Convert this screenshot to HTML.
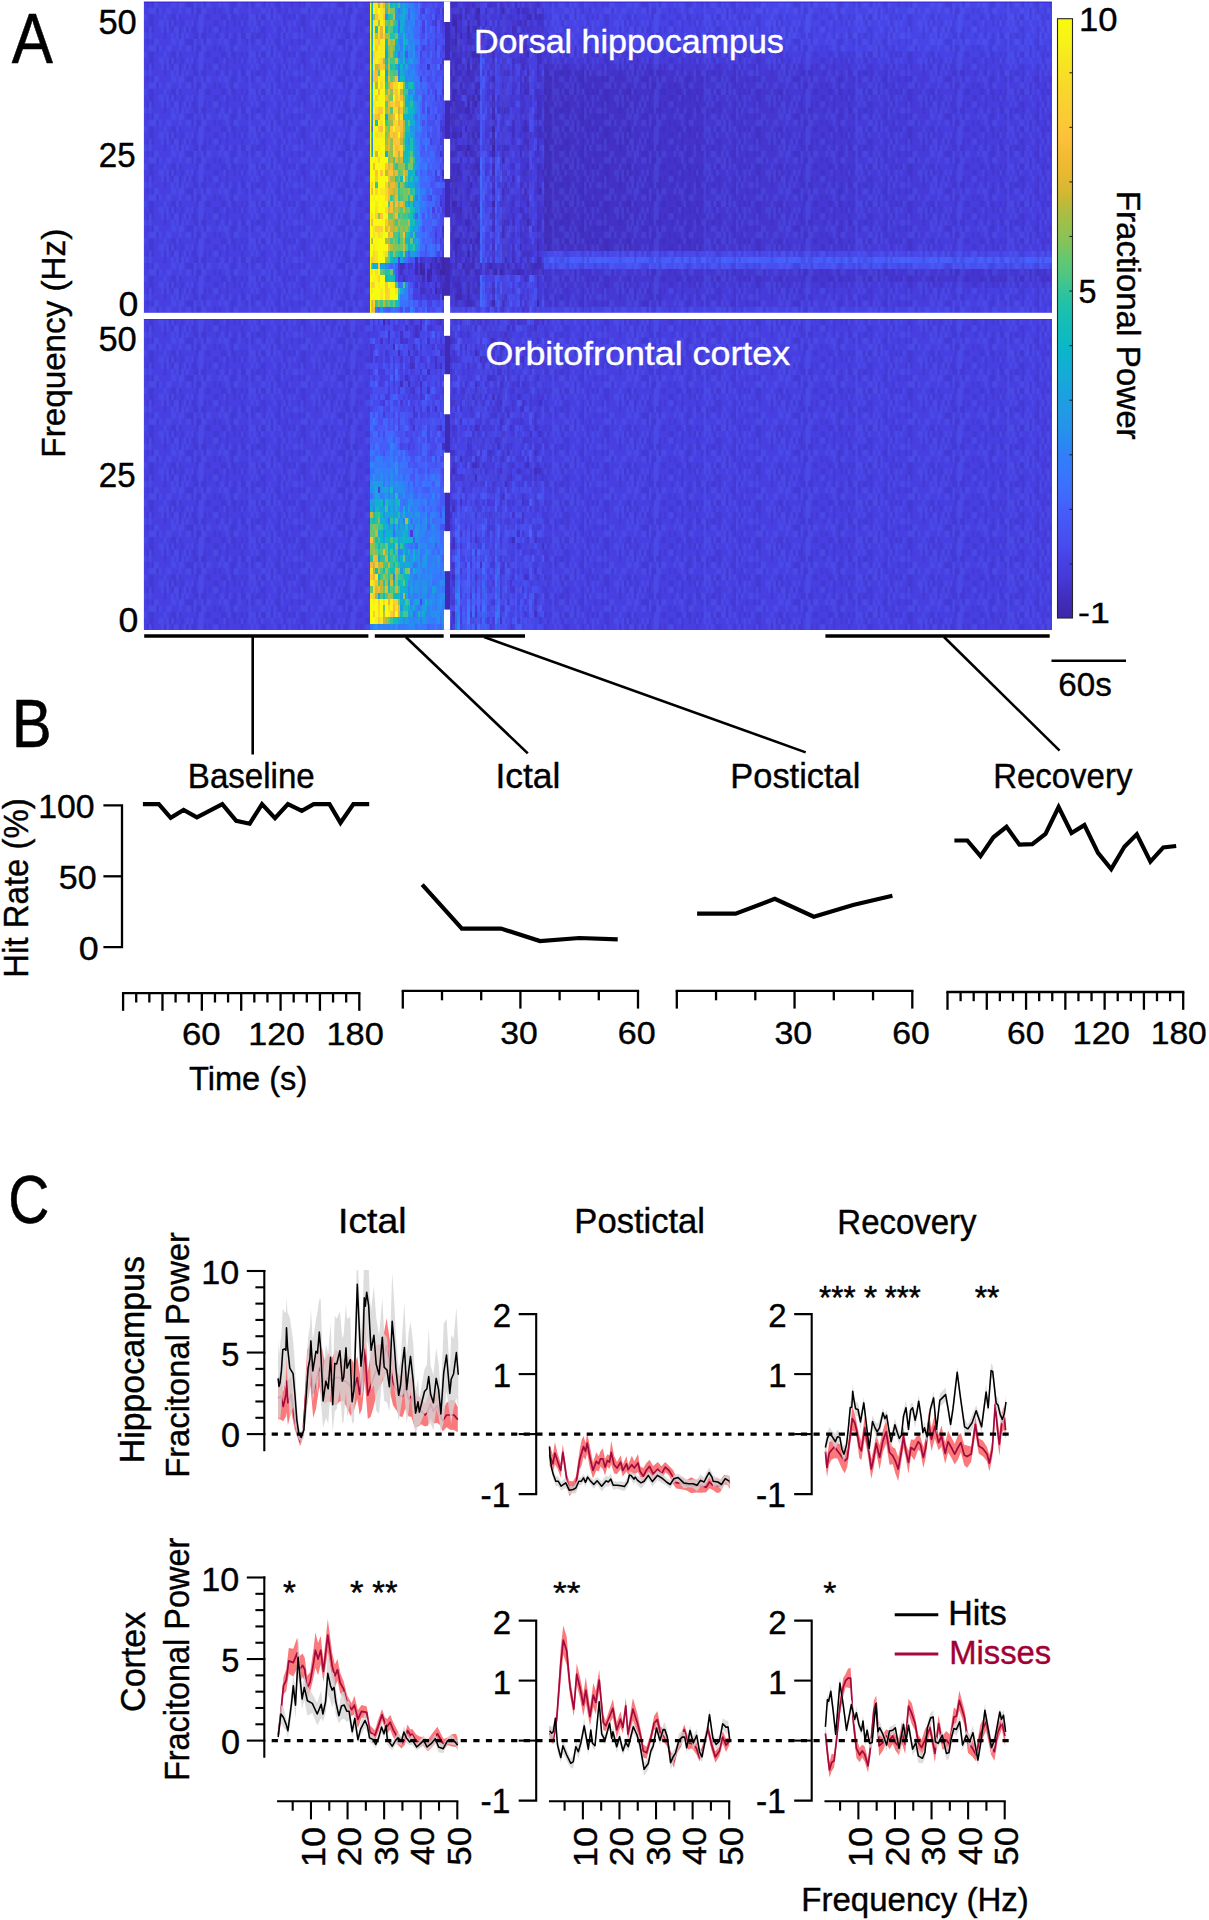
<!DOCTYPE html><html><head><meta charset="utf-8"><title>Figure</title><style>html,body{margin:0;padding:0;background:#fff;width:1209px;height:1920px;overflow:hidden}svg{display:block;font-family:"Liberation Sans",sans-serif}</style></head><body><svg width="1209" height="1920" viewBox="0 0 1209 1920" font-family="Liberation Sans, sans-serif" shape-rendering="auto"><rect x="143.9" y="1.5" width="907.9" height="628.4" fill="#473ee1"/>
<g shape-rendering="crispEdges">
<path fill="#3e26a8" d="M454.82 45.08h2.49v6.23h-2.49zM492.14 138.47h2.49v6.23h-2.49zM492.14 144.7h2.49v6.23h-2.49zM467.26 250.54h2.49v6.23h-2.49zM442.39 256.77h2.49v6.23h-2.49zM420 262.99h2.49v6.23h-2.49zM442.39 262.99h2.49v6.23h-2.49zM420 269.22h4.97v6.23h-4.97zM429.95 269.22h2.49v6.23h-2.49zM439.9 269.22h4.97v6.23h-4.97zM427.46 275.44h2.49v6.23h-2.49zM442.39 294.12h2.49v6.23h-2.49z"/>
<path fill="#3f28ae" d="M477.21 7.73h2.49v6.23h-2.49zM474.72 57.53h2.49v6.23h-2.49zM469.75 94.89h2.49v6.23h-2.49zM452.34 119.79h2.49v6.23h-2.49zM492.14 126.02h2.49v6.23h-2.49zM467.26 144.7h2.49v6.23h-2.49zM492.14 200.73h2.49v6.23h-2.49zM526.96 219.41h2.49v6.23h-2.49zM452.34 231.86h2.49v6.23h-2.49zM529.45 262.99h2.49v6.23h-2.49zM427.46 269.22h2.49v6.23h-2.49zM492.14 269.22h4.97v6.23h-4.97zM499.6 269.22h2.49v6.23h-2.49zM434.93 287.9h2.49v6.23h-2.49z"/>
<path fill="#402ab4" d="M444.88 1.5h4.97v6.23h-4.97zM444.88 7.73h4.97v6.23h-4.97zM444.88 13.95h4.97v6.23h-4.97zM459.8 13.95h2.49v6.23h-2.49zM444.88 20.18h4.97v6.23h-4.97zM452.34 20.18h4.97v6.23h-4.97zM444.88 26.4h4.97v6.23h-4.97zM454.82 26.4h2.49v6.23h-2.49zM467.26 26.4h2.49v6.23h-2.49zM444.88 32.63h4.97v6.23h-4.97zM459.8 32.63h2.49v6.23h-2.49zM474.72 32.63h2.49v6.23h-2.49zM444.88 38.86h4.97v6.23h-4.97zM444.88 45.08h4.97v6.23h-4.97zM452.34 45.08h2.49v6.23h-2.49zM444.88 51.31h4.97v6.23h-4.97zM472.24 51.31h2.49v6.23h-2.49zM444.88 57.53h4.97v6.23h-4.97zM444.88 63.76h4.97v6.23h-4.97zM467.26 63.76h2.49v6.23h-2.49zM444.88 69.99h7.46v6.23h-7.46zM444.88 76.21h4.97v6.23h-4.97zM444.88 82.44h4.97v6.23h-4.97zM444.88 88.66h4.97v6.23h-4.97zM444.88 94.89h4.97v6.23h-4.97zM492.14 94.89h2.49v6.23h-2.49zM444.88 101.12h4.97v6.23h-4.97zM467.26 101.12h2.49v6.23h-2.49zM474.72 101.12h2.49v6.23h-2.49zM444.88 107.34h4.97v6.23h-4.97zM464.77 107.34h2.49v6.23h-2.49zM444.88 113.57h4.97v6.23h-4.97zM457.31 113.57h2.49v6.23h-2.49zM444.88 119.79h4.97v6.23h-4.97zM536.91 119.79h2.49v6.23h-2.49zM444.88 126.02h4.97v6.23h-4.97zM464.77 126.02h2.49v6.23h-2.49zM444.88 132.25h4.97v6.23h-4.97zM459.8 132.25h2.49v6.23h-2.49zM492.14 132.25h2.49v6.23h-2.49zM444.88 138.47h4.97v6.23h-4.97zM444.88 144.7h4.97v6.23h-4.97zM502.09 144.7h2.49v6.23h-2.49zM444.88 150.92h4.97v6.23h-4.97zM464.77 150.92h2.49v6.23h-2.49zM474.72 150.92h2.49v6.23h-2.49zM444.88 157.15h4.97v6.23h-4.97zM444.88 163.38h4.97v6.23h-4.97zM444.88 169.6h4.97v6.23h-4.97zM469.75 169.6h2.49v6.23h-2.49zM444.88 175.83h4.97v6.23h-4.97zM452.34 175.83h2.49v6.23h-2.49zM444.88 182.05h4.97v6.23h-4.97zM469.75 182.05h2.49v6.23h-2.49zM444.88 188.28h4.97v6.23h-4.97zM539.4 188.28h2.49v6.23h-2.49zM444.88 194.51h4.97v6.23h-4.97zM444.88 200.73h4.97v6.23h-4.97zM452.34 200.73h2.49v6.23h-2.49zM444.88 206.96h4.97v6.23h-4.97zM459.8 206.96h2.49v6.23h-2.49zM444.88 213.18h4.97v6.23h-4.97zM492.14 213.18h2.49v6.23h-2.49zM444.88 219.41h4.97v6.23h-4.97zM464.77 219.41h2.49v6.23h-2.49zM444.88 225.64h4.97v6.23h-4.97zM444.88 231.86h4.97v6.23h-4.97zM477.21 231.86h2.49v6.23h-2.49zM444.88 238.09h4.97v6.23h-4.97zM457.31 238.09h2.49v6.23h-2.49zM469.75 238.09h2.49v6.23h-2.49zM444.88 244.31h4.97v6.23h-4.97zM444.88 250.54h4.97v6.23h-4.97zM434.93 256.77h2.49v6.23h-2.49zM444.88 256.77h4.97v6.23h-4.97zM415.03 262.99h2.49v6.23h-2.49zM429.95 262.99h2.49v6.23h-2.49zM437.41 262.99h2.49v6.23h-2.49zM444.88 262.99h4.97v6.23h-4.97zM462.29 262.99h2.49v6.23h-2.49zM489.65 262.99h2.49v6.23h-2.49zM541.88 262.99h2.49v6.23h-2.49zM415.03 269.22h2.49v6.23h-2.49zM444.88 269.22h4.97v6.23h-4.97zM474.72 269.22h2.49v6.23h-2.49zM536.91 269.22h2.49v6.23h-2.49zM444.88 275.44h4.97v6.23h-4.97zM444.88 281.67h4.97v6.23h-4.97zM442.39 287.9h7.46v6.23h-7.46zM477.21 287.9h2.49v6.23h-2.49zM492.14 287.9h2.49v6.23h-2.49zM444.88 294.12h4.97v6.23h-4.97zM454.82 294.12h7.46v6.23h-7.46zM444.88 300.35h4.97v6.23h-4.97zM536.91 300.35h2.49v6.23h-2.49zM444.88 306.57h4.97v6.23h-4.97z"/>
<path fill="#412dba" d="M464.77 7.73h2.49v6.23h-2.49zM529.45 13.95h2.49v6.23h-2.49zM474.72 26.4h4.97v6.23h-4.97zM454.82 32.63h2.49v6.23h-2.49zM467.26 32.63h2.49v6.23h-2.49zM519.5 32.63h2.49v6.23h-2.49zM454.82 38.86h2.49v6.23h-2.49zM469.75 45.08h2.49v6.23h-2.49zM477.21 51.31h2.49v6.23h-2.49zM457.31 57.53h2.49v6.23h-2.49zM467.26 57.53h2.49v6.23h-2.49zM454.82 63.76h2.49v6.23h-2.49zM467.26 69.99h2.49v6.23h-2.49zM526.96 69.99h2.49v6.23h-2.49zM452.34 76.21h2.49v6.23h-2.49zM524.47 76.21h2.49v6.23h-2.49zM459.8 82.44h2.49v6.23h-2.49zM477.21 82.44h2.49v6.23h-2.49zM474.72 88.66h2.49v6.23h-2.49zM452.34 94.89h2.49v6.23h-2.49zM467.26 94.89h2.49v6.23h-2.49zM472.24 94.89h2.49v6.23h-2.49zM477.21 94.89h2.49v6.23h-2.49zM492.14 101.12h2.49v6.23h-2.49zM519.5 101.12h2.49v6.23h-2.49zM536.91 101.12h2.49v6.23h-2.49zM452.34 107.34h2.49v6.23h-2.49zM467.26 107.34h2.49v6.23h-2.49zM492.14 107.34h2.49v6.23h-2.49zM502.09 107.34h2.49v6.23h-2.49zM469.75 113.57h2.49v6.23h-2.49zM536.91 113.57h2.49v6.23h-2.49zM452.34 132.25h2.49v6.23h-2.49zM469.75 132.25h4.97v6.23h-4.97zM457.31 144.7h4.97v6.23h-4.97zM469.75 150.92h2.49v6.23h-2.49zM519.5 150.92h2.49v6.23h-2.49zM457.31 163.38h2.49v6.23h-2.49zM457.31 169.6h2.49v6.23h-2.49zM492.14 169.6h2.49v6.23h-2.49zM504.57 169.6h2.49v6.23h-2.49zM452.34 182.05h2.49v6.23h-2.49zM474.72 182.05h2.49v6.23h-2.49zM524.47 188.28h2.49v6.23h-2.49zM452.34 194.51h2.49v6.23h-2.49zM457.31 206.96h2.49v6.23h-2.49zM474.72 219.41h2.49v6.23h-2.49zM502.09 219.41h2.49v6.23h-2.49zM524.47 219.41h2.49v6.23h-2.49zM474.72 225.64h4.97v6.23h-4.97zM454.82 244.31h2.49v6.23h-2.49zM536.91 244.31h2.49v6.23h-2.49zM439.9 256.77h2.49v6.23h-2.49zM472.24 256.77h2.49v6.23h-2.49zM422.49 262.99h2.49v6.23h-2.49zM472.24 262.99h2.49v6.23h-2.49zM484.67 262.99h2.49v6.23h-2.49zM539.4 262.99h2.49v6.23h-2.49zM454.82 269.22h2.49v6.23h-2.49zM464.77 269.22h4.97v6.23h-4.97zM517.01 269.22h4.97v6.23h-4.97zM529.45 269.22h4.97v6.23h-4.97zM422.49 275.44h2.49v6.23h-2.49zM429.95 275.44h2.49v6.23h-2.49zM434.93 281.67h2.49v6.23h-2.49zM442.39 281.67h2.49v6.23h-2.49zM457.31 281.67h2.49v6.23h-2.49zM467.26 281.67h2.49v6.23h-2.49zM457.31 287.9h4.97v6.23h-4.97zM467.26 300.35h4.97v6.23h-4.97zM492.14 300.35h2.49v6.23h-2.49z"/>
<path fill="#422fc0" d="M452.34 1.5h2.49v6.23h-2.49zM472.24 1.5h4.97v6.23h-4.97zM514.52 1.5h2.49v6.23h-2.49zM469.75 7.73h2.49v6.23h-2.49zM474.72 7.73h2.49v6.23h-2.49zM502.09 7.73h2.49v6.23h-2.49zM452.34 13.95h2.49v6.23h-2.49zM464.77 13.95h2.49v6.23h-2.49zM477.21 13.95h2.49v6.23h-2.49zM504.57 13.95h2.49v6.23h-2.49zM539.4 13.95h2.49v6.23h-2.49zM467.26 20.18h2.49v6.23h-2.49zM477.21 20.18h2.49v6.23h-2.49zM524.47 20.18h2.49v6.23h-2.49zM464.77 26.4h2.49v6.23h-2.49zM452.34 38.86h2.49v6.23h-2.49zM467.26 38.86h4.97v6.23h-4.97zM474.72 38.86h4.97v6.23h-4.97zM504.57 45.08h2.49v6.23h-2.49zM519.5 45.08h4.97v6.23h-4.97zM467.26 51.31h2.49v6.23h-2.49zM474.72 51.31h2.49v6.23h-2.49zM526.96 51.31h2.49v6.23h-2.49zM536.91 51.31h2.49v6.23h-2.49zM459.8 57.53h2.49v6.23h-2.49zM502.09 57.53h2.49v6.23h-2.49zM539.4 57.53h2.49v6.23h-2.49zM452.34 63.76h2.49v6.23h-2.49zM472.24 63.76h2.49v6.23h-2.49zM477.21 63.76h2.49v6.23h-2.49zM521.98 63.76h2.49v6.23h-2.49zM536.91 63.76h2.49v6.23h-2.49zM454.82 69.99h7.46v6.23h-7.46zM474.72 69.99h2.49v6.23h-2.49zM502.09 69.99h2.49v6.23h-2.49zM457.31 76.21h2.49v6.23h-2.49zM462.29 76.21h2.49v6.23h-2.49zM469.75 76.21h2.49v6.23h-2.49zM526.96 76.21h2.49v6.23h-2.49zM544.37 76.21h9.95v6.23h-9.95zM452.34 82.44h4.97v6.23h-4.97zM474.72 82.44h2.49v6.23h-2.49zM544.37 82.44h9.95v6.23h-9.95zM452.34 88.66h2.49v6.23h-2.49zM462.29 88.66h7.46v6.23h-7.46zM544.37 88.66h9.95v6.23h-9.95zM544.37 94.89h9.95v6.23h-9.95zM449.85 101.12h4.97v6.23h-4.97zM462.29 101.12h2.49v6.23h-2.49zM472.24 101.12h2.49v6.23h-2.49zM502.09 101.12h2.49v6.23h-2.49zM544.37 101.12h9.95v6.23h-9.95zM457.31 107.34h4.97v6.23h-4.97zM472.24 107.34h2.49v6.23h-2.49zM539.4 107.34h2.49v6.23h-2.49zM544.37 107.34h9.95v6.23h-9.95zM452.34 113.57h2.49v6.23h-2.49zM492.14 113.57h2.49v6.23h-2.49zM544.37 113.57h9.95v6.23h-9.95zM462.29 119.79h2.49v6.23h-2.49zM472.24 119.79h2.49v6.23h-2.49zM524.47 119.79h2.49v6.23h-2.49zM544.37 119.79h9.95v6.23h-9.95zM521.98 126.02h4.97v6.23h-4.97zM539.4 126.02h2.49v6.23h-2.49zM544.37 126.02h9.95v6.23h-9.95zM454.82 132.25h2.49v6.23h-2.49zM477.21 132.25h2.49v6.23h-2.49zM512.03 132.25h2.49v6.23h-2.49zM526.96 132.25h2.49v6.23h-2.49zM539.4 132.25h2.49v6.23h-2.49zM544.37 132.25h9.95v6.23h-9.95zM526.96 138.47h2.49v6.23h-2.49zM544.37 138.47h9.95v6.23h-9.95zM536.91 144.7h2.49v6.23h-2.49zM544.37 144.7h9.95v6.23h-9.95zM452.34 150.92h2.49v6.23h-2.49zM472.24 150.92h2.49v6.23h-2.49zM492.14 150.92h2.49v6.23h-2.49zM544.37 150.92h9.95v6.23h-9.95zM474.72 157.15h2.49v6.23h-2.49zM502.09 157.15h2.49v6.23h-2.49zM544.37 157.15h9.95v6.23h-9.95zM467.26 163.38h2.49v6.23h-2.49zM474.72 163.38h4.97v6.23h-4.97zM492.14 163.38h2.49v6.23h-2.49zM544.37 163.38h9.95v6.23h-9.95zM442.39 169.6h2.49v6.23h-2.49zM459.8 169.6h2.49v6.23h-2.49zM474.72 169.6h4.97v6.23h-4.97zM526.96 169.6h2.49v6.23h-2.49zM544.37 169.6h9.95v6.23h-9.95zM449.85 175.83h2.49v6.23h-2.49zM544.37 175.83h9.95v6.23h-9.95zM544.37 182.05h9.95v6.23h-9.95zM454.82 188.28h7.46v6.23h-7.46zM467.26 188.28h2.49v6.23h-2.49zM502.09 188.28h2.49v6.23h-2.49zM544.37 188.28h9.95v6.23h-9.95zM454.82 194.51h2.49v6.23h-2.49zM472.24 194.51h4.97v6.23h-4.97zM544.37 194.51h9.95v6.23h-9.95zM454.82 200.73h2.49v6.23h-2.49zM459.8 200.73h2.49v6.23h-2.49zM467.26 200.73h2.49v6.23h-2.49zM502.09 200.73h2.49v6.23h-2.49zM526.96 200.73h2.49v6.23h-2.49zM544.37 200.73h9.95v6.23h-9.95zM477.21 206.96h2.49v6.23h-2.49zM526.96 206.96h2.49v6.23h-2.49zM544.37 206.96h9.95v6.23h-9.95zM457.31 213.18h4.97v6.23h-4.97zM544.37 213.18h9.95v6.23h-9.95zM467.26 219.41h2.49v6.23h-2.49zM544.37 219.41h9.95v6.23h-9.95zM442.39 225.64h2.49v6.23h-2.49zM452.34 225.64h2.49v6.23h-2.49zM467.26 225.64h2.49v6.23h-2.49zM502.09 225.64h2.49v6.23h-2.49zM526.96 225.64h2.49v6.23h-2.49zM544.37 225.64h9.95v6.23h-9.95zM457.31 231.86h2.49v6.23h-2.49zM536.91 231.86h2.49v6.23h-2.49zM544.37 231.86h9.95v6.23h-9.95zM454.82 238.09h2.49v6.23h-2.49zM464.77 238.09h4.97v6.23h-4.97zM474.72 238.09h4.97v6.23h-4.97zM544.37 238.09h9.95v6.23h-9.95zM472.24 244.31h2.49v6.23h-2.49zM492.14 244.31h2.49v6.23h-2.49zM502.09 244.31h2.49v6.23h-2.49zM544.37 244.31h9.95v6.23h-9.95zM454.82 250.54h2.49v6.23h-2.49zM477.21 250.54h2.49v6.23h-2.49zM415.03 256.77h2.49v6.23h-2.49zM454.82 256.77h2.49v6.23h-2.49zM464.77 256.77h2.49v6.23h-2.49zM512.03 256.77h2.49v6.23h-2.49zM526.96 256.77h2.49v6.23h-2.49zM536.91 256.77h4.97v6.23h-4.97zM400.1 262.99h2.49v6.23h-2.49zM469.75 262.99h2.49v6.23h-2.49zM479.7 262.99h2.49v6.23h-2.49zM487.16 262.99h2.49v6.23h-2.49zM497.11 262.99h2.49v6.23h-2.49zM502.09 262.99h2.49v6.23h-2.49zM509.55 262.99h2.49v6.23h-2.49zM514.52 262.99h2.49v6.23h-2.49zM531.93 262.99h4.97v6.23h-4.97zM437.41 269.22h2.49v6.23h-2.49zM457.31 269.22h2.49v6.23h-2.49zM477.21 269.22h2.49v6.23h-2.49zM512.03 269.22h2.49v6.23h-2.49zM541.88 269.22h2.49v6.23h-2.49zM439.9 275.44h2.49v6.23h-2.49zM467.26 275.44h2.49v6.23h-2.49zM464.77 281.67h2.49v6.23h-2.49zM464.77 287.9h4.97v6.23h-4.97zM467.26 294.12h2.49v6.23h-2.49zM474.72 294.12h2.49v6.23h-2.49z"/>
<path fill="#4331c6" d="M457.31 1.5h2.49v6.23h-2.49zM477.21 1.5h2.49v6.23h-2.49zM499.6 1.5h2.49v6.23h-2.49zM526.96 1.5h2.49v6.23h-2.49zM452.34 7.73h2.49v6.23h-2.49zM457.31 7.73h2.49v6.23h-2.49zM467.26 7.73h2.49v6.23h-2.49zM484.67 7.73h2.49v6.23h-2.49zM517.01 7.73h2.49v6.23h-2.49zM524.47 7.73h2.49v6.23h-2.49zM454.82 13.95h4.97v6.23h-4.97zM474.72 13.95h2.49v6.23h-2.49zM526.96 13.95h2.49v6.23h-2.49zM459.8 20.18h2.49v6.23h-2.49zM472.24 26.4h2.49v6.23h-2.49zM512.03 26.4h4.97v6.23h-4.97zM452.34 32.63h2.49v6.23h-2.49zM469.75 32.63h2.49v6.23h-2.49zM459.8 38.86h2.49v6.23h-2.49zM472.24 38.86h2.49v6.23h-2.49zM457.31 45.08h2.49v6.23h-2.49zM477.21 45.08h2.49v6.23h-2.49zM487.16 45.08h2.49v6.23h-2.49zM524.47 45.08h2.49v6.23h-2.49zM452.34 51.31h2.49v6.23h-2.49zM459.8 51.31h2.49v6.23h-2.49zM464.77 51.31h2.49v6.23h-2.49zM492.14 51.31h2.49v6.23h-2.49zM539.4 51.31h2.49v6.23h-2.49zM464.77 57.53h2.49v6.23h-2.49zM492.14 57.53h2.49v6.23h-2.49zM512.03 57.53h2.49v6.23h-2.49zM462.29 63.76h2.49v6.23h-2.49zM474.72 63.76h2.49v6.23h-2.49zM492.14 63.76h2.49v6.23h-2.49zM519.5 63.76h2.49v6.23h-2.49zM452.34 69.99h2.49v6.23h-2.49zM469.75 69.99h4.97v6.23h-4.97zM477.21 69.99h2.49v6.23h-2.49zM544.37 69.99h39.8v6.23h-39.8zM472.24 76.21h2.49v6.23h-2.49zM492.14 76.21h2.49v6.23h-2.49zM541.88 76.21h2.49v6.23h-2.49zM554.32 76.21h77.11v6.23h-77.11zM449.85 82.44h2.49v6.23h-2.49zM469.75 82.44h2.49v6.23h-2.49zM492.14 82.44h2.49v6.23h-2.49zM504.57 82.44h2.49v6.23h-2.49zM519.5 82.44h2.49v6.23h-2.49zM526.96 82.44h2.49v6.23h-2.49zM554.32 82.44h77.11v6.23h-77.11zM454.82 88.66h2.49v6.23h-2.49zM502.09 88.66h2.49v6.23h-2.49zM519.5 88.66h2.49v6.23h-2.49zM524.47 88.66h2.49v6.23h-2.49zM554.32 88.66h77.11v6.23h-77.11zM457.31 94.89h2.49v6.23h-2.49zM474.72 94.89h2.49v6.23h-2.49zM526.96 94.89h2.49v6.23h-2.49zM539.4 94.89h2.49v6.23h-2.49zM554.32 94.89h77.11v6.23h-77.11zM457.31 101.12h4.97v6.23h-4.97zM477.21 101.12h2.49v6.23h-2.49zM539.4 101.12h2.49v6.23h-2.49zM554.32 101.12h77.11v6.23h-77.11zM521.98 107.34h4.97v6.23h-4.97zM554.32 107.34h77.11v6.23h-77.11zM467.26 113.57h2.49v6.23h-2.49zM474.72 113.57h2.49v6.23h-2.49zM539.4 113.57h2.49v6.23h-2.49zM554.32 113.57h77.11v6.23h-77.11zM454.82 119.79h4.97v6.23h-4.97zM469.75 119.79h2.49v6.23h-2.49zM512.03 119.79h2.49v6.23h-2.49zM554.32 119.79h77.11v6.23h-77.11zM554.32 126.02h77.11v6.23h-77.11zM457.31 132.25h2.49v6.23h-2.49zM467.26 132.25h2.49v6.23h-2.49zM474.72 132.25h2.49v6.23h-2.49zM554.32 132.25h77.11v6.23h-77.11zM452.34 138.47h2.49v6.23h-2.49zM464.77 138.47h2.49v6.23h-2.49zM474.72 138.47h2.49v6.23h-2.49zM524.47 138.47h2.49v6.23h-2.49zM554.32 138.47h77.11v6.23h-77.11zM454.82 144.7h2.49v6.23h-2.49zM462.29 144.7h4.97v6.23h-4.97zM469.75 144.7h2.49v6.23h-2.49zM474.72 144.7h4.97v6.23h-4.97zM524.47 144.7h4.97v6.23h-4.97zM554.32 144.7h77.11v6.23h-77.11zM449.85 150.92h2.49v6.23h-2.49zM459.8 150.92h2.49v6.23h-2.49zM526.96 150.92h2.49v6.23h-2.49zM554.32 150.92h77.11v6.23h-77.11zM454.82 157.15h2.49v6.23h-2.49zM459.8 157.15h2.49v6.23h-2.49zM477.21 157.15h2.49v6.23h-2.49zM539.4 157.15h2.49v6.23h-2.49zM554.32 157.15h77.11v6.23h-77.11zM449.85 163.38h4.97v6.23h-4.97zM464.77 163.38h2.49v6.23h-2.49zM472.24 163.38h2.49v6.23h-2.49zM526.96 163.38h2.49v6.23h-2.49zM539.4 163.38h2.49v6.23h-2.49zM554.32 163.38h77.11v6.23h-77.11zM449.85 169.6h2.49v6.23h-2.49zM502.09 169.6h2.49v6.23h-2.49zM524.47 169.6h2.49v6.23h-2.49zM541.88 169.6h2.49v6.23h-2.49zM554.32 169.6h77.11v6.23h-77.11zM454.82 175.83h2.49v6.23h-2.49zM459.8 175.83h2.49v6.23h-2.49zM464.77 175.83h4.97v6.23h-4.97zM474.72 175.83h2.49v6.23h-2.49zM492.14 175.83h2.49v6.23h-2.49zM519.5 175.83h2.49v6.23h-2.49zM536.91 175.83h2.49v6.23h-2.49zM554.32 175.83h77.11v6.23h-77.11zM526.96 182.05h2.49v6.23h-2.49zM554.32 182.05h77.11v6.23h-77.11zM492.14 188.28h2.49v6.23h-2.49zM504.57 188.28h2.49v6.23h-2.49zM554.32 188.28h77.11v6.23h-77.11zM467.26 194.51h2.49v6.23h-2.49zM504.57 194.51h2.49v6.23h-2.49zM554.32 194.51h77.11v6.23h-77.11zM469.75 200.73h7.46v6.23h-7.46zM554.32 200.73h77.11v6.23h-77.11zM452.34 206.96h2.49v6.23h-2.49zM462.29 206.96h2.49v6.23h-2.49zM469.75 206.96h7.46v6.23h-7.46zM492.14 206.96h2.49v6.23h-2.49zM521.98 206.96h2.49v6.23h-2.49zM554.32 206.96h77.11v6.23h-77.11zM504.57 213.18h2.49v6.23h-2.49zM554.32 213.18h77.11v6.23h-77.11zM452.34 219.41h2.49v6.23h-2.49zM457.31 219.41h4.97v6.23h-4.97zM512.03 219.41h2.49v6.23h-2.49zM539.4 219.41h2.49v6.23h-2.49zM554.32 219.41h77.11v6.23h-77.11zM472.24 225.64h2.49v6.23h-2.49zM504.57 225.64h2.49v6.23h-2.49zM536.91 225.64h2.49v6.23h-2.49zM554.32 225.64h77.11v6.23h-77.11zM449.85 231.86h2.49v6.23h-2.49zM454.82 231.86h2.49v6.23h-2.49zM472.24 231.86h2.49v6.23h-2.49zM502.09 231.86h2.49v6.23h-2.49zM519.5 231.86h2.49v6.23h-2.49zM539.4 231.86h2.49v6.23h-2.49zM554.32 231.86h77.11v6.23h-77.11zM449.85 238.09h2.49v6.23h-2.49zM554.32 238.09h77.11v6.23h-77.11zM464.77 244.31h4.97v6.23h-4.97zM474.72 244.31h2.49v6.23h-2.49zM504.57 244.31h2.49v6.23h-2.49zM519.5 244.31h2.49v6.23h-2.49zM526.96 244.31h2.49v6.23h-2.49zM554.32 244.31h77.11v6.23h-77.11zM459.8 250.54h2.49v6.23h-2.49zM469.75 250.54h4.97v6.23h-4.97zM502.09 250.54h2.49v6.23h-2.49zM526.96 250.54h2.49v6.23h-2.49zM536.91 250.54h2.49v6.23h-2.49zM420 256.77h2.49v6.23h-2.49zM402.59 262.99h2.49v6.23h-2.49zM434.93 262.99h2.49v6.23h-2.49zM439.9 262.99h2.49v6.23h-2.49zM449.85 262.99h2.49v6.23h-2.49zM467.26 262.99h2.49v6.23h-2.49zM507.06 262.99h2.49v6.23h-2.49zM526.96 262.99h2.49v6.23h-2.49zM536.91 262.99h2.49v6.23h-2.49zM400.1 269.22h2.49v6.23h-2.49zM434.93 269.22h2.49v6.23h-2.49zM449.85 269.22h2.49v6.23h-2.49zM472.24 269.22h2.49v6.23h-2.49zM502.09 269.22h2.49v6.23h-2.49zM507.06 269.22h2.49v6.23h-2.49zM521.98 269.22h2.49v6.23h-2.49zM539.4 269.22h2.49v6.23h-2.49zM402.59 275.44h2.49v6.23h-2.49zM457.31 275.44h2.49v6.23h-2.49zM454.82 281.67h2.49v6.23h-2.49zM459.8 281.67h2.49v6.23h-2.49zM469.75 281.67h2.49v6.23h-2.49zM474.72 281.67h4.97v6.23h-4.97zM420 287.9h4.97v6.23h-4.97zM452.34 287.9h2.49v6.23h-2.49zM469.75 287.9h2.49v6.23h-2.49zM452.34 294.12h2.49v6.23h-2.49zM457.31 300.35h2.49v6.23h-2.49zM464.77 300.35h2.49v6.23h-2.49zM472.24 300.35h2.49v6.23h-2.49zM502.09 300.35h2.49v6.23h-2.49z"/>
<path fill="#4433cb" d="M454.82 1.5h2.49v6.23h-2.49zM464.77 1.5h4.97v6.23h-4.97zM487.16 1.5h2.49v6.23h-2.49zM509.55 1.5h2.49v6.23h-2.49zM536.91 1.5h2.49v6.23h-2.49zM454.82 7.73h2.49v6.23h-2.49zM504.57 7.73h2.49v6.23h-2.49zM521.98 7.73h2.49v6.23h-2.49zM526.96 7.73h4.97v6.23h-4.97zM479.7 13.95h2.49v6.23h-2.49zM534.42 13.95h2.49v6.23h-2.49zM541.88 13.95h2.49v6.23h-2.49zM469.75 20.18h2.49v6.23h-2.49zM474.72 20.18h2.49v6.23h-2.49zM484.67 20.18h2.49v6.23h-2.49zM504.57 20.18h2.49v6.23h-2.49zM519.5 20.18h2.49v6.23h-2.49zM539.4 20.18h2.49v6.23h-2.49zM452.34 26.4h2.49v6.23h-2.49zM457.31 26.4h4.97v6.23h-4.97zM469.75 26.4h2.49v6.23h-2.49zM504.57 26.4h2.49v6.23h-2.49zM519.5 26.4h2.49v6.23h-2.49zM526.96 26.4h2.49v6.23h-2.49zM449.85 32.63h2.49v6.23h-2.49zM504.57 32.63h2.49v6.23h-2.49zM512.03 32.63h2.49v6.23h-2.49zM517.01 32.63h2.49v6.23h-2.49zM519.5 38.86h2.49v6.23h-2.49zM524.47 38.86h2.49v6.23h-2.49zM534.42 38.86h2.49v6.23h-2.49zM449.85 45.08h2.49v6.23h-2.49zM469.75 51.31h2.49v6.23h-2.49zM519.5 51.31h2.49v6.23h-2.49zM449.85 57.53h2.49v6.23h-2.49zM454.82 57.53h2.49v6.23h-2.49zM477.21 57.53h2.49v6.23h-2.49zM504.57 57.53h2.49v6.23h-2.49zM521.98 57.53h7.46v6.23h-7.46zM536.91 57.53h2.49v6.23h-2.49zM427.46 63.76h2.49v6.23h-2.49zM464.77 63.76h2.49v6.23h-2.49zM502.09 63.76h2.49v6.23h-2.49zM544.37 63.76h22.39v6.23h-22.39zM464.77 69.99h2.49v6.23h-2.49zM487.16 69.99h2.49v6.23h-2.49zM536.91 69.99h2.49v6.23h-2.49zM584.17 69.99h82.08v6.23h-82.08zM459.8 76.21h2.49v6.23h-2.49zM464.77 76.21h4.97v6.23h-4.97zM504.57 76.21h2.49v6.23h-2.49zM512.03 76.21h2.49v6.23h-2.49zM519.5 76.21h2.49v6.23h-2.49zM539.4 76.21h2.49v6.23h-2.49zM631.43 76.21h74.62v6.23h-74.62zM462.29 82.44h7.46v6.23h-7.46zM524.47 82.44h2.49v6.23h-2.49zM539.4 82.44h2.49v6.23h-2.49zM631.43 82.44h74.62v6.23h-74.62zM459.8 88.66h2.49v6.23h-2.49zM492.14 88.66h2.49v6.23h-2.49zM526.96 88.66h2.49v6.23h-2.49zM631.43 88.66h74.62v6.23h-74.62zM504.57 94.89h2.49v6.23h-2.49zM521.98 94.89h2.49v6.23h-2.49zM536.91 94.89h2.49v6.23h-2.49zM631.43 94.89h74.62v6.23h-74.62zM454.82 101.12h2.49v6.23h-2.49zM504.57 101.12h2.49v6.23h-2.49zM631.43 101.12h74.62v6.23h-74.62zM454.82 107.34h2.49v6.23h-2.49zM462.29 107.34h2.49v6.23h-2.49zM474.72 107.34h2.49v6.23h-2.49zM536.91 107.34h2.49v6.23h-2.49zM631.43 107.34h74.62v6.23h-74.62zM449.85 113.57h2.49v6.23h-2.49zM631.43 113.57h74.62v6.23h-74.62zM449.85 119.79h2.49v6.23h-2.49zM474.72 119.79h4.97v6.23h-4.97zM492.14 119.79h2.49v6.23h-2.49zM631.43 119.79h74.62v6.23h-74.62zM452.34 126.02h2.49v6.23h-2.49zM457.31 126.02h4.97v6.23h-4.97zM467.26 126.02h2.49v6.23h-2.49zM472.24 126.02h7.46v6.23h-7.46zM512.03 126.02h2.49v6.23h-2.49zM526.96 126.02h2.49v6.23h-2.49zM536.91 126.02h2.49v6.23h-2.49zM631.43 126.02h74.62v6.23h-74.62zM449.85 132.25h2.49v6.23h-2.49zM464.77 132.25h2.49v6.23h-2.49zM502.09 132.25h4.97v6.23h-4.97zM524.47 132.25h2.49v6.23h-2.49zM631.43 132.25h74.62v6.23h-74.62zM469.75 138.47h4.97v6.23h-4.97zM477.21 138.47h2.49v6.23h-2.49zM502.09 138.47h2.49v6.23h-2.49zM536.91 138.47h2.49v6.23h-2.49zM631.43 138.47h74.62v6.23h-74.62zM452.34 144.7h2.49v6.23h-2.49zM472.24 144.7h2.49v6.23h-2.49zM521.98 144.7h2.49v6.23h-2.49zM631.43 144.7h74.62v6.23h-74.62zM439.9 150.92h2.49v6.23h-2.49zM502.09 150.92h4.97v6.23h-4.97zM631.43 150.92h74.62v6.23h-74.62zM452.34 157.15h2.49v6.23h-2.49zM467.26 157.15h2.49v6.23h-2.49zM472.24 157.15h2.49v6.23h-2.49zM492.14 157.15h2.49v6.23h-2.49zM526.96 157.15h2.49v6.23h-2.49zM631.43 157.15h74.62v6.23h-74.62zM469.75 163.38h2.49v6.23h-2.49zM536.91 163.38h2.49v6.23h-2.49zM631.43 163.38h74.62v6.23h-74.62zM452.34 169.6h2.49v6.23h-2.49zM462.29 169.6h4.97v6.23h-4.97zM472.24 169.6h2.49v6.23h-2.49zM521.98 169.6h2.49v6.23h-2.49zM539.4 169.6h2.49v6.23h-2.49zM631.43 169.6h74.62v6.23h-74.62zM457.31 175.83h2.49v6.23h-2.49zM477.21 175.83h2.49v6.23h-2.49zM502.09 175.83h2.49v6.23h-2.49zM512.03 175.83h2.49v6.23h-2.49zM631.43 175.83h74.62v6.23h-74.62zM454.82 182.05h2.49v6.23h-2.49zM492.14 182.05h2.49v6.23h-2.49zM502.09 182.05h2.49v6.23h-2.49zM519.5 182.05h2.49v6.23h-2.49zM536.91 182.05h2.49v6.23h-2.49zM631.43 182.05h74.62v6.23h-74.62zM464.77 188.28h2.49v6.23h-2.49zM477.21 188.28h2.49v6.23h-2.49zM526.96 188.28h2.49v6.23h-2.49zM536.91 188.28h2.49v6.23h-2.49zM631.43 188.28h74.62v6.23h-74.62zM457.31 194.51h2.49v6.23h-2.49zM462.29 194.51h2.49v6.23h-2.49zM477.21 194.51h2.49v6.23h-2.49zM492.14 194.51h2.49v6.23h-2.49zM526.96 194.51h2.49v6.23h-2.49zM536.91 194.51h4.97v6.23h-4.97zM631.43 194.51h74.62v6.23h-74.62zM504.57 200.73h2.49v6.23h-2.49zM631.43 200.73h74.62v6.23h-74.62zM454.82 206.96h2.49v6.23h-2.49zM464.77 206.96h2.49v6.23h-2.49zM504.57 206.96h2.49v6.23h-2.49zM509.55 206.96h2.49v6.23h-2.49zM519.5 206.96h2.49v6.23h-2.49zM631.43 206.96h74.62v6.23h-74.62zM452.34 213.18h2.49v6.23h-2.49zM467.26 213.18h9.95v6.23h-9.95zM502.09 213.18h2.49v6.23h-2.49zM524.47 213.18h4.97v6.23h-4.97zM536.91 213.18h4.97v6.23h-4.97zM631.43 213.18h74.62v6.23h-74.62zM449.85 219.41h2.49v6.23h-2.49zM454.82 219.41h2.49v6.23h-2.49zM469.75 219.41h2.49v6.23h-2.49zM477.21 219.41h2.49v6.23h-2.49zM492.14 219.41h2.49v6.23h-2.49zM536.91 219.41h2.49v6.23h-2.49zM631.43 219.41h74.62v6.23h-74.62zM457.31 225.64h2.49v6.23h-2.49zM492.14 225.64h2.49v6.23h-2.49zM512.03 225.64h2.49v6.23h-2.49zM519.5 225.64h2.49v6.23h-2.49zM524.47 225.64h2.49v6.23h-2.49zM531.93 225.64h2.49v6.23h-2.49zM539.4 225.64h2.49v6.23h-2.49zM631.43 225.64h74.62v6.23h-74.62zM459.8 231.86h2.49v6.23h-2.49zM467.26 231.86h2.49v6.23h-2.49zM504.57 231.86h2.49v6.23h-2.49zM512.03 231.86h2.49v6.23h-2.49zM631.43 231.86h74.62v6.23h-74.62zM462.29 238.09h2.49v6.23h-2.49zM536.91 238.09h4.97v6.23h-4.97zM631.43 238.09h74.62v6.23h-74.62zM457.31 244.31h4.97v6.23h-4.97zM477.21 244.31h2.49v6.23h-2.49zM512.03 244.31h2.49v6.23h-2.49zM631.43 244.31h74.62v6.23h-74.62zM449.85 250.54h2.49v6.23h-2.49zM457.31 250.54h2.49v6.23h-2.49zM462.29 250.54h4.97v6.23h-4.97zM492.14 250.54h2.49v6.23h-2.49zM524.47 250.54h2.49v6.23h-2.49zM432.44 256.77h2.49v6.23h-2.49zM452.34 256.77h2.49v6.23h-2.49zM457.31 256.77h4.97v6.23h-4.97zM474.72 256.77h4.97v6.23h-4.97zM504.57 256.77h2.49v6.23h-2.49zM432.44 262.99h2.49v6.23h-2.49zM454.82 262.99h2.49v6.23h-2.49zM464.77 262.99h2.49v6.23h-2.49zM499.6 262.99h2.49v6.23h-2.49zM504.57 262.99h2.49v6.23h-2.49zM519.5 262.99h2.49v6.23h-2.49zM524.47 262.99h2.49v6.23h-2.49zM462.29 269.22h2.49v6.23h-2.49zM469.75 269.22h2.49v6.23h-2.49zM479.7 269.22h2.49v6.23h-2.49zM484.67 269.22h4.97v6.23h-4.97zM504.57 269.22h2.49v6.23h-2.49zM514.52 269.22h2.49v6.23h-2.49zM526.96 269.22h2.49v6.23h-2.49zM437.41 275.44h2.49v6.23h-2.49zM442.39 275.44h2.49v6.23h-2.49zM449.85 275.44h2.49v6.23h-2.49zM464.77 275.44h2.49v6.23h-2.49zM477.21 275.44h2.49v6.23h-2.49zM415.03 281.67h2.49v6.23h-2.49zM439.9 281.67h2.49v6.23h-2.49zM492.14 281.67h2.49v6.23h-2.49zM429.95 287.9h2.49v6.23h-2.49zM437.41 287.9h4.97v6.23h-4.97zM472.24 287.9h4.97v6.23h-4.97zM462.29 294.12h2.49v6.23h-2.49zM477.21 294.12h2.49v6.23h-2.49zM459.8 300.35h2.49v6.23h-2.49zM474.72 300.35h2.49v6.23h-2.49z"/>
<path fill="#4536d1" d="M449.85 1.5h2.49v6.23h-2.49zM469.75 1.5h2.49v6.23h-2.49zM502.09 1.5h2.49v6.23h-2.49zM524.47 1.5h2.49v6.23h-2.49zM459.8 7.73h2.49v6.23h-2.49zM472.24 7.73h2.49v6.23h-2.49zM534.42 7.73h2.49v6.23h-2.49zM539.4 7.73h4.97v6.23h-4.97zM467.26 13.95h2.49v6.23h-2.49zM502.09 13.95h2.49v6.23h-2.49zM507.06 13.95h2.49v6.23h-2.49zM517.01 13.95h2.49v6.23h-2.49zM531.93 13.95h2.49v6.23h-2.49zM449.85 20.18h2.49v6.23h-2.49zM457.31 20.18h2.49v6.23h-2.49zM462.29 20.18h2.49v6.23h-2.49zM492.14 20.18h2.49v6.23h-2.49zM502.09 20.18h2.49v6.23h-2.49zM512.03 20.18h2.49v6.23h-2.49zM517.01 20.18h2.49v6.23h-2.49zM489.65 26.4h2.49v6.23h-2.49zM521.98 26.4h2.49v6.23h-2.49zM531.93 26.4h2.49v6.23h-2.49zM536.91 26.4h2.49v6.23h-2.49zM541.88 26.4h2.49v6.23h-2.49zM462.29 32.63h4.97v6.23h-4.97zM477.21 32.63h2.49v6.23h-2.49zM492.14 32.63h2.49v6.23h-2.49zM502.09 32.63h2.49v6.23h-2.49zM514.52 32.63h2.49v6.23h-2.49zM524.47 32.63h2.49v6.23h-2.49zM534.42 32.63h4.97v6.23h-4.97zM541.88 32.63h2.49v6.23h-2.49zM449.85 38.86h2.49v6.23h-2.49zM457.31 38.86h2.49v6.23h-2.49zM464.77 38.86h2.49v6.23h-2.49zM482.19 38.86h2.49v6.23h-2.49zM487.16 38.86h2.49v6.23h-2.49zM502.09 38.86h2.49v6.23h-2.49zM514.52 38.86h2.49v6.23h-2.49zM521.98 38.86h2.49v6.23h-2.49zM539.4 38.86h2.49v6.23h-2.49zM459.8 45.08h2.49v6.23h-2.49zM464.77 45.08h2.49v6.23h-2.49zM472.24 45.08h2.49v6.23h-2.49zM502.09 45.08h2.49v6.23h-2.49zM454.82 51.31h4.97v6.23h-4.97zM504.57 51.31h2.49v6.23h-2.49zM452.34 57.53h2.49v6.23h-2.49zM469.75 57.53h2.49v6.23h-2.49zM459.8 63.76h2.49v6.23h-2.49zM499.6 63.76h2.49v6.23h-2.49zM526.96 63.76h2.49v6.23h-2.49zM566.76 63.76h94.52v6.23h-94.52zM512.03 69.99h2.49v6.23h-2.49zM539.4 69.99h2.49v6.23h-2.49zM666.25 69.99h79.6v6.23h-79.6zM477.21 76.21h2.49v6.23h-2.49zM706.05 76.21h74.62v6.23h-74.62zM457.31 82.44h2.49v6.23h-2.49zM472.24 82.44h2.49v6.23h-2.49zM512.03 82.44h4.97v6.23h-4.97zM706.05 82.44h74.62v6.23h-74.62zM487.16 88.66h2.49v6.23h-2.49zM539.4 88.66h2.49v6.23h-2.49zM706.05 88.66h74.62v6.23h-74.62zM449.85 94.89h2.49v6.23h-2.49zM459.8 94.89h2.49v6.23h-2.49zM464.77 94.89h2.49v6.23h-2.49zM502.09 94.89h2.49v6.23h-2.49zM509.55 94.89h2.49v6.23h-2.49zM534.42 94.89h2.49v6.23h-2.49zM706.05 94.89h74.62v6.23h-74.62zM469.75 101.12h2.49v6.23h-2.49zM509.55 101.12h2.49v6.23h-2.49zM706.05 101.12h74.62v6.23h-74.62zM477.21 107.34h2.49v6.23h-2.49zM541.88 107.34h2.49v6.23h-2.49zM706.05 107.34h74.62v6.23h-74.62zM454.82 113.57h2.49v6.23h-2.49zM459.8 113.57h2.49v6.23h-2.49zM464.77 113.57h2.49v6.23h-2.49zM472.24 113.57h2.49v6.23h-2.49zM502.09 113.57h4.97v6.23h-4.97zM519.5 113.57h2.49v6.23h-2.49zM526.96 113.57h2.49v6.23h-2.49zM706.05 113.57h74.62v6.23h-74.62zM459.8 119.79h2.49v6.23h-2.49zM467.26 119.79h2.49v6.23h-2.49zM526.96 119.79h2.49v6.23h-2.49zM539.4 119.79h2.49v6.23h-2.49zM706.05 119.79h74.62v6.23h-74.62zM442.39 126.02h2.49v6.23h-2.49zM454.82 126.02h2.49v6.23h-2.49zM469.75 126.02h2.49v6.23h-2.49zM502.09 126.02h4.97v6.23h-4.97zM706.05 126.02h74.62v6.23h-74.62zM462.29 132.25h2.49v6.23h-2.49zM534.42 132.25h4.97v6.23h-4.97zM706.05 132.25h74.62v6.23h-74.62zM454.82 138.47h2.49v6.23h-2.49zM467.26 138.47h2.49v6.23h-2.49zM489.65 138.47h2.49v6.23h-2.49zM539.4 138.47h2.49v6.23h-2.49zM706.05 138.47h74.62v6.23h-74.62zM519.5 144.7h2.49v6.23h-2.49zM706.05 144.7h74.62v6.23h-74.62zM457.31 150.92h2.49v6.23h-2.49zM462.29 150.92h2.49v6.23h-2.49zM467.26 150.92h2.49v6.23h-2.49zM477.21 150.92h2.49v6.23h-2.49zM539.4 150.92h2.49v6.23h-2.49zM706.05 150.92h74.62v6.23h-74.62zM449.85 157.15h2.49v6.23h-2.49zM519.5 157.15h2.49v6.23h-2.49zM706.05 157.15h74.62v6.23h-74.62zM454.82 163.38h2.49v6.23h-2.49zM459.8 163.38h2.49v6.23h-2.49zM502.09 163.38h2.49v6.23h-2.49zM512.03 163.38h2.49v6.23h-2.49zM521.98 163.38h2.49v6.23h-2.49zM706.05 163.38h74.62v6.23h-74.62zM536.91 169.6h2.49v6.23h-2.49zM706.05 169.6h74.62v6.23h-74.62zM469.75 175.83h4.97v6.23h-4.97zM524.47 175.83h2.49v6.23h-2.49zM539.4 175.83h4.97v6.23h-4.97zM706.05 175.83h74.62v6.23h-74.62zM457.31 182.05h4.97v6.23h-4.97zM464.77 182.05h4.97v6.23h-4.97zM472.24 182.05h2.49v6.23h-2.49zM477.21 182.05h2.49v6.23h-2.49zM504.57 182.05h2.49v6.23h-2.49zM509.55 182.05h2.49v6.23h-2.49zM521.98 182.05h2.49v6.23h-2.49zM539.4 182.05h2.49v6.23h-2.49zM706.05 182.05h74.62v6.23h-74.62zM449.85 188.28h4.97v6.23h-4.97zM474.72 188.28h2.49v6.23h-2.49zM519.5 188.28h2.49v6.23h-2.49zM706.05 188.28h74.62v6.23h-74.62zM459.8 194.51h2.49v6.23h-2.49zM464.77 194.51h2.49v6.23h-2.49zM469.75 194.51h2.49v6.23h-2.49zM512.03 194.51h2.49v6.23h-2.49zM521.98 194.51h4.97v6.23h-4.97zM706.05 194.51h74.62v6.23h-74.62zM439.9 200.73h2.49v6.23h-2.49zM464.77 200.73h2.49v6.23h-2.49zM477.21 200.73h2.49v6.23h-2.49zM512.03 200.73h2.49v6.23h-2.49zM519.5 200.73h2.49v6.23h-2.49zM539.4 200.73h2.49v6.23h-2.49zM706.05 200.73h74.62v6.23h-74.62zM449.85 206.96h2.49v6.23h-2.49zM467.26 206.96h2.49v6.23h-2.49zM536.91 206.96h4.97v6.23h-4.97zM706.05 206.96h74.62v6.23h-74.62zM454.82 213.18h2.49v6.23h-2.49zM462.29 213.18h4.97v6.23h-4.97zM477.21 213.18h2.49v6.23h-2.49zM512.03 213.18h2.49v6.23h-2.49zM521.98 213.18h2.49v6.23h-2.49zM706.05 213.18h74.62v6.23h-74.62zM462.29 219.41h2.49v6.23h-2.49zM706.05 219.41h74.62v6.23h-74.62zM459.8 225.64h4.97v6.23h-4.97zM706.05 225.64h74.62v6.23h-74.62zM442.39 231.86h2.49v6.23h-2.49zM462.29 231.86h4.97v6.23h-4.97zM469.75 231.86h2.49v6.23h-2.49zM474.72 231.86h2.49v6.23h-2.49zM541.88 231.86h2.49v6.23h-2.49zM706.05 231.86h74.62v6.23h-74.62zM452.34 238.09h2.49v6.23h-2.49zM459.8 238.09h2.49v6.23h-2.49zM472.24 238.09h2.49v6.23h-2.49zM492.14 238.09h2.49v6.23h-2.49zM504.57 238.09h2.49v6.23h-2.49zM521.98 238.09h4.97v6.23h-4.97zM706.05 238.09h74.62v6.23h-74.62zM452.34 244.31h2.49v6.23h-2.49zM524.47 244.31h2.49v6.23h-2.49zM539.4 244.31h2.49v6.23h-2.49zM706.05 244.31h74.62v6.23h-74.62zM452.34 250.54h2.49v6.23h-2.49zM474.72 250.54h2.49v6.23h-2.49zM512.03 250.54h2.49v6.23h-2.49zM519.5 250.54h4.97v6.23h-4.97zM467.26 256.77h2.49v6.23h-2.49zM492.14 256.77h2.49v6.23h-2.49zM519.5 256.77h2.49v6.23h-2.49zM407.56 262.99h2.49v6.23h-2.49zM452.34 262.99h2.49v6.23h-2.49zM457.31 262.99h2.49v6.23h-2.49zM477.21 262.99h2.49v6.23h-2.49zM512.03 262.99h2.49v6.23h-2.49zM517.01 262.99h2.49v6.23h-2.49zM452.34 269.22h2.49v6.23h-2.49zM459.8 269.22h2.49v6.23h-2.49zM509.55 269.22h2.49v6.23h-2.49zM534.42 269.22h2.49v6.23h-2.49zM544.37 269.22h507.43v6.23h-507.43zM452.34 275.44h2.49v6.23h-2.49zM459.8 275.44h4.97v6.23h-4.97zM469.75 275.44h7.46v6.23h-7.46zM524.47 275.44h2.49v6.23h-2.49zM536.91 275.44h2.49v6.23h-2.49zM544.37 275.44h507.43v6.23h-507.43zM420 281.67h4.97v6.23h-4.97zM452.34 281.67h2.49v6.23h-2.49zM462.29 281.67h2.49v6.23h-2.49zM472.24 281.67h2.49v6.23h-2.49zM544.37 281.67h84.57v6.23h-84.57zM427.46 294.12h2.49v6.23h-2.49zM437.41 294.12h2.49v6.23h-2.49zM464.77 294.12h2.49v6.23h-2.49zM469.75 294.12h2.49v6.23h-2.49zM502.09 294.12h2.49v6.23h-2.49zM454.82 300.35h2.49v6.23h-2.49zM462.29 300.35h2.49v6.23h-2.49zM504.57 300.35h2.49v6.23h-2.49zM519.5 300.35h2.49v6.23h-2.49zM524.47 300.35h2.49v6.23h-2.49zM539.4 306.57h2.49v6.23h-2.49z"/>
<path fill="#4538d5" d="M459.8 1.5h4.97v6.23h-4.97zM489.65 1.5h2.49v6.23h-2.49zM504.57 1.5h4.97v6.23h-4.97zM519.5 1.5h2.49v6.23h-2.49zM529.45 1.5h4.97v6.23h-4.97zM539.4 1.5h2.49v6.23h-2.49zM442.39 7.73h2.49v6.23h-2.49zM462.29 7.73h2.49v6.23h-2.49zM492.14 7.73h2.49v6.23h-2.49zM499.6 7.73h2.49v6.23h-2.49zM509.55 7.73h2.49v6.23h-2.49zM514.52 7.73h2.49v6.23h-2.49zM434.93 13.95h2.49v6.23h-2.49zM469.75 13.95h4.97v6.23h-4.97zM484.67 13.95h2.49v6.23h-2.49zM489.65 13.95h4.97v6.23h-4.97zM499.6 13.95h2.49v6.23h-2.49zM509.55 13.95h2.49v6.23h-2.49zM521.98 13.95h2.49v6.23h-2.49zM536.91 13.95h2.49v6.23h-2.49zM434.93 20.18h2.49v6.23h-2.49zM442.39 20.18h2.49v6.23h-2.49zM514.52 20.18h2.49v6.23h-2.49zM526.96 20.18h2.49v6.23h-2.49zM531.93 20.18h2.49v6.23h-2.49zM536.91 20.18h2.49v6.23h-2.49zM482.19 26.4h2.49v6.23h-2.49zM499.6 26.4h4.97v6.23h-4.97zM524.47 26.4h2.49v6.23h-2.49zM534.42 26.4h2.49v6.23h-2.49zM539.4 26.4h2.49v6.23h-2.49zM472.24 32.63h2.49v6.23h-2.49zM507.06 32.63h2.49v6.23h-2.49zM539.4 32.63h2.49v6.23h-2.49zM462.29 38.86h2.49v6.23h-2.49zM484.67 38.86h2.49v6.23h-2.49zM492.14 38.86h2.49v6.23h-2.49zM504.57 38.86h2.49v6.23h-2.49zM509.55 38.86h4.97v6.23h-4.97zM536.91 38.86h2.49v6.23h-2.49zM462.29 45.08h2.49v6.23h-2.49zM474.72 45.08h2.49v6.23h-2.49zM484.67 45.08h2.49v6.23h-2.49zM514.52 45.08h2.49v6.23h-2.49zM534.42 45.08h4.97v6.23h-4.97zM462.29 51.31h2.49v6.23h-2.49zM502.09 51.31h2.49v6.23h-2.49zM521.98 51.31h4.97v6.23h-4.97zM531.93 51.31h2.49v6.23h-2.49zM541.88 51.31h2.49v6.23h-2.49zM442.39 57.53h2.49v6.23h-2.49zM472.24 57.53h2.49v6.23h-2.49zM489.65 57.53h2.49v6.23h-2.49zM519.5 57.53h2.49v6.23h-2.49zM544.37 57.53h109.45v6.23h-109.45zM439.9 63.76h2.49v6.23h-2.49zM449.85 63.76h2.49v6.23h-2.49zM457.31 63.76h2.49v6.23h-2.49zM512.03 63.76h2.49v6.23h-2.49zM524.47 63.76h2.49v6.23h-2.49zM661.28 63.76h94.52v6.23h-94.52zM462.29 69.99h2.49v6.23h-2.49zM492.14 69.99h2.49v6.23h-2.49zM507.06 69.99h2.49v6.23h-2.49zM519.5 69.99h4.97v6.23h-4.97zM745.85 69.99h82.08v6.23h-82.08zM449.85 76.21h2.49v6.23h-2.49zM454.82 76.21h2.49v6.23h-2.49zM474.72 76.21h2.49v6.23h-2.49zM536.91 76.21h2.49v6.23h-2.49zM780.67 76.21h74.62v6.23h-74.62zM487.16 82.44h2.49v6.23h-2.49zM536.91 82.44h2.49v6.23h-2.49zM780.67 82.44h74.62v6.23h-74.62zM442.39 88.66h2.49v6.23h-2.49zM449.85 88.66h2.49v6.23h-2.49zM457.31 88.66h2.49v6.23h-2.49zM469.75 88.66h4.97v6.23h-4.97zM477.21 88.66h2.49v6.23h-2.49zM489.65 88.66h2.49v6.23h-2.49zM512.03 88.66h2.49v6.23h-2.49zM521.98 88.66h2.49v6.23h-2.49zM534.42 88.66h4.97v6.23h-4.97zM541.88 88.66h2.49v6.23h-2.49zM780.67 88.66h74.62v6.23h-74.62zM454.82 94.89h2.49v6.23h-2.49zM487.16 94.89h2.49v6.23h-2.49zM512.03 94.89h2.49v6.23h-2.49zM541.88 94.89h2.49v6.23h-2.49zM780.67 94.89h74.62v6.23h-74.62zM487.16 101.12h2.49v6.23h-2.49zM524.47 101.12h2.49v6.23h-2.49zM541.88 101.12h2.49v6.23h-2.49zM780.67 101.12h74.62v6.23h-74.62zM469.75 107.34h2.49v6.23h-2.49zM487.16 107.34h2.49v6.23h-2.49zM497.11 107.34h2.49v6.23h-2.49zM504.57 107.34h2.49v6.23h-2.49zM519.5 107.34h2.49v6.23h-2.49zM526.96 107.34h2.49v6.23h-2.49zM780.67 107.34h74.62v6.23h-74.62zM462.29 113.57h2.49v6.23h-2.49zM512.03 113.57h4.97v6.23h-4.97zM521.98 113.57h4.97v6.23h-4.97zM534.42 113.57h2.49v6.23h-2.49zM541.88 113.57h2.49v6.23h-2.49zM780.67 113.57h74.62v6.23h-74.62zM519.5 119.79h2.49v6.23h-2.49zM541.88 119.79h2.49v6.23h-2.49zM780.67 119.79h74.62v6.23h-74.62zM487.16 126.02h4.97v6.23h-4.97zM507.06 126.02h2.49v6.23h-2.49zM519.5 126.02h2.49v6.23h-2.49zM780.67 126.02h74.62v6.23h-74.62zM487.16 132.25h2.49v6.23h-2.49zM519.5 132.25h4.97v6.23h-4.97zM541.88 132.25h2.49v6.23h-2.49zM780.67 132.25h74.62v6.23h-74.62zM449.85 138.47h2.49v6.23h-2.49zM462.29 138.47h2.49v6.23h-2.49zM512.03 138.47h2.49v6.23h-2.49zM519.5 138.47h2.49v6.23h-2.49zM541.88 138.47h2.49v6.23h-2.49zM780.67 138.47h74.62v6.23h-74.62zM449.85 144.7h2.49v6.23h-2.49zM504.57 144.7h4.97v6.23h-4.97zM517.01 144.7h2.49v6.23h-2.49zM780.67 144.7h74.62v6.23h-74.62zM454.82 150.92h2.49v6.23h-2.49zM489.65 150.92h2.49v6.23h-2.49zM509.55 150.92h2.49v6.23h-2.49zM514.52 150.92h2.49v6.23h-2.49zM524.47 150.92h2.49v6.23h-2.49zM536.91 150.92h2.49v6.23h-2.49zM541.88 150.92h2.49v6.23h-2.49zM780.67 150.92h74.62v6.23h-74.62zM462.29 157.15h2.49v6.23h-2.49zM469.75 157.15h2.49v6.23h-2.49zM524.47 157.15h2.49v6.23h-2.49zM531.93 157.15h2.49v6.23h-2.49zM536.91 157.15h2.49v6.23h-2.49zM780.67 157.15h74.62v6.23h-74.62zM519.5 163.38h2.49v6.23h-2.49zM524.47 163.38h2.49v6.23h-2.49zM780.67 163.38h74.62v6.23h-74.62zM454.82 169.6h2.49v6.23h-2.49zM780.67 169.6h74.62v6.23h-74.62zM526.96 175.83h2.49v6.23h-2.49zM780.67 175.83h74.62v6.23h-74.62zM462.29 182.05h2.49v6.23h-2.49zM512.03 182.05h2.49v6.23h-2.49zM524.47 182.05h2.49v6.23h-2.49zM534.42 182.05h2.49v6.23h-2.49zM780.67 182.05h74.62v6.23h-74.62zM469.75 188.28h2.49v6.23h-2.49zM780.67 188.28h74.62v6.23h-74.62zM449.85 194.51h2.49v6.23h-2.49zM502.09 194.51h2.49v6.23h-2.49zM519.5 194.51h2.49v6.23h-2.49zM780.67 194.51h74.62v6.23h-74.62zM457.31 200.73h2.49v6.23h-2.49zM536.91 200.73h2.49v6.23h-2.49zM780.67 200.73h74.62v6.23h-74.62zM502.09 206.96h2.49v6.23h-2.49zM512.03 206.96h2.49v6.23h-2.49zM541.88 206.96h2.49v6.23h-2.49zM780.67 206.96h74.62v6.23h-74.62zM509.55 213.18h2.49v6.23h-2.49zM541.88 213.18h2.49v6.23h-2.49zM780.67 213.18h74.62v6.23h-74.62zM472.24 219.41h2.49v6.23h-2.49zM507.06 219.41h2.49v6.23h-2.49zM521.98 219.41h2.49v6.23h-2.49zM780.67 219.41h74.62v6.23h-74.62zM454.82 225.64h2.49v6.23h-2.49zM469.75 225.64h2.49v6.23h-2.49zM521.98 225.64h2.49v6.23h-2.49zM780.67 225.64h74.62v6.23h-74.62zM509.55 231.86h2.49v6.23h-2.49zM524.47 231.86h4.97v6.23h-4.97zM780.67 231.86h74.62v6.23h-74.62zM502.09 238.09h2.49v6.23h-2.49zM519.5 238.09h2.49v6.23h-2.49zM780.67 238.09h74.62v6.23h-74.62zM449.85 244.31h2.49v6.23h-2.49zM462.29 244.31h2.49v6.23h-2.49zM507.06 244.31h2.49v6.23h-2.49zM780.67 244.31h74.62v6.23h-74.62zM504.57 250.54h2.49v6.23h-2.49zM529.45 250.54h4.97v6.23h-4.97zM422.49 256.77h2.49v6.23h-2.49zM429.95 256.77h2.49v6.23h-2.49zM437.41 256.77h2.49v6.23h-2.49zM502.09 256.77h2.49v6.23h-2.49zM397.61 262.99h2.49v6.23h-2.49zM410.05 262.99h2.49v6.23h-2.49zM417.51 262.99h2.49v6.23h-2.49zM459.8 262.99h2.49v6.23h-2.49zM474.72 262.99h2.49v6.23h-2.49zM492.14 262.99h4.97v6.23h-4.97zM417.51 269.22h2.49v6.23h-2.49zM432.44 269.22h2.49v6.23h-2.49zM482.19 269.22h2.49v6.23h-2.49zM489.65 269.22h2.49v6.23h-2.49zM497.11 269.22h2.49v6.23h-2.49zM524.47 269.22h2.49v6.23h-2.49zM417.51 275.44h2.49v6.23h-2.49zM502.09 281.67h2.49v6.23h-2.49zM536.91 281.67h2.49v6.23h-2.49zM628.94 281.67h206.45v6.23h-206.45zM424.98 287.9h2.49v6.23h-2.49zM454.82 287.9h2.49v6.23h-2.49zM502.09 287.9h2.49v6.23h-2.49zM536.91 287.9h4.97v6.23h-4.97zM544.37 287.9h119.4v6.23h-119.4zM420 294.12h2.49v6.23h-2.49zM432.44 294.12h4.97v6.23h-4.97zM492.14 294.12h2.49v6.23h-2.49zM526.96 294.12h2.49v6.23h-2.49zM539.4 294.12h2.49v6.23h-2.49zM544.37 294.12h119.4v6.23h-119.4zM526.96 300.35h2.49v6.23h-2.49zM544.37 300.35h119.4v6.23h-119.4zM487.16 306.57h2.49v6.23h-2.49zM521.98 306.57h2.49v6.23h-2.49zM526.96 306.57h2.49v6.23h-2.49z"/>
<path fill="#463ada" d="M482.19 1.5h2.49v6.23h-2.49zM492.14 1.5h4.97v6.23h-4.97zM512.03 1.5h2.49v6.23h-2.49zM541.88 1.5h2.49v6.23h-2.49zM489.65 7.73h2.49v6.23h-2.49zM497.11 7.73h2.49v6.23h-2.49zM507.06 7.73h2.49v6.23h-2.49zM512.03 7.73h2.49v6.23h-2.49zM519.5 7.73h2.49v6.23h-2.49zM531.93 7.73h2.49v6.23h-2.49zM494.62 13.95h2.49v6.23h-2.49zM514.52 13.95h2.49v6.23h-2.49zM524.47 13.95h2.49v6.23h-2.49zM464.77 20.18h2.49v6.23h-2.49zM479.7 20.18h2.49v6.23h-2.49zM497.11 20.18h2.49v6.23h-2.49zM507.06 20.18h4.97v6.23h-4.97zM521.98 20.18h2.49v6.23h-2.49zM529.45 20.18h2.49v6.23h-2.49zM541.88 20.18h2.49v6.23h-2.49zM462.29 26.4h2.49v6.23h-2.49zM487.16 26.4h2.49v6.23h-2.49zM492.14 26.4h2.49v6.23h-2.49zM529.45 26.4h2.49v6.23h-2.49zM457.31 32.63h2.49v6.23h-2.49zM482.19 32.63h2.49v6.23h-2.49zM489.65 32.63h2.49v6.23h-2.49zM497.11 32.63h2.49v6.23h-2.49zM509.55 32.63h2.49v6.23h-2.49zM531.93 32.63h2.49v6.23h-2.49zM489.65 38.86h2.49v6.23h-2.49zM507.06 38.86h2.49v6.23h-2.49zM529.45 38.86h2.49v6.23h-2.49zM434.93 45.08h2.49v6.23h-2.49zM442.39 45.08h2.49v6.23h-2.49zM467.26 45.08h2.49v6.23h-2.49zM482.19 45.08h2.49v6.23h-2.49zM492.14 45.08h2.49v6.23h-2.49zM507.06 45.08h2.49v6.23h-2.49zM517.01 45.08h2.49v6.23h-2.49zM529.45 45.08h4.97v6.23h-4.97zM539.4 45.08h4.97v6.23h-4.97zM489.65 51.31h2.49v6.23h-2.49zM517.01 51.31h2.49v6.23h-2.49zM544.37 51.31h99.5v6.23h-99.5zM462.29 57.53h2.49v6.23h-2.49zM514.52 57.53h2.49v6.23h-2.49zM653.82 57.53h114.42v6.23h-114.42zM504.57 63.76h2.49v6.23h-2.49zM539.4 63.76h2.49v6.23h-2.49zM755.8 63.76h94.52v6.23h-94.52zM524.47 69.99h2.49v6.23h-2.49zM534.42 69.99h2.49v6.23h-2.49zM827.93 69.99h79.6v6.23h-79.6zM489.65 76.21h2.49v6.23h-2.49zM502.09 76.21h2.49v6.23h-2.49zM517.01 76.21h2.49v6.23h-2.49zM521.98 76.21h2.49v6.23h-2.49zM855.3 76.21h74.62v6.23h-74.62zM502.09 82.44h2.49v6.23h-2.49zM529.45 82.44h2.49v6.23h-2.49zM541.88 82.44h2.49v6.23h-2.49zM855.3 82.44h74.62v6.23h-74.62zM504.57 88.66h2.49v6.23h-2.49zM855.3 88.66h74.62v6.23h-74.62zM497.11 94.89h2.49v6.23h-2.49zM514.52 94.89h2.49v6.23h-2.49zM519.5 94.89h2.49v6.23h-2.49zM524.47 94.89h2.49v6.23h-2.49zM529.45 94.89h2.49v6.23h-2.49zM855.3 94.89h74.62v6.23h-74.62zM464.77 101.12h2.49v6.23h-2.49zM512.03 101.12h2.49v6.23h-2.49zM521.98 101.12h2.49v6.23h-2.49zM855.3 101.12h74.62v6.23h-74.62zM507.06 107.34h2.49v6.23h-2.49zM534.42 107.34h2.49v6.23h-2.49zM855.3 107.34h74.62v6.23h-74.62zM487.16 113.57h2.49v6.23h-2.49zM509.55 113.57h2.49v6.23h-2.49zM855.3 113.57h74.62v6.23h-74.62zM464.77 119.79h2.49v6.23h-2.49zM489.65 119.79h2.49v6.23h-2.49zM494.62 119.79h2.49v6.23h-2.49zM502.09 119.79h2.49v6.23h-2.49zM855.3 119.79h74.62v6.23h-74.62zM439.9 126.02h2.49v6.23h-2.49zM449.85 126.02h2.49v6.23h-2.49zM484.67 126.02h2.49v6.23h-2.49zM499.6 126.02h2.49v6.23h-2.49zM509.55 126.02h2.49v6.23h-2.49zM534.42 126.02h2.49v6.23h-2.49zM855.3 126.02h74.62v6.23h-74.62zM442.39 132.25h2.49v6.23h-2.49zM529.45 132.25h2.49v6.23h-2.49zM855.3 132.25h74.62v6.23h-74.62zM439.9 138.47h2.49v6.23h-2.49zM457.31 138.47h2.49v6.23h-2.49zM487.16 138.47h2.49v6.23h-2.49zM504.57 138.47h2.49v6.23h-2.49zM509.55 138.47h2.49v6.23h-2.49zM855.3 138.47h74.62v6.23h-74.62zM484.67 144.7h7.46v6.23h-7.46zM512.03 144.7h2.49v6.23h-2.49zM531.93 144.7h2.49v6.23h-2.49zM855.3 144.7h74.62v6.23h-74.62zM499.6 150.92h2.49v6.23h-2.49zM521.98 150.92h2.49v6.23h-2.49zM534.42 150.92h2.49v6.23h-2.49zM855.3 150.92h74.62v6.23h-74.62zM457.31 157.15h2.49v6.23h-2.49zM509.55 157.15h2.49v6.23h-2.49zM514.52 157.15h2.49v6.23h-2.49zM521.98 157.15h2.49v6.23h-2.49zM855.3 157.15h74.62v6.23h-74.62zM462.29 163.38h2.49v6.23h-2.49zM487.16 163.38h2.49v6.23h-2.49zM504.57 163.38h2.49v6.23h-2.49zM509.55 163.38h2.49v6.23h-2.49zM531.93 163.38h2.49v6.23h-2.49zM541.88 163.38h2.49v6.23h-2.49zM855.3 163.38h74.62v6.23h-74.62zM467.26 169.6h2.49v6.23h-2.49zM509.55 169.6h4.97v6.23h-4.97zM855.3 169.6h74.62v6.23h-74.62zM442.39 175.83h2.49v6.23h-2.49zM462.29 175.83h2.49v6.23h-2.49zM504.57 175.83h2.49v6.23h-2.49zM855.3 175.83h74.62v6.23h-74.62zM449.85 182.05h2.49v6.23h-2.49zM531.93 182.05h2.49v6.23h-2.49zM855.3 182.05h74.62v6.23h-74.62zM462.29 188.28h2.49v6.23h-2.49zM507.06 188.28h7.46v6.23h-7.46zM855.3 188.28h74.62v6.23h-74.62zM484.67 194.51h2.49v6.23h-2.49zM509.55 194.51h2.49v6.23h-2.49zM514.52 194.51h2.49v6.23h-2.49zM855.3 194.51h74.62v6.23h-74.62zM449.85 200.73h2.49v6.23h-2.49zM462.29 200.73h2.49v6.23h-2.49zM521.98 200.73h2.49v6.23h-2.49zM541.88 200.73h2.49v6.23h-2.49zM855.3 200.73h74.62v6.23h-74.62zM442.39 206.96h2.49v6.23h-2.49zM855.3 206.96h74.62v6.23h-74.62zM449.85 213.18h2.49v6.23h-2.49zM514.52 213.18h7.46v6.23h-7.46zM855.3 213.18h74.62v6.23h-74.62zM504.57 219.41h2.49v6.23h-2.49zM519.5 219.41h2.49v6.23h-2.49zM529.45 219.41h2.49v6.23h-2.49zM855.3 219.41h74.62v6.23h-74.62zM464.77 225.64h2.49v6.23h-2.49zM509.55 225.64h2.49v6.23h-2.49zM541.88 225.64h2.49v6.23h-2.49zM855.3 225.64h74.62v6.23h-74.62zM434.93 231.86h2.49v6.23h-2.49zM492.14 231.86h2.49v6.23h-2.49zM521.98 231.86h2.49v6.23h-2.49zM855.3 231.86h74.62v6.23h-74.62zM855.3 238.09h74.62v6.23h-74.62zM534.42 244.31h2.49v6.23h-2.49zM855.3 244.31h74.62v6.23h-74.62zM539.4 250.54h2.49v6.23h-2.49zM427.46 256.77h2.49v6.23h-2.49zM449.85 256.77h2.49v6.23h-2.49zM487.16 256.77h2.49v6.23h-2.49zM521.98 256.77h4.97v6.23h-4.97zM534.42 256.77h2.49v6.23h-2.49zM541.88 256.77h2.49v6.23h-2.49zM397.61 269.22h2.49v6.23h-2.49zM407.56 269.22h2.49v6.23h-2.49zM412.54 269.22h2.49v6.23h-2.49zM397.61 275.44h2.49v6.23h-2.49zM405.08 275.44h2.49v6.23h-2.49zM432.44 275.44h2.49v6.23h-2.49zM454.82 275.44h2.49v6.23h-2.49zM502.09 275.44h2.49v6.23h-2.49zM526.96 275.44h2.49v6.23h-2.49zM539.4 275.44h2.49v6.23h-2.49zM427.46 281.67h2.49v6.23h-2.49zM449.85 281.67h2.49v6.23h-2.49zM539.4 281.67h2.49v6.23h-2.49zM835.4 281.67h216.4v6.23h-216.4zM449.85 287.9h2.49v6.23h-2.49zM462.29 287.9h2.49v6.23h-2.49zM526.96 287.9h2.49v6.23h-2.49zM663.77 287.9h136.81v6.23h-136.81zM449.85 294.12h2.49v6.23h-2.49zM472.24 294.12h2.49v6.23h-2.49zM504.57 294.12h2.49v6.23h-2.49zM519.5 294.12h7.46v6.23h-7.46zM663.77 294.12h136.81v6.23h-136.81zM477.21 300.35h2.49v6.23h-2.49zM539.4 300.35h2.49v6.23h-2.49zM663.77 300.35h136.81v6.23h-136.81zM452.34 306.57h2.49v6.23h-2.49zM464.77 306.57h2.49v6.23h-2.49z"/>
<path fill="#473cde" d="M521.98 1.5h2.49v6.23h-2.49zM534.42 1.5h2.49v6.23h-2.49zM422.49 7.73h2.49v6.23h-2.49zM437.41 7.73h2.49v6.23h-2.49zM449.85 7.73h2.49v6.23h-2.49zM482.19 7.73h2.49v6.23h-2.49zM487.16 7.73h2.49v6.23h-2.49zM494.62 7.73h2.49v6.23h-2.49zM442.39 13.95h2.49v6.23h-2.49zM449.85 13.95h2.49v6.23h-2.49zM462.29 13.95h2.49v6.23h-2.49zM497.11 13.95h2.49v6.23h-2.49zM512.03 13.95h2.49v6.23h-2.49zM472.24 20.18h2.49v6.23h-2.49zM487.16 20.18h2.49v6.23h-2.49zM449.85 26.4h2.49v6.23h-2.49zM497.11 26.4h2.49v6.23h-2.49zM507.06 26.4h2.49v6.23h-2.49zM479.7 32.63h2.49v6.23h-2.49zM487.16 32.63h2.49v6.23h-2.49zM494.62 32.63h2.49v6.23h-2.49zM529.45 32.63h2.49v6.23h-2.49zM479.7 38.86h2.49v6.23h-2.49zM499.6 38.86h2.49v6.23h-2.49zM517.01 38.86h2.49v6.23h-2.49zM541.88 38.86h2.49v6.23h-2.49zM489.65 45.08h2.49v6.23h-2.49zM497.11 45.08h4.97v6.23h-4.97zM509.55 45.08h2.49v6.23h-2.49zM526.96 45.08h2.49v6.23h-2.49zM544.37 45.08h79.6v6.23h-79.6zM449.85 51.31h2.49v6.23h-2.49zM487.16 51.31h2.49v6.23h-2.49zM497.11 51.31h2.49v6.23h-2.49zM509.55 51.31h2.49v6.23h-2.49zM514.52 51.31h2.49v6.23h-2.49zM643.87 51.31h141.78v6.23h-141.78zM487.16 57.53h2.49v6.23h-2.49zM517.01 57.53h2.49v6.23h-2.49zM768.24 57.53h111.93v6.23h-111.93zM469.75 63.76h2.49v6.23h-2.49zM487.16 63.76h4.97v6.23h-4.97zM517.01 63.76h2.49v6.23h-2.49zM541.88 63.76h2.49v6.23h-2.49zM850.32 63.76h92.03v6.23h-92.03zM504.57 69.99h2.49v6.23h-2.49zM907.53 69.99h79.6v6.23h-79.6zM487.16 76.21h2.49v6.23h-2.49zM509.55 76.21h2.49v6.23h-2.49zM929.92 76.21h121.88v6.23h-121.88zM497.11 82.44h2.49v6.23h-2.49zM507.06 82.44h2.49v6.23h-2.49zM521.98 82.44h2.49v6.23h-2.49zM929.92 82.44h121.88v6.23h-121.88zM929.92 88.66h121.88v6.23h-121.88zM434.93 94.89h2.49v6.23h-2.49zM489.65 94.89h2.49v6.23h-2.49zM499.6 94.89h2.49v6.23h-2.49zM507.06 94.89h2.49v6.23h-2.49zM929.92 94.89h121.88v6.23h-121.88zM489.65 101.12h2.49v6.23h-2.49zM499.6 101.12h2.49v6.23h-2.49zM526.96 101.12h4.97v6.23h-4.97zM929.92 101.12h121.88v6.23h-121.88zM449.85 107.34h2.49v6.23h-2.49zM499.6 107.34h2.49v6.23h-2.49zM512.03 107.34h7.46v6.23h-7.46zM929.92 107.34h121.88v6.23h-121.88zM477.21 113.57h2.49v6.23h-2.49zM484.67 113.57h2.49v6.23h-2.49zM929.92 113.57h121.88v6.23h-121.88zM439.9 119.79h2.49v6.23h-2.49zM484.67 119.79h4.97v6.23h-4.97zM504.57 119.79h2.49v6.23h-2.49zM521.98 119.79h2.49v6.23h-2.49zM929.92 119.79h121.88v6.23h-121.88zM514.52 126.02h4.97v6.23h-4.97zM531.93 126.02h2.49v6.23h-2.49zM541.88 126.02h2.49v6.23h-2.49zM929.92 126.02h121.88v6.23h-121.88zM484.67 132.25h2.49v6.23h-2.49zM509.55 132.25h2.49v6.23h-2.49zM929.92 132.25h121.88v6.23h-121.88zM459.8 138.47h2.49v6.23h-2.49zM484.67 138.47h2.49v6.23h-2.49zM514.52 138.47h2.49v6.23h-2.49zM521.98 138.47h2.49v6.23h-2.49zM531.93 138.47h2.49v6.23h-2.49zM929.92 138.47h121.88v6.23h-121.88zM497.11 144.7h2.49v6.23h-2.49zM514.52 144.7h2.49v6.23h-2.49zM929.92 144.7h121.88v6.23h-121.88zM487.16 150.92h2.49v6.23h-2.49zM929.92 150.92h121.88v6.23h-121.88zM504.57 157.15h4.97v6.23h-4.97zM541.88 157.15h2.49v6.23h-2.49zM929.92 157.15h121.88v6.23h-121.88zM484.67 163.38h2.49v6.23h-2.49zM929.92 163.38h121.88v6.23h-121.88zM484.67 169.6h2.49v6.23h-2.49zM519.5 169.6h2.49v6.23h-2.49zM534.42 169.6h2.49v6.23h-2.49zM929.92 169.6h121.88v6.23h-121.88zM507.06 175.83h2.49v6.23h-2.49zM521.98 175.83h2.49v6.23h-2.49zM929.92 175.83h121.88v6.23h-121.88zM929.92 182.05h121.88v6.23h-121.88zM472.24 188.28h2.49v6.23h-2.49zM521.98 188.28h2.49v6.23h-2.49zM529.45 188.28h2.49v6.23h-2.49zM534.42 188.28h2.49v6.23h-2.49zM541.88 188.28h2.49v6.23h-2.49zM929.92 188.28h121.88v6.23h-121.88zM439.9 194.51h2.49v6.23h-2.49zM507.06 194.51h2.49v6.23h-2.49zM534.42 194.51h2.49v6.23h-2.49zM541.88 194.51h2.49v6.23h-2.49zM929.92 194.51h121.88v6.23h-121.88zM487.16 200.73h2.49v6.23h-2.49zM507.06 200.73h4.97v6.23h-4.97zM524.47 200.73h2.49v6.23h-2.49zM531.93 200.73h2.49v6.23h-2.49zM929.92 200.73h121.88v6.23h-121.88zM507.06 206.96h2.49v6.23h-2.49zM514.52 206.96h2.49v6.23h-2.49zM534.42 206.96h2.49v6.23h-2.49zM929.92 206.96h121.88v6.23h-121.88zM507.06 213.18h2.49v6.23h-2.49zM929.92 213.18h121.88v6.23h-121.88zM534.42 219.41h2.49v6.23h-2.49zM541.88 219.41h2.49v6.23h-2.49zM929.92 219.41h121.88v6.23h-121.88zM929.92 225.64h121.88v6.23h-121.88zM487.16 231.86h2.49v6.23h-2.49zM929.92 231.86h121.88v6.23h-121.88zM439.9 238.09h2.49v6.23h-2.49zM507.06 238.09h9.95v6.23h-9.95zM526.96 238.09h4.97v6.23h-4.97zM534.42 238.09h2.49v6.23h-2.49zM541.88 238.09h2.49v6.23h-2.49zM929.92 238.09h121.88v6.23h-121.88zM487.16 244.31h2.49v6.23h-2.49zM521.98 244.31h2.49v6.23h-2.49zM529.45 244.31h4.97v6.23h-4.97zM541.88 244.31h2.49v6.23h-2.49zM929.92 244.31h121.88v6.23h-121.88zM442.39 250.54h2.49v6.23h-2.49zM509.55 250.54h2.49v6.23h-2.49zM514.52 250.54h2.49v6.23h-2.49zM424.98 256.77h2.49v6.23h-2.49zM462.29 256.77h2.49v6.23h-2.49zM469.75 256.77h2.49v6.23h-2.49zM482.19 262.99h2.49v6.23h-2.49zM521.98 262.99h2.49v6.23h-2.49zM400.1 275.44h2.49v6.23h-2.49zM410.05 275.44h2.49v6.23h-2.49zM415.03 275.44h2.49v6.23h-2.49zM420 275.44h2.49v6.23h-2.49zM434.93 275.44h2.49v6.23h-2.49zM521.98 275.44h2.49v6.23h-2.49zM504.57 281.67h2.49v6.23h-2.49zM524.47 281.67h2.49v6.23h-2.49zM427.46 287.9h2.49v6.23h-2.49zM487.16 287.9h2.49v6.23h-2.49zM504.57 287.9h2.49v6.23h-2.49zM519.5 287.9h2.49v6.23h-2.49zM800.57 287.9h139.29v6.23h-139.29zM412.54 294.12h4.97v6.23h-4.97zM424.98 294.12h2.49v6.23h-2.49zM429.95 294.12h2.49v6.23h-2.49zM536.91 294.12h2.49v6.23h-2.49zM541.88 294.12h2.49v6.23h-2.49zM800.57 294.12h139.29v6.23h-139.29zM449.85 300.35h4.97v6.23h-4.97zM512.03 300.35h2.49v6.23h-2.49zM800.57 300.35h139.29v6.23h-139.29zM454.82 306.57h2.49v6.23h-2.49zM469.75 306.57h2.49v6.23h-2.49zM477.21 306.57h2.49v6.23h-2.49zM502.09 306.57h4.97v6.23h-4.97zM512.03 306.57h2.49v6.23h-2.49zM524.47 306.57h2.49v6.23h-2.49z"/>
<path fill="#473fe2" d="M143.9 1.5h226.35v6.23h-226.35zM484.67 1.5h2.49v6.23h-2.49zM497.11 1.5h2.49v6.23h-2.49zM517.01 1.5h2.49v6.23h-2.49zM143.9 7.73h226.35v6.23h-226.35zM536.91 7.73h2.49v6.23h-2.49zM143.9 13.95h226.35v6.23h-226.35zM482.19 13.95h2.49v6.23h-2.49zM519.5 13.95h2.49v6.23h-2.49zM143.9 20.18h226.35v6.23h-226.35zM432.44 20.18h2.49v6.23h-2.49zM494.62 20.18h2.49v6.23h-2.49zM534.42 20.18h2.49v6.23h-2.49zM143.9 26.4h226.35v6.23h-226.35zM422.49 26.4h2.49v6.23h-2.49zM434.93 26.4h2.49v6.23h-2.49zM442.39 26.4h2.49v6.23h-2.49zM484.67 26.4h2.49v6.23h-2.49zM509.55 26.4h2.49v6.23h-2.49zM517.01 26.4h2.49v6.23h-2.49zM143.9 32.63h226.35v6.23h-226.35zM526.96 32.63h2.49v6.23h-2.49zM143.9 38.86h226.35v6.23h-226.35zM434.93 38.86h2.49v6.23h-2.49zM497.11 38.86h2.49v6.23h-2.49zM531.93 38.86h2.49v6.23h-2.49zM544.37 38.86h42.29v6.23h-42.29zM143.9 45.08h226.35v6.23h-226.35zM422.49 45.08h2.49v6.23h-2.49zM494.62 45.08h2.49v6.23h-2.49zM623.97 45.08h194.02v6.23h-194.02zM143.9 51.31h226.35v6.23h-226.35zM512.03 51.31h2.49v6.23h-2.49zM534.42 51.31h2.49v6.23h-2.49zM785.65 51.31h144.27v6.23h-144.27zM143.9 57.53h226.35v6.23h-226.35zM531.93 57.53h4.97v6.23h-4.97zM541.88 57.53h2.49v6.23h-2.49zM880.17 57.53h114.42v6.23h-114.42zM143.9 63.76h226.35v6.23h-226.35zM484.67 63.76h2.49v6.23h-2.49zM531.93 63.76h4.97v6.23h-4.97zM942.35 63.76h109.45v6.23h-109.45zM143.9 69.99h226.35v6.23h-226.35zM489.65 69.99h2.49v6.23h-2.49zM509.55 69.99h2.49v6.23h-2.49zM987.13 69.99h64.67v6.23h-64.67zM143.9 76.21h226.35v6.23h-226.35zM420 76.21h2.49v6.23h-2.49zM484.67 76.21h2.49v6.23h-2.49zM499.6 76.21h2.49v6.23h-2.49zM143.9 82.44h226.35v6.23h-226.35zM484.67 82.44h2.49v6.23h-2.49zM489.65 82.44h2.49v6.23h-2.49zM509.55 82.44h2.49v6.23h-2.49zM531.93 82.44h4.97v6.23h-4.97zM143.9 88.66h226.35v6.23h-226.35zM514.52 88.66h2.49v6.23h-2.49zM531.93 88.66h2.49v6.23h-2.49zM143.9 94.89h226.35v6.23h-226.35zM143.9 101.12h226.35v6.23h-226.35zM507.06 101.12h2.49v6.23h-2.49zM143.9 107.34h226.35v6.23h-226.35zM489.65 107.34h2.49v6.23h-2.49zM143.9 113.57h226.35v6.23h-226.35zM434.93 113.57h2.49v6.23h-2.49zM499.6 113.57h2.49v6.23h-2.49zM517.01 113.57h2.49v6.23h-2.49zM529.45 113.57h2.49v6.23h-2.49zM143.9 119.79h226.35v6.23h-226.35zM442.39 119.79h2.49v6.23h-2.49zM499.6 119.79h2.49v6.23h-2.49zM514.52 119.79h2.49v6.23h-2.49zM143.9 126.02h226.35v6.23h-226.35zM462.29 126.02h2.49v6.23h-2.49zM143.9 132.25h226.35v6.23h-226.35zM531.93 132.25h2.49v6.23h-2.49zM143.9 138.47h226.35v6.23h-226.35zM499.6 138.47h2.49v6.23h-2.49zM143.9 144.7h226.35v6.23h-226.35zM509.55 144.7h2.49v6.23h-2.49zM539.4 144.7h4.97v6.23h-4.97zM143.9 150.92h226.35v6.23h-226.35zM507.06 150.92h2.49v6.23h-2.49zM512.03 150.92h2.49v6.23h-2.49zM517.01 150.92h2.49v6.23h-2.49zM143.9 157.15h226.35v6.23h-226.35zM464.77 157.15h2.49v6.23h-2.49zM512.03 157.15h2.49v6.23h-2.49zM534.42 157.15h2.49v6.23h-2.49zM143.9 163.38h226.35v6.23h-226.35zM507.06 163.38h2.49v6.23h-2.49zM534.42 163.38h2.49v6.23h-2.49zM143.9 169.6h226.35v6.23h-226.35zM434.93 169.6h2.49v6.23h-2.49zM487.16 169.6h2.49v6.23h-2.49zM529.45 169.6h4.97v6.23h-4.97zM143.9 175.83h226.35v6.23h-226.35zM489.65 175.83h2.49v6.23h-2.49zM531.93 175.83h4.97v6.23h-4.97zM143.9 182.05h226.35v6.23h-226.35zM514.52 182.05h2.49v6.23h-2.49zM143.9 188.28h226.35v6.23h-226.35zM514.52 188.28h4.97v6.23h-4.97zM143.9 194.51h226.35v6.23h-226.35zM143.9 200.73h226.35v6.23h-226.35zM442.39 200.73h2.49v6.23h-2.49zM489.65 200.73h2.49v6.23h-2.49zM499.6 200.73h2.49v6.23h-2.49zM143.9 206.96h226.35v6.23h-226.35zM432.44 206.96h2.49v6.23h-2.49zM517.01 206.96h2.49v6.23h-2.49zM524.47 206.96h2.49v6.23h-2.49zM531.93 206.96h2.49v6.23h-2.49zM143.9 213.18h226.35v6.23h-226.35zM489.65 213.18h2.49v6.23h-2.49zM531.93 213.18h2.49v6.23h-2.49zM143.9 219.41h226.35v6.23h-226.35zM509.55 219.41h2.49v6.23h-2.49zM143.9 225.64h226.35v6.23h-226.35zM517.01 225.64h2.49v6.23h-2.49zM534.42 225.64h2.49v6.23h-2.49zM143.9 231.86h226.35v6.23h-226.35zM484.67 231.86h2.49v6.23h-2.49zM507.06 231.86h2.49v6.23h-2.49zM517.01 231.86h2.49v6.23h-2.49zM143.9 238.09h226.35v6.23h-226.35zM143.9 244.31h226.35v6.23h-226.35zM469.75 244.31h2.49v6.23h-2.49zM143.9 250.54h226.35v6.23h-226.35zM507.06 250.54h2.49v6.23h-2.49zM534.42 250.54h2.49v6.23h-2.49zM541.88 250.54h2.49v6.23h-2.49zM143.9 256.77h226.35v6.23h-226.35zM514.52 256.77h2.49v6.23h-2.49zM143.9 262.99h226.35v6.23h-226.35zM427.46 262.99h2.49v6.23h-2.49zM143.9 269.22h226.35v6.23h-226.35zM402.59 269.22h2.49v6.23h-2.49zM143.9 275.44h226.35v6.23h-226.35zM424.98 275.44h2.49v6.23h-2.49zM492.14 275.44h2.49v6.23h-2.49zM504.57 275.44h2.49v6.23h-2.49zM519.5 275.44h2.49v6.23h-2.49zM143.9 281.67h226.35v6.23h-226.35zM424.98 281.67h2.49v6.23h-2.49zM432.44 281.67h2.49v6.23h-2.49zM437.41 281.67h2.49v6.23h-2.49zM489.65 281.67h2.49v6.23h-2.49zM512.03 281.67h2.49v6.23h-2.49zM143.9 287.9h226.35v6.23h-226.35zM415.03 287.9h2.49v6.23h-2.49zM512.03 287.9h2.49v6.23h-2.49zM541.88 287.9h2.49v6.23h-2.49zM939.87 287.9h111.93v6.23h-111.93zM143.9 294.12h226.35v6.23h-226.35zM417.51 294.12h2.49v6.23h-2.49zM422.49 294.12h2.49v6.23h-2.49zM487.16 294.12h2.49v6.23h-2.49zM939.87 294.12h111.93v6.23h-111.93zM143.9 300.35h226.35v6.23h-226.35zM429.95 300.35h2.49v6.23h-2.49zM489.65 300.35h2.49v6.23h-2.49zM939.87 300.35h111.93v6.23h-111.93zM143.9 306.57h226.35v6.23h-226.35zM457.31 306.57h2.49v6.23h-2.49zM492.14 306.57h4.97v6.23h-4.97z"/>
<path fill="#4742e5" d="M479.7 1.5h2.49v6.23h-2.49zM544.37 1.5h206.45v6.23h-206.45zM434.93 7.73h2.49v6.23h-2.49zM479.7 7.73h2.49v6.23h-2.49zM544.37 7.73h206.45v6.23h-206.45zM487.16 13.95h2.49v6.23h-2.49zM544.37 13.95h206.45v6.23h-206.45zM422.49 20.18h2.49v6.23h-2.49zM439.9 20.18h2.49v6.23h-2.49zM482.19 20.18h2.49v6.23h-2.49zM489.65 20.18h2.49v6.23h-2.49zM499.6 20.18h2.49v6.23h-2.49zM544.37 20.18h206.45v6.23h-206.45zM494.62 26.4h2.49v6.23h-2.49zM544.37 26.4h206.45v6.23h-206.45zM499.6 32.63h2.49v6.23h-2.49zM521.98 32.63h2.49v6.23h-2.49zM544.37 32.63h206.45v6.23h-206.45zM526.96 38.86h2.49v6.23h-2.49zM586.66 38.86h298.49v6.23h-298.49zM817.98 45.08h233.82v6.23h-233.82zM420 51.31h2.49v6.23h-2.49zM494.62 51.31h2.49v6.23h-2.49zM507.06 51.31h2.49v6.23h-2.49zM929.92 51.31h121.88v6.23h-121.88zM497.11 57.53h2.49v6.23h-2.49zM509.55 57.53h2.49v6.23h-2.49zM994.59 57.53h57.21v6.23h-57.21zM442.39 63.76h2.49v6.23h-2.49zM507.06 63.76h2.49v6.23h-2.49zM482.19 69.99h2.49v6.23h-2.49zM499.6 69.99h2.49v6.23h-2.49zM514.52 69.99h2.49v6.23h-2.49zM541.88 69.99h2.49v6.23h-2.49zM442.39 76.21h2.49v6.23h-2.49zM497.11 76.21h2.49v6.23h-2.49zM514.52 76.21h2.49v6.23h-2.49zM529.45 76.21h4.97v6.23h-4.97zM434.93 88.66h2.49v6.23h-2.49zM484.67 88.66h2.49v6.23h-2.49zM439.9 94.89h2.49v6.23h-2.49zM462.29 94.89h2.49v6.23h-2.49zM484.67 94.89h2.49v6.23h-2.49zM517.01 94.89h2.49v6.23h-2.49zM497.11 101.12h2.49v6.23h-2.49zM531.93 101.12h4.97v6.23h-4.97zM442.39 113.57h2.49v6.23h-2.49zM489.65 113.57h2.49v6.23h-2.49zM482.19 119.79h2.49v6.23h-2.49zM509.55 119.79h2.49v6.23h-2.49zM489.65 132.25h2.49v6.23h-2.49zM497.11 132.25h4.97v6.23h-4.97zM507.06 132.25h2.49v6.23h-2.49zM514.52 132.25h4.97v6.23h-4.97zM429.95 138.47h2.49v6.23h-2.49zM517.01 138.47h2.49v6.23h-2.49zM442.39 144.7h2.49v6.23h-2.49zM499.6 144.7h2.49v6.23h-2.49zM529.45 144.7h2.49v6.23h-2.49zM442.39 150.92h2.49v6.23h-2.49zM497.11 150.92h2.49v6.23h-2.49zM529.45 150.92h4.97v6.23h-4.97zM442.39 157.15h2.49v6.23h-2.49zM484.67 157.15h2.49v6.23h-2.49zM517.01 157.15h2.49v6.23h-2.49zM529.45 157.15h2.49v6.23h-2.49zM509.55 175.83h2.49v6.23h-2.49zM514.52 175.83h2.49v6.23h-2.49zM529.45 175.83h2.49v6.23h-2.49zM487.16 182.05h2.49v6.23h-2.49zM541.88 182.05h2.49v6.23h-2.49zM442.39 188.28h2.49v6.23h-2.49zM487.16 188.28h2.49v6.23h-2.49zM442.39 194.51h2.49v6.23h-2.49zM487.16 194.51h2.49v6.23h-2.49zM517.01 194.51h2.49v6.23h-2.49zM531.93 194.51h2.49v6.23h-2.49zM517.01 200.73h2.49v6.23h-2.49zM529.45 200.73h2.49v6.23h-2.49zM489.65 206.96h2.49v6.23h-2.49zM534.42 213.18h2.49v6.23h-2.49zM514.52 219.41h4.97v6.23h-4.97zM531.93 219.41h2.49v6.23h-2.49zM449.85 225.64h2.49v6.23h-2.49zM484.67 225.64h2.49v6.23h-2.49zM514.52 231.86h2.49v6.23h-2.49zM529.45 231.86h4.97v6.23h-4.97zM484.67 238.09h7.46v6.23h-7.46zM531.93 238.09h2.49v6.23h-2.49zM442.39 244.31h2.49v6.23h-2.49zM509.55 244.31h2.49v6.23h-2.49zM437.41 250.54h2.49v6.23h-2.49zM484.67 250.54h4.97v6.23h-4.97zM517.01 250.54h2.49v6.23h-2.49zM507.06 256.77h4.97v6.23h-4.97zM529.45 256.77h2.49v6.23h-2.49zM405.08 262.99h2.49v6.23h-2.49zM410.05 269.22h2.49v6.23h-2.49zM407.56 275.44h2.49v6.23h-2.49zM484.67 275.44h7.46v6.23h-7.46zM412.54 281.67h2.49v6.23h-2.49zM519.5 281.67h2.49v6.23h-2.49zM526.96 281.67h2.49v6.23h-2.49zM534.42 281.67h2.49v6.23h-2.49zM541.88 281.67h2.49v6.23h-2.49zM412.54 287.9h2.49v6.23h-2.49zM432.44 287.9h2.49v6.23h-2.49zM484.67 287.9h2.49v6.23h-2.49zM521.98 287.9h4.97v6.23h-4.97zM427.46 300.35h2.49v6.23h-2.49zM529.45 300.35h2.49v6.23h-2.49zM442.39 306.57h2.49v6.23h-2.49zM462.29 306.57h2.49v6.23h-2.49zM474.72 306.57h2.49v6.23h-2.49zM484.67 306.57h2.49v6.23h-2.49zM499.6 306.57h2.49v6.23h-2.49zM509.55 306.57h2.49v6.23h-2.49zM531.93 306.57h2.49v6.23h-2.49zM536.91 306.57h2.49v6.23h-2.49zM544.37 306.57h507.43v6.23h-507.43z"/>
<path fill="#4845e8" d="M437.41 1.5h4.97v6.23h-4.97zM750.82 1.5h300.98v6.23h-300.98zM750.82 7.73h300.98v6.23h-300.98zM437.41 13.95h2.49v6.23h-2.49zM750.82 13.95h300.98v6.23h-300.98zM750.82 20.18h300.98v6.23h-300.98zM439.9 26.4h2.49v6.23h-2.49zM479.7 26.4h2.49v6.23h-2.49zM750.82 26.4h300.98v6.23h-300.98zM442.39 32.63h2.49v6.23h-2.49zM484.67 32.63h2.49v6.23h-2.49zM750.82 32.63h300.98v6.23h-300.98zM494.62 38.86h2.49v6.23h-2.49zM885.14 38.86h166.66v6.23h-166.66zM512.03 45.08h2.49v6.23h-2.49zM439.9 51.31h2.49v6.23h-2.49zM482.19 51.31h4.97v6.23h-4.97zM499.6 51.31h2.49v6.23h-2.49zM484.67 57.53h2.49v6.23h-2.49zM499.6 57.53h2.49v6.23h-2.49zM529.45 57.53h2.49v6.23h-2.49zM509.55 63.76h2.49v6.23h-2.49zM514.52 63.76h2.49v6.23h-2.49zM484.67 69.99h2.49v6.23h-2.49zM531.93 69.99h2.49v6.23h-2.49zM507.06 76.21h2.49v6.23h-2.49zM534.42 76.21h2.49v6.23h-2.49zM442.39 82.44h2.49v6.23h-2.49zM499.6 82.44h2.49v6.23h-2.49zM499.6 88.66h2.49v6.23h-2.49zM507.06 88.66h2.49v6.23h-2.49zM517.01 88.66h2.49v6.23h-2.49zM529.45 88.66h2.49v6.23h-2.49zM531.93 94.89h2.49v6.23h-2.49zM484.67 101.12h2.49v6.23h-2.49zM514.52 101.12h4.97v6.23h-4.97zM427.46 107.34h2.49v6.23h-2.49zM509.55 107.34h2.49v6.23h-2.49zM507.06 113.57h2.49v6.23h-2.49zM531.93 113.57h2.49v6.23h-2.49zM497.11 119.79h2.49v6.23h-2.49zM507.06 119.79h2.49v6.23h-2.49zM517.01 119.79h2.49v6.23h-2.49zM534.42 119.79h2.49v6.23h-2.49zM494.62 126.02h2.49v6.23h-2.49zM442.39 138.47h2.49v6.23h-2.49zM529.45 138.47h2.49v6.23h-2.49zM479.7 144.7h4.97v6.23h-4.97zM494.62 144.7h2.49v6.23h-2.49zM534.42 144.7h2.49v6.23h-2.49zM487.16 157.15h2.49v6.23h-2.49zM499.6 163.38h2.49v6.23h-2.49zM514.52 163.38h2.49v6.23h-2.49zM514.52 169.6h2.49v6.23h-2.49zM434.93 175.83h4.97v6.23h-4.97zM484.67 175.83h2.49v6.23h-2.49zM497.11 182.05h4.97v6.23h-4.97zM499.6 188.28h2.49v6.23h-2.49zM531.93 188.28h2.49v6.23h-2.49zM429.95 194.51h2.49v6.23h-2.49zM484.67 200.73h2.49v6.23h-2.49zM497.11 200.73h2.49v6.23h-2.49zM514.52 200.73h2.49v6.23h-2.49zM534.42 200.73h2.49v6.23h-2.49zM529.45 206.96h2.49v6.23h-2.49zM442.39 213.18h2.49v6.23h-2.49zM487.16 213.18h2.49v6.23h-2.49zM529.45 213.18h2.49v6.23h-2.49zM434.93 225.64h2.49v6.23h-2.49zM499.6 231.86h2.49v6.23h-2.49zM434.93 238.09h2.49v6.23h-2.49zM517.01 238.09h2.49v6.23h-2.49zM484.67 244.31h2.49v6.23h-2.49zM517.01 244.31h2.49v6.23h-2.49zM517.01 256.77h2.49v6.23h-2.49zM424.98 262.99h2.49v6.23h-2.49zM405.08 269.22h2.49v6.23h-2.49zM424.98 269.22h2.49v6.23h-2.49zM412.54 275.44h2.49v6.23h-2.49zM541.88 275.44h2.49v6.23h-2.49zM429.95 281.67h2.49v6.23h-2.49zM417.51 287.9h2.49v6.23h-2.49zM509.55 287.9h2.49v6.23h-2.49zM531.93 287.9h2.49v6.23h-2.49zM484.67 294.12h2.49v6.23h-2.49zM489.65 294.12h2.49v6.23h-2.49zM514.52 294.12h2.49v6.23h-2.49zM531.93 294.12h2.49v6.23h-2.49zM420 300.35h2.49v6.23h-2.49zM437.41 300.35h2.49v6.23h-2.49zM487.16 300.35h2.49v6.23h-2.49zM521.98 300.35h2.49v6.23h-2.49zM427.46 306.57h2.49v6.23h-2.49zM507.06 306.57h2.49v6.23h-2.49zM517.01 306.57h4.97v6.23h-4.97zM534.42 306.57h2.49v6.23h-2.49zM541.88 306.57h2.49v6.23h-2.49z"/>
<path fill="#4848eb" d="M422.49 1.5h4.97v6.23h-4.97zM432.44 1.5h2.49v6.23h-2.49zM442.39 1.5h2.49v6.23h-2.49zM420 7.73h2.49v6.23h-2.49zM429.95 13.95h2.49v6.23h-2.49zM434.93 32.63h2.49v6.23h-2.49zM427.46 38.86h2.49v6.23h-2.49zM479.7 45.08h2.49v6.23h-2.49zM434.93 51.31h2.49v6.23h-2.49zM442.39 51.31h2.49v6.23h-2.49zM529.45 51.31h2.49v6.23h-2.49zM517.01 69.99h2.49v6.23h-2.49zM529.45 69.99h2.49v6.23h-2.49zM427.46 76.21h2.49v6.23h-2.49zM434.93 76.21h2.49v6.23h-2.49zM494.62 88.66h4.97v6.23h-4.97zM509.55 88.66h2.49v6.23h-2.49zM482.19 94.89h2.49v6.23h-2.49zM494.62 94.89h2.49v6.23h-2.49zM442.39 101.12h2.49v6.23h-2.49zM494.62 101.12h2.49v6.23h-2.49zM482.19 107.34h4.97v6.23h-4.97zM494.62 113.57h4.97v6.23h-4.97zM529.45 119.79h2.49v6.23h-2.49zM439.9 132.25h2.49v6.23h-2.49zM482.19 132.25h2.49v6.23h-2.49zM497.11 138.47h2.49v6.23h-2.49zM534.42 138.47h2.49v6.23h-2.49zM437.41 144.7h2.49v6.23h-2.49zM484.67 150.92h2.49v6.23h-2.49zM494.62 150.92h2.49v6.23h-2.49zM517.01 163.38h2.49v6.23h-2.49zM529.45 163.38h2.49v6.23h-2.49zM507.06 169.6h2.49v6.23h-2.49zM517.01 169.6h2.49v6.23h-2.49zM517.01 182.05h2.49v6.23h-2.49zM484.67 188.28h2.49v6.23h-2.49zM489.65 194.51h2.49v6.23h-2.49zM529.45 194.51h2.49v6.23h-2.49zM437.41 206.96h2.49v6.23h-2.49zM487.16 206.96h2.49v6.23h-2.49zM439.9 213.18h2.49v6.23h-2.49zM499.6 213.18h2.49v6.23h-2.49zM442.39 219.41h2.49v6.23h-2.49zM487.16 219.41h2.49v6.23h-2.49zM499.6 219.41h2.49v6.23h-2.49zM487.16 225.64h4.97v6.23h-4.97zM497.11 225.64h2.49v6.23h-2.49zM514.52 225.64h2.49v6.23h-2.49zM534.42 231.86h2.49v6.23h-2.49zM439.9 244.31h2.49v6.23h-2.49zM489.65 250.54h2.49v6.23h-2.49zM544.37 250.54h507.43v6.23h-507.43zM397.61 256.77h2.49v6.23h-2.49zM531.93 256.77h2.49v6.23h-2.49zM412.54 262.99h2.49v6.23h-2.49zM509.55 275.44h4.97v6.23h-4.97zM417.51 281.67h2.49v6.23h-2.49zM497.11 281.67h2.49v6.23h-2.49zM507.06 281.67h2.49v6.23h-2.49zM521.98 281.67h2.49v6.23h-2.49zM531.93 281.67h2.49v6.23h-2.49zM489.65 287.9h2.49v6.23h-2.49zM497.11 287.9h2.49v6.23h-2.49zM507.06 287.9h2.49v6.23h-2.49zM514.52 287.9h2.49v6.23h-2.49zM439.9 294.12h2.49v6.23h-2.49zM484.67 300.35h2.49v6.23h-2.49zM499.6 300.35h2.49v6.23h-2.49zM400.1 306.57h2.49v6.23h-2.49zM432.44 306.57h2.49v6.23h-2.49zM467.26 306.57h2.49v6.23h-2.49zM472.24 306.57h2.49v6.23h-2.49zM479.7 306.57h2.49v6.23h-2.49zM497.11 306.57h2.49v6.23h-2.49zM514.52 306.57h2.49v6.23h-2.49z"/>
<path fill="#484bee" d="M429.95 7.73h2.49v6.23h-2.49zM420 13.95h2.49v6.23h-2.49zM439.9 13.95h2.49v6.23h-2.49zM422.49 32.63h2.49v6.23h-2.49zM437.41 38.86h2.49v6.23h-2.49zM427.46 45.08h2.49v6.23h-2.49zM427.46 51.31h2.49v6.23h-2.49zM420 57.53h2.49v6.23h-2.49zM432.44 57.53h4.97v6.23h-4.97zM494.62 57.53h2.49v6.23h-2.49zM507.06 57.53h2.49v6.23h-2.49zM529.45 63.76h2.49v6.23h-2.49zM437.41 69.99h7.46v6.23h-7.46zM494.62 69.99h4.97v6.23h-4.97zM494.62 82.44h2.49v6.23h-2.49zM427.46 88.66h2.49v6.23h-2.49zM442.39 94.89h2.49v6.23h-2.49zM422.49 107.34h2.49v6.23h-2.49zM437.41 107.34h7.46v6.23h-7.46zM529.45 107.34h4.97v6.23h-4.97zM531.93 119.79h2.49v6.23h-2.49zM497.11 126.02h2.49v6.23h-2.49zM427.46 132.25h2.49v6.23h-2.49zM482.19 138.47h2.49v6.23h-2.49zM507.06 138.47h2.49v6.23h-2.49zM482.19 150.92h2.49v6.23h-2.49zM499.6 157.15h2.49v6.23h-2.49zM439.9 163.38h2.49v6.23h-2.49zM489.65 163.38h2.49v6.23h-2.49zM439.9 169.6h2.49v6.23h-2.49zM487.16 175.83h2.49v6.23h-2.49zM497.11 175.83h2.49v6.23h-2.49zM517.01 175.83h2.49v6.23h-2.49zM489.65 182.05h2.49v6.23h-2.49zM507.06 182.05h2.49v6.23h-2.49zM529.45 182.05h2.49v6.23h-2.49zM497.11 188.28h2.49v6.23h-2.49zM484.67 206.96h2.49v6.23h-2.49zM497.11 206.96h2.49v6.23h-2.49zM439.9 219.41h2.49v6.23h-2.49zM489.65 219.41h2.49v6.23h-2.49zM507.06 225.64h2.49v6.23h-2.49zM529.45 225.64h2.49v6.23h-2.49zM442.39 238.09h2.49v6.23h-2.49zM499.6 238.09h2.49v6.23h-2.49zM497.11 244.31h2.49v6.23h-2.49zM484.67 256.77h2.49v6.23h-2.49zM489.65 256.77h2.49v6.23h-2.49zM499.6 275.44h2.49v6.23h-2.49zM534.42 275.44h2.49v6.23h-2.49zM484.67 281.67h4.97v6.23h-4.97zM529.45 287.9h2.49v6.23h-2.49zM509.55 294.12h4.97v6.23h-4.97zM517.01 294.12h2.49v6.23h-2.49zM417.51 300.35h2.49v6.23h-2.49zM507.06 300.35h2.49v6.23h-2.49zM514.52 300.35h2.49v6.23h-2.49zM534.42 300.35h2.49v6.23h-2.49zM541.88 300.35h2.49v6.23h-2.49zM482.19 306.57h2.49v6.23h-2.49zM489.65 306.57h2.49v6.23h-2.49z"/>
<path fill="#484ef0" d="M427.46 1.5h2.49v6.23h-2.49zM432.44 7.73h2.49v6.23h-2.49zM427.46 13.95h2.49v6.23h-2.49zM429.95 20.18h2.49v6.23h-2.49zM439.9 38.86h4.97v6.23h-4.97zM422.49 57.53h2.49v6.23h-2.49zM420 63.76h2.49v6.23h-2.49zM482.19 63.76h2.49v6.23h-2.49zM497.11 63.76h2.49v6.23h-2.49zM429.95 69.99h2.49v6.23h-2.49zM429.95 82.44h4.97v6.23h-4.97zM517.01 82.44h2.49v6.23h-2.49zM422.49 94.89h2.49v6.23h-2.49zM437.41 101.12h2.49v6.23h-2.49zM482.19 101.12h2.49v6.23h-2.49zM427.46 119.79h7.46v6.23h-7.46zM434.93 126.02h2.49v6.23h-2.49zM529.45 126.02h2.49v6.23h-2.49zM494.62 138.47h2.49v6.23h-2.49zM434.93 150.92h4.97v6.23h-4.97zM489.65 157.15h2.49v6.23h-2.49zM442.39 163.38h2.49v6.23h-2.49zM489.65 169.6h2.49v6.23h-2.49zM499.6 169.6h2.49v6.23h-2.49zM484.67 182.05h2.49v6.23h-2.49zM489.65 188.28h2.49v6.23h-2.49zM499.6 206.96h2.49v6.23h-2.49zM434.93 213.18h2.49v6.23h-2.49zM484.67 213.18h2.49v6.23h-2.49zM484.67 219.41h2.49v6.23h-2.49zM437.41 225.64h2.49v6.23h-2.49zM489.65 231.86h2.49v6.23h-2.49zM497.11 231.86h2.49v6.23h-2.49zM489.65 244.31h2.49v6.23h-2.49zM499.6 244.31h2.49v6.23h-2.49zM514.52 244.31h2.49v6.23h-2.49zM499.6 250.54h2.49v6.23h-2.49zM417.51 256.77h2.49v6.23h-2.49zM544.37 262.99h507.43v6.23h-507.43zM514.52 281.67h4.97v6.23h-4.97zM499.6 294.12h2.49v6.23h-2.49zM529.45 294.12h2.49v6.23h-2.49zM534.42 294.12h2.49v6.23h-2.49zM434.93 300.35h2.49v6.23h-2.49zM439.9 300.35h2.49v6.23h-2.49zM509.55 300.35h2.49v6.23h-2.49zM531.93 300.35h2.49v6.23h-2.49zM407.56 306.57h2.49v6.23h-2.49zM415.03 306.57h2.49v6.23h-2.49zM429.95 306.57h2.49v6.23h-2.49z"/>
<path fill="#4751f2" d="M429.95 1.5h2.49v6.23h-2.49zM439.9 7.73h2.49v6.23h-2.49zM427.46 20.18h2.49v6.23h-2.49zM427.46 26.4h2.49v6.23h-2.49zM429.95 32.63h2.49v6.23h-2.49zM437.41 32.63h4.97v6.23h-4.97zM424.98 45.08h2.49v6.23h-2.49zM439.9 45.08h2.49v6.23h-2.49zM432.44 51.31h2.49v6.23h-2.49zM437.41 57.53h2.49v6.23h-2.49zM434.93 63.76h2.49v6.23h-2.49zM434.93 69.99h2.49v6.23h-2.49zM429.95 76.21h2.49v6.23h-2.49zM479.7 76.21h4.97v6.23h-4.97zM494.62 76.21h2.49v6.23h-2.49zM482.19 82.44h2.49v6.23h-2.49zM432.44 88.66h2.49v6.23h-2.49zM482.19 88.66h2.49v6.23h-2.49zM479.7 94.89h2.49v6.23h-2.49zM422.49 101.12h2.49v6.23h-2.49zM439.9 101.12h2.49v6.23h-2.49zM439.9 113.57h2.49v6.23h-2.49zM482.19 113.57h2.49v6.23h-2.49zM422.49 119.79h2.49v6.23h-2.49zM479.7 126.02h2.49v6.23h-2.49zM432.44 132.25h4.97v6.23h-4.97zM494.62 132.25h2.49v6.23h-2.49zM432.44 138.47h2.49v6.23h-2.49zM479.7 150.92h2.49v6.23h-2.49zM482.19 157.15h2.49v6.23h-2.49zM434.93 188.28h4.97v6.23h-4.97zM427.46 194.51h2.49v6.23h-2.49zM499.6 194.51h2.49v6.23h-2.49zM497.11 213.18h2.49v6.23h-2.49zM499.6 225.64h2.49v6.23h-2.49zM437.41 231.86h4.97v6.23h-4.97zM482.19 231.86h2.49v6.23h-2.49zM497.11 250.54h2.49v6.23h-2.49zM482.19 256.77h2.49v6.23h-2.49zM497.11 275.44h2.49v6.23h-2.49zM507.06 275.44h2.49v6.23h-2.49zM514.52 275.44h2.49v6.23h-2.49zM531.93 275.44h2.49v6.23h-2.49zM517.01 287.9h2.49v6.23h-2.49zM534.42 287.9h2.49v6.23h-2.49zM442.39 300.35h2.49v6.23h-2.49zM497.11 300.35h2.49v6.23h-2.49zM405.08 306.57h2.49v6.23h-2.49zM449.85 306.57h2.49v6.23h-2.49zM459.8 306.57h2.49v6.23h-2.49zM529.45 306.57h2.49v6.23h-2.49z"/>
<path fill="#4754f4" d="M434.93 1.5h2.49v6.23h-2.49zM424.98 13.95h2.49v6.23h-2.49zM420 32.63h2.49v6.23h-2.49zM420 38.86h2.49v6.23h-2.49zM432.44 38.86h2.49v6.23h-2.49zM429.95 45.08h4.97v6.23h-4.97zM479.7 51.31h2.49v6.23h-2.49zM439.9 57.53h2.49v6.23h-2.49zM422.49 69.99h2.49v6.23h-2.49zM437.41 76.21h2.49v6.23h-2.49zM479.7 82.44h2.49v6.23h-2.49zM432.44 101.12h4.97v6.23h-4.97zM479.7 107.34h2.49v6.23h-2.49zM494.62 107.34h2.49v6.23h-2.49zM427.46 113.57h2.49v6.23h-2.49zM479.7 113.57h2.49v6.23h-2.49zM432.44 126.02h2.49v6.23h-2.49zM482.19 126.02h2.49v6.23h-2.49zM434.93 138.47h4.97v6.23h-4.97zM439.9 144.7h2.49v6.23h-2.49zM494.62 169.6h4.97v6.23h-4.97zM439.9 175.83h2.49v6.23h-2.49zM429.95 182.05h4.97v6.23h-4.97zM439.9 188.28h2.49v6.23h-2.49zM482.19 188.28h2.49v6.23h-2.49zM434.93 200.73h2.49v6.23h-2.49zM482.19 206.96h2.49v6.23h-2.49zM432.44 213.18h2.49v6.23h-2.49zM437.41 219.41h2.49v6.23h-2.49zM497.11 219.41h2.49v6.23h-2.49zM422.49 225.64h2.49v6.23h-2.49zM432.44 225.64h2.49v6.23h-2.49zM439.9 225.64h2.49v6.23h-2.49zM429.95 231.86h2.49v6.23h-2.49zM437.41 238.09h2.49v6.23h-2.49zM494.62 238.09h2.49v6.23h-2.49zM424.98 244.31h2.49v6.23h-2.49zM424.98 250.54h2.49v6.23h-2.49zM434.93 250.54h2.49v6.23h-2.49zM410.05 256.77h2.49v6.23h-2.49zM494.62 256.77h2.49v6.23h-2.49zM482.19 275.44h2.49v6.23h-2.49zM410.05 281.67h2.49v6.23h-2.49zM509.55 281.67h2.49v6.23h-2.49zM529.45 281.67h2.49v6.23h-2.49zM432.44 300.35h2.49v6.23h-2.49zM517.01 300.35h2.49v6.23h-2.49zM422.49 306.57h2.49v6.23h-2.49zM434.93 306.57h2.49v6.23h-2.49z"/>
<path fill="#4757f6" d="M420 1.5h2.49v6.23h-2.49zM427.46 7.73h2.49v6.23h-2.49zM437.41 20.18h2.49v6.23h-2.49zM420 26.4h2.49v6.23h-2.49zM432.44 26.4h2.49v6.23h-2.49zM427.46 32.63h2.49v6.23h-2.49zM432.44 32.63h2.49v6.23h-2.49zM420 45.08h2.49v6.23h-2.49zM429.95 57.53h2.49v6.23h-2.49zM482.19 57.53h2.49v6.23h-2.49zM422.49 63.76h2.49v6.23h-2.49zM432.44 63.76h2.49v6.23h-2.49zM494.62 63.76h2.49v6.23h-2.49zM479.7 88.66h2.49v6.23h-2.49zM429.95 94.89h2.49v6.23h-2.49zM437.41 94.89h2.49v6.23h-2.49zM479.7 101.12h2.49v6.23h-2.49zM432.44 107.34h2.49v6.23h-2.49zM432.44 113.57h2.49v6.23h-2.49zM479.7 119.79h2.49v6.23h-2.49zM427.46 126.02h2.49v6.23h-2.49zM479.7 138.47h2.49v6.23h-2.49zM422.49 144.7h2.49v6.23h-2.49zM434.93 157.15h4.97v6.23h-4.97zM482.19 163.38h2.49v6.23h-2.49zM497.11 163.38h2.49v6.23h-2.49zM427.46 169.6h4.97v6.23h-4.97zM432.44 188.28h2.49v6.23h-2.49zM437.41 194.51h2.49v6.23h-2.49zM482.19 194.51h2.49v6.23h-2.49zM437.41 200.73h2.49v6.23h-2.49zM482.19 200.73h2.49v6.23h-2.49zM494.62 206.96h2.49v6.23h-2.49zM422.49 213.18h2.49v6.23h-2.49zM482.19 219.41h2.49v6.23h-2.49zM432.44 231.86h2.49v6.23h-2.49zM494.62 231.86h2.49v6.23h-2.49zM432.44 238.09h2.49v6.23h-2.49zM497.11 238.09h2.49v6.23h-2.49zM439.9 250.54h2.49v6.23h-2.49zM494.62 250.54h2.49v6.23h-2.49zM412.54 256.77h2.49v6.23h-2.49zM494.62 275.44h2.49v6.23h-2.49zM517.01 275.44h2.49v6.23h-2.49zM499.6 281.67h2.49v6.23h-2.49zM410.05 294.12h2.49v6.23h-2.49zM497.11 294.12h2.49v6.23h-2.49zM507.06 294.12h2.49v6.23h-2.49zM422.49 300.35h2.49v6.23h-2.49zM494.62 300.35h2.49v6.23h-2.49zM387.66 306.57h2.49v6.23h-2.49z"/>
<path fill="#475af8" d="M437.41 26.4h2.49v6.23h-2.49zM429.95 38.86h2.49v6.23h-2.49zM405.08 51.31h2.49v6.23h-2.49zM422.49 51.31h4.97v6.23h-4.97zM424.98 57.53h2.49v6.23h-2.49zM424.98 63.76h2.49v6.23h-2.49zM427.46 69.99h2.49v6.23h-2.49zM479.7 69.99h2.49v6.23h-2.49zM432.44 76.21h2.49v6.23h-2.49zM439.9 76.21h2.49v6.23h-2.49zM427.46 82.44h2.49v6.23h-2.49zM434.93 82.44h2.49v6.23h-2.49zM422.49 88.66h2.49v6.23h-2.49zM439.9 88.66h2.49v6.23h-2.49zM424.98 94.89h2.49v6.23h-2.49zM429.95 101.12h2.49v6.23h-2.49zM429.95 113.57h2.49v6.23h-2.49zM437.41 119.79h2.49v6.23h-2.49zM437.41 132.25h2.49v6.23h-2.49zM479.7 132.25h2.49v6.23h-2.49zM427.46 144.7h2.49v6.23h-2.49zM432.44 144.7h4.97v6.23h-4.97zM420 150.92h2.49v6.23h-2.49zM437.41 163.38h2.49v6.23h-2.49zM494.62 163.38h2.49v6.23h-2.49zM420 169.6h2.49v6.23h-2.49zM482.19 169.6h2.49v6.23h-2.49zM432.44 175.83h2.49v6.23h-2.49zM482.19 175.83h2.49v6.23h-2.49zM494.62 175.83h2.49v6.23h-2.49zM499.6 175.83h2.49v6.23h-2.49zM494.62 182.05h2.49v6.23h-2.49zM494.62 194.51h4.97v6.23h-4.97zM494.62 200.73h2.49v6.23h-2.49zM427.46 206.96h2.49v6.23h-2.49zM439.9 206.96h2.49v6.23h-2.49zM494.62 213.18h2.49v6.23h-2.49zM494.62 219.41h2.49v6.23h-2.49zM482.19 238.09h2.49v6.23h-2.49zM434.93 244.31h2.49v6.23h-2.49zM482.19 244.31h2.49v6.23h-2.49zM407.56 256.77h2.49v6.23h-2.49zM395.13 269.22h2.49v6.23h-2.49zM395.13 275.44h2.49v6.23h-2.49zM407.56 281.67h2.49v6.23h-2.49zM494.62 281.67h2.49v6.23h-2.49zM407.56 287.9h2.49v6.23h-2.49zM499.6 287.9h2.49v6.23h-2.49zM412.54 300.35h2.49v6.23h-2.49zM424.98 300.35h2.49v6.23h-2.49zM482.19 300.35h2.49v6.23h-2.49zM417.51 306.57h2.49v6.23h-2.49zM437.41 306.57h4.97v6.23h-4.97z"/>
<path fill="#465dfa" d="M422.49 13.95h2.49v6.23h-2.49zM432.44 13.95h2.49v6.23h-2.49zM422.49 38.86h2.49v6.23h-2.49zM415.03 45.08h2.49v6.23h-2.49zM437.41 45.08h2.49v6.23h-2.49zM427.46 57.53h2.49v6.23h-2.49zM429.95 63.76h2.49v6.23h-2.49zM479.7 63.76h2.49v6.23h-2.49zM417.51 69.99h2.49v6.23h-2.49zM424.98 69.99h2.49v6.23h-2.49zM432.44 69.99h2.49v6.23h-2.49zM424.98 76.21h2.49v6.23h-2.49zM420 82.44h2.49v6.23h-2.49zM437.41 82.44h4.97v6.23h-4.97zM432.44 94.89h2.49v6.23h-2.49zM427.46 101.12h2.49v6.23h-2.49zM437.41 113.57h2.49v6.23h-2.49zM434.93 119.79h2.49v6.23h-2.49zM437.41 126.02h2.49v6.23h-2.49zM422.49 132.25h2.49v6.23h-2.49zM429.95 132.25h2.49v6.23h-2.49zM420 138.47h2.49v6.23h-2.49zM429.95 144.7h2.49v6.23h-2.49zM422.49 150.92h2.49v6.23h-2.49zM427.46 150.92h2.49v6.23h-2.49zM439.9 157.15h2.49v6.23h-2.49zM497.11 157.15h2.49v6.23h-2.49zM427.46 163.38h2.49v6.23h-2.49zM432.44 163.38h4.97v6.23h-4.97zM429.95 175.83h2.49v6.23h-2.49zM439.9 182.05h4.97v6.23h-4.97zM482.19 182.05h2.49v6.23h-2.49zM427.46 188.28h2.49v6.23h-2.49zM494.62 188.28h2.49v6.23h-2.49zM434.93 194.51h2.49v6.23h-2.49zM427.46 213.18h2.49v6.23h-2.49zM437.41 213.18h2.49v6.23h-2.49zM429.95 219.41h2.49v6.23h-2.49zM479.7 219.41h2.49v6.23h-2.49zM422.49 238.09h2.49v6.23h-2.49zM479.7 244.31h2.49v6.23h-2.49zM494.62 244.31h2.49v6.23h-2.49zM420 250.54h4.97v6.23h-4.97zM482.19 250.54h2.49v6.23h-2.49zM497.11 256.77h4.97v6.23h-4.97zM544.37 256.77h507.43v6.23h-507.43zM482.19 281.67h2.49v6.23h-2.49zM494.62 287.9h2.49v6.23h-2.49zM407.56 294.12h2.49v6.23h-2.49zM494.62 294.12h2.49v6.23h-2.49zM377.72 306.57h2.49v6.23h-2.49zM385.18 306.57h2.49v6.23h-2.49zM397.61 306.57h2.49v6.23h-2.49z"/>
<path fill="#4660fc" d="M415.03 1.5h2.49v6.23h-2.49zM407.56 13.95h2.49v6.23h-2.49zM417.51 13.95h2.49v6.23h-2.49zM415.03 20.18h2.49v6.23h-2.49zM437.41 51.31h2.49v6.23h-2.49zM479.7 57.53h2.49v6.23h-2.49zM417.51 63.76h2.49v6.23h-2.49zM422.49 76.21h2.49v6.23h-2.49zM437.41 88.66h2.49v6.23h-2.49zM427.46 94.89h2.49v6.23h-2.49zM429.95 107.34h2.49v6.23h-2.49zM422.49 126.02h4.97v6.23h-4.97zM429.95 157.15h2.49v6.23h-2.49zM494.62 157.15h2.49v6.23h-2.49zM479.7 169.6h2.49v6.23h-2.49zM434.93 182.05h2.49v6.23h-2.49zM415.03 213.18h2.49v6.23h-2.49zM482.19 213.18h2.49v6.23h-2.49zM427.46 219.41h2.49v6.23h-2.49zM482.19 225.64h2.49v6.23h-2.49zM494.62 225.64h2.49v6.23h-2.49zM395.13 262.99h2.49v6.23h-2.49zM529.45 275.44h2.49v6.23h-2.49zM479.7 287.9h4.97v6.23h-4.97zM420 306.57h2.49v6.23h-2.49z"/>
<path fill="#4463fc" d="M424.98 7.73h2.49v6.23h-2.49zM420 20.18h2.49v6.23h-2.49zM424.98 26.4h2.49v6.23h-2.49zM429.95 26.4h2.49v6.23h-2.49zM429.95 51.31h2.49v6.23h-2.49zM420 69.99h2.49v6.23h-2.49zM429.95 88.66h2.49v6.23h-2.49zM434.93 107.34h2.49v6.23h-2.49zM370.25 126.02h2.49v6.23h-2.49zM420 144.7h2.49v6.23h-2.49zM424.98 157.15h2.49v6.23h-2.49zM432.44 157.15h2.49v6.23h-2.49zM432.44 169.6h2.49v6.23h-2.49zM424.98 182.05h2.49v6.23h-2.49zM479.7 188.28h2.49v6.23h-2.49zM479.7 194.51h2.49v6.23h-2.49zM434.93 206.96h2.49v6.23h-2.49zM422.49 219.41h4.97v6.23h-4.97zM427.46 225.64h4.97v6.23h-4.97zM479.7 225.64h2.49v6.23h-2.49zM427.46 231.86h2.49v6.23h-2.49zM427.46 238.09h2.49v6.23h-2.49zM407.56 250.54h2.49v6.23h-2.49zM427.46 250.54h2.49v6.23h-2.49zM479.7 250.54h2.49v6.23h-2.49zM479.7 281.67h2.49v6.23h-2.49zM410.05 287.9h2.49v6.23h-2.49zM479.7 294.12h2.49v6.23h-2.49zM407.56 300.35h2.49v6.23h-2.49zM415.03 300.35h2.49v6.23h-2.49z"/>
<path fill="#4267fc" d="M407.56 7.73h2.49v6.23h-2.49zM415.03 32.63h4.97v6.23h-4.97zM424.98 82.44h2.49v6.23h-2.49zM420 113.57h2.49v6.23h-2.49zM420 119.79h2.49v6.23h-2.49zM429.95 126.02h2.49v6.23h-2.49zM424.98 150.92h2.49v6.23h-2.49zM429.95 163.38h2.49v6.23h-2.49zM422.49 169.6h2.49v6.23h-2.49zM427.46 175.83h2.49v6.23h-2.49zM420 182.05h4.97v6.23h-4.97zM479.7 182.05h2.49v6.23h-2.49zM422.49 194.51h2.49v6.23h-2.49zM427.46 200.73h7.46v6.23h-7.46zM479.7 213.18h2.49v6.23h-2.49zM434.93 219.41h2.49v6.23h-2.49zM429.95 238.09h2.49v6.23h-2.49zM390.15 262.99h2.49v6.23h-2.49zM479.7 275.44h2.49v6.23h-2.49zM482.19 294.12h2.49v6.23h-2.49z"/>
<path fill="#406afc" d="M415.03 7.73h2.49v6.23h-2.49zM415.03 26.4h2.49v6.23h-2.49zM424.98 38.86h2.49v6.23h-2.49zM415.03 51.31h2.49v6.23h-2.49zM415.03 63.76h2.49v6.23h-2.49zM417.51 88.66h4.97v6.23h-4.97zM424.98 113.57h2.49v6.23h-2.49zM424.98 119.79h2.49v6.23h-2.49zM420 132.25h2.49v6.23h-2.49zM422.49 138.47h2.49v6.23h-2.49zM429.95 150.92h4.97v6.23h-4.97zM422.49 157.15h2.49v6.23h-2.49zM479.7 157.15h2.49v6.23h-2.49zM479.7 163.38h2.49v6.23h-2.49zM420 175.83h2.49v6.23h-2.49zM479.7 175.83h2.49v6.23h-2.49zM427.46 182.05h2.49v6.23h-2.49zM437.41 182.05h2.49v6.23h-2.49zM424.98 188.28h2.49v6.23h-2.49zM424.98 194.51h2.49v6.23h-2.49zM432.44 194.51h2.49v6.23h-2.49zM429.95 213.18h2.49v6.23h-2.49zM424.98 225.64h2.49v6.23h-2.49zM479.7 231.86h2.49v6.23h-2.49zM479.7 238.09h2.49v6.23h-2.49zM427.46 244.31h2.49v6.23h-2.49zM479.7 256.77h2.49v6.23h-2.49zM390.15 306.57h2.49v6.23h-2.49zM395.13 306.57h2.49v6.23h-2.49zM412.54 306.57h2.49v6.23h-2.49zM424.98 306.57h2.49v6.23h-2.49z"/>
<path fill="#3e6dfc" d="M397.61 20.18h2.49v6.23h-2.49zM424.98 20.18h2.49v6.23h-2.49zM417.51 26.4h2.49v6.23h-2.49zM424.98 32.63h2.49v6.23h-2.49zM422.49 82.44h2.49v6.23h-2.49zM415.03 88.66h2.49v6.23h-2.49zM424.98 88.66h2.49v6.23h-2.49zM415.03 94.89h2.49v6.23h-2.49zM420 101.12h2.49v6.23h-2.49zM420 107.34h2.49v6.23h-2.49zM415.03 113.57h2.49v6.23h-2.49zM422.49 113.57h2.49v6.23h-2.49zM427.46 138.47h2.49v6.23h-2.49zM424.98 169.6h2.49v6.23h-2.49zM422.49 175.83h2.49v6.23h-2.49zM432.44 219.41h2.49v6.23h-2.49zM422.49 231.86h2.49v6.23h-2.49zM424.98 238.09h2.49v6.23h-2.49zM420 244.31h2.49v6.23h-2.49zM432.44 244.31h2.49v6.23h-2.49zM432.44 250.54h2.49v6.23h-2.49zM405.08 256.77h2.49v6.23h-2.49zM410.05 300.35h2.49v6.23h-2.49zM479.7 300.35h2.49v6.23h-2.49zM382.69 306.57h2.49v6.23h-2.49z"/>
<path fill="#3c70fd" d="M412.54 1.5h2.49v6.23h-2.49zM417.51 7.73h2.49v6.23h-2.49zM415.03 13.95h2.49v6.23h-2.49zM417.51 20.18h2.49v6.23h-2.49zM412.54 32.63h2.49v6.23h-2.49zM417.51 45.08h2.49v6.23h-2.49zM417.51 57.53h2.49v6.23h-2.49zM437.41 63.76h2.49v6.23h-2.49zM415.03 69.99h2.49v6.23h-2.49zM417.51 76.21h2.49v6.23h-2.49zM415.03 82.44h2.49v6.23h-2.49zM424.98 107.34h2.49v6.23h-2.49zM415.03 132.25h2.49v6.23h-2.49zM420 163.38h2.49v6.23h-2.49zM415.03 169.6h2.49v6.23h-2.49zM437.41 169.6h2.49v6.23h-2.49zM424.98 200.73h2.49v6.23h-2.49zM479.7 200.73h2.49v6.23h-2.49zM422.49 206.96h2.49v6.23h-2.49zM422.49 244.31h2.49v6.23h-2.49zM429.95 250.54h2.49v6.23h-2.49zM375.23 306.57h2.49v6.23h-2.49z"/>
<path fill="#3973fd" d="M397.61 26.4h2.49v6.23h-2.49zM412.54 26.4h2.49v6.23h-2.49zM424.98 132.25h2.49v6.23h-2.49zM427.46 157.15h2.49v6.23h-2.49zM422.49 163.38h2.49v6.23h-2.49zM420 206.96h2.49v6.23h-2.49zM424.98 206.96h2.49v6.23h-2.49zM429.95 206.96h2.49v6.23h-2.49zM420 225.64h2.49v6.23h-2.49zM420 231.86h2.49v6.23h-2.49zM437.41 244.31h2.49v6.23h-2.49zM397.61 281.67h2.49v6.23h-2.49zM400.1 300.35h7.46v6.23h-7.46z"/>
<path fill="#3776fd" d="M415.03 38.86h2.49v6.23h-2.49zM397.61 51.31h2.49v6.23h-2.49zM417.51 51.31h2.49v6.23h-2.49zM407.56 69.99h2.49v6.23h-2.49zM424.98 101.12h2.49v6.23h-2.49zM424.98 138.47h2.49v6.23h-2.49zM424.98 175.83h2.49v6.23h-2.49zM420 188.28h2.49v6.23h-2.49zM415.03 194.51h2.49v6.23h-2.49zM479.7 206.96h2.49v6.23h-2.49zM424.98 231.86h2.49v6.23h-2.49zM420 238.09h2.49v6.23h-2.49zM429.95 244.31h2.49v6.23h-2.49zM417.51 250.54h2.49v6.23h-2.49zM400.1 281.67h2.49v6.23h-2.49zM392.64 306.57h2.49v6.23h-2.49z"/>
<path fill="#3579fd" d="M397.61 7.73h2.49v6.23h-2.49zM412.54 7.73h2.49v6.23h-2.49zM405.08 20.18h2.49v6.23h-2.49zM407.56 32.63h2.49v6.23h-2.49zM417.51 38.86h2.49v6.23h-2.49zM410.05 63.76h2.49v6.23h-2.49zM397.61 69.99h2.49v6.23h-2.49zM417.51 101.12h2.49v6.23h-2.49zM417.51 132.25h2.49v6.23h-2.49zM429.95 188.28h2.49v6.23h-2.49zM420 200.73h2.49v6.23h-2.49zM420 213.18h2.49v6.23h-2.49zM392.64 262.99h2.49v6.23h-2.49zM400.1 294.12h2.49v6.23h-2.49zM402.59 306.57h2.49v6.23h-2.49z"/>
<path fill="#337cfb" d="M405.08 45.08h2.49v6.23h-2.49zM410.05 51.31h2.49v6.23h-2.49zM412.54 76.21h2.49v6.23h-2.49zM424.98 144.7h2.49v6.23h-2.49zM420 157.15h2.49v6.23h-2.49zM424.98 213.18h2.49v6.23h-2.49zM417.51 231.86h2.49v6.23h-2.49zM402.59 256.77h2.49v6.23h-2.49zM387.66 262.99h2.49v6.23h-2.49z"/>
<path fill="#317ff9" d="M410.05 1.5h2.49v6.23h-2.49zM412.54 13.95h2.49v6.23h-2.49zM410.05 20.18h2.49v6.23h-2.49zM410.05 26.4h2.49v6.23h-2.49zM405.08 57.53h2.49v6.23h-2.49zM415.03 57.53h2.49v6.23h-2.49zM412.54 63.76h2.49v6.23h-2.49zM415.03 76.21h2.49v6.23h-2.49zM415.03 138.47h4.97v6.23h-4.97zM422.49 200.73h2.49v6.23h-2.49zM415.03 231.86h2.49v6.23h-2.49zM402.59 294.12h2.49v6.23h-2.49zM410.05 306.57h2.49v6.23h-2.49z"/>
<path fill="#2e82f6" d="M417.51 1.5h2.49v6.23h-2.49zM410.05 7.73h2.49v6.23h-2.49zM407.56 20.18h2.49v6.23h-2.49zM405.08 26.4h2.49v6.23h-2.49zM400.1 38.86h2.49v6.23h-2.49zM410.05 38.86h2.49v6.23h-2.49zM400.1 45.08h2.49v6.23h-2.49zM412.54 57.53h2.49v6.23h-2.49zM397.61 63.76h2.49v6.23h-2.49zM417.51 82.44h2.49v6.23h-2.49zM412.54 94.89h2.49v6.23h-2.49zM420 94.89h2.49v6.23h-2.49zM415.03 119.79h2.49v6.23h-2.49zM415.03 126.02h2.49v6.23h-2.49zM420 126.02h2.49v6.23h-2.49zM417.51 144.7h2.49v6.23h-2.49zM422.49 188.28h2.49v6.23h-2.49zM420 194.51h2.49v6.23h-2.49zM392.64 269.22h2.49v6.23h-2.49zM405.08 287.9h2.49v6.23h-2.49zM405.08 294.12h2.49v6.23h-2.49z"/>
<path fill="#2c86f4" d="M407.56 1.5h2.49v6.23h-2.49zM412.54 38.86h2.49v6.23h-2.49zM410.05 45.08h2.49v6.23h-2.49zM407.56 63.76h2.49v6.23h-2.49zM410.05 69.99h2.49v6.23h-2.49zM405.08 76.21h2.49v6.23h-2.49zM410.05 76.21h2.49v6.23h-2.49zM417.51 107.34h2.49v6.23h-2.49zM370.25 119.79h2.49v6.23h-2.49zM415.03 144.7h2.49v6.23h-2.49zM424.98 163.38h2.49v6.23h-2.49zM417.51 225.64h2.49v6.23h-2.49zM405.08 281.67h2.49v6.23h-2.49z"/>
<path fill="#2a89f2" d="M410.05 13.95h2.49v6.23h-2.49zM412.54 20.18h2.49v6.23h-2.49zM410.05 32.63h2.49v6.23h-2.49zM407.56 38.86h2.49v6.23h-2.49zM412.54 69.99h2.49v6.23h-2.49zM417.51 119.79h2.49v6.23h-2.49zM415.03 150.92h2.49v6.23h-2.49zM415.03 157.15h2.49v6.23h-2.49zM417.51 163.38h2.49v6.23h-2.49zM417.51 175.83h2.49v6.23h-2.49zM415.03 250.54h2.49v6.23h-2.49z"/>
<path fill="#288cf0" d="M405.08 13.95h2.49v6.23h-2.49zM400.1 32.63h2.49v6.23h-2.49zM405.08 32.63h2.49v6.23h-2.49zM407.56 51.31h2.49v6.23h-2.49zM407.56 76.21h2.49v6.23h-2.49zM410.05 88.66h2.49v6.23h-2.49zM415.03 101.12h2.49v6.23h-2.49zM417.51 126.02h2.49v6.23h-2.49zM417.51 157.15h2.49v6.23h-2.49zM417.51 169.6h2.49v6.23h-2.49zM412.54 200.73h2.49v6.23h-2.49zM385.18 262.99h2.49v6.23h-2.49z"/>
<path fill="#278eee" d="M412.54 45.08h2.49v6.23h-2.49zM370.25 51.31h2.49v6.23h-2.49zM370.25 57.53h2.49v6.23h-2.49zM402.59 63.76h2.49v6.23h-2.49zM405.08 69.99h2.49v6.23h-2.49zM370.25 76.21h2.49v6.23h-2.49zM407.56 88.66h2.49v6.23h-2.49zM415.03 107.34h2.49v6.23h-2.49zM415.03 182.05h4.97v6.23h-4.97zM420 219.41h2.49v6.23h-2.49zM405.08 250.54h2.49v6.23h-2.49zM402.59 287.9h2.49v6.23h-2.49zM380.2 306.57h2.49v6.23h-2.49z"/>
<path fill="#2591ec" d="M405.08 1.5h2.49v6.23h-2.49zM407.56 26.4h2.49v6.23h-2.49zM397.61 38.86h2.49v6.23h-2.49zM407.56 57.53h2.49v6.23h-2.49zM397.61 76.21h2.49v6.23h-2.49zM417.51 94.89h2.49v6.23h-2.49zM412.54 113.57h2.49v6.23h-2.49zM417.51 113.57h2.49v6.23h-2.49zM370.25 138.47h2.49v6.23h-2.49zM417.51 150.92h2.49v6.23h-2.49zM417.51 200.73h2.49v6.23h-2.49z"/>
<path fill="#2494ea" d="M400.1 7.73h2.49v6.23h-2.49zM385.18 13.95h2.49v6.23h-2.49zM400.1 51.31h2.49v6.23h-2.49zM410.05 126.02h4.97v6.23h-4.97zM370.25 144.7h2.49v6.23h-2.49zM417.51 238.09h2.49v6.23h-2.49z"/>
<path fill="#2396e8" d="M370.25 13.95h2.49v6.23h-2.49zM397.61 13.95h2.49v6.23h-2.49zM402.59 26.4h2.49v6.23h-2.49zM370.25 32.63h2.49v6.23h-2.49zM397.61 32.63h2.49v6.23h-2.49zM370.25 82.44h2.49v6.23h-2.49zM370.25 113.57h2.49v6.23h-2.49zM412.54 132.25h2.49v6.23h-2.49zM412.54 138.47h2.49v6.23h-2.49zM415.03 163.38h2.49v6.23h-2.49zM415.03 188.28h2.49v6.23h-2.49zM415.03 206.96h2.49v6.23h-2.49zM412.54 238.09h2.49v6.23h-2.49zM417.51 244.31h2.49v6.23h-2.49zM412.54 250.54h2.49v6.23h-2.49z"/>
<path fill="#2198e6" d="M400.1 1.5h2.49v6.23h-2.49zM395.13 13.95h2.49v6.23h-2.49zM407.56 45.08h2.49v6.23h-2.49zM412.54 51.31h2.49v6.23h-2.49zM400.1 57.53h2.49v6.23h-2.49zM370.25 69.99h2.49v6.23h-2.49zM412.54 82.44h2.49v6.23h-2.49zM412.54 213.18h2.49v6.23h-2.49zM415.03 219.41h4.97v6.23h-4.97z"/>
<path fill="#209be4" d="M395.13 45.08h2.49v6.23h-2.49zM410.05 57.53h2.49v6.23h-2.49zM402.59 69.99h2.49v6.23h-2.49zM412.54 88.66h2.49v6.23h-2.49zM370.25 107.34h2.49v6.23h-2.49zM407.56 138.47h2.49v6.23h-2.49zM412.54 150.92h2.49v6.23h-2.49zM412.54 175.83h2.49v6.23h-2.49zM417.51 188.28h2.49v6.23h-2.49zM417.51 213.18h2.49v6.23h-2.49zM400.1 256.77h2.49v6.23h-2.49z"/>
<path fill="#1e9ee2" d="M395.13 7.73h2.49v6.23h-2.49zM405.08 7.73h2.49v6.23h-2.49zM412.54 144.7h2.49v6.23h-2.49zM415.03 200.73h2.49v6.23h-2.49zM417.51 206.96h2.49v6.23h-2.49zM412.54 225.64h2.49v6.23h-2.49zM410.05 231.86h2.49v6.23h-2.49zM415.03 244.31h2.49v6.23h-2.49zM410.05 250.54h2.49v6.23h-2.49z"/>
<path fill="#1da0e0" d="M405.08 82.44h2.49v6.23h-2.49zM412.54 101.12h2.49v6.23h-2.49zM410.05 132.25h2.49v6.23h-2.49zM415.03 225.64h2.49v6.23h-2.49zM382.69 262.99h2.49v6.23h-2.49z"/>
<path fill="#1ba2de" d="M385.18 51.31h2.49v6.23h-2.49zM370.25 94.89h2.49v6.23h-2.49zM407.56 94.89h2.49v6.23h-2.49zM417.51 194.51h2.49v6.23h-2.49zM392.64 256.77h2.49v6.23h-2.49zM372.74 262.99h2.49v6.23h-2.49zM380.2 262.99h2.49v6.23h-2.49z"/>
<path fill="#19a5dc" d="M402.59 1.5h2.49v6.23h-2.49zM400.1 13.95h2.49v6.23h-2.49zM402.59 20.18h2.49v6.23h-2.49zM385.18 69.99h2.49v6.23h-2.49zM370.25 101.12h2.49v6.23h-2.49zM407.56 182.05h2.49v6.23h-2.49zM412.54 182.05h2.49v6.23h-2.49zM407.56 200.73h2.49v6.23h-2.49z"/>
<path fill="#18a8da" d="M370.25 20.18h2.49v6.23h-2.49zM400.1 20.18h2.49v6.23h-2.49zM370.25 26.4h2.49v6.23h-2.49zM400.1 69.99h2.49v6.23h-2.49zM412.54 107.34h2.49v6.23h-2.49zM412.54 119.79h2.49v6.23h-2.49zM415.03 238.09h2.49v6.23h-2.49zM395.13 256.77h2.49v6.23h-2.49zM400.1 287.9h2.49v6.23h-2.49zM397.61 300.35h2.49v6.23h-2.49z"/>
<path fill="#16aad8" d="M405.08 63.76h2.49v6.23h-2.49zM412.54 163.38h2.49v6.23h-2.49z"/>
<path fill="#14acd5" d="M370.25 7.73h2.49v6.23h-2.49zM402.59 51.31h2.49v6.23h-2.49zM410.05 94.89h2.49v6.23h-2.49zM385.18 113.57h2.49v6.23h-2.49zM410.05 119.79h2.49v6.23h-2.49zM370.25 150.92h2.49v6.23h-2.49zM415.03 175.83h2.49v6.23h-2.49z"/>
<path fill="#12aed3" d="M402.59 13.95h2.49v6.23h-2.49zM392.64 26.4h2.49v6.23h-2.49zM370.25 38.86h2.49v6.23h-2.49zM405.08 38.86h2.49v6.23h-2.49zM397.61 45.08h2.49v6.23h-2.49zM370.25 63.76h2.49v6.23h-2.49zM405.08 101.12h2.49v6.23h-2.49zM410.05 113.57h2.49v6.23h-2.49zM407.56 175.83h2.49v6.23h-2.49zM410.05 182.05h2.49v6.23h-2.49zM407.56 244.31h2.49v6.23h-2.49z"/>
<path fill="#10b0d0" d="M400.1 26.4h2.49v6.23h-2.49zM370.25 45.08h2.49v6.23h-2.49zM395.13 51.31h2.49v6.23h-2.49zM407.56 113.57h2.49v6.23h-2.49zM370.25 132.25h2.49v6.23h-2.49zM405.08 138.47h2.49v6.23h-2.49zM407.56 238.09h2.49v6.23h-2.49zM375.23 262.99h2.49v6.23h-2.49z"/>
<path fill="#0eb3cd" d="M395.13 1.5h2.49v6.23h-2.49zM402.59 7.73h2.49v6.23h-2.49zM402.59 45.08h2.49v6.23h-2.49zM397.61 57.53h2.49v6.23h-2.49zM370.25 88.66h2.49v6.23h-2.49zM405.08 113.57h2.49v6.23h-2.49zM405.08 132.25h2.49v6.23h-2.49zM407.56 144.7h2.49v6.23h-2.49zM385.18 150.92h2.49v6.23h-2.49zM410.05 169.6h2.49v6.23h-2.49zM410.05 225.64h2.49v6.23h-2.49z"/>
<path fill="#0cb5cb" d="M385.18 45.08h2.49v6.23h-2.49zM407.56 132.25h2.49v6.23h-2.49zM405.08 144.7h2.49v6.23h-2.49z"/>
<path fill="#0ab7c8" d="M395.13 63.76h2.49v6.23h-2.49zM407.56 101.12h2.49v6.23h-2.49zM407.56 169.6h2.49v6.23h-2.49zM400.1 250.54h2.49v6.23h-2.49zM385.18 275.44h2.49v6.23h-2.49z"/>
<path fill="#0cb8c5" d="M370.25 1.5h2.49v6.23h-2.49zM402.59 57.53h2.49v6.23h-2.49zM400.1 63.76h2.49v6.23h-2.49zM410.05 107.34h2.49v6.23h-2.49zM392.64 275.44h2.49v6.23h-2.49z"/>
<path fill="#0eb9c1" d="M390.15 1.5h2.49v6.23h-2.49zM395.13 26.4h2.49v6.23h-2.49zM402.59 32.63h2.49v6.23h-2.49zM395.13 38.86h2.49v6.23h-2.49zM402.59 38.86h2.49v6.23h-2.49zM402.59 76.21h2.49v6.23h-2.49zM405.08 94.89h2.49v6.23h-2.49zM407.56 107.34h2.49v6.23h-2.49zM405.08 150.92h2.49v6.23h-2.49zM412.54 194.51h2.49v6.23h-2.49zM412.54 206.96h2.49v6.23h-2.49zM397.61 238.09h2.49v6.23h-2.49zM405.08 238.09h2.49v6.23h-2.49z"/>
<path fill="#10babe" d="M385.18 38.86h2.49v6.23h-2.49zM385.18 76.21h2.49v6.23h-2.49zM400.1 76.21h2.49v6.23h-2.49zM407.56 82.44h2.49v6.23h-2.49zM402.59 113.57h2.49v6.23h-2.49zM405.08 182.05h2.49v6.23h-2.49zM390.15 256.77h2.49v6.23h-2.49z"/>
<path fill="#12bcbb" d="M385.18 57.53h2.49v6.23h-2.49zM405.08 119.79h2.49v6.23h-2.49zM412.54 169.6h2.49v6.23h-2.49zM400.1 175.83h2.49v6.23h-2.49zM410.05 219.41h2.49v6.23h-2.49z"/>
<path fill="#14bdb7" d="M385.18 26.4h2.49v6.23h-2.49zM402.59 157.15h4.97v6.23h-4.97zM397.61 182.05h2.49v6.23h-2.49zM410.05 244.31h2.49v6.23h-2.49zM390.15 275.44h2.49v6.23h-2.49z"/>
<path fill="#16beb4" d="M410.05 82.44h2.49v6.23h-2.49zM402.59 150.92h2.49v6.23h-2.49zM407.56 194.51h2.49v6.23h-2.49zM405.08 200.73h2.49v6.23h-2.49zM410.05 200.73h2.49v6.23h-2.49zM410.05 213.18h2.49v6.23h-2.49zM407.56 231.86h2.49v6.23h-2.49zM370.25 262.99h2.49v6.23h-2.49zM387.66 275.44h2.49v6.23h-2.49zM397.61 294.12h2.49v6.23h-2.49z"/>
<path fill="#1bbfaf" d="M395.13 20.18h2.49v6.23h-2.49zM375.23 26.4h2.49v6.23h-2.49zM392.64 51.31h2.49v6.23h-2.49zM390.15 63.76h2.49v6.23h-2.49zM375.23 119.79h2.49v6.23h-2.49zM405.08 126.02h4.97v6.23h-4.97zM410.05 138.47h2.49v6.23h-2.49zM410.05 144.7h2.49v6.23h-2.49zM407.56 150.92h2.49v6.23h-2.49zM405.08 163.38h2.49v6.23h-2.49zM410.05 206.96h2.49v6.23h-2.49zM412.54 219.41h2.49v6.23h-2.49zM390.15 250.54h2.49v6.23h-2.49zM395.13 300.35h2.49v6.23h-2.49z"/>
<path fill="#21c0aa" d="M392.64 1.5h2.49v6.23h-2.49zM387.66 13.95h2.49v6.23h-2.49zM390.15 32.63h2.49v6.23h-2.49zM407.56 157.15h2.49v6.23h-2.49zM412.54 157.15h2.49v6.23h-2.49zM410.05 175.83h2.49v6.23h-2.49zM407.56 213.18h2.49v6.23h-2.49zM397.61 231.86h2.49v6.23h-2.49zM397.61 250.54h2.49v6.23h-2.49zM385.18 269.22h2.49v6.23h-2.49z"/>
<path fill="#26c1a5" d="M385.18 63.76h2.49v6.23h-2.49zM410.05 101.12h2.49v6.23h-2.49zM410.05 188.28h2.49v6.23h-2.49zM387.66 269.22h2.49v6.23h-2.49z"/>
<path fill="#2cc2a0" d="M392.64 32.63h2.49v6.23h-2.49zM405.08 231.86h2.49v6.23h-2.49z"/>
<path fill="#31c39b" d="M397.61 1.5h2.49v6.23h-2.49zM385.18 7.73h2.49v6.23h-2.49zM390.15 13.95h2.49v6.23h-2.49zM392.64 63.76h2.49v6.23h-2.49zM385.18 82.44h2.49v6.23h-2.49zM395.13 163.38h2.49v6.23h-2.49zM412.54 188.28h2.49v6.23h-2.49zM397.61 194.51h2.49v6.23h-2.49zM397.61 213.18h2.49v6.23h-2.49zM412.54 231.86h2.49v6.23h-2.49zM390.15 300.35h2.49v6.23h-2.49z"/>
<path fill="#37c496" d="M402.59 88.66h4.97v6.23h-4.97zM385.18 119.79h2.49v6.23h-2.49zM395.13 175.83h2.49v6.23h-2.49zM375.23 182.05h2.49v6.23h-2.49zM397.61 188.28h2.49v6.23h-2.49zM390.15 194.51h2.49v6.23h-2.49zM402.59 213.18h2.49v6.23h-2.49zM412.54 244.31h2.49v6.23h-2.49zM395.13 250.54h2.49v6.23h-2.49z"/>
<path fill="#3ec590" d="M385.18 1.5h2.49v6.23h-2.49zM392.64 20.18h2.49v6.23h-2.49zM392.64 69.99h2.49v6.23h-2.49zM405.08 107.34h2.49v6.23h-2.49zM402.59 138.47h2.49v6.23h-2.49zM405.08 213.18h2.49v6.23h-2.49zM395.13 219.41h2.49v6.23h-2.49zM375.23 300.35h2.49v6.23h-2.49z"/>
<path fill="#46c589" d="M390.15 57.53h4.97v6.23h-4.97zM377.72 69.99h2.49v6.23h-2.49zM390.15 238.09h2.49v6.23h-2.49zM382.69 269.22h2.49v6.23h-2.49zM395.13 281.67h2.49v6.23h-2.49zM397.61 287.9h2.49v6.23h-2.49zM380.2 300.35h2.49v6.23h-2.49z"/>
<path fill="#4dc683" d="M387.66 20.18h2.49v6.23h-2.49zM390.15 26.4h2.49v6.23h-2.49zM395.13 69.99h2.49v6.23h-2.49zM410.05 150.92h2.49v6.23h-2.49zM392.64 157.15h2.49v6.23h-2.49zM397.61 169.6h2.49v6.23h-2.49zM402.59 182.05h2.49v6.23h-2.49zM400.1 194.51h2.49v6.23h-2.49zM387.66 200.73h2.49v6.23h-2.49zM392.64 231.86h4.97v6.23h-4.97zM402.59 281.67h2.49v6.23h-2.49zM385.18 300.35h2.49v6.23h-2.49z"/>
<path fill="#55c77d" d="M390.15 69.99h2.49v6.23h-2.49zM385.18 101.12h2.49v6.23h-2.49zM390.15 107.34h2.49v6.23h-2.49zM407.56 119.79h2.49v6.23h-2.49zM400.1 206.96h2.49v6.23h-2.49zM400.1 213.18h2.49v6.23h-2.49zM397.61 225.64h2.49v6.23h-2.49zM407.56 225.64h2.49v6.23h-2.49zM395.13 238.09h2.49v6.23h-2.49zM405.08 244.31h2.49v6.23h-2.49z"/>
<path fill="#5dc776" d="M395.13 32.63h2.49v6.23h-2.49zM387.66 51.31h2.49v6.23h-2.49zM405.08 175.83h2.49v6.23h-2.49zM400.1 188.28h2.49v6.23h-2.49zM405.08 206.96h2.49v6.23h-2.49z"/>
<path fill="#64c870" d="M387.66 26.4h2.49v6.23h-2.49zM390.15 76.21h2.49v6.23h-2.49zM402.59 107.34h2.49v6.23h-2.49zM392.64 163.38h2.49v6.23h-2.49zM397.61 175.83h2.49v6.23h-2.49zM402.59 219.41h4.97v6.23h-4.97zM400.1 238.09h2.49v6.23h-2.49zM410.05 238.09h2.49v6.23h-2.49zM397.61 244.31h2.49v6.23h-2.49zM387.66 250.54h2.49v6.23h-2.49zM387.66 256.77h2.49v6.23h-2.49zM390.15 269.22h2.49v6.23h-2.49z"/>
<path fill="#6cc76a" d="M385.18 20.18h2.49v6.23h-2.49zM392.64 45.08h2.49v6.23h-2.49zM385.18 88.66h2.49v6.23h-2.49zM387.66 126.02h2.49v6.23h-2.49zM402.59 144.7h2.49v6.23h-2.49zM400.1 169.6h2.49v6.23h-2.49zM405.08 188.28h2.49v6.23h-2.49zM402.59 194.51h2.49v6.23h-2.49zM407.56 206.96h2.49v6.23h-2.49zM390.15 213.18h2.49v6.23h-2.49zM400.1 219.41h2.49v6.23h-2.49zM402.59 225.64h2.49v6.23h-2.49zM380.2 269.22h2.49v6.23h-2.49zM392.64 300.35h2.49v6.23h-2.49z"/>
<path fill="#75c665" d="M392.64 7.73h2.49v6.23h-2.49zM402.59 82.44h2.49v6.23h-2.49zM390.15 94.89h2.49v6.23h-2.49zM385.18 132.25h2.49v6.23h-2.49zM402.59 132.25h2.49v6.23h-2.49zM387.66 157.15h2.49v6.23h-2.49zM407.56 163.38h4.97v6.23h-4.97zM402.59 188.28h2.49v6.23h-2.49zM387.66 213.18h2.49v6.23h-2.49zM400.1 244.31h2.49v6.23h-2.49z"/>
<path fill="#7dc45f" d="M387.66 45.08h2.49v6.23h-2.49zM387.66 119.79h2.49v6.23h-2.49zM405.08 194.51h2.49v6.23h-2.49zM392.64 200.73h2.49v6.23h-2.49zM402.59 250.54h2.49v6.23h-2.49zM387.66 300.35h2.49v6.23h-2.49z"/>
<path fill="#85c359" d="M390.15 7.73h2.49v6.23h-2.49zM402.59 94.89h2.49v6.23h-2.49zM392.64 219.41h2.49v6.23h-2.49zM400.1 231.86h2.49v6.23h-2.49zM392.64 238.09h2.49v6.23h-2.49zM392.64 244.31h4.97v6.23h-4.97z"/>
<path fill="#8ec254" d="M372.74 13.95h2.49v6.23h-2.49zM390.15 88.66h2.49v6.23h-2.49zM390.15 150.92h2.49v6.23h-2.49zM410.05 157.15h2.49v6.23h-2.49zM397.61 163.38h4.97v6.23h-4.97zM397.61 206.96h2.49v6.23h-2.49zM400.1 225.64h2.49v6.23h-2.49zM392.64 250.54h2.49v6.23h-2.49zM385.18 256.77h2.49v6.23h-2.49z"/>
<path fill="#96c14e" d="M385.18 32.63h2.49v6.23h-2.49zM385.18 107.34h2.49v6.23h-2.49zM390.15 119.79h2.49v6.23h-2.49zM385.18 138.47h2.49v6.23h-2.49zM397.61 157.15h2.49v6.23h-2.49zM400.1 182.05h2.49v6.23h-2.49zM392.64 194.51h2.49v6.23h-2.49zM392.64 206.96h2.49v6.23h-2.49zM377.72 213.18h2.49v6.23h-2.49zM405.08 225.64h2.49v6.23h-2.49zM377.72 300.35h2.49v6.23h-2.49z"/>
<path fill="#9ec04a" d="M390.15 38.86h2.49v6.23h-2.49zM387.66 57.53h2.49v6.23h-2.49zM392.64 76.21h2.49v6.23h-2.49zM387.66 82.44h2.49v6.23h-2.49zM402.59 119.79h2.49v6.23h-2.49zM402.59 126.02h2.49v6.23h-2.49zM390.15 138.47h2.49v6.23h-2.49zM390.15 144.7h2.49v6.23h-2.49zM402.59 163.38h2.49v6.23h-2.49zM407.56 188.28h2.49v6.23h-2.49z"/>
<path fill="#a7be45" d="M387.66 1.5h2.49v6.23h-2.49zM390.15 20.18h2.49v6.23h-2.49zM387.66 32.63h2.49v6.23h-2.49zM390.15 45.08h2.49v6.23h-2.49zM390.15 51.31h2.49v6.23h-2.49zM387.66 69.99h2.49v6.23h-2.49zM387.66 113.57h2.49v6.23h-2.49zM390.15 175.83h2.49v6.23h-2.49zM387.66 182.05h2.49v6.23h-2.49zM385.18 238.09h2.49v6.23h-2.49z"/>
<path fill="#afbc41" d="M377.72 20.18h2.49v6.23h-2.49zM382.69 57.53h2.49v6.23h-2.49zM402.59 101.12h2.49v6.23h-2.49zM387.66 150.92h2.49v6.23h-2.49zM392.64 188.28h2.49v6.23h-2.49zM410.05 194.51h2.49v6.23h-2.49zM402.59 200.73h2.49v6.23h-2.49zM397.61 219.41h2.49v6.23h-2.49zM392.64 225.64h2.49v6.23h-2.49zM370.25 238.09h2.49v6.23h-2.49zM387.66 238.09h2.49v6.23h-2.49z"/>
<path fill="#b7bb3d" d="M392.64 13.95h2.49v6.23h-2.49zM375.23 82.44h2.49v6.23h-2.49zM387.66 94.89h2.49v6.23h-2.49zM385.18 126.02h2.49v6.23h-2.49zM397.61 150.92h2.49v6.23h-2.49zM390.15 157.15h2.49v6.23h-2.49zM405.08 169.6h2.49v6.23h-2.49zM392.64 175.83h2.49v6.23h-2.49zM397.61 200.73h2.49v6.23h-2.49zM390.15 244.31h2.49v6.23h-2.49zM382.69 300.35h2.49v6.23h-2.49z"/>
<path fill="#c0ba38" d="M377.72 1.5h2.49v6.23h-2.49zM387.66 7.73h2.49v6.23h-2.49zM400.1 88.66h2.49v6.23h-2.49zM385.18 169.6h2.49v6.23h-2.49zM395.13 182.05h2.49v6.23h-2.49zM392.64 213.18h2.49v6.23h-2.49zM407.56 219.41h2.49v6.23h-2.49zM390.15 225.64h2.49v6.23h-2.49z"/>
<path fill="#c8b834" d="M392.64 38.86h2.49v6.23h-2.49zM395.13 57.53h2.49v6.23h-2.49zM375.23 63.76h2.49v6.23h-2.49zM397.61 107.34h2.49v6.23h-2.49zM387.66 132.25h2.49v6.23h-2.49zM400.1 138.47h2.49v6.23h-2.49zM392.64 169.6h2.49v6.23h-2.49zM387.66 219.41h2.49v6.23h-2.49zM402.59 238.09h2.49v6.23h-2.49z"/>
<path fill="#ceb833" d="M387.66 63.76h2.49v6.23h-2.49zM385.18 144.7h2.49v6.23h-2.49zM395.13 206.96h2.49v6.23h-2.49zM402.59 206.96h2.49v6.23h-2.49zM390.15 219.41h2.49v6.23h-2.49zM395.13 225.64h2.49v6.23h-2.49z"/>
<path fill="#d4b833" d="M375.23 32.63h2.49v6.23h-2.49zM390.15 113.57h2.49v6.23h-2.49zM375.23 150.92h2.49v6.23h-2.49zM400.1 157.15h2.49v6.23h-2.49zM395.13 188.28h2.49v6.23h-2.49zM387.66 206.96h2.49v6.23h-2.49zM402.59 244.31h2.49v6.23h-2.49z"/>
<path fill="#dab832" d="M387.66 38.86h2.49v6.23h-2.49zM387.66 231.86h2.49v6.23h-2.49zM370.25 300.35h2.49v6.23h-2.49z"/>
<path fill="#e0b931" d="M380.2 32.63h2.49v6.23h-2.49zM387.66 163.38h2.49v6.23h-2.49zM390.15 188.28h2.49v6.23h-2.49z"/>
<path fill="#e6b931" d="M380.2 26.4h2.49v6.23h-2.49zM377.72 63.76h2.49v6.23h-2.49zM387.66 76.21h2.49v6.23h-2.49zM387.66 107.34h2.49v6.23h-2.49zM397.61 119.79h2.49v6.23h-2.49zM387.66 138.47h2.49v6.23h-2.49zM387.66 144.7h2.49v6.23h-2.49zM395.13 157.15h2.49v6.23h-2.49zM402.59 169.6h2.49v6.23h-2.49zM395.13 194.51h2.49v6.23h-2.49zM385.18 225.64h2.49v6.23h-2.49zM387.66 244.31h2.49v6.23h-2.49z"/>
<path fill="#ecb930" d="M382.69 1.5h2.49v6.23h-2.49zM400.1 132.25h2.49v6.23h-2.49zM390.15 182.05h2.49v6.23h-2.49zM400.1 200.73h2.49v6.23h-2.49zM370.25 306.57h2.49v6.23h-2.49z"/>
<path fill="#efba32" d="M387.66 88.66h2.49v6.23h-2.49zM387.66 101.12h2.49v6.23h-2.49zM377.72 113.57h2.49v6.23h-2.49zM397.61 113.57h2.49v6.23h-2.49zM395.13 169.6h2.49v6.23h-2.49zM392.64 182.05h2.49v6.23h-2.49zM370.25 188.28h2.49v6.23h-2.49zM387.66 188.28h2.49v6.23h-2.49zM370.25 219.41h2.49v6.23h-2.49z"/>
<path fill="#f2bb33" d="M375.23 69.99h2.49v6.23h-2.49zM390.15 82.44h2.49v6.23h-2.49zM385.18 94.89h2.49v6.23h-2.49zM400.1 94.89h2.49v6.23h-2.49zM397.61 101.12h2.49v6.23h-2.49zM392.64 113.57h2.49v6.23h-2.49zM392.64 132.25h2.49v6.23h-2.49zM387.66 194.51h2.49v6.23h-2.49zM395.13 213.18h2.49v6.23h-2.49z"/>
<path fill="#f5bc35" d="M377.72 88.66h2.49v6.23h-2.49zM395.13 101.12h2.49v6.23h-2.49zM395.13 144.7h2.49v6.23h-2.49zM372.74 163.38h2.49v6.23h-2.49zM390.15 163.38h2.49v6.23h-2.49zM387.66 175.83h2.49v6.23h-2.49zM395.13 200.73h2.49v6.23h-2.49zM390.15 231.86h2.49v6.23h-2.49zM402.59 231.86h2.49v6.23h-2.49zM372.74 306.57h2.49v6.23h-2.49z"/>
<path fill="#f8be37" d="M375.23 76.21h2.49v6.23h-2.49zM395.13 76.21h2.49v6.23h-2.49zM400.1 107.34h2.49v6.23h-2.49zM375.23 113.57h2.49v6.23h-2.49zM380.2 126.02h2.49v6.23h-2.49zM400.1 126.02h2.49v6.23h-2.49zM387.66 169.6h2.49v6.23h-2.49zM390.15 200.73h2.49v6.23h-2.49zM390.15 206.96h2.49v6.23h-2.49z"/>
<path fill="#fbbf38" d="M382.69 63.76h2.49v6.23h-2.49zM372.74 76.21h2.49v6.23h-2.49zM370.25 256.77h2.49v6.23h-2.49z"/>
<path fill="#fec03a" d="M375.23 13.95h2.49v6.23h-2.49zM377.72 38.86h2.49v6.23h-2.49zM395.13 94.89h2.49v6.23h-2.49zM400.1 119.79h2.49v6.23h-2.49zM395.13 132.25h2.49v6.23h-2.49zM375.23 169.6h2.49v6.23h-2.49z"/>
<path fill="#fdc239" d="M382.69 13.95h2.49v6.23h-2.49zM395.13 88.66h2.49v6.23h-2.49zM392.64 138.47h2.49v6.23h-2.49zM395.13 150.92h2.49v6.23h-2.49zM385.18 163.38h2.49v6.23h-2.49z"/>
<path fill="#fdc537" d="M372.74 69.99h2.49v6.23h-2.49zM390.15 101.12h2.49v6.23h-2.49zM377.72 107.34h4.97v6.23h-4.97zM397.61 144.7h2.49v6.23h-2.49zM380.2 169.6h2.49v6.23h-2.49zM390.15 169.6h2.49v6.23h-2.49zM402.59 175.83h2.49v6.23h-2.49zM385.18 281.67h2.49v6.23h-2.49z"/>
<path fill="#fcc736" d="M395.13 138.47h4.97v6.23h-4.97zM380.2 213.18h2.49v6.23h-2.49z"/>
<path fill="#fbc935" d="M392.64 119.79h2.49v6.23h-2.49zM390.15 132.25h2.49v6.23h-2.49zM400.1 150.92h2.49v6.23h-2.49zM375.23 175.83h2.49v6.23h-2.49zM385.18 219.41h2.49v6.23h-2.49z"/>
<path fill="#fbcc33" d="M382.69 32.63h2.49v6.23h-2.49zM380.2 63.76h2.49v6.23h-2.49zM390.15 126.02h2.49v6.23h-2.49zM397.61 126.02h2.49v6.23h-2.49zM370.25 182.05h2.49v6.23h-2.49zM375.23 225.64h4.97v6.23h-4.97zM387.66 225.64h2.49v6.23h-2.49zM370.25 281.67h2.49v6.23h-2.49zM385.18 287.9h2.49v6.23h-2.49z"/>
<path fill="#face32" d="M375.23 45.08h2.49v6.23h-2.49zM377.72 126.02h2.49v6.23h-2.49zM395.13 126.02h2.49v6.23h-2.49zM385.18 182.05h2.49v6.23h-2.49zM377.72 262.99h2.49v6.23h-2.49zM372.74 300.35h2.49v6.23h-2.49z"/>
<path fill="#f9d130" d="M382.69 7.73h2.49v6.23h-2.49zM380.2 57.53h2.49v6.23h-2.49zM392.64 88.66h2.49v6.23h-2.49zM400.1 144.7h2.49v6.23h-2.49zM392.64 150.92h2.49v6.23h-2.49zM375.23 213.18h2.49v6.23h-2.49zM380.2 225.64h2.49v6.23h-2.49z"/>
<path fill="#f9d32e" d="M377.72 32.63h2.49v6.23h-2.49zM372.74 51.31h2.49v6.23h-2.49zM375.23 94.89h2.49v6.23h-2.49zM372.74 113.57h2.49v6.23h-2.49zM375.23 188.28h2.49v6.23h-2.49z"/>
<path fill="#f8d62c" d="M392.64 82.44h2.49v6.23h-2.49zM392.64 107.34h2.49v6.23h-2.49zM377.72 157.15h2.49v6.23h-2.49zM385.18 188.28h2.49v6.23h-2.49zM372.74 250.54h2.49v6.23h-2.49zM385.18 294.12h2.49v6.23h-2.49z"/>
<path fill="#f7d92a" d="M380.2 1.5h2.49v6.23h-2.49zM380.2 82.44h2.49v6.23h-2.49zM395.13 82.44h2.49v6.23h-2.49zM397.61 94.89h2.49v6.23h-2.49zM385.18 206.96h2.49v6.23h-2.49zM377.72 231.86h2.49v6.23h-2.49zM385.18 250.54h2.49v6.23h-2.49zM372.74 256.77h2.49v6.23h-2.49zM377.72 275.44h2.49v6.23h-2.49zM372.74 281.67h2.49v6.23h-2.49zM387.66 287.9h2.49v6.23h-2.49z"/>
<path fill="#f7db28" d="M392.64 101.12h2.49v6.23h-2.49zM375.23 107.34h2.49v6.23h-2.49zM395.13 107.34h2.49v6.23h-2.49zM392.64 144.7h2.49v6.23h-2.49zM385.18 194.51h2.49v6.23h-2.49zM387.66 294.12h2.49v6.23h-2.49z"/>
<path fill="#f6de26" d="M382.69 20.18h2.49v6.23h-2.49zM375.23 38.86h2.49v6.23h-2.49zM400.1 113.57h2.49v6.23h-2.49zM395.13 119.79h2.49v6.23h-2.49zM375.23 132.25h2.49v6.23h-2.49zM370.25 213.18h2.49v6.23h-2.49z"/>
<path fill="#f6e124" d="M375.23 7.73h2.49v6.23h-2.49zM377.72 57.53h2.49v6.23h-2.49zM380.2 119.79h2.49v6.23h-2.49zM375.23 206.96h2.49v6.23h-2.49zM375.23 269.22h2.49v6.23h-2.49z"/>
<path fill="#f6e323" d="M372.74 20.18h2.49v6.23h-2.49zM377.72 26.4h2.49v6.23h-2.49zM400.1 82.44h2.49v6.23h-2.49zM372.74 101.12h2.49v6.23h-2.49zM372.74 225.64h2.49v6.23h-2.49zM372.74 231.86h2.49v6.23h-2.49zM375.23 250.54h2.49v6.23h-2.49zM375.23 256.77h2.49v6.23h-2.49zM370.25 269.22h2.49v6.23h-2.49zM395.13 287.9h2.49v6.23h-2.49z"/>
<path fill="#f6e621" d="M372.74 1.5h4.97v6.23h-4.97zM380.2 7.73h2.49v6.23h-2.49zM377.72 13.95h2.49v6.23h-2.49zM400.1 101.12h2.49v6.23h-2.49z"/>
<path fill="#f7e91f" d="M380.2 13.95h2.49v6.23h-2.49zM380.2 45.08h2.49v6.23h-2.49zM397.61 88.66h2.49v6.23h-2.49zM377.72 132.25h4.97v6.23h-4.97zM380.2 188.28h2.49v6.23h-2.49zM380.2 231.86h2.49v6.23h-2.49zM372.74 244.31h2.49v6.23h-2.49zM382.69 250.54h2.49v6.23h-2.49zM380.2 294.12h2.49v6.23h-2.49z"/>
<path fill="#f7eb1e" d="M375.23 20.18h2.49v6.23h-2.49zM372.74 26.4h2.49v6.23h-2.49zM380.2 38.86h2.49v6.23h-2.49zM382.69 45.08h2.49v6.23h-2.49zM375.23 51.31h2.49v6.23h-2.49zM380.2 51.31h4.97v6.23h-4.97zM372.74 57.53h2.49v6.23h-2.49zM372.74 63.76h2.49v6.23h-2.49zM380.2 76.21h4.97v6.23h-4.97zM377.72 144.7h2.49v6.23h-2.49zM382.69 188.28h2.49v6.23h-2.49zM375.23 200.73h2.49v6.23h-2.49zM392.64 281.67h2.49v6.23h-2.49zM370.25 287.9h2.49v6.23h-2.49z"/>
<path fill="#f7ee1c" d="M372.74 38.86h2.49v6.23h-2.49zM382.69 38.86h2.49v6.23h-2.49zM377.72 51.31h2.49v6.23h-2.49zM380.2 69.99h2.49v6.23h-2.49zM377.72 76.21h2.49v6.23h-2.49zM380.2 113.57h2.49v6.23h-2.49zM372.74 144.7h2.49v6.23h-2.49zM390.15 281.67h2.49v6.23h-2.49zM380.2 287.9h2.49v6.23h-2.49z"/>
<path fill="#f7f01a" d="M382.69 26.4h2.49v6.23h-2.49zM372.74 32.63h2.49v6.23h-2.49zM377.72 45.08h2.49v6.23h-2.49zM375.23 57.53h2.49v6.23h-2.49zM382.69 88.66h2.49v6.23h-2.49zM372.74 194.51h2.49v6.23h-2.49zM382.69 200.73h2.49v6.23h-2.49zM385.18 213.18h2.49v6.23h-2.49zM375.23 275.44h2.49v6.23h-2.49zM377.72 281.67h2.49v6.23h-2.49z"/>
<path fill="#f8f217" d="M380.2 20.18h2.49v6.23h-2.49zM382.69 82.44h2.49v6.23h-2.49zM372.74 88.66h2.49v6.23h-2.49zM377.72 101.12h2.49v6.23h-2.49zM382.69 132.25h2.49v6.23h-2.49zM375.23 144.7h2.49v6.23h-2.49zM380.2 150.92h2.49v6.23h-2.49zM375.23 231.86h2.49v6.23h-2.49zM372.74 275.44h2.49v6.23h-2.49z"/>
<path fill="#f8f415" d="M377.72 94.89h2.49v6.23h-2.49zM382.69 94.89h2.49v6.23h-2.49zM375.23 101.12h2.49v6.23h-2.49zM380.2 101.12h2.49v6.23h-2.49zM372.74 107.34h2.49v6.23h-2.49zM382.69 107.34h2.49v6.23h-2.49zM382.69 113.57h2.49v6.23h-2.49zM377.72 119.79h2.49v6.23h-2.49zM375.23 126.02h2.49v6.23h-2.49zM392.64 126.02h2.49v6.23h-2.49zM372.74 138.47h4.97v6.23h-4.97zM382.69 138.47h2.49v6.23h-2.49zM370.25 157.15h2.49v6.23h-2.49zM375.23 157.15h2.49v6.23h-2.49zM375.23 238.09h2.49v6.23h-2.49z"/>
<path fill="#f8f713" d="M380.2 88.66h2.49v6.23h-2.49zM380.2 94.89h2.49v6.23h-2.49zM392.64 94.89h2.49v6.23h-2.49zM372.74 126.02h2.49v6.23h-2.49zM377.72 138.47h4.97v6.23h-4.97zM382.69 163.38h2.49v6.23h-2.49zM377.72 194.51h2.49v6.23h-2.49zM375.23 244.31h2.49v6.23h-2.49zM370.25 250.54h2.49v6.23h-2.49zM395.13 294.12h2.49v6.23h-2.49z"/>
<path fill="#f9f910" d="M372.74 82.44h2.49v6.23h-2.49zM372.74 132.25h2.49v6.23h-2.49zM397.61 132.25h2.49v6.23h-2.49zM382.69 150.92h2.49v6.23h-2.49zM370.25 169.6h4.97v6.23h-4.97zM370.25 225.64h2.49v6.23h-2.49zM375.23 294.12h2.49v6.23h-2.49z"/>
<path fill="#f9fb0e" d="M372.74 7.73h2.49v6.23h-2.49zM377.72 7.73h2.49v6.23h-2.49zM372.74 45.08h2.49v6.23h-2.49zM382.69 69.99h2.49v6.23h-2.49zM377.72 82.44h2.49v6.23h-2.49zM397.61 82.44h2.49v6.23h-2.49zM375.23 88.66h2.49v6.23h-2.49zM372.74 94.89h2.49v6.23h-2.49zM382.69 101.12h2.49v6.23h-2.49zM395.13 113.57h2.49v6.23h-2.49zM372.74 119.79h2.49v6.23h-2.49zM382.69 119.79h2.49v6.23h-2.49zM382.69 126.02h2.49v6.23h-2.49zM380.2 144.7h4.97v6.23h-4.97zM372.74 150.92h2.49v6.23h-2.49zM377.72 150.92h2.49v6.23h-2.49zM372.74 157.15h2.49v6.23h-2.49zM380.2 157.15h7.46v6.23h-7.46zM370.25 163.38h2.49v6.23h-2.49zM375.23 163.38h7.46v6.23h-7.46zM377.72 169.6h2.49v6.23h-2.49zM382.69 169.6h2.49v6.23h-2.49zM370.25 175.83h4.97v6.23h-4.97zM377.72 175.83h9.95v6.23h-9.95zM372.74 182.05h2.49v6.23h-2.49zM377.72 182.05h7.46v6.23h-7.46zM372.74 188.28h2.49v6.23h-2.49zM377.72 188.28h2.49v6.23h-2.49zM370.25 194.51h2.49v6.23h-2.49zM375.23 194.51h2.49v6.23h-2.49zM380.2 194.51h4.97v6.23h-4.97zM370.25 200.73h4.97v6.23h-4.97zM377.72 200.73h4.97v6.23h-4.97zM385.18 200.73h2.49v6.23h-2.49zM370.25 206.96h4.97v6.23h-4.97zM377.72 206.96h7.46v6.23h-7.46zM372.74 213.18h2.49v6.23h-2.49zM382.69 213.18h2.49v6.23h-2.49zM372.74 219.41h12.44v6.23h-12.44zM382.69 225.64h2.49v6.23h-2.49zM370.25 231.86h2.49v6.23h-2.49zM382.69 231.86h4.97v6.23h-4.97zM372.74 238.09h2.49v6.23h-2.49zM377.72 238.09h7.46v6.23h-7.46zM370.25 244.31h2.49v6.23h-2.49zM377.72 244.31h9.95v6.23h-9.95zM377.72 250.54h4.97v6.23h-4.97zM377.72 256.77h7.46v6.23h-7.46zM372.74 269.22h2.49v6.23h-2.49zM377.72 269.22h2.49v6.23h-2.49zM370.25 275.44h2.49v6.23h-2.49zM380.2 275.44h4.97v6.23h-4.97zM375.23 281.67h2.49v6.23h-2.49zM380.2 281.67h4.97v6.23h-4.97zM387.66 281.67h2.49v6.23h-2.49zM372.74 287.9h7.46v6.23h-7.46zM382.69 287.9h2.49v6.23h-2.49zM390.15 287.9h4.97v6.23h-4.97zM370.25 294.12h4.97v6.23h-4.97zM377.72 294.12h2.49v6.23h-2.49zM382.69 294.12h2.49v6.23h-2.49zM390.15 294.12h4.97v6.23h-4.97z"/>
<path fill="#3f28ae" d="M382.69 319h2.49v6.22h-2.49z"/>
<path fill="#402ab4" d="M444.88 319h4.97v6.22h-4.97zM444.88 325.22h4.97v6.22h-4.97zM444.88 331.44h4.97v6.22h-4.97zM444.88 337.65h4.97v6.22h-4.97zM444.88 343.87h4.97v6.22h-4.97zM444.88 350.09h4.97v6.22h-4.97zM444.88 356.31h4.97v6.22h-4.97zM444.88 362.53h4.97v6.22h-4.97zM444.88 368.74h4.97v6.22h-4.97zM444.88 374.96h4.97v6.22h-4.97zM444.88 381.18h4.97v6.22h-4.97zM444.88 387.4h4.97v6.22h-4.97zM444.88 393.62h4.97v6.22h-4.97zM444.88 399.83h4.97v6.22h-4.97zM444.88 406.05h4.97v6.22h-4.97zM444.88 412.27h4.97v6.22h-4.97zM444.88 418.49h4.97v6.22h-4.97zM444.88 424.71h4.97v6.22h-4.97zM444.88 430.92h4.97v6.22h-4.97zM444.88 437.14h4.97v6.22h-4.97zM444.88 443.36h4.97v6.22h-4.97zM444.88 449.58h4.97v6.22h-4.97zM444.88 455.8h4.97v6.22h-4.97zM444.88 462.01h4.97v6.22h-4.97zM444.88 468.23h4.97v6.22h-4.97zM444.88 474.45h4.97v6.22h-4.97zM444.88 480.67h4.97v6.22h-4.97zM444.88 486.89h4.97v6.22h-4.97zM444.88 493.1h4.97v6.22h-4.97zM444.88 499.32h4.97v6.22h-4.97zM444.88 505.54h4.97v6.22h-4.97zM444.88 511.76h4.97v6.22h-4.97zM444.88 517.98h4.97v6.22h-4.97zM444.88 524.19h4.97v6.22h-4.97zM444.88 530.41h4.97v6.22h-4.97zM444.88 536.63h4.97v6.22h-4.97zM444.88 542.85h4.97v6.22h-4.97zM444.88 549.07h4.97v6.22h-4.97zM444.88 555.28h4.97v6.22h-4.97zM444.88 561.5h4.97v6.22h-4.97zM444.88 567.72h4.97v6.22h-4.97zM444.88 573.94h4.97v6.22h-4.97zM444.88 580.16h4.97v6.22h-4.97zM444.88 586.37h4.97v6.22h-4.97zM444.88 592.59h4.97v6.22h-4.97zM444.88 598.81h4.97v6.22h-4.97zM444.88 605.03h4.97v6.22h-4.97zM444.88 611.25h4.97v6.22h-4.97zM444.88 617.46h4.97v6.22h-4.97zM444.88 623.68h4.97v6.22h-4.97z"/>
<path fill="#412dba" d="M507.06 343.87h2.49v6.22h-2.49zM397.61 350.09h2.49v6.22h-2.49zM489.65 455.8h2.49v6.22h-2.49z"/>
<path fill="#422fc0" d="M420 325.22h2.49v6.22h-2.49zM392.64 343.87h2.49v6.22h-2.49zM474.72 350.09h2.49v6.22h-2.49zM541.88 350.09h2.49v6.22h-2.49zM427.46 368.74h2.49v6.22h-2.49zM400.1 381.18h2.49v6.22h-2.49zM407.56 381.18h2.49v6.22h-2.49zM420 381.18h2.49v6.22h-2.49zM474.72 381.18h2.49v6.22h-2.49zM492.14 393.62h2.49v6.22h-2.49zM452.34 399.83h2.49v6.22h-2.49zM499.6 399.83h2.49v6.22h-2.49zM469.75 437.14h2.49v6.22h-2.49zM534.42 468.23h2.49v6.22h-2.49zM474.72 474.45h2.49v6.22h-2.49z"/>
<path fill="#4331c6" d="M420 319h2.49v6.22h-2.49zM439.9 319h2.49v6.22h-2.49zM415.03 325.22h2.49v6.22h-2.49zM387.66 331.44h2.49v6.22h-2.49zM415.03 331.44h2.49v6.22h-2.49zM412.54 343.87h2.49v6.22h-2.49zM407.56 350.09h2.49v6.22h-2.49zM434.93 356.31h2.49v6.22h-2.49zM479.7 356.31h2.49v6.22h-2.49zM521.98 356.31h2.49v6.22h-2.49zM410.05 362.53h2.49v6.22h-2.49zM434.93 362.53h2.49v6.22h-2.49zM439.9 362.53h2.49v6.22h-2.49zM405.08 374.96h2.49v6.22h-2.49zM539.4 399.83h2.49v6.22h-2.49zM434.93 406.05h2.49v6.22h-2.49zM502.09 430.92h2.49v6.22h-2.49zM442.39 443.36h2.49v6.22h-2.49zM472.24 462.01h2.49v6.22h-2.49zM452.34 468.23h2.49v6.22h-2.49zM452.34 480.67h2.49v6.22h-2.49zM512.03 536.63h2.49v6.22h-2.49zM479.7 561.5h2.49v6.22h-2.49zM452.34 567.72h2.49v6.22h-2.49zM452.34 573.94h2.49v6.22h-2.49z"/>
<path fill="#4433cb" d="M387.66 319h2.49v6.22h-2.49zM410.05 319h2.49v6.22h-2.49zM469.75 319h2.49v6.22h-2.49zM479.7 319h2.49v6.22h-2.49zM405.08 325.22h2.49v6.22h-2.49zM469.75 325.22h2.49v6.22h-2.49zM534.42 325.22h2.49v6.22h-2.49zM400.1 331.44h2.49v6.22h-2.49zM452.34 331.44h2.49v6.22h-2.49zM502.09 331.44h2.49v6.22h-2.49zM380.2 337.65h2.49v6.22h-2.49zM400.1 337.65h2.49v6.22h-2.49zM427.46 337.65h2.49v6.22h-2.49zM449.85 337.65h2.49v6.22h-2.49zM504.57 337.65h2.49v6.22h-2.49zM464.77 343.87h2.49v6.22h-2.49zM521.98 343.87h2.49v6.22h-2.49zM439.9 350.09h2.49v6.22h-2.49zM531.93 350.09h2.49v6.22h-2.49zM449.85 356.31h2.49v6.22h-2.49zM412.54 362.53h2.49v6.22h-2.49zM452.34 368.74h2.49v6.22h-2.49zM487.16 374.96h2.49v6.22h-2.49zM464.77 381.18h2.49v6.22h-2.49zM412.54 387.4h2.49v6.22h-2.49zM427.46 387.4h2.49v6.22h-2.49zM462.29 393.62h2.49v6.22h-2.49zM459.8 406.05h2.49v6.22h-2.49zM521.98 406.05h2.49v6.22h-2.49zM412.54 424.71h2.49v6.22h-2.49zM439.9 424.71h2.49v6.22h-2.49zM474.72 424.71h2.49v6.22h-2.49zM539.4 430.92h2.49v6.22h-2.49zM479.7 443.36h2.49v6.22h-2.49zM452.34 449.58h2.49v6.22h-2.49zM452.34 455.8h2.49v6.22h-2.49zM459.8 455.8h2.49v6.22h-2.49zM469.75 455.8h2.49v6.22h-2.49zM474.72 455.8h2.49v6.22h-2.49zM474.72 462.01h2.49v6.22h-2.49zM526.96 462.01h2.49v6.22h-2.49zM499.6 468.23h2.49v6.22h-2.49zM539.4 468.23h2.49v6.22h-2.49zM509.55 474.45h2.49v6.22h-2.49zM479.7 480.67h2.49v6.22h-2.49zM504.57 480.67h2.49v6.22h-2.49zM459.8 499.32h2.49v6.22h-2.49zM521.98 499.32h2.49v6.22h-2.49zM452.34 505.54h2.49v6.22h-2.49zM449.85 542.85h4.97v6.22h-4.97zM452.34 611.25h2.49v6.22h-2.49zM534.42 611.25h2.49v6.22h-2.49zM499.6 617.46h2.49v6.22h-2.49z"/>
<path fill="#4536d1" d="M437.41 319h2.49v6.22h-2.49zM459.8 319h2.49v6.22h-2.49zM509.55 319h4.97v6.22h-4.97zM534.42 319h2.49v6.22h-2.49zM429.95 325.22h2.49v6.22h-2.49zM464.77 325.22h2.49v6.22h-2.49zM507.06 325.22h2.49v6.22h-2.49zM417.51 331.44h2.49v6.22h-2.49zM459.8 331.44h2.49v6.22h-2.49zM489.65 331.44h2.49v6.22h-2.49zM387.66 337.65h2.49v6.22h-2.49zM405.08 337.65h2.49v6.22h-2.49zM452.34 337.65h2.49v6.22h-2.49zM492.14 337.65h2.49v6.22h-2.49zM502.09 337.65h2.49v6.22h-2.49zM420 343.87h2.49v6.22h-2.49zM469.75 343.87h2.49v6.22h-2.49zM487.16 343.87h2.49v6.22h-2.49zM502.09 343.87h2.49v6.22h-2.49zM370.25 350.09h2.49v6.22h-2.49zM385.18 350.09h2.49v6.22h-2.49zM415.03 350.09h2.49v6.22h-2.49zM489.65 350.09h4.97v6.22h-4.97zM370.25 356.31h2.49v6.22h-2.49zM410.05 356.31h2.49v6.22h-2.49zM420 356.31h2.49v6.22h-2.49zM449.85 368.74h2.49v6.22h-2.49zM417.51 374.96h2.49v6.22h-2.49zM484.67 381.18h2.49v6.22h-2.49zM420 387.4h2.49v6.22h-2.49zM462.29 387.4h2.49v6.22h-2.49zM420 393.62h2.49v6.22h-2.49zM464.77 399.83h2.49v6.22h-2.49zM479.7 399.83h2.49v6.22h-2.49zM412.54 406.05h2.49v6.22h-2.49zM427.46 406.05h2.49v6.22h-2.49zM469.75 406.05h2.49v6.22h-2.49zM499.6 418.49h2.49v6.22h-2.49zM519.5 418.49h2.49v6.22h-2.49zM526.96 430.92h2.49v6.22h-2.49zM469.75 443.36h2.49v6.22h-2.49zM469.75 449.58h2.49v6.22h-2.49zM474.72 449.58h2.49v6.22h-2.49zM487.16 449.58h2.49v6.22h-2.49zM512.03 449.58h2.49v6.22h-2.49zM526.96 455.8h2.49v6.22h-2.49zM464.77 462.01h2.49v6.22h-2.49zM449.85 468.23h2.49v6.22h-2.49zM449.85 474.45h2.49v6.22h-2.49zM459.8 474.45h2.49v6.22h-2.49zM534.42 474.45h2.49v6.22h-2.49zM541.88 474.45h2.49v6.22h-2.49zM474.72 480.67h2.49v6.22h-2.49zM462.29 486.89h2.49v6.22h-2.49zM521.98 517.98h2.49v6.22h-2.49zM469.75 530.41h2.49v6.22h-2.49zM517.01 530.41h2.49v6.22h-2.49zM452.34 536.63h2.49v6.22h-2.49zM452.34 561.5h2.49v6.22h-2.49zM452.34 592.59h2.49v6.22h-2.49zM469.75 611.25h2.49v6.22h-2.49z"/>
<path fill="#4538d5" d="M474.72 319h2.49v6.22h-2.49zM489.65 319h2.49v6.22h-2.49zM524.47 319h2.49v6.22h-2.49zM541.88 319h2.49v6.22h-2.49zM372.74 325.22h2.49v6.22h-2.49zM392.64 325.22h2.49v6.22h-2.49zM427.46 325.22h2.49v6.22h-2.49zM442.39 325.22h2.49v6.22h-2.49zM474.72 325.22h2.49v6.22h-2.49zM412.54 331.44h2.49v6.22h-2.49zM449.85 331.44h2.49v6.22h-2.49zM479.7 331.44h2.49v6.22h-2.49zM487.16 331.44h2.49v6.22h-2.49zM504.57 331.44h2.49v6.22h-2.49zM541.88 331.44h2.49v6.22h-2.49zM402.59 337.65h2.49v6.22h-2.49zM439.9 337.65h2.49v6.22h-2.49zM474.72 337.65h2.49v6.22h-2.49zM509.55 337.65h2.49v6.22h-2.49zM370.25 343.87h2.49v6.22h-2.49zM432.44 343.87h2.49v6.22h-2.49zM474.72 343.87h2.49v6.22h-2.49zM482.19 343.87h2.49v6.22h-2.49zM494.62 343.87h2.49v6.22h-2.49zM526.96 343.87h2.49v6.22h-2.49zM442.39 350.09h2.49v6.22h-2.49zM459.8 350.09h2.49v6.22h-2.49zM504.57 350.09h4.97v6.22h-4.97zM539.4 350.09h2.49v6.22h-2.49zM400.1 356.31h2.49v6.22h-2.49zM482.19 356.31h2.49v6.22h-2.49zM492.14 356.31h2.49v6.22h-2.49zM512.03 356.31h2.49v6.22h-2.49zM536.91 356.31h2.49v6.22h-2.49zM469.75 362.53h2.49v6.22h-2.49zM514.52 362.53h2.49v6.22h-2.49zM536.91 362.53h2.49v6.22h-2.49zM420 368.74h2.49v6.22h-2.49zM502.09 374.96h2.49v6.22h-2.49zM509.55 374.96h2.49v6.22h-2.49zM517.01 374.96h2.49v6.22h-2.49zM524.47 374.96h4.97v6.22h-4.97zM541.88 374.96h2.49v6.22h-2.49zM499.6 381.18h2.49v6.22h-2.49zM504.57 381.18h2.49v6.22h-2.49zM512.03 381.18h2.49v6.22h-2.49zM529.45 381.18h2.49v6.22h-2.49zM410.05 387.4h2.49v6.22h-2.49zM479.7 387.4h2.49v6.22h-2.49zM502.09 387.4h2.49v6.22h-2.49zM449.85 393.62h2.49v6.22h-2.49zM472.24 393.62h4.97v6.22h-4.97zM502.09 393.62h2.49v6.22h-2.49zM509.55 393.62h2.49v6.22h-2.49zM517.01 393.62h2.49v6.22h-2.49zM526.96 393.62h2.49v6.22h-2.49zM382.69 399.83h2.49v6.22h-2.49zM459.8 399.83h2.49v6.22h-2.49zM469.75 399.83h2.49v6.22h-2.49zM521.98 399.83h2.49v6.22h-2.49zM536.91 399.83h2.49v6.22h-2.49zM449.85 406.05h2.49v6.22h-2.49zM454.82 406.05h2.49v6.22h-2.49zM487.16 406.05h2.49v6.22h-2.49zM492.14 406.05h2.49v6.22h-2.49zM512.03 406.05h2.49v6.22h-2.49zM519.5 406.05h2.49v6.22h-2.49zM531.93 406.05h2.49v6.22h-2.49zM412.54 412.27h2.49v6.22h-2.49zM507.06 412.27h2.49v6.22h-2.49zM526.96 412.27h2.49v6.22h-2.49zM452.34 418.49h2.49v6.22h-2.49zM459.8 418.49h2.49v6.22h-2.49zM469.75 424.71h2.49v6.22h-2.49zM477.21 424.71h2.49v6.22h-2.49zM489.65 424.71h2.49v6.22h-2.49zM509.55 424.71h2.49v6.22h-2.49zM534.42 424.71h2.49v6.22h-2.49zM489.65 430.92h2.49v6.22h-2.49zM529.45 430.92h2.49v6.22h-2.49zM477.21 437.14h2.49v6.22h-2.49zM517.01 437.14h2.49v6.22h-2.49zM524.47 437.14h4.97v6.22h-4.97zM541.88 437.14h2.49v6.22h-2.49zM497.11 443.36h2.49v6.22h-2.49zM509.55 443.36h2.49v6.22h-2.49zM534.42 443.36h2.49v6.22h-2.49zM539.4 443.36h2.49v6.22h-2.49zM449.85 449.58h2.49v6.22h-2.49zM467.26 449.58h2.49v6.22h-2.49zM479.7 449.58h2.49v6.22h-2.49zM502.09 449.58h7.46v6.22h-7.46zM534.42 449.58h2.49v6.22h-2.49zM462.29 455.8h2.49v6.22h-2.49zM477.21 455.8h2.49v6.22h-2.49zM504.57 455.8h2.49v6.22h-2.49zM489.65 468.23h2.49v6.22h-2.49zM509.55 468.23h2.49v6.22h-2.49zM536.91 468.23h2.49v6.22h-2.49zM469.75 474.45h2.49v6.22h-2.49zM504.57 474.45h2.49v6.22h-2.49zM492.14 480.67h2.49v6.22h-2.49zM509.55 486.89h2.49v6.22h-2.49zM489.65 493.1h2.49v6.22h-2.49zM502.09 493.1h2.49v6.22h-2.49zM487.16 499.32h2.49v6.22h-2.49zM489.65 505.54h2.49v6.22h-2.49zM449.85 511.76h2.49v6.22h-2.49zM487.16 511.76h2.49v6.22h-2.49zM512.03 524.19h2.49v6.22h-2.49zM474.72 536.63h2.49v6.22h-2.49zM526.96 542.85h2.49v6.22h-2.49zM541.88 542.85h2.49v6.22h-2.49zM502.09 561.5h2.49v6.22h-2.49zM541.88 561.5h2.49v6.22h-2.49zM524.47 573.94h2.49v6.22h-2.49zM474.72 580.16h2.49v6.22h-2.49zM509.55 580.16h2.49v6.22h-2.49zM534.42 592.59h2.49v6.22h-2.49zM474.72 605.03h2.49v6.22h-2.49z"/>
<path fill="#463ada" d="M434.93 319h2.49v6.22h-2.49zM487.16 319h2.49v6.22h-2.49zM492.14 319h2.49v6.22h-2.49zM502.09 319h2.49v6.22h-2.49zM517.01 319h2.49v6.22h-2.49zM521.98 319h2.49v6.22h-2.49zM395.13 325.22h2.49v6.22h-2.49zM412.54 325.22h2.49v6.22h-2.49zM417.51 325.22h2.49v6.22h-2.49zM484.67 325.22h2.49v6.22h-2.49zM504.57 325.22h2.49v6.22h-2.49zM512.03 325.22h2.49v6.22h-2.49zM526.96 325.22h2.49v6.22h-2.49zM462.29 331.44h2.49v6.22h-2.49zM467.26 331.44h2.49v6.22h-2.49zM492.14 331.44h2.49v6.22h-2.49zM509.55 331.44h2.49v6.22h-2.49zM526.96 331.44h2.49v6.22h-2.49zM531.93 331.44h2.49v6.22h-2.49zM479.7 337.65h2.49v6.22h-2.49zM489.65 337.65h2.49v6.22h-2.49zM507.06 337.65h2.49v6.22h-2.49zM531.93 337.65h2.49v6.22h-2.49zM536.91 337.65h2.49v6.22h-2.49zM372.74 343.87h2.49v6.22h-2.49zM442.39 343.87h2.49v6.22h-2.49zM452.34 343.87h2.49v6.22h-2.49zM492.14 343.87h2.49v6.22h-2.49zM509.55 343.87h2.49v6.22h-2.49zM452.34 350.09h2.49v6.22h-2.49zM469.75 350.09h2.49v6.22h-2.49zM502.09 350.09h2.49v6.22h-2.49zM526.96 350.09h2.49v6.22h-2.49zM534.42 350.09h2.49v6.22h-2.49zM375.23 356.31h2.49v6.22h-2.49zM387.66 356.31h2.49v6.22h-2.49zM412.54 356.31h2.49v6.22h-2.49zM499.6 356.31h2.49v6.22h-2.49zM514.52 356.31h2.49v6.22h-2.49zM531.93 356.31h2.49v6.22h-2.49zM424.98 362.53h2.49v6.22h-2.49zM467.26 362.53h2.49v6.22h-2.49zM482.19 362.53h2.49v6.22h-2.49zM529.45 362.53h2.49v6.22h-2.49zM377.72 368.74h2.49v6.22h-2.49zM382.69 368.74h2.49v6.22h-2.49zM462.29 368.74h2.49v6.22h-2.49zM474.72 368.74h2.49v6.22h-2.49zM492.14 368.74h2.49v6.22h-2.49zM497.11 368.74h2.49v6.22h-2.49zM512.03 368.74h2.49v6.22h-2.49zM407.56 374.96h2.49v6.22h-2.49zM422.49 374.96h2.49v6.22h-2.49zM459.8 374.96h2.49v6.22h-2.49zM469.75 374.96h2.49v6.22h-2.49zM489.65 374.96h2.49v6.22h-2.49zM536.91 374.96h2.49v6.22h-2.49zM477.21 381.18h2.49v6.22h-2.49zM517.01 381.18h2.49v6.22h-2.49zM521.98 381.18h7.46v6.22h-7.46zM387.66 387.4h2.49v6.22h-2.49zM397.61 387.4h2.49v6.22h-2.49zM442.39 387.4h2.49v6.22h-2.49zM459.8 387.4h2.49v6.22h-2.49zM487.16 387.4h2.49v6.22h-2.49zM494.62 387.4h2.49v6.22h-2.49zM385.18 393.62h4.97v6.22h-4.97zM469.75 393.62h2.49v6.22h-2.49zM479.7 393.62h2.49v6.22h-2.49zM484.67 393.62h2.49v6.22h-2.49zM497.11 393.62h4.97v6.22h-4.97zM539.4 393.62h2.49v6.22h-2.49zM400.1 399.83h2.49v6.22h-2.49zM449.85 399.83h2.49v6.22h-2.49zM524.47 399.83h2.49v6.22h-2.49zM534.42 399.83h2.49v6.22h-2.49zM420 406.05h2.49v6.22h-2.49zM489.65 406.05h2.49v6.22h-2.49zM382.69 412.27h2.49v6.22h-2.49zM415.03 412.27h2.49v6.22h-2.49zM469.75 412.27h4.97v6.22h-4.97zM479.7 412.27h2.49v6.22h-2.49zM494.62 412.27h2.49v6.22h-2.49zM502.09 412.27h2.49v6.22h-2.49zM479.7 418.49h2.49v6.22h-2.49zM487.16 418.49h2.49v6.22h-2.49zM512.03 418.49h2.49v6.22h-2.49zM539.4 418.49h2.49v6.22h-2.49zM452.34 424.71h2.49v6.22h-2.49zM464.77 424.71h2.49v6.22h-2.49zM499.6 424.71h2.49v6.22h-2.49zM504.57 430.92h2.49v6.22h-2.49zM512.03 430.92h2.49v6.22h-2.49zM464.77 437.14h2.49v6.22h-2.49zM479.7 437.14h2.49v6.22h-2.49zM487.16 437.14h2.49v6.22h-2.49zM492.14 437.14h4.97v6.22h-4.97zM499.6 437.14h2.49v6.22h-2.49zM467.26 443.36h2.49v6.22h-2.49zM492.14 443.36h2.49v6.22h-2.49zM521.98 443.36h2.49v6.22h-2.49zM459.8 449.58h2.49v6.22h-2.49zM464.77 449.58h2.49v6.22h-2.49zM489.65 449.58h2.49v6.22h-2.49zM519.5 449.58h2.49v6.22h-2.49zM464.77 455.8h2.49v6.22h-2.49zM487.16 455.8h2.49v6.22h-2.49zM502.09 455.8h2.49v6.22h-2.49zM519.5 455.8h2.49v6.22h-2.49zM541.88 455.8h2.49v6.22h-2.49zM452.34 462.01h2.49v6.22h-2.49zM482.19 462.01h2.49v6.22h-2.49zM492.14 462.01h2.49v6.22h-2.49zM524.47 462.01h2.49v6.22h-2.49zM536.91 462.01h2.49v6.22h-2.49zM464.77 468.23h2.49v6.22h-2.49zM469.75 468.23h2.49v6.22h-2.49zM474.72 468.23h2.49v6.22h-2.49zM479.7 468.23h2.49v6.22h-2.49zM484.67 468.23h4.97v6.22h-4.97zM502.09 468.23h4.97v6.22h-4.97zM517.01 468.23h2.49v6.22h-2.49zM452.34 474.45h2.49v6.22h-2.49zM462.29 474.45h2.49v6.22h-2.49zM492.14 474.45h2.49v6.22h-2.49zM502.09 474.45h2.49v6.22h-2.49zM524.47 474.45h4.97v6.22h-4.97zM539.4 474.45h2.49v6.22h-2.49zM469.75 480.67h2.49v6.22h-2.49zM521.98 480.67h2.49v6.22h-2.49zM534.42 480.67h2.49v6.22h-2.49zM499.6 486.89h2.49v6.22h-2.49zM464.77 493.1h2.49v6.22h-2.49zM449.85 499.32h2.49v6.22h-2.49zM507.06 499.32h2.49v6.22h-2.49zM512.03 511.76h2.49v6.22h-2.49zM521.98 511.76h2.49v6.22h-2.49zM541.88 511.76h2.49v6.22h-2.49zM449.85 517.98h2.49v6.22h-2.49zM474.72 517.98h2.49v6.22h-2.49zM517.01 517.98h2.49v6.22h-2.49zM449.85 524.19h2.49v6.22h-2.49zM487.16 524.19h2.49v6.22h-2.49zM509.55 524.19h2.49v6.22h-2.49zM531.93 524.19h2.49v6.22h-2.49zM474.72 530.41h2.49v6.22h-2.49zM487.16 530.41h2.49v6.22h-2.49zM492.14 530.41h2.49v6.22h-2.49zM534.42 536.63h2.49v6.22h-2.49zM459.8 542.85h2.49v6.22h-2.49zM499.6 542.85h2.49v6.22h-2.49zM452.34 549.07h2.49v6.22h-2.49zM517.01 549.07h2.49v6.22h-2.49zM531.93 549.07h2.49v6.22h-2.49zM469.75 561.5h2.49v6.22h-2.49zM521.98 561.5h2.49v6.22h-2.49zM534.42 567.72h2.49v6.22h-2.49zM541.88 567.72h2.49v6.22h-2.49zM449.85 573.94h2.49v6.22h-2.49zM526.96 573.94h2.49v6.22h-2.49zM492.14 580.16h2.49v6.22h-2.49zM499.6 586.37h2.49v6.22h-2.49zM509.55 586.37h2.49v6.22h-2.49zM469.75 592.59h2.49v6.22h-2.49zM452.34 598.81h2.49v6.22h-2.49zM524.47 598.81h2.49v6.22h-2.49zM449.85 617.46h4.97v6.22h-4.97zM492.14 617.46h2.49v6.22h-2.49zM539.4 617.46h2.49v6.22h-2.49zM449.85 623.68h4.97v6.22h-4.97zM509.55 623.68h2.49v6.22h-2.49z"/>
<path fill="#473cde" d="M372.74 319h2.49v6.22h-2.49zM377.72 319h2.49v6.22h-2.49zM397.61 319h2.49v6.22h-2.49zM402.59 319h2.49v6.22h-2.49zM412.54 319h2.49v6.22h-2.49zM429.95 319h2.49v6.22h-2.49zM462.29 319h2.49v6.22h-2.49zM472.24 319h2.49v6.22h-2.49zM484.67 319h2.49v6.22h-2.49zM536.91 319h2.49v6.22h-2.49zM382.69 325.22h2.49v6.22h-2.49zM432.44 325.22h2.49v6.22h-2.49zM459.8 325.22h2.49v6.22h-2.49zM479.7 325.22h2.49v6.22h-2.49zM487.16 325.22h2.49v6.22h-2.49zM492.14 325.22h2.49v6.22h-2.49zM502.09 325.22h2.49v6.22h-2.49zM531.93 325.22h2.49v6.22h-2.49zM372.74 331.44h2.49v6.22h-2.49zM464.77 331.44h2.49v6.22h-2.49zM474.72 331.44h2.49v6.22h-2.49zM484.67 331.44h2.49v6.22h-2.49zM494.62 331.44h2.49v6.22h-2.49zM534.42 331.44h2.49v6.22h-2.49zM420 337.65h2.49v6.22h-2.49zM462.29 337.65h2.49v6.22h-2.49zM497.11 337.65h2.49v6.22h-2.49zM437.41 343.87h4.97v6.22h-4.97zM449.85 343.87h2.49v6.22h-2.49zM459.8 343.87h2.49v6.22h-2.49zM472.24 343.87h2.49v6.22h-2.49zM489.65 343.87h2.49v6.22h-2.49zM499.6 343.87h2.49v6.22h-2.49zM529.45 343.87h2.49v6.22h-2.49zM412.54 350.09h2.49v6.22h-2.49zM449.85 350.09h2.49v6.22h-2.49zM464.77 350.09h2.49v6.22h-2.49zM477.21 350.09h2.49v6.22h-2.49zM487.16 350.09h2.49v6.22h-2.49zM499.6 350.09h2.49v6.22h-2.49zM512.03 350.09h2.49v6.22h-2.49zM517.01 350.09h2.49v6.22h-2.49zM536.91 350.09h2.49v6.22h-2.49zM385.18 356.31h2.49v6.22h-2.49zM392.64 356.31h2.49v6.22h-2.49zM422.49 356.31h2.49v6.22h-2.49zM429.95 356.31h4.97v6.22h-4.97zM452.34 356.31h7.46v6.22h-7.46zM484.67 356.31h7.46v6.22h-7.46zM497.11 356.31h2.49v6.22h-2.49zM502.09 356.31h2.49v6.22h-2.49zM519.5 356.31h2.49v6.22h-2.49zM541.88 356.31h2.49v6.22h-2.49zM437.41 362.53h2.49v6.22h-2.49zM462.29 362.53h2.49v6.22h-2.49zM472.24 362.53h2.49v6.22h-2.49zM492.14 362.53h2.49v6.22h-2.49zM499.6 362.53h4.97v6.22h-4.97zM507.06 362.53h2.49v6.22h-2.49zM517.01 362.53h2.49v6.22h-2.49zM531.93 362.53h4.97v6.22h-4.97zM541.88 362.53h2.49v6.22h-2.49zM370.25 368.74h2.49v6.22h-2.49zM380.2 368.74h2.49v6.22h-2.49zM472.24 368.74h2.49v6.22h-2.49zM479.7 368.74h2.49v6.22h-2.49zM484.67 368.74h2.49v6.22h-2.49zM499.6 368.74h4.97v6.22h-4.97zM372.74 374.96h2.49v6.22h-2.49zM380.2 374.96h2.49v6.22h-2.49zM392.64 374.96h2.49v6.22h-2.49zM424.98 374.96h2.49v6.22h-2.49zM439.9 374.96h4.97v6.22h-4.97zM449.85 374.96h2.49v6.22h-2.49zM467.26 374.96h2.49v6.22h-2.49zM479.7 374.96h4.97v6.22h-4.97zM492.14 374.96h2.49v6.22h-2.49zM507.06 374.96h2.49v6.22h-2.49zM377.72 381.18h4.97v6.22h-4.97zM392.64 381.18h2.49v6.22h-2.49zM415.03 381.18h2.49v6.22h-2.49zM434.93 381.18h2.49v6.22h-2.49zM439.9 381.18h2.49v6.22h-2.49zM449.85 381.18h2.49v6.22h-2.49zM487.16 381.18h2.49v6.22h-2.49zM492.14 381.18h2.49v6.22h-2.49zM509.55 381.18h2.49v6.22h-2.49zM514.52 381.18h2.49v6.22h-2.49zM539.4 381.18h4.97v6.22h-4.97zM449.85 387.4h4.97v6.22h-4.97zM474.72 387.4h2.49v6.22h-2.49zM492.14 387.4h2.49v6.22h-2.49zM499.6 387.4h2.49v6.22h-2.49zM512.03 387.4h2.49v6.22h-2.49zM521.98 387.4h2.49v6.22h-2.49zM541.88 387.4h2.49v6.22h-2.49zM407.56 393.62h2.49v6.22h-2.49zM412.54 393.62h2.49v6.22h-2.49zM422.49 393.62h2.49v6.22h-2.49zM459.8 393.62h2.49v6.22h-2.49zM467.26 393.62h2.49v6.22h-2.49zM512.03 393.62h2.49v6.22h-2.49zM534.42 393.62h2.49v6.22h-2.49zM474.72 399.83h4.97v6.22h-4.97zM482.19 399.83h2.49v6.22h-2.49zM497.11 399.83h2.49v6.22h-2.49zM509.55 399.83h7.46v6.22h-7.46zM531.93 399.83h2.49v6.22h-2.49zM452.34 406.05h2.49v6.22h-2.49zM472.24 406.05h4.97v6.22h-4.97zM479.7 406.05h2.49v6.22h-2.49zM494.62 406.05h4.97v6.22h-4.97zM504.57 406.05h2.49v6.22h-2.49zM420 412.27h2.49v6.22h-2.49zM452.34 412.27h2.49v6.22h-2.49zM464.77 412.27h2.49v6.22h-2.49zM497.11 412.27h2.49v6.22h-2.49zM519.5 412.27h2.49v6.22h-2.49zM524.47 412.27h2.49v6.22h-2.49zM534.42 412.27h2.49v6.22h-2.49zM410.05 418.49h2.49v6.22h-2.49zM474.72 418.49h4.97v6.22h-4.97zM484.67 418.49h2.49v6.22h-2.49zM502.09 418.49h4.97v6.22h-4.97zM514.52 418.49h2.49v6.22h-2.49zM531.93 418.49h7.46v6.22h-7.46zM437.41 424.71h2.49v6.22h-2.49zM449.85 424.71h2.49v6.22h-2.49zM482.19 424.71h7.46v6.22h-7.46zM492.14 424.71h2.49v6.22h-2.49zM497.11 424.71h2.49v6.22h-2.49zM541.88 424.71h2.49v6.22h-2.49zM462.29 430.92h2.49v6.22h-2.49zM472.24 430.92h2.49v6.22h-2.49zM479.7 430.92h2.49v6.22h-2.49zM509.55 430.92h2.49v6.22h-2.49zM452.34 437.14h2.49v6.22h-2.49zM497.11 437.14h2.49v6.22h-2.49zM534.42 437.14h2.49v6.22h-2.49zM407.56 443.36h2.49v6.22h-2.49zM452.34 443.36h2.49v6.22h-2.49zM474.72 443.36h4.97v6.22h-4.97zM489.65 443.36h2.49v6.22h-2.49zM472.24 449.58h2.49v6.22h-2.49zM509.55 449.58h2.49v6.22h-2.49zM524.47 449.58h4.97v6.22h-4.97zM467.26 455.8h2.49v6.22h-2.49zM469.75 462.01h2.49v6.22h-2.49zM477.21 462.01h2.49v6.22h-2.49zM484.67 462.01h7.46v6.22h-7.46zM504.57 462.01h4.97v6.22h-4.97zM512.03 462.01h2.49v6.22h-2.49zM492.14 468.23h2.49v6.22h-2.49zM497.11 468.23h2.49v6.22h-2.49zM526.96 468.23h2.49v6.22h-2.49zM457.31 474.45h2.49v6.22h-2.49zM464.77 474.45h2.49v6.22h-2.49zM479.7 474.45h2.49v6.22h-2.49zM507.06 474.45h2.49v6.22h-2.49zM472.24 480.67h2.49v6.22h-2.49zM489.65 480.67h2.49v6.22h-2.49zM494.62 480.67h2.49v6.22h-2.49zM517.01 480.67h2.49v6.22h-2.49zM526.96 480.67h2.49v6.22h-2.49zM452.34 486.89h2.49v6.22h-2.49zM469.75 486.89h2.49v6.22h-2.49zM474.72 486.89h2.49v6.22h-2.49zM487.16 486.89h2.49v6.22h-2.49zM531.93 486.89h2.49v6.22h-2.49zM449.85 493.1h2.49v6.22h-2.49zM521.98 493.1h2.49v6.22h-2.49zM452.34 499.32h2.49v6.22h-2.49zM464.77 499.32h2.49v6.22h-2.49zM489.65 499.32h4.97v6.22h-4.97zM499.6 499.32h4.97v6.22h-4.97zM479.7 505.54h2.49v6.22h-2.49zM499.6 505.54h2.49v6.22h-2.49zM509.55 505.54h2.49v6.22h-2.49zM534.42 505.54h2.49v6.22h-2.49zM464.77 511.76h2.49v6.22h-2.49zM479.7 511.76h2.49v6.22h-2.49zM492.14 511.76h2.49v6.22h-2.49zM504.57 511.76h2.49v6.22h-2.49zM452.34 517.98h2.49v6.22h-2.49zM479.7 517.98h2.49v6.22h-2.49zM487.16 517.98h7.46v6.22h-7.46zM541.88 517.98h2.49v6.22h-2.49zM464.77 524.19h2.49v6.22h-2.49zM474.72 524.19h2.49v6.22h-2.49zM539.4 524.19h2.49v6.22h-2.49zM410.05 530.41h2.49v6.22h-2.49zM469.75 536.63h2.49v6.22h-2.49zM499.6 536.63h2.49v6.22h-2.49zM539.4 536.63h4.97v6.22h-4.97zM479.7 542.85h2.49v6.22h-2.49zM517.01 542.85h2.49v6.22h-2.49zM469.75 549.07h2.49v6.22h-2.49zM541.88 549.07h2.49v6.22h-2.49zM474.72 555.28h2.49v6.22h-2.49zM492.14 555.28h2.49v6.22h-2.49zM464.77 561.5h2.49v6.22h-2.49zM499.6 567.72h2.49v6.22h-2.49zM512.03 567.72h2.49v6.22h-2.49zM526.96 567.72h2.49v6.22h-2.49zM474.72 573.94h2.49v6.22h-2.49zM489.65 573.94h2.49v6.22h-2.49zM536.91 573.94h2.49v6.22h-2.49zM452.34 580.16h2.49v6.22h-2.49zM469.75 586.37h2.49v6.22h-2.49zM479.7 586.37h2.49v6.22h-2.49zM487.16 586.37h2.49v6.22h-2.49zM512.03 586.37h2.49v6.22h-2.49zM521.98 586.37h2.49v6.22h-2.49zM541.88 586.37h2.49v6.22h-2.49zM449.85 592.59h2.49v6.22h-2.49zM479.7 592.59h2.49v6.22h-2.49zM526.96 592.59h2.49v6.22h-2.49zM517.01 598.81h2.49v6.22h-2.49zM534.42 598.81h2.49v6.22h-2.49zM474.72 611.25h2.49v6.22h-2.49zM459.8 617.46h2.49v6.22h-2.49zM469.75 617.46h2.49v6.22h-2.49zM487.16 617.46h2.49v6.22h-2.49zM526.96 617.46h2.49v6.22h-2.49zM492.14 623.68h2.49v6.22h-2.49z"/>
<path fill="#473fe2" d="M143.9 319h226.35v6.22h-226.35zM392.64 319h2.49v6.22h-2.49zM407.56 319h2.49v6.22h-2.49zM454.82 319h2.49v6.22h-2.49zM464.77 319h2.49v6.22h-2.49zM477.21 319h2.49v6.22h-2.49zM494.62 319h4.97v6.22h-4.97zM507.06 319h2.49v6.22h-2.49zM519.5 319h2.49v6.22h-2.49zM539.4 319h2.49v6.22h-2.49zM544.37 319h507.43v6.22h-507.43zM143.9 325.22h226.35v6.22h-226.35zM380.2 325.22h2.49v6.22h-2.49zM397.61 325.22h2.49v6.22h-2.49zM407.56 325.22h4.97v6.22h-4.97zM449.85 325.22h4.97v6.22h-4.97zM462.29 325.22h2.49v6.22h-2.49zM482.19 325.22h2.49v6.22h-2.49zM529.45 325.22h2.49v6.22h-2.49zM539.4 325.22h2.49v6.22h-2.49zM544.37 325.22h507.43v6.22h-507.43zM143.9 331.44h228.84v6.22h-228.84zM375.23 331.44h2.49v6.22h-2.49zM395.13 331.44h2.49v6.22h-2.49zM410.05 331.44h2.49v6.22h-2.49zM434.93 331.44h2.49v6.22h-2.49zM457.31 331.44h2.49v6.22h-2.49zM469.75 331.44h2.49v6.22h-2.49zM499.6 331.44h2.49v6.22h-2.49zM512.03 331.44h2.49v6.22h-2.49zM521.98 331.44h4.97v6.22h-4.97zM529.45 331.44h2.49v6.22h-2.49zM544.37 331.44h507.43v6.22h-507.43zM143.9 337.65h226.35v6.22h-226.35zM392.64 337.65h2.49v6.22h-2.49zM410.05 337.65h2.49v6.22h-2.49zM434.93 337.65h2.49v6.22h-2.49zM467.26 337.65h4.97v6.22h-4.97zM512.03 337.65h2.49v6.22h-2.49zM517.01 337.65h4.97v6.22h-4.97zM524.47 337.65h2.49v6.22h-2.49zM539.4 337.65h2.49v6.22h-2.49zM544.37 337.65h507.43v6.22h-507.43zM143.9 343.87h226.35v6.22h-226.35zM462.29 343.87h2.49v6.22h-2.49zM479.7 343.87h2.49v6.22h-2.49zM512.03 343.87h2.49v6.22h-2.49zM539.4 343.87h2.49v6.22h-2.49zM544.37 343.87h507.43v6.22h-507.43zM143.9 350.09h226.35v6.22h-226.35zM380.2 350.09h2.49v6.22h-2.49zM387.66 350.09h2.49v6.22h-2.49zM420 350.09h2.49v6.22h-2.49zM467.26 350.09h2.49v6.22h-2.49zM521.98 350.09h4.97v6.22h-4.97zM544.37 350.09h507.43v6.22h-507.43zM143.9 356.31h226.35v6.22h-226.35zM380.2 356.31h2.49v6.22h-2.49zM459.8 356.31h4.97v6.22h-4.97zM509.55 356.31h2.49v6.22h-2.49zM517.01 356.31h2.49v6.22h-2.49zM544.37 356.31h507.43v6.22h-507.43zM143.9 362.53h226.35v6.22h-226.35zM387.66 362.53h2.49v6.22h-2.49zM400.1 362.53h2.49v6.22h-2.49zM407.56 362.53h2.49v6.22h-2.49zM429.95 362.53h2.49v6.22h-2.49zM452.34 362.53h2.49v6.22h-2.49zM464.77 362.53h2.49v6.22h-2.49zM479.7 362.53h2.49v6.22h-2.49zM489.65 362.53h2.49v6.22h-2.49zM521.98 362.53h2.49v6.22h-2.49zM526.96 362.53h2.49v6.22h-2.49zM539.4 362.53h2.49v6.22h-2.49zM544.37 362.53h507.43v6.22h-507.43zM143.9 368.74h226.35v6.22h-226.35zM400.1 368.74h2.49v6.22h-2.49zM405.08 368.74h2.49v6.22h-2.49zM410.05 368.74h2.49v6.22h-2.49zM434.93 368.74h2.49v6.22h-2.49zM464.77 368.74h2.49v6.22h-2.49zM469.75 368.74h2.49v6.22h-2.49zM477.21 368.74h2.49v6.22h-2.49zM487.16 368.74h4.97v6.22h-4.97zM509.55 368.74h2.49v6.22h-2.49zM529.45 368.74h2.49v6.22h-2.49zM534.42 368.74h2.49v6.22h-2.49zM539.4 368.74h512.4v6.22h-512.4zM143.9 374.96h226.35v6.22h-226.35zM382.69 374.96h2.49v6.22h-2.49zM387.66 374.96h2.49v6.22h-2.49zM400.1 374.96h2.49v6.22h-2.49zM415.03 374.96h2.49v6.22h-2.49zM452.34 374.96h2.49v6.22h-2.49zM462.29 374.96h2.49v6.22h-2.49zM472.24 374.96h2.49v6.22h-2.49zM484.67 374.96h2.49v6.22h-2.49zM497.11 374.96h4.97v6.22h-4.97zM512.03 374.96h2.49v6.22h-2.49zM544.37 374.96h507.43v6.22h-507.43zM143.9 381.18h226.35v6.22h-226.35zM467.26 381.18h2.49v6.22h-2.49zM502.09 381.18h2.49v6.22h-2.49zM507.06 381.18h2.49v6.22h-2.49zM531.93 381.18h7.46v6.22h-7.46zM544.37 381.18h507.43v6.22h-507.43zM143.9 387.4h226.35v6.22h-226.35zM392.64 387.4h2.49v6.22h-2.49zM439.9 387.4h2.49v6.22h-2.49zM467.26 387.4h4.97v6.22h-4.97zM489.65 387.4h2.49v6.22h-2.49zM497.11 387.4h2.49v6.22h-2.49zM507.06 387.4h4.97v6.22h-4.97zM519.5 387.4h2.49v6.22h-2.49zM524.47 387.4h2.49v6.22h-2.49zM536.91 387.4h2.49v6.22h-2.49zM544.37 387.4h507.43v6.22h-507.43zM143.9 393.62h226.35v6.22h-226.35zM415.03 393.62h2.49v6.22h-2.49zM434.93 393.62h4.97v6.22h-4.97zM457.31 393.62h2.49v6.22h-2.49zM464.77 393.62h2.49v6.22h-2.49zM489.65 393.62h2.49v6.22h-2.49zM494.62 393.62h2.49v6.22h-2.49zM519.5 393.62h2.49v6.22h-2.49zM529.45 393.62h2.49v6.22h-2.49zM536.91 393.62h2.49v6.22h-2.49zM541.88 393.62h509.92v6.22h-509.92zM143.9 399.83h226.35v6.22h-226.35zM380.2 399.83h2.49v6.22h-2.49zM410.05 399.83h2.49v6.22h-2.49zM417.51 399.83h2.49v6.22h-2.49zM489.65 399.83h4.97v6.22h-4.97zM502.09 399.83h4.97v6.22h-4.97zM529.45 399.83h2.49v6.22h-2.49zM544.37 399.83h507.43v6.22h-507.43zM143.9 406.05h226.35v6.22h-226.35zM462.29 406.05h2.49v6.22h-2.49zM507.06 406.05h4.97v6.22h-4.97zM529.45 406.05h2.49v6.22h-2.49zM539.4 406.05h2.49v6.22h-2.49zM544.37 406.05h507.43v6.22h-507.43zM143.9 412.27h226.35v6.22h-226.35zM427.46 412.27h2.49v6.22h-2.49zM459.8 412.27h4.97v6.22h-4.97zM484.67 412.27h2.49v6.22h-2.49zM489.65 412.27h4.97v6.22h-4.97zM499.6 412.27h2.49v6.22h-2.49zM504.57 412.27h2.49v6.22h-2.49zM512.03 412.27h2.49v6.22h-2.49zM539.4 412.27h2.49v6.22h-2.49zM544.37 412.27h507.43v6.22h-507.43zM143.9 418.49h226.35v6.22h-226.35zM457.31 418.49h2.49v6.22h-2.49zM489.65 418.49h2.49v6.22h-2.49zM509.55 418.49h2.49v6.22h-2.49zM517.01 418.49h2.49v6.22h-2.49zM521.98 418.49h2.49v6.22h-2.49zM526.96 418.49h2.49v6.22h-2.49zM544.37 418.49h507.43v6.22h-507.43zM143.9 424.71h226.35v6.22h-226.35zM454.82 424.71h2.49v6.22h-2.49zM459.8 424.71h4.97v6.22h-4.97zM479.7 424.71h2.49v6.22h-2.49zM502.09 424.71h2.49v6.22h-2.49zM512.03 424.71h2.49v6.22h-2.49zM521.98 424.71h4.97v6.22h-4.97zM531.93 424.71h2.49v6.22h-2.49zM536.91 424.71h4.97v6.22h-4.97zM544.37 424.71h507.43v6.22h-507.43zM143.9 430.92h226.35v6.22h-226.35zM427.46 430.92h2.49v6.22h-2.49zM452.34 430.92h2.49v6.22h-2.49zM459.8 430.92h2.49v6.22h-2.49zM474.72 430.92h4.97v6.22h-4.97zM484.67 430.92h2.49v6.22h-2.49zM494.62 430.92h2.49v6.22h-2.49zM536.91 430.92h2.49v6.22h-2.49zM544.37 430.92h507.43v6.22h-507.43zM143.9 437.14h226.35v6.22h-226.35zM454.82 437.14h2.49v6.22h-2.49zM462.29 437.14h2.49v6.22h-2.49zM467.26 437.14h2.49v6.22h-2.49zM472.24 437.14h2.49v6.22h-2.49zM482.19 437.14h2.49v6.22h-2.49zM502.09 437.14h4.97v6.22h-4.97zM519.5 437.14h2.49v6.22h-2.49zM536.91 437.14h2.49v6.22h-2.49zM544.37 437.14h507.43v6.22h-507.43zM143.9 443.36h226.35v6.22h-226.35zM449.85 443.36h2.49v6.22h-2.49zM484.67 443.36h4.97v6.22h-4.97zM502.09 443.36h2.49v6.22h-2.49zM507.06 443.36h2.49v6.22h-2.49zM512.03 443.36h2.49v6.22h-2.49zM529.45 443.36h2.49v6.22h-2.49zM536.91 443.36h2.49v6.22h-2.49zM544.37 443.36h507.43v6.22h-507.43zM143.9 449.58h226.35v6.22h-226.35zM517.01 449.58h2.49v6.22h-2.49zM536.91 449.58h2.49v6.22h-2.49zM544.37 449.58h507.43v6.22h-507.43zM143.9 455.8h226.35v6.22h-226.35zM449.85 455.8h2.49v6.22h-2.49zM497.11 455.8h4.97v6.22h-4.97zM509.55 455.8h2.49v6.22h-2.49zM514.52 455.8h4.97v6.22h-4.97zM521.98 455.8h2.49v6.22h-2.49zM544.37 455.8h507.43v6.22h-507.43zM143.9 462.01h226.35v6.22h-226.35zM449.85 462.01h2.49v6.22h-2.49zM454.82 462.01h2.49v6.22h-2.49zM479.7 462.01h2.49v6.22h-2.49zM502.09 462.01h2.49v6.22h-2.49zM529.45 462.01h4.97v6.22h-4.97zM539.4 462.01h2.49v6.22h-2.49zM544.37 462.01h507.43v6.22h-507.43zM143.9 468.23h226.35v6.22h-226.35zM454.82 468.23h2.49v6.22h-2.49zM494.62 468.23h2.49v6.22h-2.49zM507.06 468.23h2.49v6.22h-2.49zM514.52 468.23h2.49v6.22h-2.49zM519.5 468.23h7.46v6.22h-7.46zM529.45 468.23h2.49v6.22h-2.49zM544.37 468.23h507.43v6.22h-507.43zM143.9 474.45h226.35v6.22h-226.35zM454.82 474.45h2.49v6.22h-2.49zM487.16 474.45h2.49v6.22h-2.49zM519.5 474.45h4.97v6.22h-4.97zM529.45 474.45h2.49v6.22h-2.49zM544.37 474.45h507.43v6.22h-507.43zM143.9 480.67h226.35v6.22h-226.35zM449.85 480.67h2.49v6.22h-2.49zM462.29 480.67h2.49v6.22h-2.49zM477.21 480.67h2.49v6.22h-2.49zM482.19 480.67h2.49v6.22h-2.49zM487.16 480.67h2.49v6.22h-2.49zM502.09 480.67h2.49v6.22h-2.49zM509.55 480.67h2.49v6.22h-2.49zM544.37 480.67h507.43v6.22h-507.43zM143.9 486.89h226.35v6.22h-226.35zM377.72 486.89h2.49v6.22h-2.49zM449.85 486.89h2.49v6.22h-2.49zM459.8 486.89h2.49v6.22h-2.49zM477.21 486.89h2.49v6.22h-2.49zM484.67 486.89h2.49v6.22h-2.49zM507.06 486.89h2.49v6.22h-2.49zM526.96 486.89h2.49v6.22h-2.49zM544.37 486.89h507.43v6.22h-507.43zM143.9 493.1h226.35v6.22h-226.35zM477.21 493.1h2.49v6.22h-2.49zM492.14 493.1h2.49v6.22h-2.49zM512.03 493.1h2.49v6.22h-2.49zM519.5 493.1h2.49v6.22h-2.49zM524.47 493.1h2.49v6.22h-2.49zM529.45 493.1h2.49v6.22h-2.49zM544.37 493.1h507.43v6.22h-507.43zM143.9 499.32h226.35v6.22h-226.35zM469.75 499.32h2.49v6.22h-2.49zM474.72 499.32h2.49v6.22h-2.49zM479.7 499.32h2.49v6.22h-2.49zM512.03 499.32h2.49v6.22h-2.49zM524.47 499.32h4.97v6.22h-4.97zM544.37 499.32h507.43v6.22h-507.43zM143.9 505.54h226.35v6.22h-226.35zM474.72 505.54h2.49v6.22h-2.49zM507.06 505.54h2.49v6.22h-2.49zM544.37 505.54h507.43v6.22h-507.43zM143.9 511.76h226.35v6.22h-226.35zM474.72 511.76h2.49v6.22h-2.49zM484.67 511.76h2.49v6.22h-2.49zM534.42 511.76h2.49v6.22h-2.49zM544.37 511.76h507.43v6.22h-507.43zM143.9 517.98h226.35v6.22h-226.35zM502.09 517.98h2.49v6.22h-2.49zM544.37 517.98h507.43v6.22h-507.43zM143.9 524.19h226.35v6.22h-226.35zM452.34 524.19h2.49v6.22h-2.49zM459.8 524.19h2.49v6.22h-2.49zM469.75 524.19h2.49v6.22h-2.49zM544.37 524.19h507.43v6.22h-507.43zM143.9 530.41h226.35v6.22h-226.35zM452.34 530.41h2.49v6.22h-2.49zM459.8 530.41h2.49v6.22h-2.49zM521.98 530.41h2.49v6.22h-2.49zM544.37 530.41h507.43v6.22h-507.43zM143.9 536.63h226.35v6.22h-226.35zM449.85 536.63h2.49v6.22h-2.49zM479.7 536.63h2.49v6.22h-2.49zM509.55 536.63h2.49v6.22h-2.49zM526.96 536.63h2.49v6.22h-2.49zM544.37 536.63h507.43v6.22h-507.43zM143.9 542.85h226.35v6.22h-226.35zM469.75 542.85h2.49v6.22h-2.49zM492.14 542.85h2.49v6.22h-2.49zM504.57 542.85h2.49v6.22h-2.49zM512.03 542.85h2.49v6.22h-2.49zM524.47 542.85h2.49v6.22h-2.49zM544.37 542.85h507.43v6.22h-507.43zM143.9 549.07h226.35v6.22h-226.35zM474.72 549.07h2.49v6.22h-2.49zM492.14 549.07h2.49v6.22h-2.49zM509.55 549.07h2.49v6.22h-2.49zM524.47 549.07h2.49v6.22h-2.49zM534.42 549.07h2.49v6.22h-2.49zM544.37 549.07h507.43v6.22h-507.43zM143.9 555.28h226.35v6.22h-226.35zM449.85 555.28h2.49v6.22h-2.49zM479.7 555.28h2.49v6.22h-2.49zM502.09 555.28h2.49v6.22h-2.49zM509.55 555.28h4.97v6.22h-4.97zM544.37 555.28h507.43v6.22h-507.43zM143.9 561.5h226.35v6.22h-226.35zM509.55 561.5h2.49v6.22h-2.49zM531.93 561.5h2.49v6.22h-2.49zM544.37 561.5h507.43v6.22h-507.43zM143.9 567.72h226.35v6.22h-226.35zM449.85 567.72h2.49v6.22h-2.49zM469.75 567.72h2.49v6.22h-2.49zM492.14 567.72h2.49v6.22h-2.49zM502.09 567.72h2.49v6.22h-2.49zM544.37 567.72h507.43v6.22h-507.43zM143.9 573.94h226.35v6.22h-226.35zM479.7 573.94h2.49v6.22h-2.49zM544.37 573.94h507.43v6.22h-507.43zM143.9 580.16h226.35v6.22h-226.35zM489.65 580.16h2.49v6.22h-2.49zM499.6 580.16h4.97v6.22h-4.97zM531.93 580.16h2.49v6.22h-2.49zM544.37 580.16h507.43v6.22h-507.43zM143.9 586.37h226.35v6.22h-226.35zM452.34 586.37h2.49v6.22h-2.49zM526.96 586.37h2.49v6.22h-2.49zM544.37 586.37h507.43v6.22h-507.43zM143.9 592.59h226.35v6.22h-226.35zM459.8 592.59h2.49v6.22h-2.49zM474.72 592.59h2.49v6.22h-2.49zM544.37 592.59h507.43v6.22h-507.43zM143.9 598.81h226.35v6.22h-226.35zM507.06 598.81h2.49v6.22h-2.49zM541.88 598.81h509.92v6.22h-509.92zM143.9 605.03h226.35v6.22h-226.35zM452.34 605.03h2.49v6.22h-2.49zM541.88 605.03h509.92v6.22h-509.92zM143.9 611.25h226.35v6.22h-226.35zM524.47 611.25h2.49v6.22h-2.49zM544.37 611.25h507.43v6.22h-507.43zM143.9 617.46h226.35v6.22h-226.35zM544.37 617.46h507.43v6.22h-507.43zM143.9 623.68h226.35v6.22h-226.35zM544.37 623.68h507.43v6.22h-507.43z"/>
<path fill="#4742e5" d="M385.18 319h2.49v6.22h-2.49zM400.1 319h2.49v6.22h-2.49zM422.49 319h2.49v6.22h-2.49zM432.44 319h2.49v6.22h-2.49zM442.39 319h2.49v6.22h-2.49zM457.31 319h2.49v6.22h-2.49zM504.57 319h2.49v6.22h-2.49zM375.23 325.22h2.49v6.22h-2.49zM400.1 325.22h2.49v6.22h-2.49zM437.41 325.22h2.49v6.22h-2.49zM541.88 325.22h2.49v6.22h-2.49zM427.46 331.44h2.49v6.22h-2.49zM439.9 331.44h2.49v6.22h-2.49zM507.06 331.44h2.49v6.22h-2.49zM514.52 331.44h7.46v6.22h-7.46zM539.4 331.44h2.49v6.22h-2.49zM385.18 337.65h2.49v6.22h-2.49zM407.56 337.65h2.49v6.22h-2.49zM454.82 337.65h2.49v6.22h-2.49zM464.77 337.65h2.49v6.22h-2.49zM472.24 337.65h2.49v6.22h-2.49zM494.62 337.65h2.49v6.22h-2.49zM514.52 337.65h2.49v6.22h-2.49zM529.45 337.65h2.49v6.22h-2.49zM407.56 343.87h4.97v6.22h-4.97zM424.98 343.87h7.46v6.22h-7.46zM477.21 343.87h2.49v6.22h-2.49zM504.57 343.87h2.49v6.22h-2.49zM514.52 343.87h2.49v6.22h-2.49zM524.47 343.87h2.49v6.22h-2.49zM400.1 350.09h2.49v6.22h-2.49zM427.46 350.09h4.97v6.22h-4.97zM472.24 350.09h2.49v6.22h-2.49zM484.67 350.09h2.49v6.22h-2.49zM509.55 350.09h2.49v6.22h-2.49zM377.72 356.31h2.49v6.22h-2.49zM405.08 356.31h2.49v6.22h-2.49zM424.98 356.31h2.49v6.22h-2.49zM437.41 356.31h2.49v6.22h-2.49zM464.77 356.31h2.49v6.22h-2.49zM469.75 356.31h2.49v6.22h-2.49zM474.72 356.31h2.49v6.22h-2.49zM507.06 356.31h2.49v6.22h-2.49zM524.47 356.31h2.49v6.22h-2.49zM539.4 356.31h2.49v6.22h-2.49zM377.72 362.53h4.97v6.22h-4.97zM392.64 362.53h2.49v6.22h-2.49zM405.08 362.53h2.49v6.22h-2.49zM417.51 362.53h2.49v6.22h-2.49zM432.44 362.53h2.49v6.22h-2.49zM449.85 362.53h2.49v6.22h-2.49zM474.72 362.53h2.49v6.22h-2.49zM497.11 362.53h2.49v6.22h-2.49zM504.57 362.53h2.49v6.22h-2.49zM509.55 362.53h2.49v6.22h-2.49zM519.5 362.53h2.49v6.22h-2.49zM524.47 362.53h2.49v6.22h-2.49zM392.64 368.74h2.49v6.22h-2.49zM412.54 368.74h2.49v6.22h-2.49zM439.9 368.74h2.49v6.22h-2.49zM457.31 368.74h4.97v6.22h-4.97zM467.26 368.74h2.49v6.22h-2.49zM507.06 368.74h2.49v6.22h-2.49zM514.52 368.74h7.46v6.22h-7.46zM524.47 368.74h4.97v6.22h-4.97zM385.18 374.96h2.49v6.22h-2.49zM454.82 374.96h2.49v6.22h-2.49zM474.72 374.96h2.49v6.22h-2.49zM494.62 374.96h2.49v6.22h-2.49zM521.98 374.96h2.49v6.22h-2.49zM529.45 374.96h2.49v6.22h-2.49zM534.42 374.96h2.49v6.22h-2.49zM539.4 374.96h2.49v6.22h-2.49zM427.46 381.18h2.49v6.22h-2.49zM452.34 381.18h2.49v6.22h-2.49zM459.8 381.18h4.97v6.22h-4.97zM472.24 381.18h2.49v6.22h-2.49zM482.19 381.18h2.49v6.22h-2.49zM494.62 381.18h2.49v6.22h-2.49zM370.25 387.4h2.49v6.22h-2.49zM405.08 387.4h4.97v6.22h-4.97zM454.82 387.4h2.49v6.22h-2.49zM464.77 387.4h2.49v6.22h-2.49zM504.57 387.4h2.49v6.22h-2.49zM514.52 387.4h4.97v6.22h-4.97zM526.96 387.4h4.97v6.22h-4.97zM539.4 387.4h2.49v6.22h-2.49zM377.72 393.62h2.49v6.22h-2.49zM402.59 393.62h2.49v6.22h-2.49zM410.05 393.62h2.49v6.22h-2.49zM442.39 393.62h2.49v6.22h-2.49zM452.34 393.62h2.49v6.22h-2.49zM487.16 393.62h2.49v6.22h-2.49zM507.06 393.62h2.49v6.22h-2.49zM514.52 393.62h2.49v6.22h-2.49zM521.98 393.62h4.97v6.22h-4.97zM439.9 399.83h2.49v6.22h-2.49zM457.31 399.83h2.49v6.22h-2.49zM494.62 399.83h2.49v6.22h-2.49zM541.88 399.83h2.49v6.22h-2.49zM387.66 406.05h2.49v6.22h-2.49zM432.44 406.05h2.49v6.22h-2.49zM464.77 406.05h2.49v6.22h-2.49zM499.6 406.05h4.97v6.22h-4.97zM514.52 406.05h2.49v6.22h-2.49zM534.42 406.05h4.97v6.22h-4.97zM541.88 406.05h2.49v6.22h-2.49zM422.49 412.27h2.49v6.22h-2.49zM437.41 412.27h2.49v6.22h-2.49zM457.31 412.27h2.49v6.22h-2.49zM467.26 412.27h2.49v6.22h-2.49zM474.72 412.27h2.49v6.22h-2.49zM482.19 412.27h2.49v6.22h-2.49zM517.01 412.27h2.49v6.22h-2.49zM521.98 412.27h2.49v6.22h-2.49zM536.91 412.27h2.49v6.22h-2.49zM541.88 412.27h2.49v6.22h-2.49zM482.19 418.49h2.49v6.22h-2.49zM492.14 418.49h2.49v6.22h-2.49zM497.11 418.49h2.49v6.22h-2.49zM524.47 418.49h2.49v6.22h-2.49zM410.05 424.71h2.49v6.22h-2.49zM427.46 424.71h2.49v6.22h-2.49zM467.26 424.71h2.49v6.22h-2.49zM472.24 424.71h2.49v6.22h-2.49zM507.06 424.71h2.49v6.22h-2.49zM526.96 424.71h2.49v6.22h-2.49zM442.39 430.92h2.49v6.22h-2.49zM449.85 430.92h2.49v6.22h-2.49zM487.16 430.92h2.49v6.22h-2.49zM499.6 430.92h2.49v6.22h-2.49zM507.06 430.92h2.49v6.22h-2.49zM524.47 430.92h2.49v6.22h-2.49zM410.05 437.14h2.49v6.22h-2.49zM427.46 437.14h2.49v6.22h-2.49zM449.85 437.14h2.49v6.22h-2.49zM459.8 437.14h2.49v6.22h-2.49zM509.55 437.14h2.49v6.22h-2.49zM521.98 437.14h2.49v6.22h-2.49zM529.45 437.14h4.97v6.22h-4.97zM457.31 443.36h7.46v6.22h-7.46zM472.24 443.36h2.49v6.22h-2.49zM482.19 443.36h2.49v6.22h-2.49zM526.96 443.36h2.49v6.22h-2.49zM429.95 449.58h2.49v6.22h-2.49zM457.31 449.58h2.49v6.22h-2.49zM492.14 449.58h2.49v6.22h-2.49zM531.93 449.58h2.49v6.22h-2.49zM539.4 449.58h4.97v6.22h-4.97zM457.31 455.8h2.49v6.22h-2.49zM479.7 455.8h2.49v6.22h-2.49zM492.14 455.8h4.97v6.22h-4.97zM531.93 455.8h7.46v6.22h-7.46zM457.31 462.01h2.49v6.22h-2.49zM462.29 462.01h2.49v6.22h-2.49zM499.6 462.01h2.49v6.22h-2.49zM509.55 462.01h2.49v6.22h-2.49zM519.5 462.01h2.49v6.22h-2.49zM534.42 462.01h2.49v6.22h-2.49zM541.88 462.01h2.49v6.22h-2.49zM472.24 468.23h2.49v6.22h-2.49zM531.93 468.23h2.49v6.22h-2.49zM472.24 474.45h2.49v6.22h-2.49zM477.21 474.45h2.49v6.22h-2.49zM484.67 474.45h2.49v6.22h-2.49zM497.11 474.45h2.49v6.22h-2.49zM517.01 474.45h2.49v6.22h-2.49zM536.91 474.45h2.49v6.22h-2.49zM464.77 480.67h2.49v6.22h-2.49zM507.06 480.67h2.49v6.22h-2.49zM514.52 480.67h2.49v6.22h-2.49zM529.45 480.67h2.49v6.22h-2.49zM464.77 486.89h4.97v6.22h-4.97zM479.7 486.89h4.97v6.22h-4.97zM492.14 486.89h2.49v6.22h-2.49zM502.09 486.89h2.49v6.22h-2.49zM521.98 486.89h2.49v6.22h-2.49zM452.34 493.1h2.49v6.22h-2.49zM469.75 493.1h2.49v6.22h-2.49zM499.6 493.1h2.49v6.22h-2.49zM509.55 493.1h2.49v6.22h-2.49zM526.96 493.1h2.49v6.22h-2.49zM482.19 499.32h2.49v6.22h-2.49zM504.57 499.32h2.49v6.22h-2.49zM514.52 499.32h2.49v6.22h-2.49zM531.93 499.32h7.46v6.22h-7.46zM459.8 505.54h2.49v6.22h-2.49zM492.14 505.54h2.49v6.22h-2.49zM502.09 505.54h2.49v6.22h-2.49zM524.47 505.54h2.49v6.22h-2.49zM529.45 505.54h2.49v6.22h-2.49zM536.91 505.54h2.49v6.22h-2.49zM541.88 505.54h2.49v6.22h-2.49zM452.34 511.76h2.49v6.22h-2.49zM489.65 511.76h2.49v6.22h-2.49zM499.6 511.76h2.49v6.22h-2.49zM526.96 511.76h2.49v6.22h-2.49zM531.93 511.76h2.49v6.22h-2.49zM507.06 517.98h4.97v6.22h-4.97zM524.47 517.98h2.49v6.22h-2.49zM502.09 524.19h2.49v6.22h-2.49zM526.96 524.19h2.49v6.22h-2.49zM449.85 530.41h2.49v6.22h-2.49zM484.67 530.41h2.49v6.22h-2.49zM531.93 530.41h4.97v6.22h-4.97zM487.16 536.63h2.49v6.22h-2.49zM492.14 536.63h2.49v6.22h-2.49zM502.09 536.63h2.49v6.22h-2.49zM507.06 536.63h2.49v6.22h-2.49zM531.93 536.63h2.49v6.22h-2.49zM462.29 542.85h4.97v6.22h-4.97zM474.72 542.85h2.49v6.22h-2.49zM489.65 542.85h2.49v6.22h-2.49zM502.09 542.85h2.49v6.22h-2.49zM519.5 542.85h2.49v6.22h-2.49zM531.93 542.85h2.49v6.22h-2.49zM539.4 542.85h2.49v6.22h-2.49zM449.85 549.07h2.49v6.22h-2.49zM521.98 549.07h2.49v6.22h-2.49zM526.96 549.07h4.97v6.22h-4.97zM539.4 549.07h2.49v6.22h-2.49zM462.29 555.28h2.49v6.22h-2.49zM469.75 555.28h2.49v6.22h-2.49zM489.65 555.28h2.49v6.22h-2.49zM499.6 555.28h2.49v6.22h-2.49zM521.98 555.28h2.49v6.22h-2.49zM534.42 555.28h2.49v6.22h-2.49zM539.4 555.28h2.49v6.22h-2.49zM449.85 561.5h2.49v6.22h-2.49zM489.65 561.5h4.97v6.22h-4.97zM499.6 561.5h2.49v6.22h-2.49zM507.06 561.5h2.49v6.22h-2.49zM526.96 561.5h2.49v6.22h-2.49zM534.42 561.5h2.49v6.22h-2.49zM459.8 567.72h2.49v6.22h-2.49zM487.16 567.72h2.49v6.22h-2.49zM524.47 567.72h2.49v6.22h-2.49zM539.4 567.72h2.49v6.22h-2.49zM502.09 573.94h2.49v6.22h-2.49zM512.03 573.94h2.49v6.22h-2.49zM531.93 573.94h2.49v6.22h-2.49zM539.4 573.94h2.49v6.22h-2.49zM449.85 580.16h2.49v6.22h-2.49zM469.75 580.16h2.49v6.22h-2.49zM487.16 580.16h2.49v6.22h-2.49zM507.06 580.16h2.49v6.22h-2.49zM526.96 580.16h2.49v6.22h-2.49zM539.4 580.16h2.49v6.22h-2.49zM449.85 586.37h2.49v6.22h-2.49zM459.8 586.37h2.49v6.22h-2.49zM517.01 586.37h2.49v6.22h-2.49zM499.6 592.59h2.49v6.22h-2.49zM517.01 592.59h2.49v6.22h-2.49zM492.14 598.81h2.49v6.22h-2.49zM526.96 598.81h2.49v6.22h-2.49zM469.75 605.03h2.49v6.22h-2.49zM479.7 605.03h2.49v6.22h-2.49zM487.16 605.03h4.97v6.22h-4.97zM502.09 605.03h2.49v6.22h-2.49zM512.03 605.03h2.49v6.22h-2.49zM526.96 605.03h2.49v6.22h-2.49zM534.42 605.03h2.49v6.22h-2.49zM459.8 611.25h2.49v6.22h-2.49zM502.09 611.25h2.49v6.22h-2.49zM504.57 617.46h2.49v6.22h-2.49zM509.55 617.46h2.49v6.22h-2.49zM489.65 623.68h2.49v6.22h-2.49zM534.42 623.68h2.49v6.22h-2.49z"/>
<path fill="#4845e8" d="M415.03 319h4.97v6.22h-4.97zM449.85 319h4.97v6.22h-4.97zM482.19 319h2.49v6.22h-2.49zM499.6 319h2.49v6.22h-2.49zM514.52 319h2.49v6.22h-2.49zM526.96 319h2.49v6.22h-2.49zM387.66 325.22h2.49v6.22h-2.49zM434.93 325.22h2.49v6.22h-2.49zM439.9 325.22h2.49v6.22h-2.49zM467.26 325.22h2.49v6.22h-2.49zM472.24 325.22h2.49v6.22h-2.49zM477.21 325.22h2.49v6.22h-2.49zM509.55 325.22h2.49v6.22h-2.49zM519.5 325.22h2.49v6.22h-2.49zM536.91 325.22h2.49v6.22h-2.49zM377.72 331.44h2.49v6.22h-2.49zM422.49 331.44h2.49v6.22h-2.49zM442.39 331.44h2.49v6.22h-2.49zM472.24 331.44h2.49v6.22h-2.49zM375.23 337.65h2.49v6.22h-2.49zM412.54 337.65h2.49v6.22h-2.49zM459.8 337.65h2.49v6.22h-2.49zM477.21 337.65h2.49v6.22h-2.49zM487.16 337.65h2.49v6.22h-2.49zM499.6 337.65h2.49v6.22h-2.49zM521.98 337.65h2.49v6.22h-2.49zM526.96 337.65h2.49v6.22h-2.49zM380.2 343.87h4.97v6.22h-4.97zM415.03 343.87h2.49v6.22h-2.49zM517.01 343.87h4.97v6.22h-4.97zM531.93 343.87h4.97v6.22h-4.97zM417.51 350.09h2.49v6.22h-2.49zM454.82 350.09h2.49v6.22h-2.49zM479.7 350.09h2.49v6.22h-2.49zM397.61 356.31h2.49v6.22h-2.49zM439.9 356.31h4.97v6.22h-4.97zM467.26 356.31h2.49v6.22h-2.49zM472.24 356.31h2.49v6.22h-2.49zM494.62 356.31h2.49v6.22h-2.49zM504.57 356.31h2.49v6.22h-2.49zM526.96 356.31h4.97v6.22h-4.97zM534.42 356.31h2.49v6.22h-2.49zM459.8 362.53h2.49v6.22h-2.49zM477.21 362.53h2.49v6.22h-2.49zM487.16 362.53h2.49v6.22h-2.49zM397.61 368.74h2.49v6.22h-2.49zM429.95 368.74h4.97v6.22h-4.97zM521.98 368.74h2.49v6.22h-2.49zM402.59 374.96h2.49v6.22h-2.49zM412.54 374.96h2.49v6.22h-2.49zM429.95 374.96h2.49v6.22h-2.49zM464.77 374.96h2.49v6.22h-2.49zM514.52 374.96h2.49v6.22h-2.49zM531.93 374.96h2.49v6.22h-2.49zM382.69 381.18h2.49v6.22h-2.49zM387.66 381.18h2.49v6.22h-2.49zM397.61 381.18h2.49v6.22h-2.49zM410.05 381.18h4.97v6.22h-4.97zM417.51 381.18h2.49v6.22h-2.49zM469.75 381.18h2.49v6.22h-2.49zM479.7 381.18h2.49v6.22h-2.49zM489.65 381.18h2.49v6.22h-2.49zM497.11 381.18h2.49v6.22h-2.49zM437.41 387.4h2.49v6.22h-2.49zM472.24 387.4h2.49v6.22h-2.49zM432.44 393.62h2.49v6.22h-2.49zM477.21 393.62h2.49v6.22h-2.49zM531.93 393.62h2.49v6.22h-2.49zM392.64 399.83h4.97v6.22h-4.97zM405.08 399.83h2.49v6.22h-2.49zM412.54 399.83h2.49v6.22h-2.49zM432.44 399.83h2.49v6.22h-2.49zM454.82 399.83h2.49v6.22h-2.49zM467.26 399.83h2.49v6.22h-2.49zM487.16 399.83h2.49v6.22h-2.49zM526.96 399.83h2.49v6.22h-2.49zM370.25 406.05h2.49v6.22h-2.49zM400.1 406.05h4.97v6.22h-4.97zM407.56 406.05h4.97v6.22h-4.97zM439.9 406.05h2.49v6.22h-2.49zM467.26 406.05h2.49v6.22h-2.49zM477.21 406.05h2.49v6.22h-2.49zM484.67 406.05h2.49v6.22h-2.49zM517.01 406.05h2.49v6.22h-2.49zM524.47 406.05h2.49v6.22h-2.49zM392.64 412.27h2.49v6.22h-2.49zM487.16 412.27h2.49v6.22h-2.49zM509.55 412.27h2.49v6.22h-2.49zM514.52 412.27h2.49v6.22h-2.49zM397.61 418.49h2.49v6.22h-2.49zM412.54 418.49h2.49v6.22h-2.49zM449.85 418.49h2.49v6.22h-2.49zM467.26 418.49h7.46v6.22h-7.46zM541.88 418.49h2.49v6.22h-2.49zM397.61 424.71h2.49v6.22h-2.49zM417.51 424.71h2.49v6.22h-2.49zM529.45 424.71h2.49v6.22h-2.49zM405.08 430.92h2.49v6.22h-2.49zM454.82 430.92h4.97v6.22h-4.97zM492.14 430.92h2.49v6.22h-2.49zM534.42 430.92h2.49v6.22h-2.49zM541.88 430.92h2.49v6.22h-2.49zM484.67 437.14h2.49v6.22h-2.49zM489.65 437.14h2.49v6.22h-2.49zM514.52 437.14h2.49v6.22h-2.49zM539.4 437.14h2.49v6.22h-2.49zM400.1 443.36h2.49v6.22h-2.49zM412.54 443.36h2.49v6.22h-2.49zM464.77 443.36h2.49v6.22h-2.49zM494.62 443.36h2.49v6.22h-2.49zM499.6 443.36h2.49v6.22h-2.49zM504.57 443.36h2.49v6.22h-2.49zM514.52 443.36h7.46v6.22h-7.46zM524.47 443.36h2.49v6.22h-2.49zM531.93 443.36h2.49v6.22h-2.49zM541.88 443.36h2.49v6.22h-2.49zM484.67 449.58h2.49v6.22h-2.49zM499.6 449.58h2.49v6.22h-2.49zM514.52 449.58h2.49v6.22h-2.49zM539.4 455.8h2.49v6.22h-2.49zM497.11 462.01h2.49v6.22h-2.49zM514.52 462.01h4.97v6.22h-4.97zM521.98 462.01h2.49v6.22h-2.49zM442.39 468.23h2.49v6.22h-2.49zM462.29 468.23h2.49v6.22h-2.49zM467.26 468.23h2.49v6.22h-2.49zM512.03 468.23h2.49v6.22h-2.49zM541.88 468.23h2.49v6.22h-2.49zM467.26 474.45h2.49v6.22h-2.49zM499.6 474.45h2.49v6.22h-2.49zM512.03 474.45h2.49v6.22h-2.49zM531.93 474.45h2.49v6.22h-2.49zM531.93 480.67h2.49v6.22h-2.49zM541.88 480.67h2.49v6.22h-2.49zM529.45 486.89h2.49v6.22h-2.49zM539.4 486.89h2.49v6.22h-2.49zM497.11 493.1h2.49v6.22h-2.49zM534.42 493.1h2.49v6.22h-2.49zM454.82 499.32h2.49v6.22h-2.49zM462.29 499.32h2.49v6.22h-2.49zM467.26 499.32h2.49v6.22h-2.49zM477.21 499.32h2.49v6.22h-2.49zM449.85 505.54h2.49v6.22h-2.49zM469.75 505.54h2.49v6.22h-2.49zM477.21 505.54h2.49v6.22h-2.49zM497.11 505.54h2.49v6.22h-2.49zM512.03 505.54h2.49v6.22h-2.49zM539.4 505.54h2.49v6.22h-2.49zM469.75 511.76h2.49v6.22h-2.49zM477.21 511.76h2.49v6.22h-2.49zM502.09 511.76h2.49v6.22h-2.49zM517.01 511.76h2.49v6.22h-2.49zM524.47 511.76h2.49v6.22h-2.49zM539.4 511.76h2.49v6.22h-2.49zM459.8 517.98h2.49v6.22h-2.49zM464.77 517.98h2.49v6.22h-2.49zM477.21 517.98h2.49v6.22h-2.49zM499.6 517.98h2.49v6.22h-2.49zM512.03 517.98h4.97v6.22h-4.97zM526.96 517.98h7.46v6.22h-7.46zM489.65 524.19h4.97v6.22h-4.97zM499.6 524.19h2.49v6.22h-2.49zM517.01 524.19h2.49v6.22h-2.49zM536.91 524.19h2.49v6.22h-2.49zM541.88 524.19h2.49v6.22h-2.49zM499.6 530.41h2.49v6.22h-2.49zM477.21 536.63h2.49v6.22h-2.49zM484.67 536.63h2.49v6.22h-2.49zM504.57 536.63h2.49v6.22h-2.49zM519.5 536.63h2.49v6.22h-2.49zM536.91 536.63h2.49v6.22h-2.49zM487.16 542.85h2.49v6.22h-2.49zM507.06 542.85h4.97v6.22h-4.97zM521.98 542.85h2.49v6.22h-2.49zM459.8 549.07h2.49v6.22h-2.49zM489.65 549.07h2.49v6.22h-2.49zM459.8 555.28h2.49v6.22h-2.49zM517.01 555.28h2.49v6.22h-2.49zM536.91 555.28h2.49v6.22h-2.49zM512.03 561.5h2.49v6.22h-2.49zM517.01 561.5h2.49v6.22h-2.49zM529.45 561.5h2.49v6.22h-2.49zM474.72 567.72h2.49v6.22h-2.49zM509.55 567.72h2.49v6.22h-2.49zM517.01 567.72h2.49v6.22h-2.49zM531.93 567.72h2.49v6.22h-2.49zM536.91 567.72h2.49v6.22h-2.49zM459.8 573.94h2.49v6.22h-2.49zM464.77 573.94h2.49v6.22h-2.49zM469.75 573.94h2.49v6.22h-2.49zM499.6 573.94h2.49v6.22h-2.49zM521.98 573.94h2.49v6.22h-2.49zM529.45 580.16h2.49v6.22h-2.49zM534.42 580.16h2.49v6.22h-2.49zM474.72 586.37h2.49v6.22h-2.49zM489.65 586.37h4.97v6.22h-4.97zM502.09 586.37h2.49v6.22h-2.49zM539.4 586.37h2.49v6.22h-2.49zM512.03 592.59h2.49v6.22h-2.49zM536.91 592.59h4.97v6.22h-4.97zM449.85 598.81h2.49v6.22h-2.49zM512.03 598.81h2.49v6.22h-2.49zM492.14 605.03h2.49v6.22h-2.49zM509.55 605.03h2.49v6.22h-2.49zM531.93 605.03h2.49v6.22h-2.49zM536.91 605.03h2.49v6.22h-2.49zM449.85 611.25h2.49v6.22h-2.49zM517.01 611.25h2.49v6.22h-2.49zM521.98 611.25h2.49v6.22h-2.49zM479.7 617.46h2.49v6.22h-2.49zM517.01 617.46h2.49v6.22h-2.49zM534.42 617.46h2.49v6.22h-2.49zM459.8 623.68h2.49v6.22h-2.49zM474.72 623.68h2.49v6.22h-2.49zM512.03 623.68h2.49v6.22h-2.49zM541.88 623.68h2.49v6.22h-2.49z"/>
<path fill="#4848eb" d="M531.93 319h2.49v6.22h-2.49zM377.72 325.22h2.49v6.22h-2.49zM454.82 325.22h2.49v6.22h-2.49zM489.65 325.22h2.49v6.22h-2.49zM494.62 325.22h2.49v6.22h-2.49zM499.6 325.22h2.49v6.22h-2.49zM514.52 325.22h4.97v6.22h-4.97zM524.47 325.22h2.49v6.22h-2.49zM397.61 331.44h2.49v6.22h-2.49zM402.59 331.44h2.49v6.22h-2.49zM420 331.44h2.49v6.22h-2.49zM477.21 331.44h2.49v6.22h-2.49zM482.19 331.44h2.49v6.22h-2.49zM497.11 331.44h2.49v6.22h-2.49zM536.91 331.44h2.49v6.22h-2.49zM377.72 337.65h2.49v6.22h-2.49zM395.13 337.65h4.97v6.22h-4.97zM422.49 337.65h2.49v6.22h-2.49zM432.44 337.65h2.49v6.22h-2.49zM437.41 337.65h2.49v6.22h-2.49zM442.39 337.65h2.49v6.22h-2.49zM484.67 337.65h2.49v6.22h-2.49zM534.42 337.65h2.49v6.22h-2.49zM377.72 343.87h2.49v6.22h-2.49zM385.18 343.87h7.46v6.22h-7.46zM397.61 343.87h2.49v6.22h-2.49zM402.59 343.87h2.49v6.22h-2.49zM454.82 343.87h2.49v6.22h-2.49zM467.26 343.87h2.49v6.22h-2.49zM497.11 343.87h2.49v6.22h-2.49zM377.72 350.09h2.49v6.22h-2.49zM390.15 350.09h2.49v6.22h-2.49zM410.05 350.09h2.49v6.22h-2.49zM422.49 350.09h4.97v6.22h-4.97zM432.44 350.09h2.49v6.22h-2.49zM462.29 350.09h2.49v6.22h-2.49zM494.62 350.09h4.97v6.22h-4.97zM514.52 350.09h2.49v6.22h-2.49zM519.5 350.09h2.49v6.22h-2.49zM529.45 350.09h2.49v6.22h-2.49zM395.13 356.31h2.49v6.22h-2.49zM407.56 356.31h2.49v6.22h-2.49zM417.51 356.31h2.49v6.22h-2.49zM422.49 362.53h2.49v6.22h-2.49zM427.46 362.53h2.49v6.22h-2.49zM442.39 362.53h2.49v6.22h-2.49zM415.03 368.74h4.97v6.22h-4.97zM437.41 368.74h2.49v6.22h-2.49zM482.19 368.74h2.49v6.22h-2.49zM494.62 368.74h2.49v6.22h-2.49zM531.93 368.74h2.49v6.22h-2.49zM536.91 368.74h2.49v6.22h-2.49zM410.05 374.96h2.49v6.22h-2.49zM427.46 374.96h2.49v6.22h-2.49zM434.93 374.96h4.97v6.22h-4.97zM457.31 374.96h2.49v6.22h-2.49zM519.5 374.96h2.49v6.22h-2.49zM429.95 381.18h2.49v6.22h-2.49zM454.82 381.18h2.49v6.22h-2.49zM415.03 387.4h2.49v6.22h-2.49zM422.49 387.4h2.49v6.22h-2.49zM434.93 387.4h2.49v6.22h-2.49zM457.31 387.4h2.49v6.22h-2.49zM531.93 387.4h2.49v6.22h-2.49zM405.08 393.62h2.49v6.22h-2.49zM417.51 393.62h2.49v6.22h-2.49zM429.95 393.62h2.49v6.22h-2.49zM439.9 393.62h2.49v6.22h-2.49zM482.19 393.62h2.49v6.22h-2.49zM504.57 393.62h2.49v6.22h-2.49zM372.74 399.83h2.49v6.22h-2.49zM387.66 399.83h2.49v6.22h-2.49zM420 399.83h2.49v6.22h-2.49zM427.46 399.83h2.49v6.22h-2.49zM442.39 399.83h2.49v6.22h-2.49zM472.24 399.83h2.49v6.22h-2.49zM484.67 399.83h2.49v6.22h-2.49zM519.5 399.83h2.49v6.22h-2.49zM382.69 406.05h4.97v6.22h-4.97zM417.51 406.05h2.49v6.22h-2.49zM424.98 406.05h2.49v6.22h-2.49zM397.61 412.27h2.49v6.22h-2.49zM424.98 412.27h2.49v6.22h-2.49zM429.95 412.27h4.97v6.22h-4.97zM449.85 412.27h2.49v6.22h-2.49zM407.56 418.49h2.49v6.22h-2.49zM420 418.49h2.49v6.22h-2.49zM439.9 418.49h2.49v6.22h-2.49zM462.29 418.49h2.49v6.22h-2.49zM507.06 418.49h2.49v6.22h-2.49zM420 424.71h2.49v6.22h-2.49zM434.93 424.71h2.49v6.22h-2.49zM457.31 424.71h2.49v6.22h-2.49zM519.5 424.71h2.49v6.22h-2.49zM382.69 430.92h2.49v6.22h-2.49zM407.56 430.92h4.97v6.22h-4.97zM415.03 430.92h2.49v6.22h-2.49zM434.93 430.92h2.49v6.22h-2.49zM464.77 430.92h2.49v6.22h-2.49zM469.75 430.92h2.49v6.22h-2.49zM517.01 430.92h2.49v6.22h-2.49zM531.93 430.92h2.49v6.22h-2.49zM432.44 437.14h2.49v6.22h-2.49zM439.9 437.14h2.49v6.22h-2.49zM507.06 437.14h2.49v6.22h-2.49zM512.03 437.14h2.49v6.22h-2.49zM402.59 443.36h2.49v6.22h-2.49zM410.05 443.36h2.49v6.22h-2.49zM432.44 443.36h4.97v6.22h-4.97zM432.44 449.58h2.49v6.22h-2.49zM454.82 449.58h2.49v6.22h-2.49zM462.29 449.58h2.49v6.22h-2.49zM482.19 449.58h2.49v6.22h-2.49zM497.11 449.58h2.49v6.22h-2.49zM521.98 449.58h2.49v6.22h-2.49zM434.93 455.8h2.49v6.22h-2.49zM439.9 455.8h4.97v6.22h-4.97zM482.19 455.8h4.97v6.22h-4.97zM529.45 455.8h2.49v6.22h-2.49zM459.8 468.23h2.49v6.22h-2.49zM482.19 468.23h2.49v6.22h-2.49zM482.19 474.45h2.49v6.22h-2.49zM489.65 474.45h2.49v6.22h-2.49zM514.52 474.45h2.49v6.22h-2.49zM457.31 480.67h4.97v6.22h-4.97zM499.6 480.67h2.49v6.22h-2.49zM519.5 480.67h2.49v6.22h-2.49zM539.4 480.67h2.49v6.22h-2.49zM472.24 486.89h2.49v6.22h-2.49zM512.03 486.89h7.46v6.22h-7.46zM536.91 486.89h2.49v6.22h-2.49zM541.88 486.89h2.49v6.22h-2.49zM454.82 493.1h2.49v6.22h-2.49zM467.26 493.1h2.49v6.22h-2.49zM474.72 493.1h2.49v6.22h-2.49zM487.16 493.1h2.49v6.22h-2.49zM507.06 493.1h2.49v6.22h-2.49zM517.01 493.1h2.49v6.22h-2.49zM531.93 493.1h2.49v6.22h-2.49zM509.55 499.32h2.49v6.22h-2.49zM517.01 499.32h4.97v6.22h-4.97zM539.4 499.32h2.49v6.22h-2.49zM462.29 505.54h2.49v6.22h-2.49zM514.52 505.54h9.95v6.22h-9.95zM526.96 505.54h2.49v6.22h-2.49zM531.93 505.54h2.49v6.22h-2.49zM459.8 511.76h2.49v6.22h-2.49zM519.5 511.76h2.49v6.22h-2.49zM462.29 517.98h2.49v6.22h-2.49zM469.75 517.98h2.49v6.22h-2.49zM504.57 517.98h2.49v6.22h-2.49zM519.5 517.98h2.49v6.22h-2.49zM534.42 517.98h2.49v6.22h-2.49zM477.21 524.19h2.49v6.22h-2.49zM484.67 524.19h2.49v6.22h-2.49zM504.57 524.19h4.97v6.22h-4.97zM521.98 524.19h2.49v6.22h-2.49zM534.42 524.19h2.49v6.22h-2.49zM464.77 530.41h2.49v6.22h-2.49zM479.7 530.41h2.49v6.22h-2.49zM509.55 530.41h2.49v6.22h-2.49zM524.47 530.41h4.97v6.22h-4.97zM539.4 530.41h4.97v6.22h-4.97zM459.8 536.63h2.49v6.22h-2.49zM524.47 536.63h2.49v6.22h-2.49zM477.21 542.85h2.49v6.22h-2.49zM487.16 549.07h2.49v6.22h-2.49zM499.6 549.07h9.95v6.22h-9.95zM512.03 549.07h2.49v6.22h-2.49zM487.16 555.28h2.49v6.22h-2.49zM519.5 555.28h2.49v6.22h-2.49zM524.47 555.28h2.49v6.22h-2.49zM459.8 561.5h2.49v6.22h-2.49zM519.5 561.5h2.49v6.22h-2.49zM524.47 561.5h2.49v6.22h-2.49zM539.4 561.5h2.49v6.22h-2.49zM462.29 567.72h2.49v6.22h-2.49zM521.98 567.72h2.49v6.22h-2.49zM487.16 573.94h2.49v6.22h-2.49zM492.14 573.94h2.49v6.22h-2.49zM504.57 573.94h2.49v6.22h-2.49zM509.55 573.94h2.49v6.22h-2.49zM517.01 573.94h2.49v6.22h-2.49zM534.42 573.94h2.49v6.22h-2.49zM541.88 573.94h2.49v6.22h-2.49zM504.57 580.16h2.49v6.22h-2.49zM512.03 580.16h4.97v6.22h-4.97zM464.77 592.59h2.49v6.22h-2.49zM489.65 592.59h2.49v6.22h-2.49zM502.09 592.59h2.49v6.22h-2.49zM521.98 592.59h2.49v6.22h-2.49zM541.88 592.59h2.49v6.22h-2.49zM420 598.81h2.49v6.22h-2.49zM459.8 598.81h2.49v6.22h-2.49zM469.75 598.81h2.49v6.22h-2.49zM502.09 598.81h2.49v6.22h-2.49zM521.98 598.81h2.49v6.22h-2.49zM539.4 598.81h2.49v6.22h-2.49zM459.8 605.03h2.49v6.22h-2.49zM499.6 605.03h2.49v6.22h-2.49zM489.65 611.25h2.49v6.22h-2.49zM499.6 611.25h2.49v6.22h-2.49zM507.06 611.25h2.49v6.22h-2.49zM531.93 611.25h2.49v6.22h-2.49zM474.72 617.46h2.49v6.22h-2.49zM489.65 617.46h2.49v6.22h-2.49zM521.98 617.46h2.49v6.22h-2.49zM531.93 617.46h2.49v6.22h-2.49zM469.75 623.68h2.49v6.22h-2.49zM502.09 623.68h2.49v6.22h-2.49zM526.96 623.68h2.49v6.22h-2.49z"/>
<path fill="#484bee" d="M390.15 319h2.49v6.22h-2.49zM405.08 319h2.49v6.22h-2.49zM467.26 319h2.49v6.22h-2.49zM370.25 325.22h2.49v6.22h-2.49zM385.18 325.22h2.49v6.22h-2.49zM390.15 325.22h2.49v6.22h-2.49zM402.59 325.22h2.49v6.22h-2.49zM422.49 325.22h2.49v6.22h-2.49zM405.08 331.44h2.49v6.22h-2.49zM424.98 331.44h2.49v6.22h-2.49zM382.69 337.65h2.49v6.22h-2.49zM390.15 337.65h2.49v6.22h-2.49zM429.95 337.65h2.49v6.22h-2.49zM482.19 337.65h2.49v6.22h-2.49zM422.49 343.87h2.49v6.22h-2.49zM457.31 343.87h2.49v6.22h-2.49zM536.91 343.87h2.49v6.22h-2.49zM541.88 343.87h2.49v6.22h-2.49zM372.74 350.09h2.49v6.22h-2.49zM382.69 350.09h2.49v6.22h-2.49zM392.64 350.09h2.49v6.22h-2.49zM482.19 350.09h2.49v6.22h-2.49zM372.74 356.31h2.49v6.22h-2.49zM382.69 356.31h2.49v6.22h-2.49zM402.59 356.31h2.49v6.22h-2.49zM477.21 356.31h2.49v6.22h-2.49zM372.74 362.53h2.49v6.22h-2.49zM385.18 362.53h2.49v6.22h-2.49zM397.61 362.53h2.49v6.22h-2.49zM420 362.53h2.49v6.22h-2.49zM457.31 362.53h2.49v6.22h-2.49zM484.67 362.53h2.49v6.22h-2.49zM387.66 368.74h2.49v6.22h-2.49zM402.59 368.74h2.49v6.22h-2.49zM407.56 368.74h2.49v6.22h-2.49zM454.82 368.74h2.49v6.22h-2.49zM370.25 374.96h2.49v6.22h-2.49zM377.72 374.96h2.49v6.22h-2.49zM432.44 374.96h2.49v6.22h-2.49zM504.57 374.96h2.49v6.22h-2.49zM390.15 381.18h2.49v6.22h-2.49zM395.13 381.18h2.49v6.22h-2.49zM405.08 381.18h2.49v6.22h-2.49zM422.49 381.18h2.49v6.22h-2.49zM432.44 381.18h2.49v6.22h-2.49zM437.41 381.18h2.49v6.22h-2.49zM457.31 381.18h2.49v6.22h-2.49zM519.5 381.18h2.49v6.22h-2.49zM375.23 387.4h2.49v6.22h-2.49zM380.2 387.4h4.97v6.22h-4.97zM424.98 387.4h2.49v6.22h-2.49zM477.21 387.4h2.49v6.22h-2.49zM484.67 387.4h2.49v6.22h-2.49zM534.42 387.4h2.49v6.22h-2.49zM397.61 393.62h4.97v6.22h-4.97zM375.23 399.83h4.97v6.22h-4.97zM415.03 399.83h2.49v6.22h-2.49zM462.29 399.83h2.49v6.22h-2.49zM507.06 399.83h2.49v6.22h-2.49zM517.01 399.83h2.49v6.22h-2.49zM405.08 406.05h2.49v6.22h-2.49zM442.39 406.05h2.49v6.22h-2.49zM526.96 406.05h2.49v6.22h-2.49zM434.93 412.27h2.49v6.22h-2.49zM442.39 412.27h2.49v6.22h-2.49zM531.93 412.27h2.49v6.22h-2.49zM422.49 418.49h2.49v6.22h-2.49zM427.46 418.49h2.49v6.22h-2.49zM494.62 418.49h2.49v6.22h-2.49zM529.45 418.49h2.49v6.22h-2.49zM494.62 424.71h2.49v6.22h-2.49zM377.72 430.92h2.49v6.22h-2.49zM467.26 430.92h2.49v6.22h-2.49zM497.11 430.92h2.49v6.22h-2.49zM519.5 430.92h2.49v6.22h-2.49zM412.54 437.14h2.49v6.22h-2.49zM422.49 437.14h2.49v6.22h-2.49zM437.41 437.14h2.49v6.22h-2.49zM457.31 437.14h2.49v6.22h-2.49zM474.72 437.14h2.49v6.22h-2.49zM405.08 443.36h2.49v6.22h-2.49zM420 443.36h2.49v6.22h-2.49zM429.95 443.36h2.49v6.22h-2.49zM454.82 443.36h2.49v6.22h-2.49zM410.05 449.58h4.97v6.22h-4.97zM427.46 449.58h2.49v6.22h-2.49zM472.24 455.8h2.49v6.22h-2.49zM512.03 455.8h2.49v6.22h-2.49zM524.47 455.8h2.49v6.22h-2.49zM467.26 462.01h2.49v6.22h-2.49zM494.62 462.01h2.49v6.22h-2.49zM442.39 474.45h2.49v6.22h-2.49zM494.62 474.45h2.49v6.22h-2.49zM454.82 480.67h2.49v6.22h-2.49zM524.47 480.67h2.49v6.22h-2.49zM536.91 480.67h2.49v6.22h-2.49zM454.82 486.89h4.97v6.22h-4.97zM489.65 486.89h2.49v6.22h-2.49zM497.11 486.89h2.49v6.22h-2.49zM504.57 486.89h2.49v6.22h-2.49zM519.5 486.89h2.49v6.22h-2.49zM524.47 486.89h2.49v6.22h-2.49zM534.42 486.89h2.49v6.22h-2.49zM457.31 493.1h2.49v6.22h-2.49zM472.24 493.1h2.49v6.22h-2.49zM472.24 499.32h2.49v6.22h-2.49zM484.67 499.32h2.49v6.22h-2.49zM541.88 499.32h2.49v6.22h-2.49zM454.82 505.54h2.49v6.22h-2.49zM472.24 505.54h2.49v6.22h-2.49zM484.67 505.54h4.97v6.22h-4.97zM536.91 511.76h2.49v6.22h-2.49zM462.29 524.19h2.49v6.22h-2.49zM472.24 524.19h2.49v6.22h-2.49zM519.5 524.19h2.49v6.22h-2.49zM524.47 524.19h2.49v6.22h-2.49zM502.09 530.41h7.46v6.22h-7.46zM536.91 530.41h2.49v6.22h-2.49zM472.24 536.63h2.49v6.22h-2.49zM517.01 536.63h2.49v6.22h-2.49zM484.67 542.85h2.49v6.22h-2.49zM514.52 542.85h2.49v6.22h-2.49zM529.45 542.85h2.49v6.22h-2.49zM464.77 549.07h2.49v6.22h-2.49zM479.7 549.07h2.49v6.22h-2.49zM514.52 549.07h2.49v6.22h-2.49zM519.5 549.07h2.49v6.22h-2.49zM536.91 549.07h2.49v6.22h-2.49zM452.34 555.28h2.49v6.22h-2.49zM526.96 555.28h4.97v6.22h-4.97zM462.29 561.5h2.49v6.22h-2.49zM474.72 561.5h2.49v6.22h-2.49zM536.91 561.5h2.49v6.22h-2.49zM479.7 567.72h2.49v6.22h-2.49zM504.57 567.72h2.49v6.22h-2.49zM514.52 567.72h2.49v6.22h-2.49zM519.5 567.72h2.49v6.22h-2.49zM519.5 573.94h2.49v6.22h-2.49zM459.8 580.16h2.49v6.22h-2.49zM479.7 580.16h2.49v6.22h-2.49zM536.91 580.16h2.49v6.22h-2.49zM541.88 580.16h2.49v6.22h-2.49zM529.45 586.37h2.49v6.22h-2.49zM487.16 592.59h2.49v6.22h-2.49zM492.14 592.59h2.49v6.22h-2.49zM474.72 598.81h2.49v6.22h-2.49zM489.65 598.81h2.49v6.22h-2.49zM499.6 598.81h2.49v6.22h-2.49zM509.55 598.81h2.49v6.22h-2.49zM531.93 598.81h2.49v6.22h-2.49zM517.01 605.03h2.49v6.22h-2.49zM521.98 605.03h2.49v6.22h-2.49zM509.55 611.25h2.49v6.22h-2.49zM526.96 611.25h2.49v6.22h-2.49zM539.4 611.25h2.49v6.22h-2.49zM507.06 617.46h2.49v6.22h-2.49zM541.88 617.46h2.49v6.22h-2.49zM487.16 623.68h2.49v6.22h-2.49zM524.47 623.68h2.49v6.22h-2.49zM531.93 623.68h2.49v6.22h-2.49zM539.4 623.68h2.49v6.22h-2.49z"/>
<path fill="#484ef0" d="M370.25 319h2.49v6.22h-2.49zM375.23 319h2.49v6.22h-2.49zM395.13 319h2.49v6.22h-2.49zM427.46 319h2.49v6.22h-2.49zM497.11 325.22h2.49v6.22h-2.49zM521.98 325.22h2.49v6.22h-2.49zM407.56 331.44h2.49v6.22h-2.49zM429.95 331.44h2.49v6.22h-2.49zM437.41 331.44h2.49v6.22h-2.49zM454.82 331.44h2.49v6.22h-2.49zM541.88 337.65h2.49v6.22h-2.49zM375.23 343.87h2.49v6.22h-2.49zM405.08 343.87h2.49v6.22h-2.49zM484.67 343.87h2.49v6.22h-2.49zM395.13 350.09h2.49v6.22h-2.49zM402.59 350.09h4.97v6.22h-4.97zM434.93 350.09h2.49v6.22h-2.49zM457.31 350.09h2.49v6.22h-2.49zM415.03 356.31h2.49v6.22h-2.49zM370.25 362.53h2.49v6.22h-2.49zM375.23 362.53h2.49v6.22h-2.49zM415.03 362.53h2.49v6.22h-2.49zM454.82 362.53h2.49v6.22h-2.49zM372.74 368.74h2.49v6.22h-2.49zM385.18 368.74h2.49v6.22h-2.49zM390.15 368.74h2.49v6.22h-2.49zM422.49 368.74h2.49v6.22h-2.49zM442.39 368.74h2.49v6.22h-2.49zM504.57 368.74h2.49v6.22h-2.49zM375.23 374.96h2.49v6.22h-2.49zM420 374.96h2.49v6.22h-2.49zM477.21 374.96h2.49v6.22h-2.49zM402.59 381.18h2.49v6.22h-2.49zM377.72 387.4h2.49v6.22h-2.49zM390.15 387.4h2.49v6.22h-2.49zM395.13 387.4h2.49v6.22h-2.49zM482.19 387.4h2.49v6.22h-2.49zM370.25 393.62h4.97v6.22h-4.97zM454.82 393.62h2.49v6.22h-2.49zM402.59 399.83h2.49v6.22h-2.49zM429.95 399.83h2.49v6.22h-2.49zM372.74 406.05h2.49v6.22h-2.49zM397.61 406.05h2.49v6.22h-2.49zM415.03 406.05h2.49v6.22h-2.49zM437.41 406.05h2.49v6.22h-2.49zM482.19 406.05h2.49v6.22h-2.49zM377.72 412.27h2.49v6.22h-2.49zM387.66 412.27h2.49v6.22h-2.49zM410.05 412.27h2.49v6.22h-2.49zM477.21 412.27h2.49v6.22h-2.49zM529.45 412.27h2.49v6.22h-2.49zM380.2 418.49h2.49v6.22h-2.49zM392.64 418.49h2.49v6.22h-2.49zM415.03 418.49h4.97v6.22h-4.97zM424.98 418.49h2.49v6.22h-2.49zM434.93 418.49h4.97v6.22h-4.97zM454.82 418.49h2.49v6.22h-2.49zM464.77 418.49h2.49v6.22h-2.49zM392.64 424.71h2.49v6.22h-2.49zM504.57 424.71h2.49v6.22h-2.49zM514.52 424.71h4.97v6.22h-4.97zM420 430.92h2.49v6.22h-2.49zM432.44 430.92h2.49v6.22h-2.49zM439.9 430.92h2.49v6.22h-2.49zM514.52 430.92h2.49v6.22h-2.49zM521.98 430.92h2.49v6.22h-2.49zM400.1 437.14h2.49v6.22h-2.49zM429.95 437.14h2.49v6.22h-2.49zM442.39 437.14h2.49v6.22h-2.49zM415.03 449.58h2.49v6.22h-2.49zM420 449.58h2.49v6.22h-2.49zM477.21 449.58h2.49v6.22h-2.49zM494.62 449.58h2.49v6.22h-2.49zM529.45 449.58h2.49v6.22h-2.49zM412.54 455.8h2.49v6.22h-2.49zM427.46 455.8h2.49v6.22h-2.49zM507.06 455.8h2.49v6.22h-2.49zM459.8 462.01h2.49v6.22h-2.49zM457.31 468.23h2.49v6.22h-2.49zM477.21 468.23h2.49v6.22h-2.49zM467.26 480.67h2.49v6.22h-2.49zM497.11 480.67h2.49v6.22h-2.49zM494.62 486.89h2.49v6.22h-2.49zM459.8 493.1h4.97v6.22h-4.97zM504.57 493.1h2.49v6.22h-2.49zM514.52 493.1h2.49v6.22h-2.49zM536.91 493.1h7.46v6.22h-7.46zM457.31 499.32h2.49v6.22h-2.49zM497.11 499.32h2.49v6.22h-2.49zM467.26 505.54h2.49v6.22h-2.49zM504.57 505.54h2.49v6.22h-2.49zM462.29 511.76h2.49v6.22h-2.49zM482.19 511.76h2.49v6.22h-2.49zM507.06 511.76h2.49v6.22h-2.49zM529.45 511.76h2.49v6.22h-2.49zM472.24 517.98h2.49v6.22h-2.49zM539.4 517.98h2.49v6.22h-2.49zM529.45 524.19h2.49v6.22h-2.49zM462.29 530.41h2.49v6.22h-2.49zM472.24 530.41h2.49v6.22h-2.49zM489.65 530.41h2.49v6.22h-2.49zM514.52 530.41h2.49v6.22h-2.49zM464.77 536.63h2.49v6.22h-2.49zM494.62 536.63h2.49v6.22h-2.49zM529.45 536.63h2.49v6.22h-2.49zM462.29 549.07h2.49v6.22h-2.49zM504.57 555.28h2.49v6.22h-2.49zM484.67 561.5h2.49v6.22h-2.49zM472.24 567.72h2.49v6.22h-2.49zM489.65 567.72h2.49v6.22h-2.49zM529.45 567.72h2.49v6.22h-2.49zM462.29 573.94h2.49v6.22h-2.49zM462.29 580.16h2.49v6.22h-2.49zM519.5 580.16h7.46v6.22h-7.46zM507.06 586.37h2.49v6.22h-2.49zM514.52 586.37h2.49v6.22h-2.49zM519.5 586.37h2.49v6.22h-2.49zM524.47 586.37h2.49v6.22h-2.49zM534.42 586.37h4.97v6.22h-4.97zM507.06 592.59h4.97v6.22h-4.97zM519.5 592.59h2.49v6.22h-2.49zM464.77 598.81h2.49v6.22h-2.49zM479.7 598.81h2.49v6.22h-2.49zM504.57 598.81h2.49v6.22h-2.49zM536.91 598.81h2.49v6.22h-2.49zM449.85 605.03h2.49v6.22h-2.49zM464.77 605.03h2.49v6.22h-2.49zM479.7 611.25h2.49v6.22h-2.49zM487.16 611.25h2.49v6.22h-2.49zM492.14 611.25h2.49v6.22h-2.49zM512.03 611.25h2.49v6.22h-2.49zM536.91 611.25h2.49v6.22h-2.49zM464.77 617.46h2.49v6.22h-2.49zM502.09 617.46h2.49v6.22h-2.49zM524.47 617.46h2.49v6.22h-2.49zM464.77 623.68h2.49v6.22h-2.49zM479.7 623.68h2.49v6.22h-2.49zM499.6 623.68h2.49v6.22h-2.49zM504.57 623.68h2.49v6.22h-2.49zM521.98 623.68h2.49v6.22h-2.49zM536.91 623.68h2.49v6.22h-2.49z"/>
<path fill="#4751f2" d="M380.2 319h2.49v6.22h-2.49zM380.2 331.44h4.97v6.22h-4.97zM390.15 331.44h4.97v6.22h-4.97zM417.51 337.65h2.49v6.22h-2.49zM457.31 337.65h2.49v6.22h-2.49zM434.93 343.87h2.49v6.22h-2.49zM390.15 356.31h2.49v6.22h-2.49zM494.62 362.53h2.49v6.22h-2.49zM397.61 374.96h2.49v6.22h-2.49zM372.74 387.4h2.49v6.22h-2.49zM385.18 387.4h2.49v6.22h-2.49zM417.51 387.4h2.49v6.22h-2.49zM382.69 393.62h2.49v6.22h-2.49zM437.41 399.83h2.49v6.22h-2.49zM375.23 406.05h2.49v6.22h-2.49zM392.64 406.05h2.49v6.22h-2.49zM372.74 412.27h2.49v6.22h-2.49zM385.18 412.27h2.49v6.22h-2.49zM407.56 412.27h2.49v6.22h-2.49zM454.82 412.27h2.49v6.22h-2.49zM377.72 418.49h2.49v6.22h-2.49zM387.66 418.49h2.49v6.22h-2.49zM405.08 418.49h2.49v6.22h-2.49zM429.95 418.49h2.49v6.22h-2.49zM375.23 424.71h2.49v6.22h-2.49zM387.66 424.71h2.49v6.22h-2.49zM400.1 424.71h2.49v6.22h-2.49zM429.95 424.71h4.97v6.22h-4.97zM442.39 424.71h2.49v6.22h-2.49zM397.61 430.92h4.97v6.22h-4.97zM417.51 430.92h2.49v6.22h-2.49zM482.19 430.92h2.49v6.22h-2.49zM415.03 437.14h2.49v6.22h-2.49zM415.03 443.36h2.49v6.22h-2.49zM382.69 449.58h2.49v6.22h-2.49zM407.56 449.58h2.49v6.22h-2.49zM422.49 455.8h2.49v6.22h-2.49zM429.95 455.8h2.49v6.22h-2.49zM454.82 455.8h2.49v6.22h-2.49zM434.93 462.01h2.49v6.22h-2.49zM427.46 468.23h2.49v6.22h-2.49zM484.67 480.67h2.49v6.22h-2.49zM512.03 480.67h2.49v6.22h-2.49zM479.7 493.1h2.49v6.22h-2.49zM439.9 511.76h2.49v6.22h-2.49zM454.82 511.76h2.49v6.22h-2.49zM467.26 511.76h2.49v6.22h-2.49zM472.24 511.76h2.49v6.22h-2.49zM494.62 511.76h2.49v6.22h-2.49zM509.55 511.76h2.49v6.22h-2.49zM514.52 511.76h2.49v6.22h-2.49zM467.26 517.98h2.49v6.22h-2.49zM484.67 517.98h2.49v6.22h-2.49zM494.62 517.98h4.97v6.22h-4.97zM442.39 524.19h2.49v6.22h-2.49zM467.26 524.19h2.49v6.22h-2.49zM479.7 524.19h2.49v6.22h-2.49zM477.21 530.41h2.49v6.22h-2.49zM482.19 530.41h2.49v6.22h-2.49zM512.03 530.41h2.49v6.22h-2.49zM519.5 530.41h2.49v6.22h-2.49zM467.26 536.63h2.49v6.22h-2.49zM489.65 536.63h2.49v6.22h-2.49zM521.98 536.63h2.49v6.22h-2.49zM454.82 542.85h2.49v6.22h-2.49zM534.42 542.85h4.97v6.22h-4.97zM484.67 549.07h2.49v6.22h-2.49zM507.06 555.28h2.49v6.22h-2.49zM514.52 555.28h2.49v6.22h-2.49zM541.88 555.28h2.49v6.22h-2.49zM487.16 561.5h2.49v6.22h-2.49zM504.57 561.5h2.49v6.22h-2.49zM514.52 561.5h2.49v6.22h-2.49zM464.77 567.72h2.49v6.22h-2.49zM507.06 573.94h2.49v6.22h-2.49zM464.77 586.37h2.49v6.22h-2.49zM531.93 586.37h2.49v6.22h-2.49zM514.52 592.59h2.49v6.22h-2.49zM524.47 592.59h2.49v6.22h-2.49zM462.29 598.81h2.49v6.22h-2.49zM484.67 598.81h4.97v6.22h-4.97zM462.29 605.03h2.49v6.22h-2.49zM507.06 605.03h2.49v6.22h-2.49zM514.52 605.03h2.49v6.22h-2.49zM524.47 605.03h2.49v6.22h-2.49zM539.4 605.03h2.49v6.22h-2.49zM464.77 611.25h2.49v6.22h-2.49zM514.52 611.25h2.49v6.22h-2.49zM519.5 611.25h2.49v6.22h-2.49zM541.88 611.25h2.49v6.22h-2.49zM536.91 617.46h2.49v6.22h-2.49zM462.29 623.68h2.49v6.22h-2.49zM507.06 623.68h2.49v6.22h-2.49z"/>
<path fill="#4754f4" d="M529.45 319h2.49v6.22h-2.49zM457.31 325.22h2.49v6.22h-2.49zM370.25 337.65h2.49v6.22h-2.49zM424.98 337.65h2.49v6.22h-2.49zM437.41 350.09h2.49v6.22h-2.49zM427.46 356.31h2.49v6.22h-2.49zM512.03 362.53h2.49v6.22h-2.49zM372.74 381.18h2.49v6.22h-2.49zM400.1 387.4h4.97v6.22h-4.97zM429.95 387.4h2.49v6.22h-2.49zM427.46 393.62h2.49v6.22h-2.49zM434.93 399.83h2.49v6.22h-2.49zM395.13 406.05h2.49v6.22h-2.49zM422.49 406.05h2.49v6.22h-2.49zM429.95 406.05h2.49v6.22h-2.49zM457.31 406.05h2.49v6.22h-2.49zM390.15 412.27h2.49v6.22h-2.49zM405.08 412.27h2.49v6.22h-2.49zM442.39 418.49h2.49v6.22h-2.49zM407.56 424.71h2.49v6.22h-2.49zM415.03 424.71h2.49v6.22h-2.49zM412.54 430.92h2.49v6.22h-2.49zM392.64 437.14h2.49v6.22h-2.49zM407.56 437.14h2.49v6.22h-2.49zM434.93 449.58h2.49v6.22h-2.49zM442.39 449.58h2.49v6.22h-2.49zM410.05 455.8h2.49v6.22h-2.49zM407.56 462.01h2.49v6.22h-2.49zM412.54 462.01h4.97v6.22h-4.97zM417.51 468.23h4.97v6.22h-4.97zM439.9 468.23h2.49v6.22h-2.49zM442.39 480.67h2.49v6.22h-2.49zM482.19 493.1h4.97v6.22h-4.97zM457.31 505.54h2.49v6.22h-2.49zM464.77 505.54h2.49v6.22h-2.49zM482.19 505.54h2.49v6.22h-2.49zM457.31 517.98h2.49v6.22h-2.49zM482.19 517.98h2.49v6.22h-2.49zM536.91 517.98h2.49v6.22h-2.49zM514.52 524.19h2.49v6.22h-2.49zM462.29 536.63h2.49v6.22h-2.49zM482.19 536.63h2.49v6.22h-2.49zM514.52 536.63h2.49v6.22h-2.49zM477.21 555.28h2.49v6.22h-2.49zM482.19 555.28h2.49v6.22h-2.49zM497.11 555.28h2.49v6.22h-2.49zM477.21 567.72h2.49v6.22h-2.49zM484.67 567.72h2.49v6.22h-2.49zM507.06 567.72h2.49v6.22h-2.49zM477.21 573.94h2.49v6.22h-2.49zM529.45 573.94h2.49v6.22h-2.49zM517.01 580.16h2.49v6.22h-2.49zM462.29 586.37h2.49v6.22h-2.49zM477.21 586.37h2.49v6.22h-2.49zM484.67 586.37h2.49v6.22h-2.49zM504.57 592.59h2.49v6.22h-2.49zM531.93 592.59h2.49v6.22h-2.49zM504.57 605.03h2.49v6.22h-2.49zM529.45 605.03h2.49v6.22h-2.49zM529.45 611.25h2.49v6.22h-2.49zM462.29 617.46h2.49v6.22h-2.49zM472.24 617.46h2.49v6.22h-2.49zM484.67 617.46h2.49v6.22h-2.49zM512.03 617.46h2.49v6.22h-2.49zM529.45 617.46h2.49v6.22h-2.49zM517.01 623.68h4.97v6.22h-4.97z"/>
<path fill="#4757f6" d="M415.03 337.65h2.49v6.22h-2.49zM400.1 343.87h2.49v6.22h-2.49zM417.51 343.87h2.49v6.22h-2.49zM382.69 362.53h2.49v6.22h-2.49zM390.15 362.53h2.49v6.22h-2.49zM395.13 362.53h2.49v6.22h-2.49zM424.98 368.74h2.49v6.22h-2.49zM424.98 381.18h2.49v6.22h-2.49zM375.23 393.62h2.49v6.22h-2.49zM380.2 393.62h2.49v6.22h-2.49zM390.15 393.62h2.49v6.22h-2.49zM370.25 399.83h2.49v6.22h-2.49zM397.61 399.83h2.49v6.22h-2.49zM422.49 399.83h4.97v6.22h-4.97zM377.72 406.05h2.49v6.22h-2.49zM380.2 412.27h2.49v6.22h-2.49zM400.1 412.27h2.49v6.22h-2.49zM417.51 412.27h2.49v6.22h-2.49zM432.44 418.49h2.49v6.22h-2.49zM422.49 424.71h2.49v6.22h-2.49zM395.13 430.92h2.49v6.22h-2.49zM382.69 437.14h2.49v6.22h-2.49zM402.59 437.14h2.49v6.22h-2.49zM420 437.14h2.49v6.22h-2.49zM397.61 443.36h2.49v6.22h-2.49zM417.51 443.36h2.49v6.22h-2.49zM427.46 443.36h2.49v6.22h-2.49zM417.51 449.58h2.49v6.22h-2.49zM429.95 462.01h4.97v6.22h-4.97zM439.9 462.01h2.49v6.22h-2.49zM412.54 468.23h2.49v6.22h-2.49zM422.49 468.23h2.49v6.22h-2.49zM412.54 474.45h2.49v6.22h-2.49zM412.54 480.67h2.49v6.22h-2.49zM439.9 486.89h2.49v6.22h-2.49zM442.39 493.1h2.49v6.22h-2.49zM442.39 499.32h2.49v6.22h-2.49zM439.9 505.54h2.49v6.22h-2.49zM457.31 511.76h2.49v6.22h-2.49zM497.11 511.76h2.49v6.22h-2.49zM439.9 524.19h2.49v6.22h-2.49zM497.11 524.19h2.49v6.22h-2.49zM467.26 530.41h2.49v6.22h-2.49zM497.11 536.63h2.49v6.22h-2.49zM457.31 542.85h2.49v6.22h-2.49zM472.24 542.85h2.49v6.22h-2.49zM464.77 555.28h4.97v6.22h-4.97zM531.93 555.28h2.49v6.22h-2.49zM472.24 561.5h2.49v6.22h-2.49zM497.11 561.5h2.49v6.22h-2.49zM472.24 573.94h2.49v6.22h-2.49zM464.77 580.16h2.49v6.22h-2.49zM504.57 586.37h2.49v6.22h-2.49zM462.29 592.59h2.49v6.22h-2.49zM514.52 598.81h2.49v6.22h-2.49zM519.5 598.81h2.49v6.22h-2.49zM529.45 598.81h2.49v6.22h-2.49zM519.5 605.03h2.49v6.22h-2.49zM514.52 623.68h2.49v6.22h-2.49zM529.45 623.68h2.49v6.22h-2.49z"/>
<path fill="#475af8" d="M424.98 325.22h2.49v6.22h-2.49zM385.18 331.44h2.49v6.22h-2.49zM402.59 362.53h2.49v6.22h-2.49zM370.25 381.18h2.49v6.22h-2.49zM385.18 381.18h2.49v6.22h-2.49zM442.39 381.18h2.49v6.22h-2.49zM385.18 399.83h2.49v6.22h-2.49zM390.15 399.83h2.49v6.22h-2.49zM402.59 412.27h2.49v6.22h-2.49zM439.9 412.27h2.49v6.22h-2.49zM395.13 418.49h2.49v6.22h-2.49zM372.74 424.71h2.49v6.22h-2.49zM377.72 424.71h7.46v6.22h-7.46zM390.15 424.71h2.49v6.22h-2.49zM402.59 424.71h2.49v6.22h-2.49zM370.25 430.92h2.49v6.22h-2.49zM402.59 430.92h2.49v6.22h-2.49zM405.08 437.14h2.49v6.22h-2.49zM372.74 443.36h2.49v6.22h-2.49zM380.2 443.36h2.49v6.22h-2.49zM385.18 443.36h2.49v6.22h-2.49zM437.41 443.36h2.49v6.22h-2.49zM405.08 449.58h2.49v6.22h-2.49zM437.41 449.58h2.49v6.22h-2.49zM420 455.8h2.49v6.22h-2.49zM410.05 462.01h2.49v6.22h-2.49zM427.46 462.01h2.49v6.22h-2.49zM437.41 462.01h2.49v6.22h-2.49zM410.05 474.45h2.49v6.22h-2.49zM439.9 480.67h2.49v6.22h-2.49zM424.98 486.89h4.97v6.22h-4.97zM439.9 493.1h2.49v6.22h-2.49zM439.9 499.32h2.49v6.22h-2.49zM494.62 499.32h2.49v6.22h-2.49zM494.62 505.54h2.49v6.22h-2.49zM494.62 530.41h2.49v6.22h-2.49zM494.62 542.85h4.97v6.22h-4.97zM472.24 555.28h2.49v6.22h-2.49zM477.21 561.5h2.49v6.22h-2.49zM484.67 573.94h2.49v6.22h-2.49zM497.11 573.94h2.49v6.22h-2.49zM514.52 573.94h2.49v6.22h-2.49zM472.24 580.16h2.49v6.22h-2.49zM484.67 580.16h2.49v6.22h-2.49zM472.24 586.37h2.49v6.22h-2.49zM484.67 592.59h2.49v6.22h-2.49zM484.67 611.25h2.49v6.22h-2.49zM504.57 611.25h2.49v6.22h-2.49zM519.5 617.46h2.49v6.22h-2.49z"/>
<path fill="#465dfa" d="M372.74 337.65h2.49v6.22h-2.49zM432.44 387.4h2.49v6.22h-2.49zM395.13 393.62h2.49v6.22h-2.49zM380.2 406.05h2.49v6.22h-2.49zM390.15 406.05h2.49v6.22h-2.49zM390.15 418.49h2.49v6.22h-2.49zM400.1 418.49h4.97v6.22h-4.97zM424.98 430.92h2.49v6.22h-2.49zM429.95 430.92h2.49v6.22h-2.49zM370.25 437.14h2.49v6.22h-2.49zM382.69 443.36h2.49v6.22h-2.49zM387.66 443.36h2.49v6.22h-2.49zM439.9 443.36h2.49v6.22h-2.49zM380.2 449.58h2.49v6.22h-2.49zM424.98 455.8h2.49v6.22h-2.49zM420 462.01h2.49v6.22h-2.49zM432.44 468.23h2.49v6.22h-2.49zM420 474.45h2.49v6.22h-2.49zM439.9 474.45h2.49v6.22h-2.49zM432.44 480.67h2.49v6.22h-2.49zM422.49 486.89h2.49v6.22h-2.49zM529.45 499.32h2.49v6.22h-2.49zM437.41 505.54h2.49v6.22h-2.49zM427.46 524.19h2.49v6.22h-2.49zM454.82 524.19h2.49v6.22h-2.49zM482.19 524.19h2.49v6.22h-2.49zM494.62 524.19h2.49v6.22h-2.49zM457.31 530.41h2.49v6.22h-2.49zM497.11 530.41h2.49v6.22h-2.49zM412.54 536.63h2.49v6.22h-2.49zM454.82 536.63h2.49v6.22h-2.49zM434.93 542.85h2.49v6.22h-2.49zM467.26 549.07h2.49v6.22h-2.49zM497.11 549.07h2.49v6.22h-2.49zM484.67 555.28h2.49v6.22h-2.49zM482.19 561.5h2.49v6.22h-2.49zM477.21 580.16h2.49v6.22h-2.49zM472.24 598.81h2.49v6.22h-2.49zM477.21 598.81h2.49v6.22h-2.49zM482.19 598.81h2.49v6.22h-2.49zM497.11 598.81h2.49v6.22h-2.49zM484.67 605.03h2.49v6.22h-2.49zM462.29 611.25h2.49v6.22h-2.49zM514.52 617.46h2.49v6.22h-2.49z"/>
<path fill="#4660fc" d="M424.98 319h2.49v6.22h-2.49zM432.44 331.44h2.49v6.22h-2.49zM375.23 350.09h2.49v6.22h-2.49zM375.23 368.74h2.49v6.22h-2.49zM392.64 393.62h2.49v6.22h-2.49zM407.56 399.83h2.49v6.22h-2.49zM395.13 412.27h2.49v6.22h-2.49zM385.18 424.71h2.49v6.22h-2.49zM380.2 430.92h2.49v6.22h-2.49zM372.74 437.14h7.46v6.22h-7.46zM385.18 437.14h2.49v6.22h-2.49zM397.61 437.14h2.49v6.22h-2.49zM417.51 437.14h2.49v6.22h-2.49zM424.98 437.14h2.49v6.22h-2.49zM434.93 437.14h2.49v6.22h-2.49zM439.9 449.58h2.49v6.22h-2.49zM372.74 455.8h2.49v6.22h-2.49zM397.61 455.8h2.49v6.22h-2.49zM415.03 455.8h2.49v6.22h-2.49zM417.51 462.01h2.49v6.22h-2.49zM422.49 462.01h2.49v6.22h-2.49zM442.39 462.01h2.49v6.22h-2.49zM429.95 468.23h2.49v6.22h-2.49zM434.93 468.23h2.49v6.22h-2.49zM422.49 474.45h2.49v6.22h-2.49zM427.46 474.45h2.49v6.22h-2.49zM420 480.67h2.49v6.22h-2.49zM415.03 486.89h2.49v6.22h-2.49zM442.39 486.89h2.49v6.22h-2.49zM434.93 493.1h2.49v6.22h-2.49zM494.62 493.1h2.49v6.22h-2.49zM427.46 499.32h2.49v6.22h-2.49zM454.82 517.98h2.49v6.22h-2.49zM457.31 524.19h2.49v6.22h-2.49zM454.82 530.41h2.49v6.22h-2.49zM529.45 530.41h2.49v6.22h-2.49zM415.03 542.85h2.49v6.22h-2.49zM467.26 542.85h2.49v6.22h-2.49zM454.82 549.07h2.49v6.22h-2.49zM477.21 549.07h2.49v6.22h-2.49zM482.19 549.07h2.49v6.22h-2.49zM442.39 555.28h2.49v6.22h-2.49zM467.26 567.72h2.49v6.22h-2.49zM467.26 573.94h2.49v6.22h-2.49zM482.19 573.94h2.49v6.22h-2.49zM497.11 580.16h2.49v6.22h-2.49zM477.21 605.03h2.49v6.22h-2.49zM477.21 617.46h2.49v6.22h-2.49zM484.67 623.68h2.49v6.22h-2.49z"/>
<path fill="#4463fc" d="M395.13 343.87h2.49v6.22h-2.49zM390.15 374.96h2.49v6.22h-2.49zM395.13 374.96h2.49v6.22h-2.49zM375.23 381.18h2.49v6.22h-2.49zM370.25 418.49h2.49v6.22h-2.49zM375.23 418.49h2.49v6.22h-2.49zM385.18 418.49h2.49v6.22h-2.49zM405.08 424.71h2.49v6.22h-2.49zM424.98 424.71h2.49v6.22h-2.49zM392.64 430.92h2.49v6.22h-2.49zM437.41 430.92h2.49v6.22h-2.49zM380.2 437.14h2.49v6.22h-2.49zM422.49 443.36h4.97v6.22h-4.97zM375.23 449.58h2.49v6.22h-2.49zM392.64 449.58h2.49v6.22h-2.49zM400.1 449.58h2.49v6.22h-2.49zM424.98 449.58h2.49v6.22h-2.49zM392.64 455.8h2.49v6.22h-2.49zM400.1 455.8h2.49v6.22h-2.49zM405.08 455.8h2.49v6.22h-2.49zM437.41 455.8h2.49v6.22h-2.49zM437.41 468.23h2.49v6.22h-2.49zM402.59 474.45h2.49v6.22h-2.49zM407.56 480.67h2.49v6.22h-2.49zM417.51 480.67h2.49v6.22h-2.49zM422.49 505.54h2.49v6.22h-2.49zM429.95 505.54h2.49v6.22h-2.49zM427.46 511.76h2.49v6.22h-2.49zM457.31 536.63h2.49v6.22h-2.49zM482.19 542.85h2.49v6.22h-2.49zM494.62 549.07h2.49v6.22h-2.49zM457.31 573.94h2.49v6.22h-2.49zM467.26 580.16h2.49v6.22h-2.49zM482.19 580.16h2.49v6.22h-2.49zM477.21 592.59h2.49v6.22h-2.49zM529.45 592.59h2.49v6.22h-2.49zM472.24 605.03h2.49v6.22h-2.49zM477.21 611.25h2.49v6.22h-2.49zM427.46 623.68h2.49v6.22h-2.49zM439.9 623.68h2.49v6.22h-2.49zM472.24 623.68h2.49v6.22h-2.49zM497.11 623.68h2.49v6.22h-2.49z"/>
<path fill="#4267fc" d="M424.98 393.62h2.49v6.22h-2.49zM370.25 412.27h2.49v6.22h-2.49zM382.69 418.49h2.49v6.22h-2.49zM387.66 430.92h2.49v6.22h-2.49zM422.49 430.92h2.49v6.22h-2.49zM370.25 443.36h2.49v6.22h-2.49zM377.72 443.36h2.49v6.22h-2.49zM387.66 449.58h2.49v6.22h-2.49zM422.49 449.58h2.49v6.22h-2.49zM382.69 455.8h2.49v6.22h-2.49zM397.61 462.01h2.49v6.22h-2.49zM420 486.89h2.49v6.22h-2.49zM437.41 486.89h2.49v6.22h-2.49zM412.54 493.1h4.97v6.22h-4.97zM429.95 493.1h2.49v6.22h-2.49zM437.41 499.32h2.49v6.22h-2.49zM442.39 530.41h2.49v6.22h-2.49zM437.41 549.07h2.49v6.22h-2.49zM494.62 555.28h2.49v6.22h-2.49zM494.62 561.5h2.49v6.22h-2.49zM497.11 567.72h2.49v6.22h-2.49zM497.11 586.37h2.49v6.22h-2.49zM472.24 592.59h2.49v6.22h-2.49zM482.19 592.59h2.49v6.22h-2.49zM482.19 617.46h2.49v6.22h-2.49z"/>
<path fill="#406afc" d="M375.23 412.27h2.49v6.22h-2.49zM370.25 424.71h2.49v6.22h-2.49zM385.18 430.92h2.49v6.22h-2.49zM395.13 443.36h2.49v6.22h-2.49zM385.18 449.58h2.49v6.22h-2.49zM395.13 449.58h2.49v6.22h-2.49zM370.25 455.8h2.49v6.22h-2.49zM424.98 462.01h2.49v6.22h-2.49zM405.08 468.23h4.97v6.22h-4.97zM415.03 468.23h2.49v6.22h-2.49zM417.51 474.45h2.49v6.22h-2.49zM434.93 474.45h2.49v6.22h-2.49zM407.56 486.89h2.49v6.22h-2.49zM412.54 486.89h2.49v6.22h-2.49zM432.44 486.89h4.97v6.22h-4.97zM422.49 493.1h2.49v6.22h-2.49zM427.46 493.1h2.49v6.22h-2.49zM402.59 499.32h2.49v6.22h-2.49zM434.93 499.32h2.49v6.22h-2.49zM427.46 517.98h2.49v6.22h-2.49zM432.44 517.98h2.49v6.22h-2.49zM439.9 517.98h2.49v6.22h-2.49zM439.9 530.41h2.49v6.22h-2.49zM439.9 536.63h2.49v6.22h-2.49zM472.24 549.07h2.49v6.22h-2.49zM457.31 555.28h2.49v6.22h-2.49zM454.82 567.72h2.49v6.22h-2.49zM482.19 567.72h2.49v6.22h-2.49zM494.62 580.16h2.49v6.22h-2.49zM467.26 592.59h2.49v6.22h-2.49zM497.11 592.59h2.49v6.22h-2.49zM494.62 598.81h2.49v6.22h-2.49zM497.11 605.03h2.49v6.22h-2.49zM412.54 611.25h2.49v6.22h-2.49zM497.11 617.46h2.49v6.22h-2.49zM477.21 623.68h2.49v6.22h-2.49zM482.19 623.68h2.49v6.22h-2.49z"/>
<path fill="#3e6dfc" d="M395.13 368.74h2.49v6.22h-2.49zM395.13 424.71h2.49v6.22h-2.49zM372.74 430.92h4.97v6.22h-4.97zM390.15 430.92h2.49v6.22h-2.49zM395.13 437.14h2.49v6.22h-2.49zM377.72 449.58h2.49v6.22h-2.49zM407.56 455.8h2.49v6.22h-2.49zM417.51 455.8h2.49v6.22h-2.49zM432.44 455.8h2.49v6.22h-2.49zM387.66 462.01h2.49v6.22h-2.49zM397.61 468.23h2.49v6.22h-2.49zM402.59 468.23h2.49v6.22h-2.49zM410.05 468.23h2.49v6.22h-2.49zM424.98 468.23h2.49v6.22h-2.49zM434.93 505.54h2.49v6.22h-2.49zM442.39 505.54h2.49v6.22h-2.49zM437.41 511.76h2.49v6.22h-2.49zM434.93 517.98h2.49v6.22h-2.49zM392.64 530.41h2.49v6.22h-2.49zM432.44 549.07h2.49v6.22h-2.49zM457.31 549.07h2.49v6.22h-2.49zM457.31 561.5h2.49v6.22h-2.49zM467.26 561.5h2.49v6.22h-2.49zM454.82 573.94h2.49v6.22h-2.49zM467.26 586.37h2.49v6.22h-2.49zM494.62 586.37h2.49v6.22h-2.49zM494.62 592.59h2.49v6.22h-2.49zM482.19 605.03h2.49v6.22h-2.49zM429.95 623.68h4.97v6.22h-4.97zM437.41 623.68h2.49v6.22h-2.49z"/>
<path fill="#3c70fd" d="M372.74 449.58h2.49v6.22h-2.49zM385.18 455.8h2.49v6.22h-2.49zM402.59 462.01h4.97v6.22h-4.97zM392.64 468.23h2.49v6.22h-2.49zM400.1 468.23h2.49v6.22h-2.49zM429.95 474.45h2.49v6.22h-2.49zM437.41 474.45h2.49v6.22h-2.49zM427.46 480.67h2.49v6.22h-2.49zM417.51 486.89h2.49v6.22h-2.49zM427.46 505.54h2.49v6.22h-2.49zM432.44 505.54h2.49v6.22h-2.49zM410.05 517.98h2.49v6.22h-2.49zM412.54 524.19h2.49v6.22h-2.49zM437.41 524.19h2.49v6.22h-2.49zM442.39 536.63h2.49v6.22h-2.49zM442.39 542.85h2.49v6.22h-2.49zM420 555.28h2.49v6.22h-2.49zM454.82 555.28h2.49v6.22h-2.49zM454.82 561.5h2.49v6.22h-2.49zM457.31 567.72h2.49v6.22h-2.49zM494.62 567.72h2.49v6.22h-2.49zM439.9 573.94h2.49v6.22h-2.49zM457.31 580.16h2.49v6.22h-2.49zM482.19 586.37h2.49v6.22h-2.49zM417.51 605.03h2.49v6.22h-2.49zM472.24 611.25h2.49v6.22h-2.49z"/>
<path fill="#3973fd" d="M387.66 437.14h4.97v6.22h-4.97zM387.66 455.8h2.49v6.22h-2.49zM370.25 468.23h4.97v6.22h-4.97zM387.66 474.45h2.49v6.22h-2.49zM397.61 474.45h2.49v6.22h-2.49zM415.03 474.45h2.49v6.22h-2.49zM415.03 480.67h2.49v6.22h-2.49zM424.98 480.67h2.49v6.22h-2.49zM429.95 480.67h2.49v6.22h-2.49zM429.95 486.89h2.49v6.22h-2.49zM370.25 493.1h2.49v6.22h-2.49zM424.98 493.1h2.49v6.22h-2.49zM420 499.32h2.49v6.22h-2.49zM432.44 499.32h2.49v6.22h-2.49zM387.66 517.98h2.49v6.22h-2.49zM420 517.98h2.49v6.22h-2.49zM437.41 517.98h2.49v6.22h-2.49zM434.93 524.19h2.49v6.22h-2.49zM424.98 530.41h2.49v6.22h-2.49zM410.05 542.85h2.49v6.22h-2.49zM439.9 542.85h2.49v6.22h-2.49zM439.9 555.28h2.49v6.22h-2.49zM412.54 561.5h2.49v6.22h-2.49zM442.39 561.5h2.49v6.22h-2.49zM439.9 567.72h2.49v6.22h-2.49zM494.62 573.94h2.49v6.22h-2.49zM432.44 580.16h4.97v6.22h-4.97zM442.39 586.37h2.49v6.22h-2.49zM434.93 592.59h2.49v6.22h-2.49zM467.26 598.81h2.49v6.22h-2.49zM457.31 605.03h2.49v6.22h-2.49zM482.19 611.25h2.49v6.22h-2.49zM439.9 617.46h2.49v6.22h-2.49zM415.03 623.68h2.49v6.22h-2.49z"/>
<path fill="#3776fd" d="M372.74 418.49h2.49v6.22h-2.49zM392.64 443.36h2.49v6.22h-2.49zM370.25 449.58h2.49v6.22h-2.49zM402.59 449.58h2.49v6.22h-2.49zM375.23 462.01h2.49v6.22h-2.49zM385.18 462.01h2.49v6.22h-2.49zM400.1 462.01h2.49v6.22h-2.49zM392.64 474.45h2.49v6.22h-2.49zM405.08 474.45h4.97v6.22h-4.97zM424.98 474.45h2.49v6.22h-2.49zM382.69 480.67h2.49v6.22h-2.49zM422.49 480.67h2.49v6.22h-2.49zM405.08 486.89h2.49v6.22h-2.49zM410.05 486.89h2.49v6.22h-2.49zM397.61 493.1h2.49v6.22h-2.49zM405.08 493.1h4.97v6.22h-4.97zM420 493.1h2.49v6.22h-2.49zM437.41 493.1h2.49v6.22h-2.49zM405.08 499.32h2.49v6.22h-2.49zM429.95 499.32h2.49v6.22h-2.49zM400.1 505.54h2.49v6.22h-2.49zM405.08 505.54h2.49v6.22h-2.49zM417.51 505.54h4.97v6.22h-4.97zM434.93 511.76h2.49v6.22h-2.49zM442.39 517.98h2.49v6.22h-2.49zM424.98 536.63h2.49v6.22h-2.49zM427.46 542.85h2.49v6.22h-2.49zM442.39 549.07h2.49v6.22h-2.49zM434.93 561.5h2.49v6.22h-2.49zM415.03 573.94h2.49v6.22h-2.49zM434.93 573.94h4.97v6.22h-4.97zM442.39 573.94h2.49v6.22h-2.49zM429.95 586.37h2.49v6.22h-2.49zM427.46 592.59h2.49v6.22h-2.49zM442.39 605.03h2.49v6.22h-2.49zM494.62 611.25h4.97v6.22h-4.97zM370.25 623.68h2.49v6.22h-2.49zM397.61 623.68h2.49v6.22h-2.49zM424.98 623.68h2.49v6.22h-2.49z"/>
<path fill="#3579fd" d="M375.23 443.36h2.49v6.22h-2.49zM390.15 449.58h2.49v6.22h-2.49zM397.61 449.58h2.49v6.22h-2.49zM380.2 455.8h2.49v6.22h-2.49zM395.13 455.8h2.49v6.22h-2.49zM377.72 462.01h4.97v6.22h-4.97zM390.15 462.01h2.49v6.22h-2.49zM382.69 468.23h2.49v6.22h-2.49zM370.25 474.45h2.49v6.22h-2.49zM377.72 474.45h2.49v6.22h-2.49zM382.69 474.45h2.49v6.22h-2.49zM432.44 474.45h2.49v6.22h-2.49zM410.05 480.67h2.49v6.22h-2.49zM382.69 499.32h2.49v6.22h-2.49zM400.1 499.32h2.49v6.22h-2.49zM422.49 499.32h2.49v6.22h-2.49zM422.49 511.76h2.49v6.22h-2.49zM442.39 511.76h2.49v6.22h-2.49zM402.59 517.98h2.49v6.22h-2.49zM392.64 524.19h2.49v6.22h-2.49zM429.95 524.19h2.49v6.22h-2.49zM427.46 530.41h4.97v6.22h-4.97zM434.93 530.41h2.49v6.22h-2.49zM434.93 536.63h2.49v6.22h-2.49zM407.56 542.85h2.49v6.22h-2.49zM429.95 542.85h2.49v6.22h-2.49zM437.41 542.85h2.49v6.22h-2.49zM422.49 549.07h2.49v6.22h-2.49zM429.95 555.28h2.49v6.22h-2.49zM415.03 561.5h2.49v6.22h-2.49zM427.46 561.5h2.49v6.22h-2.49zM439.9 561.5h2.49v6.22h-2.49zM422.49 567.72h2.49v6.22h-2.49zM457.31 586.37h2.49v6.22h-2.49zM412.54 592.59h2.49v6.22h-2.49zM454.82 598.81h2.49v6.22h-2.49zM434.93 605.03h2.49v6.22h-2.49zM454.82 605.03h2.49v6.22h-2.49zM467.26 605.03h2.49v6.22h-2.49zM494.62 605.03h2.49v6.22h-2.49zM420 617.46h2.49v6.22h-2.49zM494.62 617.46h2.49v6.22h-2.49zM392.64 623.68h2.49v6.22h-2.49zM402.59 623.68h2.49v6.22h-2.49zM420 623.68h4.97v6.22h-4.97zM467.26 623.68h2.49v6.22h-2.49zM494.62 623.68h2.49v6.22h-2.49z"/>
<path fill="#337cfb" d="M390.15 455.8h2.49v6.22h-2.49zM402.59 455.8h2.49v6.22h-2.49zM382.69 462.01h2.49v6.22h-2.49zM387.66 468.23h2.49v6.22h-2.49zM400.1 474.45h2.49v6.22h-2.49zM387.66 480.67h2.49v6.22h-2.49zM405.08 480.67h2.49v6.22h-2.49zM434.93 480.67h2.49v6.22h-2.49zM392.64 486.89h2.49v6.22h-2.49zM400.1 493.1h2.49v6.22h-2.49zM417.51 493.1h2.49v6.22h-2.49zM412.54 499.32h2.49v6.22h-2.49zM410.05 505.54h2.49v6.22h-2.49zM420 511.76h2.49v6.22h-2.49zM429.95 511.76h2.49v6.22h-2.49zM420 524.19h2.49v6.22h-2.49zM437.41 530.41h2.49v6.22h-2.49zM420 536.63h4.97v6.22h-4.97zM420 549.07h2.49v6.22h-2.49zM434.93 549.07h2.49v6.22h-2.49zM427.46 555.28h2.49v6.22h-2.49zM429.95 561.5h2.49v6.22h-2.49zM427.46 567.72h2.49v6.22h-2.49zM434.93 567.72h2.49v6.22h-2.49zM442.39 567.72h2.49v6.22h-2.49zM412.54 573.94h2.49v6.22h-2.49zM432.44 573.94h2.49v6.22h-2.49zM437.41 580.16h2.49v6.22h-2.49zM454.82 580.16h2.49v6.22h-2.49zM427.46 586.37h2.49v6.22h-2.49zM437.41 586.37h2.49v6.22h-2.49zM407.56 592.59h2.49v6.22h-2.49zM410.05 598.81h2.49v6.22h-2.49zM434.93 598.81h2.49v6.22h-2.49zM457.31 598.81h2.49v6.22h-2.49zM427.46 605.03h2.49v6.22h-2.49zM457.31 611.25h2.49v6.22h-2.49zM467.26 611.25h2.49v6.22h-2.49zM429.95 617.46h4.97v6.22h-4.97zM454.82 617.46h2.49v6.22h-2.49zM377.72 623.68h2.49v6.22h-2.49zM400.1 623.68h2.49v6.22h-2.49zM434.93 623.68h2.49v6.22h-2.49z"/>
<path fill="#317ff9" d="M390.15 443.36h2.49v6.22h-2.49zM375.23 455.8h2.49v6.22h-2.49zM372.74 462.01h2.49v6.22h-2.49zM392.64 462.01h2.49v6.22h-2.49zM377.72 468.23h4.97v6.22h-4.97zM385.18 468.23h2.49v6.22h-2.49zM375.23 474.45h2.49v6.22h-2.49zM395.13 474.45h2.49v6.22h-2.49zM402.59 480.67h2.49v6.22h-2.49zM437.41 480.67h2.49v6.22h-2.49zM380.2 493.1h2.49v6.22h-2.49zM415.03 499.32h2.49v6.22h-2.49zM424.98 505.54h2.49v6.22h-2.49zM432.44 511.76h2.49v6.22h-2.49zM427.46 536.63h2.49v6.22h-2.49zM437.41 536.63h2.49v6.22h-2.49zM412.54 542.85h2.49v6.22h-2.49zM397.61 549.07h2.49v6.22h-2.49zM429.95 549.07h2.49v6.22h-2.49zM439.9 549.07h2.49v6.22h-2.49zM410.05 567.72h2.49v6.22h-2.49zM432.44 567.72h2.49v6.22h-2.49zM437.41 567.72h2.49v6.22h-2.49zM420 573.94h2.49v6.22h-2.49zM420 586.37h2.49v6.22h-2.49zM454.82 586.37h2.49v6.22h-2.49zM415.03 592.59h2.49v6.22h-2.49zM420 592.59h2.49v6.22h-2.49zM454.82 592.59h2.49v6.22h-2.49zM442.39 598.81h2.49v6.22h-2.49zM432.44 605.03h2.49v6.22h-2.49zM427.46 611.25h2.49v6.22h-2.49zM439.9 611.25h2.49v6.22h-2.49zM427.46 617.46h2.49v6.22h-2.49zM434.93 617.46h2.49v6.22h-2.49zM467.26 617.46h2.49v6.22h-2.49zM405.08 623.68h2.49v6.22h-2.49z"/>
<path fill="#2e82f6" d="M377.72 455.8h2.49v6.22h-2.49zM387.66 493.1h2.49v6.22h-2.49zM392.64 493.1h2.49v6.22h-2.49zM432.44 493.1h2.49v6.22h-2.49zM412.54 505.54h2.49v6.22h-2.49zM412.54 511.76h2.49v6.22h-2.49zM415.03 517.98h2.49v6.22h-2.49zM432.44 530.41h2.49v6.22h-2.49zM432.44 542.85h2.49v6.22h-2.49zM432.44 555.28h4.97v6.22h-4.97zM420 561.5h2.49v6.22h-2.49zM392.64 573.94h2.49v6.22h-2.49zM412.54 580.16h2.49v6.22h-2.49zM427.46 580.16h2.49v6.22h-2.49zM407.56 586.37h2.49v6.22h-2.49zM439.9 586.37h2.49v6.22h-2.49zM382.69 623.68h2.49v6.22h-2.49zM387.66 623.68h2.49v6.22h-2.49zM417.51 623.68h2.49v6.22h-2.49zM442.39 623.68h2.49v6.22h-2.49z"/>
<path fill="#2c86f4" d="M390.15 468.23h2.49v6.22h-2.49zM392.64 480.67h2.49v6.22h-2.49zM400.1 480.67h2.49v6.22h-2.49zM402.59 486.89h2.49v6.22h-2.49zM410.05 493.1h2.49v6.22h-2.49zM417.51 499.32h2.49v6.22h-2.49zM424.98 499.32h2.49v6.22h-2.49zM372.74 505.54h2.49v6.22h-2.49zM415.03 505.54h2.49v6.22h-2.49zM405.08 511.76h2.49v6.22h-2.49zM422.49 517.98h2.49v6.22h-2.49zM429.95 517.98h2.49v6.22h-2.49zM422.49 524.19h2.49v6.22h-2.49zM432.44 524.19h2.49v6.22h-2.49zM417.51 530.41h7.46v6.22h-7.46zM432.44 536.63h2.49v6.22h-2.49zM405.08 542.85h2.49v6.22h-2.49zM420 542.85h4.97v6.22h-4.97zM400.1 549.07h2.49v6.22h-2.49zM410.05 549.07h2.49v6.22h-2.49zM432.44 561.5h2.49v6.22h-2.49zM429.95 567.72h2.49v6.22h-2.49zM422.49 573.94h4.97v6.22h-4.97zM420 580.16h2.49v6.22h-2.49zM412.54 586.37h2.49v6.22h-2.49zM424.98 592.59h2.49v6.22h-2.49zM429.95 592.59h2.49v6.22h-2.49zM437.41 592.59h2.49v6.22h-2.49zM422.49 598.81h2.49v6.22h-2.49zM415.03 605.03h2.49v6.22h-2.49zM420 605.03h2.49v6.22h-2.49zM415.03 611.25h2.49v6.22h-2.49zM424.98 611.25h2.49v6.22h-2.49zM442.39 611.25h2.49v6.22h-2.49zM454.82 611.25h2.49v6.22h-2.49zM412.54 617.46h2.49v6.22h-2.49zM457.31 617.46h2.49v6.22h-2.49zM385.18 623.68h2.49v6.22h-2.49zM407.56 623.68h2.49v6.22h-2.49z"/>
<path fill="#2a89f2" d="M370.25 462.01h2.49v6.22h-2.49zM375.23 468.23h2.49v6.22h-2.49zM385.18 474.45h2.49v6.22h-2.49zM397.61 480.67h2.49v6.22h-2.49zM387.66 486.89h2.49v6.22h-2.49zM382.69 493.1h2.49v6.22h-2.49zM387.66 505.54h2.49v6.22h-2.49zM407.56 511.76h2.49v6.22h-2.49zM397.61 524.19h2.49v6.22h-2.49zM407.56 524.19h2.49v6.22h-2.49zM412.54 530.41h2.49v6.22h-2.49zM424.98 542.85h2.49v6.22h-2.49zM437.41 561.5h2.49v6.22h-2.49zM427.46 573.94h2.49v6.22h-2.49zM442.39 580.16h2.49v6.22h-2.49zM457.31 592.59h2.49v6.22h-2.49zM432.44 598.81h2.49v6.22h-2.49zM429.95 611.25h2.49v6.22h-2.49zM410.05 617.46h2.49v6.22h-2.49zM415.03 617.46h2.49v6.22h-2.49zM372.74 623.68h2.49v6.22h-2.49zM380.2 623.68h2.49v6.22h-2.49zM410.05 623.68h4.97v6.22h-4.97zM454.82 623.68h2.49v6.22h-2.49z"/>
<path fill="#288cf0" d="M380.2 474.45h2.49v6.22h-2.49zM370.25 486.89h2.49v6.22h-2.49zM395.13 486.89h2.49v6.22h-2.49zM410.05 499.32h2.49v6.22h-2.49zM392.64 505.54h2.49v6.22h-2.49zM424.98 511.76h2.49v6.22h-2.49zM417.51 517.98h2.49v6.22h-2.49zM382.69 530.41h2.49v6.22h-2.49zM429.95 536.63h2.49v6.22h-2.49zM415.03 549.07h2.49v6.22h-2.49zM429.95 573.94h2.49v6.22h-2.49zM424.98 580.16h2.49v6.22h-2.49zM410.05 592.59h2.49v6.22h-2.49zM417.51 592.59h2.49v6.22h-2.49zM432.44 592.59h2.49v6.22h-2.49zM439.9 592.59h2.49v6.22h-2.49zM427.46 598.81h2.49v6.22h-2.49zM437.41 598.81h2.49v6.22h-2.49zM432.44 611.25h2.49v6.22h-2.49zM437.41 611.25h2.49v6.22h-2.49zM402.59 617.46h2.49v6.22h-2.49zM390.15 623.68h2.49v6.22h-2.49z"/>
<path fill="#278eee" d="M390.15 474.45h2.49v6.22h-2.49zM397.61 486.89h4.97v6.22h-4.97zM372.74 493.1h2.49v6.22h-2.49zM400.1 511.76h2.49v6.22h-2.49zM424.98 524.19h2.49v6.22h-2.49zM417.51 536.63h2.49v6.22h-2.49zM427.46 549.07h2.49v6.22h-2.49zM407.56 555.28h2.49v6.22h-2.49zM420 567.72h2.49v6.22h-2.49zM424.98 567.72h2.49v6.22h-2.49zM410.05 573.94h2.49v6.22h-2.49zM407.56 580.16h2.49v6.22h-2.49zM417.51 580.16h2.49v6.22h-2.49zM422.49 580.16h2.49v6.22h-2.49zM429.95 580.16h2.49v6.22h-2.49zM417.51 586.37h2.49v6.22h-2.49zM434.93 586.37h2.49v6.22h-2.49zM422.49 592.59h2.49v6.22h-2.49zM429.95 605.03h2.49v6.22h-2.49zM437.41 605.03h2.49v6.22h-2.49zM424.98 617.46h2.49v6.22h-2.49z"/>
<path fill="#2591ec" d="M370.25 480.67h2.49v6.22h-2.49zM407.56 499.32h2.49v6.22h-2.49zM382.69 511.76h2.49v6.22h-2.49zM410.05 511.76h2.49v6.22h-2.49zM412.54 517.98h2.49v6.22h-2.49zM407.56 530.41h2.49v6.22h-2.49zM405.08 549.07h2.49v6.22h-2.49zM437.41 555.28h2.49v6.22h-2.49zM439.9 580.16h2.49v6.22h-2.49zM442.39 592.59h2.49v6.22h-2.49zM439.9 605.03h2.49v6.22h-2.49zM407.56 617.46h2.49v6.22h-2.49zM442.39 617.46h2.49v6.22h-2.49zM457.31 623.68h2.49v6.22h-2.49z"/>
<path fill="#2494ea" d="M395.13 462.01h2.49v6.22h-2.49zM385.18 480.67h2.49v6.22h-2.49zM390.15 480.67h2.49v6.22h-2.49zM402.59 493.1h2.49v6.22h-2.49zM397.61 517.98h2.49v6.22h-2.49zM387.66 524.19h2.49v6.22h-2.49zM410.05 524.19h2.49v6.22h-2.49zM417.51 524.19h2.49v6.22h-2.49zM415.03 536.63h2.49v6.22h-2.49zM397.61 555.28h2.49v6.22h-2.49zM415.03 555.28h2.49v6.22h-2.49zM422.49 555.28h2.49v6.22h-2.49zM422.49 561.5h4.97v6.22h-4.97zM415.03 567.72h4.97v6.22h-4.97zM410.05 580.16h2.49v6.22h-2.49zM415.03 580.16h2.49v6.22h-2.49zM415.03 586.37h2.49v6.22h-2.49zM422.49 586.37h2.49v6.22h-2.49zM420 611.25h2.49v6.22h-2.49zM434.93 611.25h2.49v6.22h-2.49zM417.51 617.46h2.49v6.22h-2.49zM422.49 617.46h2.49v6.22h-2.49zM437.41 617.46h2.49v6.22h-2.49zM395.13 623.68h2.49v6.22h-2.49z"/>
<path fill="#2396e8" d="M395.13 468.23h2.49v6.22h-2.49zM372.74 474.45h2.49v6.22h-2.49zM377.72 480.67h4.97v6.22h-4.97zM395.13 480.67h2.49v6.22h-2.49zM372.74 486.89h2.49v6.22h-2.49zM380.2 486.89h2.49v6.22h-2.49zM385.18 493.1h2.49v6.22h-2.49zM390.15 493.1h2.49v6.22h-2.49zM392.64 499.32h2.49v6.22h-2.49zM397.61 505.54h2.49v6.22h-2.49zM415.03 511.76h4.97v6.22h-4.97zM424.98 517.98h2.49v6.22h-2.49zM415.03 524.19h2.49v6.22h-2.49zM417.51 542.85h2.49v6.22h-2.49zM410.05 555.28h2.49v6.22h-2.49zM417.51 555.28h2.49v6.22h-2.49zM417.51 561.5h2.49v6.22h-2.49zM400.1 567.72h2.49v6.22h-2.49zM417.51 573.94h2.49v6.22h-2.49zM429.95 598.81h2.49v6.22h-2.49zM439.9 598.81h2.49v6.22h-2.49zM410.05 605.03h2.49v6.22h-2.49z"/>
<path fill="#2198e6" d="M402.59 524.19h2.49v6.22h-2.49zM397.61 542.85h2.49v6.22h-2.49zM424.98 549.07h2.49v6.22h-2.49zM424.98 586.37h2.49v6.22h-2.49zM412.54 598.81h2.49v6.22h-2.49zM400.1 605.03h2.49v6.22h-2.49zM375.23 623.68h2.49v6.22h-2.49z"/>
<path fill="#209be4" d="M372.74 480.67h4.97v6.22h-4.97zM377.72 493.1h2.49v6.22h-2.49zM370.25 499.32h4.97v6.22h-4.97zM385.18 517.98h2.49v6.22h-2.49zM400.1 517.98h2.49v6.22h-2.49zM397.61 530.41h2.49v6.22h-2.49zM405.08 555.28h2.49v6.22h-2.49zM424.98 555.28h2.49v6.22h-2.49zM410.05 561.5h2.49v6.22h-2.49zM410.05 586.37h2.49v6.22h-2.49zM407.56 611.25h2.49v6.22h-2.49z"/>
<path fill="#1e9ee2" d="M392.64 511.76h2.49v6.22h-2.49zM382.69 536.63h2.49v6.22h-2.49zM432.44 586.37h2.49v6.22h-2.49zM400.1 592.59h2.49v6.22h-2.49zM422.49 605.03h2.49v6.22h-2.49zM405.08 617.46h2.49v6.22h-2.49z"/>
<path fill="#1da0e0" d="M400.1 530.41h2.49v6.22h-2.49zM415.03 530.41h2.49v6.22h-2.49zM417.51 549.07h2.49v6.22h-2.49zM402.59 561.5h2.49v6.22h-2.49zM377.72 592.59h2.49v6.22h-2.49zM424.98 605.03h2.49v6.22h-2.49z"/>
<path fill="#1ba2de" d="M382.69 486.89h2.49v6.22h-2.49zM382.69 505.54h2.49v6.22h-2.49zM395.13 530.41h2.49v6.22h-2.49zM400.1 617.46h2.49v6.22h-2.49z"/>
<path fill="#19a5dc" d="M385.18 486.89h2.49v6.22h-2.49zM375.23 493.1h2.49v6.22h-2.49zM380.2 505.54h2.49v6.22h-2.49zM407.56 505.54h2.49v6.22h-2.49zM387.66 511.76h2.49v6.22h-2.49zM395.13 511.76h2.49v6.22h-2.49zM390.15 524.19h2.49v6.22h-2.49zM400.1 524.19h2.49v6.22h-2.49zM397.61 536.63h2.49v6.22h-2.49zM402.59 542.85h2.49v6.22h-2.49zM405.08 586.37h2.49v6.22h-2.49zM417.51 598.81h2.49v6.22h-2.49zM410.05 611.25h2.49v6.22h-2.49z"/>
<path fill="#18a8da" d="M375.23 486.89h2.49v6.22h-2.49zM390.15 499.32h2.49v6.22h-2.49zM377.72 555.28h2.49v6.22h-2.49zM402.59 598.81h2.49v6.22h-2.49z"/>
<path fill="#16aad8" d="M370.25 505.54h2.49v6.22h-2.49zM390.15 505.54h2.49v6.22h-2.49zM382.69 524.19h2.49v6.22h-2.49zM405.08 530.41h2.49v6.22h-2.49zM392.64 542.85h2.49v6.22h-2.49zM400.1 561.5h2.49v6.22h-2.49zM405.08 561.5h4.97v6.22h-4.97zM415.03 598.81h2.49v6.22h-2.49zM412.54 605.03h2.49v6.22h-2.49zM422.49 611.25h2.49v6.22h-2.49z"/>
<path fill="#14acd5" d="M390.15 511.76h2.49v6.22h-2.49zM392.64 517.98h2.49v6.22h-2.49zM407.56 573.94h2.49v6.22h-2.49zM405.08 592.59h2.49v6.22h-2.49zM397.61 617.46h2.49v6.22h-2.49z"/>
<path fill="#12aed3" d="M375.23 499.32h4.97v6.22h-4.97zM387.66 499.32h2.49v6.22h-2.49zM385.18 511.76h2.49v6.22h-2.49zM380.2 517.98h2.49v6.22h-2.49zM377.72 530.41h2.49v6.22h-2.49zM385.18 530.41h2.49v6.22h-2.49zM407.56 536.63h2.49v6.22h-2.49zM392.64 549.07h2.49v6.22h-2.49zM412.54 549.07h2.49v6.22h-2.49zM412.54 567.72h2.49v6.22h-2.49z"/>
<path fill="#10b0d0" d="M402.59 505.54h2.49v6.22h-2.49zM390.15 530.41h2.49v6.22h-2.49zM400.1 536.63h2.49v6.22h-2.49zM400.1 555.28h2.49v6.22h-2.49zM387.66 580.16h2.49v6.22h-2.49zM400.1 586.37h2.49v6.22h-2.49zM407.56 605.03h2.49v6.22h-2.49z"/>
<path fill="#0eb3cd" d="M382.69 517.98h2.49v6.22h-2.49zM410.05 536.63h2.49v6.22h-2.49zM412.54 555.28h2.49v6.22h-2.49zM400.1 598.81h2.49v6.22h-2.49z"/>
<path fill="#0cb5cb" d="M395.13 505.54h2.49v6.22h-2.49zM387.66 530.41h2.49v6.22h-2.49zM387.66 536.63h2.49v6.22h-2.49zM407.56 549.07h2.49v6.22h-2.49zM387.66 555.28h2.49v6.22h-2.49zM405.08 573.94h2.49v6.22h-2.49zM402.59 586.37h2.49v6.22h-2.49zM424.98 598.81h2.49v6.22h-2.49z"/>
<path fill="#0ab7c8" d="M407.56 517.98h2.49v6.22h-2.49zM395.13 524.19h2.49v6.22h-2.49zM405.08 536.63h2.49v6.22h-2.49zM387.66 542.85h2.49v6.22h-2.49zM405.08 580.16h2.49v6.22h-2.49z"/>
<path fill="#0cb8c5" d="M377.72 505.54h2.49v6.22h-2.49zM402.59 511.76h2.49v6.22h-2.49zM385.18 524.19h2.49v6.22h-2.49zM380.2 536.63h2.49v6.22h-2.49zM402.59 549.07h2.49v6.22h-2.49zM395.13 592.59h2.49v6.22h-2.49z"/>
<path fill="#0eb9c1" d="M380.2 499.32h2.49v6.22h-2.49zM395.13 499.32h2.49v6.22h-2.49zM380.2 511.76h2.49v6.22h-2.49zM380.2 530.41h2.49v6.22h-2.49zM402.59 530.41h2.49v6.22h-2.49zM377.72 542.85h2.49v6.22h-2.49zM390.15 542.85h2.49v6.22h-2.49zM377.72 573.94h2.49v6.22h-2.49zM397.61 580.16h2.49v6.22h-2.49z"/>
<path fill="#10babe" d="M372.74 517.98h2.49v6.22h-2.49zM402.59 536.63h2.49v6.22h-2.49zM387.66 549.07h2.49v6.22h-2.49zM392.64 561.5h2.49v6.22h-2.49zM382.69 592.59h2.49v6.22h-2.49zM392.64 592.59h2.49v6.22h-2.49z"/>
<path fill="#12bcbb" d="M390.15 486.89h2.49v6.22h-2.49zM375.23 505.54h2.49v6.22h-2.49zM392.64 536.63h2.49v6.22h-2.49zM402.59 573.94h2.49v6.22h-2.49zM392.64 580.16h2.49v6.22h-2.49zM417.51 611.25h2.49v6.22h-2.49zM392.64 617.46h4.97v6.22h-4.97z"/>
<path fill="#14bdb7" d="M397.61 499.32h2.49v6.22h-2.49zM405.08 524.19h2.49v6.22h-2.49zM385.18 536.63h2.49v6.22h-2.49zM375.23 567.72h2.49v6.22h-2.49zM390.15 567.72h4.97v6.22h-4.97zM402.59 567.72h2.49v6.22h-2.49zM397.61 592.59h2.49v6.22h-2.49zM400.1 611.25h2.49v6.22h-2.49z"/>
<path fill="#16beb4" d="M385.18 499.32h2.49v6.22h-2.49zM375.23 536.63h2.49v6.22h-2.49zM397.61 561.5h2.49v6.22h-2.49zM382.69 567.72h2.49v6.22h-2.49zM400.1 580.16h2.49v6.22h-2.49zM402.59 605.03h4.97v6.22h-4.97z"/>
<path fill="#1bbfaf" d="M395.13 493.1h2.49v6.22h-2.49zM397.61 511.76h2.49v6.22h-2.49zM387.66 586.37h2.49v6.22h-2.49z"/>
<path fill="#21c0aa" d="M372.74 511.76h2.49v6.22h-2.49zM395.13 536.63h2.49v6.22h-2.49z"/>
<path fill="#26c1a5" d="M395.13 555.28h2.49v6.22h-2.49zM407.56 598.81h2.49v6.22h-2.49z"/>
<path fill="#2cc2a0" d="M370.25 517.98h2.49v6.22h-2.49zM375.23 517.98h2.49v6.22h-2.49zM390.15 517.98h2.49v6.22h-2.49zM382.69 542.85h2.49v6.22h-2.49zM377.72 549.07h2.49v6.22h-2.49zM370.25 555.28h2.49v6.22h-2.49zM380.2 555.28h2.49v6.22h-2.49zM390.15 555.28h2.49v6.22h-2.49zM387.66 573.94h2.49v6.22h-2.49zM382.69 580.16h2.49v6.22h-2.49z"/>
<path fill="#31c39b" d="M375.23 511.76h2.49v6.22h-2.49zM400.1 542.85h2.49v6.22h-2.49zM382.69 555.28h2.49v6.22h-2.49zM390.15 561.5h2.49v6.22h-2.49zM400.1 573.94h2.49v6.22h-2.49z"/>
<path fill="#37c496" d="M385.18 505.54h2.49v6.22h-2.49zM380.2 524.19h2.49v6.22h-2.49zM387.66 567.72h2.49v6.22h-2.49zM390.15 617.46h2.49v6.22h-2.49z"/>
<path fill="#3ec590" d="M377.72 511.76h2.49v6.22h-2.49zM395.13 517.98h2.49v6.22h-2.49zM377.72 524.19h2.49v6.22h-2.49zM380.2 542.85h2.49v6.22h-2.49zM385.18 561.5h2.49v6.22h-2.49zM380.2 573.94h2.49v6.22h-2.49zM397.61 573.94h2.49v6.22h-2.49zM392.64 586.37h2.49v6.22h-2.49z"/>
<path fill="#46c589" d="M377.72 536.63h2.49v6.22h-2.49zM375.23 542.85h2.49v6.22h-2.49zM390.15 549.07h2.49v6.22h-2.49zM395.13 549.07h2.49v6.22h-2.49zM377.72 580.16h2.49v6.22h-2.49zM380.2 592.59h2.49v6.22h-2.49zM405.08 598.81h2.49v6.22h-2.49zM405.08 611.25h2.49v6.22h-2.49z"/>
<path fill="#4dc683" d="M390.15 536.63h2.49v6.22h-2.49zM392.64 555.28h2.49v6.22h-2.49zM382.69 561.5h2.49v6.22h-2.49zM395.13 561.5h2.49v6.22h-2.49zM380.2 567.72h2.49v6.22h-2.49zM397.61 586.37h2.49v6.22h-2.49zM402.59 611.25h2.49v6.22h-2.49z"/>
<path fill="#55c77d" d="M380.2 549.07h2.49v6.22h-2.49zM390.15 586.37h2.49v6.22h-2.49zM385.18 592.59h2.49v6.22h-2.49z"/>
<path fill="#5dc776" d="M370.25 524.19h2.49v6.22h-2.49zM372.74 530.41h2.49v6.22h-2.49zM402.59 580.16h2.49v6.22h-2.49z"/>
<path fill="#64c870" d="M385.18 573.94h2.49v6.22h-2.49zM370.25 586.37h2.49v6.22h-2.49zM382.69 586.37h2.49v6.22h-2.49z"/>
<path fill="#6cc76a" d="M375.23 524.19h2.49v6.22h-2.49zM370.25 530.41h2.49v6.22h-2.49zM385.18 542.85h2.49v6.22h-2.49zM385.18 549.07h2.49v6.22h-2.49zM402.59 555.28h2.49v6.22h-2.49zM387.66 617.46h2.49v6.22h-2.49z"/>
<path fill="#75c665" d="M405.08 567.72h2.49v6.22h-2.49zM395.13 580.16h2.49v6.22h-2.49zM382.69 605.03h2.49v6.22h-2.49z"/>
<path fill="#7dc45f" d="M377.72 517.98h2.49v6.22h-2.49zM372.74 536.63h2.49v6.22h-2.49zM395.13 542.85h2.49v6.22h-2.49zM375.23 549.07h2.49v6.22h-2.49z"/>
<path fill="#85c359" d="M372.74 542.85h2.49v6.22h-2.49zM370.25 549.07h2.49v6.22h-2.49zM397.61 567.72h2.49v6.22h-2.49z"/>
<path fill="#8ec254" d="M372.74 524.19h2.49v6.22h-2.49zM385.18 567.72h2.49v6.22h-2.49zM395.13 573.94h2.49v6.22h-2.49zM397.61 598.81h2.49v6.22h-2.49z"/>
<path fill="#96c14e" d="M370.25 542.85h2.49v6.22h-2.49zM407.56 567.72h2.49v6.22h-2.49zM390.15 573.94h2.49v6.22h-2.49zM375.23 592.59h2.49v6.22h-2.49z"/>
<path fill="#9ec04a" d="M372.74 549.07h2.49v6.22h-2.49zM382.69 573.94h2.49v6.22h-2.49zM390.15 592.59h2.49v6.22h-2.49zM402.59 592.59h2.49v6.22h-2.49z"/>
<path fill="#a7be45" d="M372.74 567.72h2.49v6.22h-2.49z"/>
<path fill="#afbc41" d="M385.18 580.16h2.49v6.22h-2.49z"/>
<path fill="#b7bb3d" d="M405.08 517.98h2.49v6.22h-2.49zM387.66 592.59h2.49v6.22h-2.49zM385.18 617.46h2.49v6.22h-2.49z"/>
<path fill="#c0ba38" d="M375.23 530.41h2.49v6.22h-2.49zM377.72 561.5h2.49v6.22h-2.49zM387.66 561.5h2.49v6.22h-2.49zM380.2 580.16h2.49v6.22h-2.49zM380.2 586.37h2.49v6.22h-2.49z"/>
<path fill="#c8b834" d="M370.25 511.76h2.49v6.22h-2.49zM385.18 555.28h2.49v6.22h-2.49zM372.74 561.5h2.49v6.22h-2.49zM377.72 567.72h2.49v6.22h-2.49zM382.69 611.25h2.49v6.22h-2.49z"/>
<path fill="#ceb833" d="M380.2 561.5h2.49v6.22h-2.49zM395.13 567.72h2.49v6.22h-2.49zM382.69 617.46h2.49v6.22h-2.49z"/>
<path fill="#d4b833" d="M395.13 586.37h2.49v6.22h-2.49zM397.61 611.25h2.49v6.22h-2.49z"/>
<path fill="#dab832" d="M390.15 580.16h2.49v6.22h-2.49z"/>
<path fill="#e0b931" d="M375.23 586.37h2.49v6.22h-2.49z"/>
<path fill="#e6b931" d="M372.74 573.94h2.49v6.22h-2.49zM387.66 598.81h2.49v6.22h-2.49z"/>
<path fill="#ecb930" d="M375.23 555.28h2.49v6.22h-2.49zM385.18 586.37h2.49v6.22h-2.49zM397.61 605.03h2.49v6.22h-2.49z"/>
<path fill="#efba32" d="M382.69 549.07h2.49v6.22h-2.49z"/>
<path fill="#f2bb33" d="M372.74 555.28h2.49v6.22h-2.49zM370.25 561.5h2.49v6.22h-2.49z"/>
<path fill="#f5bc35" d="M377.72 586.37h2.49v6.22h-2.49zM392.64 605.03h2.49v6.22h-2.49zM392.64 611.25h2.49v6.22h-2.49z"/>
<path fill="#f8be37" d="M375.23 580.16h2.49v6.22h-2.49z"/>
<path fill="#fbbf38" d="M370.25 536.63h2.49v6.22h-2.49z"/>
<path fill="#fdc537" d="M375.23 561.5h2.49v6.22h-2.49zM370.25 573.94h2.49v6.22h-2.49zM372.74 592.59h2.49v6.22h-2.49z"/>
<path fill="#fbc935" d="M377.72 617.46h2.49v6.22h-2.49z"/>
<path fill="#fbcc33" d="M377.72 598.81h2.49v6.22h-2.49zM372.74 611.25h2.49v6.22h-2.49zM390.15 611.25h2.49v6.22h-2.49z"/>
<path fill="#face32" d="M392.64 598.81h4.97v6.22h-4.97z"/>
<path fill="#f8d62c" d="M382.69 598.81h2.49v6.22h-2.49z"/>
<path fill="#f7d92a" d="M372.74 580.16h2.49v6.22h-2.49zM372.74 586.37h2.49v6.22h-2.49zM377.72 605.03h2.49v6.22h-2.49z"/>
<path fill="#f7db28" d="M370.25 567.72h2.49v6.22h-2.49zM387.66 605.03h2.49v6.22h-2.49zM377.72 611.25h2.49v6.22h-2.49z"/>
<path fill="#f6de26" d="M370.25 592.59h2.49v6.22h-2.49z"/>
<path fill="#f6e124" d="M395.13 605.03h2.49v6.22h-2.49z"/>
<path fill="#f6e323" d="M380.2 617.46h2.49v6.22h-2.49z"/>
<path fill="#f7e91f" d="M375.23 573.94h2.49v6.22h-2.49zM370.25 580.16h2.49v6.22h-2.49z"/>
<path fill="#f7ee1c" d="M372.74 598.81h2.49v6.22h-2.49zM375.23 617.46h2.49v6.22h-2.49z"/>
<path fill="#f7f01a" d="M390.15 598.81h2.49v6.22h-2.49z"/>
<path fill="#f8f713" d="M390.15 605.03h2.49v6.22h-2.49zM387.66 611.25h2.49v6.22h-2.49z"/>
<path fill="#f9f910" d="M372.74 605.03h2.49v6.22h-2.49zM395.13 611.25h2.49v6.22h-2.49z"/>
<path fill="#f9fb0e" d="M370.25 598.81h2.49v6.22h-2.49zM375.23 598.81h2.49v6.22h-2.49zM380.2 598.81h2.49v6.22h-2.49zM385.18 598.81h2.49v6.22h-2.49zM370.25 605.03h2.49v6.22h-2.49zM375.23 605.03h2.49v6.22h-2.49zM380.2 605.03h2.49v6.22h-2.49zM385.18 605.03h2.49v6.22h-2.49zM370.25 611.25h2.49v6.22h-2.49zM375.23 611.25h2.49v6.22h-2.49zM380.2 611.25h2.49v6.22h-2.49zM385.18 611.25h2.49v6.22h-2.49zM370.25 617.46h4.97v6.22h-4.97z"/>
</g>
<rect x="370" y="1.5" width="1.3" height="311.3" fill="#f9fb0e"/>
<defs><pattern id="tex" patternUnits="userSpaceOnUse" x="143.9" y="1.5" width="151.73" height="37.36"><path fill="#5a78ff" fill-opacity="0.18" d="M0 12.45h2.49v6.23h-2.49zM0 31.13h2.49v6.23h-2.49zM4.97 6.23h2.49v6.23h-2.49zM4.97 24.9h2.49v6.23h-2.49zM4.97 31.13h2.49v6.23h-2.49zM7.46 6.23h2.49v6.23h-2.49zM9.95 0h2.49v6.23h-2.49zM9.95 6.23h2.49v6.23h-2.49zM12.44 0h2.49v6.23h-2.49zM14.92 6.23h2.49v6.23h-2.49zM14.92 18.68h2.49v6.23h-2.49zM17.41 18.68h2.49v6.23h-2.49zM17.41 24.9h2.49v6.23h-2.49zM19.9 12.45h2.49v6.23h-2.49zM22.39 6.23h2.49v6.23h-2.49zM22.39 18.68h2.49v6.23h-2.49zM22.39 24.9h2.49v6.23h-2.49zM24.87 6.23h2.49v6.23h-2.49zM27.36 0h2.49v6.23h-2.49zM27.36 18.68h2.49v6.23h-2.49zM27.36 31.13h2.49v6.23h-2.49zM29.85 0h2.49v6.23h-2.49zM29.85 24.9h2.49v6.23h-2.49zM32.34 12.45h2.49v6.23h-2.49zM32.34 24.9h2.49v6.23h-2.49zM32.34 31.13h2.49v6.23h-2.49zM34.82 0h2.49v6.23h-2.49zM34.82 6.23h2.49v6.23h-2.49zM37.31 0h2.49v6.23h-2.49zM37.31 31.13h2.49v6.23h-2.49zM39.8 24.9h2.49v6.23h-2.49zM42.29 6.23h2.49v6.23h-2.49zM42.29 18.68h2.49v6.23h-2.49zM42.29 31.13h2.49v6.23h-2.49zM44.77 6.23h2.49v6.23h-2.49zM44.77 24.9h2.49v6.23h-2.49zM47.26 18.68h2.49v6.23h-2.49zM49.75 0h2.49v6.23h-2.49zM49.75 6.23h2.49v6.23h-2.49zM54.72 12.45h2.49v6.23h-2.49zM54.72 18.68h2.49v6.23h-2.49zM54.72 24.9h2.49v6.23h-2.49zM54.72 31.13h2.49v6.23h-2.49zM57.21 0h2.49v6.23h-2.49zM57.21 6.23h2.49v6.23h-2.49zM57.21 12.45h2.49v6.23h-2.49zM57.21 18.68h2.49v6.23h-2.49zM57.21 24.9h2.49v6.23h-2.49zM59.7 6.23h2.49v6.23h-2.49zM62.18 0h2.49v6.23h-2.49zM64.67 0h2.49v6.23h-2.49zM69.65 24.9h2.49v6.23h-2.49zM72.13 24.9h2.49v6.23h-2.49zM74.62 0h2.49v6.23h-2.49zM77.11 31.13h2.49v6.23h-2.49zM79.6 0h2.49v6.23h-2.49zM79.6 18.68h2.49v6.23h-2.49zM82.08 0h2.49v6.23h-2.49zM82.08 6.23h2.49v6.23h-2.49zM84.57 12.45h2.49v6.23h-2.49zM84.57 31.13h2.49v6.23h-2.49zM89.55 6.23h2.49v6.23h-2.49zM92.03 6.23h2.49v6.23h-2.49zM94.52 0h2.49v6.23h-2.49zM94.52 31.13h2.49v6.23h-2.49zM97.01 18.68h2.49v6.23h-2.49zM101.98 31.13h2.49v6.23h-2.49zM104.47 0h2.49v6.23h-2.49zM104.47 6.23h2.49v6.23h-2.49zM104.47 12.45h2.49v6.23h-2.49zM104.47 18.68h2.49v6.23h-2.49zM104.47 31.13h2.49v6.23h-2.49zM106.96 12.45h2.49v6.23h-2.49zM106.96 24.9h2.49v6.23h-2.49zM109.45 12.45h2.49v6.23h-2.49zM109.45 18.68h2.49v6.23h-2.49zM111.93 0h2.49v6.23h-2.49zM111.93 24.9h2.49v6.23h-2.49zM114.42 0h2.49v6.23h-2.49zM114.42 12.45h2.49v6.23h-2.49zM116.91 6.23h2.49v6.23h-2.49zM116.91 18.68h2.49v6.23h-2.49zM119.4 6.23h2.49v6.23h-2.49zM121.88 0h2.49v6.23h-2.49zM121.88 12.45h2.49v6.23h-2.49zM124.37 6.23h2.49v6.23h-2.49zM124.37 12.45h2.49v6.23h-2.49zM124.37 31.13h2.49v6.23h-2.49zM126.86 0h2.49v6.23h-2.49zM126.86 18.68h2.49v6.23h-2.49zM129.34 6.23h2.49v6.23h-2.49zM129.34 12.45h2.49v6.23h-2.49zM129.34 24.9h2.49v6.23h-2.49zM134.32 12.45h2.49v6.23h-2.49zM136.81 0h2.49v6.23h-2.49zM136.81 18.68h2.49v6.23h-2.49zM136.81 31.13h2.49v6.23h-2.49zM139.29 24.9h2.49v6.23h-2.49zM141.78 31.13h2.49v6.23h-2.49zM144.27 6.23h2.49v6.23h-2.49zM144.27 18.68h2.49v6.23h-2.49zM144.27 24.9h2.49v6.23h-2.49zM149.24 18.68h2.49v6.23h-2.49zM149.24 31.13h2.49v6.23h-2.49z"/><path fill="#2a1890" fill-opacity="0.16" d="M2.49 0h2.49v6.23h-2.49zM2.49 24.9h2.49v6.23h-2.49zM4.97 12.45h2.49v6.23h-2.49zM4.97 18.68h2.49v6.23h-2.49zM7.46 0h2.49v6.23h-2.49zM7.46 12.45h2.49v6.23h-2.49zM7.46 18.68h2.49v6.23h-2.49zM7.46 24.9h2.49v6.23h-2.49zM12.44 6.23h2.49v6.23h-2.49zM19.9 24.9h2.49v6.23h-2.49zM19.9 31.13h2.49v6.23h-2.49zM24.87 18.68h2.49v6.23h-2.49zM27.36 12.45h2.49v6.23h-2.49zM27.36 24.9h2.49v6.23h-2.49zM29.85 12.45h2.49v6.23h-2.49zM29.85 18.68h2.49v6.23h-2.49zM34.82 12.45h2.49v6.23h-2.49zM34.82 24.9h2.49v6.23h-2.49zM34.82 31.13h2.49v6.23h-2.49zM37.31 18.68h2.49v6.23h-2.49zM42.29 0h2.49v6.23h-2.49zM42.29 24.9h2.49v6.23h-2.49zM44.77 0h2.49v6.23h-2.49zM47.26 0h2.49v6.23h-2.49zM47.26 6.23h2.49v6.23h-2.49zM47.26 24.9h2.49v6.23h-2.49zM49.75 18.68h2.49v6.23h-2.49zM49.75 24.9h2.49v6.23h-2.49zM49.75 31.13h2.49v6.23h-2.49zM52.24 6.23h2.49v6.23h-2.49zM52.24 12.45h2.49v6.23h-2.49zM52.24 31.13h2.49v6.23h-2.49zM54.72 6.23h2.49v6.23h-2.49zM57.21 31.13h2.49v6.23h-2.49zM59.7 0h2.49v6.23h-2.49zM59.7 24.9h2.49v6.23h-2.49zM59.7 31.13h2.49v6.23h-2.49zM62.18 12.45h2.49v6.23h-2.49zM64.67 12.45h2.49v6.23h-2.49zM64.67 24.9h2.49v6.23h-2.49zM69.65 6.23h2.49v6.23h-2.49zM69.65 18.68h2.49v6.23h-2.49zM72.13 18.68h2.49v6.23h-2.49zM72.13 31.13h2.49v6.23h-2.49zM74.62 6.23h2.49v6.23h-2.49zM74.62 24.9h2.49v6.23h-2.49zM77.11 12.45h2.49v6.23h-2.49zM79.6 12.45h2.49v6.23h-2.49zM82.08 18.68h2.49v6.23h-2.49zM82.08 24.9h2.49v6.23h-2.49zM82.08 31.13h2.49v6.23h-2.49zM87.06 0h2.49v6.23h-2.49zM87.06 6.23h2.49v6.23h-2.49zM87.06 12.45h2.49v6.23h-2.49zM89.55 0h2.49v6.23h-2.49zM89.55 12.45h2.49v6.23h-2.49zM89.55 18.68h2.49v6.23h-2.49zM89.55 31.13h2.49v6.23h-2.49zM94.52 18.68h2.49v6.23h-2.49zM97.01 12.45h2.49v6.23h-2.49zM97.01 24.9h2.49v6.23h-2.49zM97.01 31.13h2.49v6.23h-2.49zM99.5 18.68h2.49v6.23h-2.49zM99.5 31.13h2.49v6.23h-2.49zM101.98 0h2.49v6.23h-2.49zM101.98 12.45h2.49v6.23h-2.49zM106.96 0h2.49v6.23h-2.49zM106.96 31.13h2.49v6.23h-2.49zM111.93 12.45h2.49v6.23h-2.49zM111.93 31.13h2.49v6.23h-2.49zM114.42 18.68h2.49v6.23h-2.49zM114.42 31.13h2.49v6.23h-2.49zM116.91 12.45h2.49v6.23h-2.49zM116.91 24.9h2.49v6.23h-2.49zM119.4 0h2.49v6.23h-2.49zM119.4 12.45h2.49v6.23h-2.49zM119.4 24.9h2.49v6.23h-2.49zM119.4 31.13h2.49v6.23h-2.49zM126.86 6.23h2.49v6.23h-2.49zM126.86 12.45h2.49v6.23h-2.49zM131.83 0h2.49v6.23h-2.49zM134.32 0h2.49v6.23h-2.49zM134.32 6.23h2.49v6.23h-2.49zM134.32 24.9h2.49v6.23h-2.49zM134.32 31.13h2.49v6.23h-2.49zM139.29 12.45h2.49v6.23h-2.49zM139.29 18.68h2.49v6.23h-2.49zM139.29 31.13h2.49v6.23h-2.49zM141.78 6.23h2.49v6.23h-2.49zM141.78 24.9h2.49v6.23h-2.49zM144.27 12.45h2.49v6.23h-2.49zM146.76 0h2.49v6.23h-2.49zM149.24 12.45h2.49v6.23h-2.49z"/></pattern></defs>
<rect x="143.9" y="1.5" width="226.1" height="628.4" fill="url(#tex)"/>
<rect x="450.2" y="1.5" width="601.6" height="628.4" fill="url(#tex)"/>
<rect x="143.9" y="2.0" width="907.9" height="1.0" fill="#3422d0" fill-opacity="0.55"/>
<rect x="143.9" y="319" width="907.9" height="1.0" fill="#3422d0" fill-opacity="0.45"/>
<rect x="143.4" y="312.8" width="908.9" height="6.2" fill="#fff"/>
<rect x="444" y="1.5" width="6.1" height="20.5" fill="#fff"/>
<rect x="444" y="60.45" width="6.1" height="40" fill="#fff"/>
<rect x="444" y="138.9" width="6.1" height="40" fill="#fff"/>
<rect x="444" y="217.35" width="6.1" height="40" fill="#fff"/>
<rect x="444" y="295.8" width="6.1" height="40" fill="#fff"/>
<rect x="444" y="374.25" width="6.1" height="40" fill="#fff"/>
<rect x="444" y="452.7" width="6.1" height="40" fill="#fff"/>
<rect x="444" y="531.15" width="6.1" height="40" fill="#fff"/>
<rect x="444" y="609.6" width="6.1" height="20.3" fill="#fff"/>
<defs><linearGradient id="cbg" x1="0" y1="0" x2="0" y2="1"><stop offset="0" stop-color="#f9fb0e"/><stop offset="0.03" stop-color="#f8f415"/><stop offset="0.05" stop-color="#f7ee1c"/><stop offset="0.07" stop-color="#f6e621"/><stop offset="0.1" stop-color="#f6de26"/><stop offset="0.12" stop-color="#f8d62c"/><stop offset="0.15" stop-color="#face32"/><stop offset="0.18" stop-color="#fcc736"/><stop offset="0.2" stop-color="#fec03a"/><stop offset="0.22" stop-color="#f5bc35"/><stop offset="0.25" stop-color="#ecb930"/><stop offset="0.28" stop-color="#dab832"/><stop offset="0.3" stop-color="#c8b834"/><stop offset="0.32" stop-color="#afbc41"/><stop offset="0.35" stop-color="#96c14e"/><stop offset="0.38" stop-color="#7dc45f"/><stop offset="0.4" stop-color="#64c870"/><stop offset="0.43" stop-color="#4dc683"/><stop offset="0.45" stop-color="#37c496"/><stop offset="0.47" stop-color="#26c1a5"/><stop offset="0.5" stop-color="#16beb4"/><stop offset="0.53" stop-color="#10babe"/><stop offset="0.55" stop-color="#0ab7c8"/><stop offset="0.57" stop-color="#10b0d0"/><stop offset="0.6" stop-color="#16aad8"/><stop offset="0.62" stop-color="#1ba2de"/><stop offset="0.65" stop-color="#209be4"/><stop offset="0.68" stop-color="#2494ea"/><stop offset="0.7" stop-color="#288cf0"/><stop offset="0.72" stop-color="#2e82f6"/><stop offset="0.75" stop-color="#3579fd"/><stop offset="0.78" stop-color="#3c70fd"/><stop offset="0.8" stop-color="#4267fc"/><stop offset="0.82" stop-color="#465dfa"/><stop offset="0.85" stop-color="#4754f4"/><stop offset="0.88" stop-color="#484bee"/><stop offset="0.9" stop-color="#4742e5"/><stop offset="0.93" stop-color="#463ada"/><stop offset="0.95" stop-color="#4433cb"/><stop offset="0.97" stop-color="#412dba"/><stop offset="1" stop-color="#3e26a8"/></linearGradient></defs>
<rect x="1057.5" y="18.7" width="15" height="599.3" fill="url(#cbg)" stroke="#262626" stroke-width="1.1"/>
<line x1="1069.4" y1="563.93" x2="1072.5" y2="563.93" stroke="#262626" stroke-width="1.1" />
<line x1="1069.4" y1="509.35" x2="1072.5" y2="509.35" stroke="#262626" stroke-width="1.1" />
<line x1="1069.4" y1="454.78" x2="1072.5" y2="454.78" stroke="#262626" stroke-width="1.1" />
<line x1="1069.4" y1="400.21" x2="1072.5" y2="400.21" stroke="#262626" stroke-width="1.1" />
<line x1="1069.4" y1="345.64" x2="1072.5" y2="345.64" stroke="#262626" stroke-width="1.1" />
<line x1="1069.4" y1="291.06" x2="1072.5" y2="291.06" stroke="#262626" stroke-width="1.1" />
<line x1="1069.4" y1="236.49" x2="1072.5" y2="236.49" stroke="#262626" stroke-width="1.1" />
<line x1="1069.4" y1="181.92" x2="1072.5" y2="181.92" stroke="#262626" stroke-width="1.1" />
<line x1="1069.4" y1="127.35" x2="1072.5" y2="127.35" stroke="#262626" stroke-width="1.1" />
<line x1="1069.4" y1="72.77" x2="1072.5" y2="72.77" stroke="#262626" stroke-width="1.1" />
<line x1="144.2" y1="636" x2="368.4" y2="636" stroke="#000" stroke-width="3.6" />
<line x1="374.8" y1="636" x2="443.7" y2="636" stroke="#000" stroke-width="3.6" />
<line x1="450" y1="636" x2="525" y2="636" stroke="#000" stroke-width="3.6" />
<line x1="825.4" y1="636" x2="1049.7" y2="636" stroke="#000" stroke-width="3.6" />
<line x1="252.7" y1="637" x2="252.7" y2="754.5" stroke="#000" stroke-width="2.6" />
<line x1="405.8" y1="637" x2="527.8" y2="753.4" stroke="#000" stroke-width="2.6" />
<line x1="484" y1="637" x2="805.7" y2="752.4" stroke="#000" stroke-width="2.6" />
<line x1="944" y1="637" x2="1059.6" y2="750.6" stroke="#000" stroke-width="2.6" />
<line x1="1051.5" y1="660.8" x2="1126" y2="660.8" stroke="#000" stroke-width="2.4" />
<path d="M103.4 805.4 L122 805.4 L122 947.2 L103.4 947.2" fill="none" stroke="#000" stroke-width="2.3" stroke-linejoin="miter"/>
<line x1="103.4" y1="876.3" x2="122" y2="876.3" stroke="#000" stroke-width="2.3" />
<line x1="121.95" y1="993.2" x2="360.45" y2="993.2" stroke="#000" stroke-width="2.3" />
<line x1="123.1" y1="993.2" x2="123.1" y2="1010.8" stroke="#000" stroke-width="2.3" />
<line x1="136.22" y1="993.2" x2="136.22" y2="1002.5" stroke="#000" stroke-width="2.3" />
<line x1="149.34" y1="993.2" x2="149.34" y2="1002.5" stroke="#000" stroke-width="2.3" />
<line x1="162.47" y1="993.2" x2="162.47" y2="1010.8" stroke="#000" stroke-width="2.3" />
<line x1="175.59" y1="993.2" x2="175.59" y2="1002.5" stroke="#000" stroke-width="2.3" />
<line x1="188.71" y1="993.2" x2="188.71" y2="1002.5" stroke="#000" stroke-width="2.3" />
<line x1="201.83" y1="993.2" x2="201.83" y2="1010.8" stroke="#000" stroke-width="2.3" />
<line x1="214.96" y1="993.2" x2="214.96" y2="1002.5" stroke="#000" stroke-width="2.3" />
<line x1="228.08" y1="993.2" x2="228.08" y2="1002.5" stroke="#000" stroke-width="2.3" />
<line x1="241.2" y1="993.2" x2="241.2" y2="1010.8" stroke="#000" stroke-width="2.3" />
<line x1="254.32" y1="993.2" x2="254.32" y2="1002.5" stroke="#000" stroke-width="2.3" />
<line x1="267.44" y1="993.2" x2="267.44" y2="1002.5" stroke="#000" stroke-width="2.3" />
<line x1="280.57" y1="993.2" x2="280.57" y2="1010.8" stroke="#000" stroke-width="2.3" />
<line x1="293.69" y1="993.2" x2="293.69" y2="1002.5" stroke="#000" stroke-width="2.3" />
<line x1="306.81" y1="993.2" x2="306.81" y2="1002.5" stroke="#000" stroke-width="2.3" />
<line x1="319.93" y1="993.2" x2="319.93" y2="1010.8" stroke="#000" stroke-width="2.3" />
<line x1="333.06" y1="993.2" x2="333.06" y2="1002.5" stroke="#000" stroke-width="2.3" />
<line x1="346.18" y1="993.2" x2="346.18" y2="1002.5" stroke="#000" stroke-width="2.3" />
<line x1="359.3" y1="993.2" x2="359.3" y2="1010.8" stroke="#000" stroke-width="2.3" />
<line x1="401.65" y1="990.9" x2="639.15" y2="990.9" stroke="#000" stroke-width="2.3" />
<line x1="402.8" y1="990.9" x2="402.8" y2="1008.6" stroke="#000" stroke-width="2.3" />
<line x1="442" y1="990.9" x2="442" y2="1000.3" stroke="#000" stroke-width="2.3" />
<line x1="481.2" y1="990.9" x2="481.2" y2="1000.3" stroke="#000" stroke-width="2.3" />
<line x1="520.4" y1="990.9" x2="520.4" y2="1008.6" stroke="#000" stroke-width="2.3" />
<line x1="559.6" y1="990.9" x2="559.6" y2="1000.3" stroke="#000" stroke-width="2.3" />
<line x1="598.8" y1="990.9" x2="598.8" y2="1000.3" stroke="#000" stroke-width="2.3" />
<line x1="638" y1="990.9" x2="638" y2="1008.6" stroke="#000" stroke-width="2.3" />
<line x1="675.65" y1="990.9" x2="913.45" y2="990.9" stroke="#000" stroke-width="2.3" />
<line x1="676.8" y1="990.9" x2="676.8" y2="1008.6" stroke="#000" stroke-width="2.3" />
<line x1="716.05" y1="990.9" x2="716.05" y2="1000.3" stroke="#000" stroke-width="2.3" />
<line x1="755.3" y1="990.9" x2="755.3" y2="1000.3" stroke="#000" stroke-width="2.3" />
<line x1="794.55" y1="990.9" x2="794.55" y2="1008.6" stroke="#000" stroke-width="2.3" />
<line x1="833.8" y1="990.9" x2="833.8" y2="1000.3" stroke="#000" stroke-width="2.3" />
<line x1="873.05" y1="990.9" x2="873.05" y2="1000.3" stroke="#000" stroke-width="2.3" />
<line x1="912.3" y1="990.9" x2="912.3" y2="1008.6" stroke="#000" stroke-width="2.3" />
<line x1="946.35" y1="992" x2="1184.35" y2="992" stroke="#000" stroke-width="2.3" />
<line x1="947.5" y1="992" x2="947.5" y2="1009.8" stroke="#000" stroke-width="2.3" />
<line x1="960.59" y1="992" x2="960.59" y2="1001.2" stroke="#000" stroke-width="2.3" />
<line x1="973.69" y1="992" x2="973.69" y2="1001.2" stroke="#000" stroke-width="2.3" />
<line x1="986.78" y1="992" x2="986.78" y2="1009.8" stroke="#000" stroke-width="2.3" />
<line x1="999.88" y1="992" x2="999.88" y2="1001.2" stroke="#000" stroke-width="2.3" />
<line x1="1012.97" y1="992" x2="1012.97" y2="1001.2" stroke="#000" stroke-width="2.3" />
<line x1="1026.07" y1="992" x2="1026.07" y2="1009.8" stroke="#000" stroke-width="2.3" />
<line x1="1039.16" y1="992" x2="1039.16" y2="1001.2" stroke="#000" stroke-width="2.3" />
<line x1="1052.26" y1="992" x2="1052.26" y2="1001.2" stroke="#000" stroke-width="2.3" />
<line x1="1065.35" y1="992" x2="1065.35" y2="1009.8" stroke="#000" stroke-width="2.3" />
<line x1="1078.44" y1="992" x2="1078.44" y2="1001.2" stroke="#000" stroke-width="2.3" />
<line x1="1091.54" y1="992" x2="1091.54" y2="1001.2" stroke="#000" stroke-width="2.3" />
<line x1="1104.63" y1="992" x2="1104.63" y2="1009.8" stroke="#000" stroke-width="2.3" />
<line x1="1117.73" y1="992" x2="1117.73" y2="1001.2" stroke="#000" stroke-width="2.3" />
<line x1="1130.82" y1="992" x2="1130.82" y2="1001.2" stroke="#000" stroke-width="2.3" />
<line x1="1143.92" y1="992" x2="1143.92" y2="1009.8" stroke="#000" stroke-width="2.3" />
<line x1="1157.01" y1="992" x2="1157.01" y2="1001.2" stroke="#000" stroke-width="2.3" />
<line x1="1170.11" y1="992" x2="1170.11" y2="1001.2" stroke="#000" stroke-width="2.3" />
<line x1="1183.2" y1="992" x2="1183.2" y2="1009.8" stroke="#000" stroke-width="2.3" />
<path d="M142.9 804.1 L158.8 804.1 L170.7 817.8 L183.6 809.9 L196.9 817.4 L222.3 804.1 L236.2 820.8 L249.7 823.7 L262 804.1 L275 818.2 L287.9 804.1 L301.8 810.8 L313.7 804.1 L329.5 804.1 L340.5 822.8 L353.4 804.1 L369.2 804.1" fill="none" stroke="#000" stroke-width="4.2" stroke-linejoin="miter" stroke-miterlimit="10"/>
<path d="M422.2 884.7 L461.9 928.6 L501 928.6 L540 941 L579.3 938 L617.7 939.3" fill="none" stroke="#000" stroke-width="4.2" stroke-linejoin="miter"/>
<path d="M697.1 913.7 L735.6 913.7 L774.8 898.8 L813.8 916.7 L853 905 L892.4 895.8" fill="none" stroke="#000" stroke-width="4.2" stroke-linejoin="miter"/>
<path d="M954.4 840.5 L967.3 840.5 L980.5 856.1 L993.4 837.3 L1006.5 826.8 L1019.4 844.7 L1032.3 844.2 L1045.5 833.8 L1058.6 807 L1071.5 833 L1084.4 825.1 L1098 852.9 L1111.2 869 L1124.4 846.7 L1136.8 834.3 L1150.4 861.6 L1163.3 847.4 L1176.2 846" fill="none" stroke="#000" stroke-width="4.2" stroke-linejoin="miter" stroke-miterlimit="10"/>
<defs><clipPath id="c1t"><rect x="270" y="1270" width="200" height="200"/></clipPath></defs>
<g clip-path="url(#c1t)">
<path d="M278.1 1377.18 L280.9 1372.56 L283.2 1391.71 L286.1 1372.24 L286.5 1350.34 L287.9 1380.29 L291.2 1377.07 L294.5 1408.98 L297.3 1428.52 L300.1 1436.13 L302.9 1430.76 L305.3 1382.22 L307.1 1350.15 L310.4 1341.39 L313.2 1368.85 L316 1355.69 L319.3 1349.75 L321.7 1346.75 L324.5 1360.47 L328.2 1353.52 L332 1358.22 L335.7 1349.52 L339.5 1353.16 L343.2 1360.04 L347 1356.36 L350.7 1357.71 L354.5 1364.5 L357.3 1356.3 L359.6 1373.78 L362 1346.02 L364.8 1317.25 L367.8 1371.68 L370.6 1354.9 L373.4 1347.32 L377.2 1344.66 L381.9 1344.07 L386.6 1318.19 L389.4 1337.37 L393.1 1358.99 L396.9 1372.03 L399.7 1376.2 L402.5 1375.45 L405.3 1365.03 L408.6 1381.42 L411.4 1375.58 L414.7 1389.1 L417.5 1395.64 L421.2 1398.21 L425 1403.45 L427.8 1396.76 L430.6 1388.75 L433.4 1398.9 L437.2 1388.28 L440 1404.89 L442.8 1409.82 L446.5 1402.81 L450.3 1400.2 L454 1399.9 L457.8 1407.07 L457.8 1432.13 L454 1430.1 L450.3 1429.8 L446.5 1427.19 L442.8 1431.38 L440 1425.11 L437.2 1422.92 L433.4 1423.5 L430.6 1418.65 L427.8 1425.64 L425 1426.55 L421.2 1424.19 L417.5 1426.76 L414.7 1427.7 L411.4 1416.82 L408.6 1416.58 L405.3 1408.57 L402.5 1416.95 L399.7 1416.2 L396.9 1410.97 L393.1 1405.41 L389.4 1389.43 L386.6 1373.01 L381.9 1382.73 L377.2 1391.54 L373.4 1407.68 L370.6 1416.9 L367.8 1418.92 L364.8 1381.35 L362 1408.98 L359.6 1414.82 L357.3 1398.7 L354.5 1409.1 L350.7 1415.89 L347 1408.04 L343.2 1400.56 L339.5 1401.84 L335.7 1405.48 L332 1402.38 L328.2 1401.48 L324.5 1403.93 L321.7 1398.85 L319.3 1386.45 L316 1408.71 L313.2 1417.95 L310.4 1385.41 L307.1 1404.85 L305.3 1419.58 L302.9 1438.44 L300.1 1446.27 L297.3 1437.08 L294.5 1428.42 L291.2 1411.53 L287.9 1425.31 L286.5 1412.06 L286.1 1416.36 L283.2 1421.29 L280.9 1419.84 L278.1 1419.02 Z" fill="#fa7a7c" fill-opacity="1.0" stroke="none"/>
<path d="M278.1 1398.1 L280.9 1396.2 L283.2 1406.5 L286.1 1394.3 L286.5 1381.2 L287.9 1402.8 L291.2 1394.3 L294.5 1418.7 L297.3 1432.8 L300.1 1441.2 L302.9 1434.6 L305.3 1400.9 L307.1 1377.5 L310.4 1363.4 L313.2 1393.4 L316 1382.2 L319.3 1368.1 L321.7 1372.8 L324.5 1382.2 L328.2 1377.5 L332 1380.3 L335.7 1377.5 L339.5 1377.5 L343.2 1380.3 L347 1382.2 L350.7 1386.8 L354.5 1386.8 L357.3 1377.5 L359.6 1394.3 L362 1377.5 L364.8 1349.3 L367.8 1395.3 L370.6 1385.9 L373.4 1377.5 L377.2 1368.1 L381.9 1363.4 L386.6 1345.6 L389.4 1363.4 L393.1 1382.2 L396.9 1391.5 L399.7 1396.2 L402.5 1396.2 L405.3 1386.8 L408.6 1399 L411.4 1396.2 L414.7 1408.4 L417.5 1411.2 L421.2 1411.2 L425 1415 L427.8 1411.2 L430.6 1403.7 L433.4 1411.2 L437.2 1405.6 L440 1415 L442.8 1420.6 L446.5 1415 L450.3 1415 L454 1415 L457.8 1419.6" fill="none" stroke="#a3093c" stroke-width="1.7" stroke-linejoin="round"/>
<path d="M278.1 1337 L279 1356.03 L280 1345.13 L281.4 1334.65 L282.8 1308.24 L284.7 1312.97 L285.9 1311.65 L286.5 1297.9 L287.5 1312.47 L289.8 1317.45 L293.1 1339.94 L295 1364.68 L296.8 1404.87 L298.7 1426.1 L301.1 1432.22 L303.9 1422.02 L306.2 1375.82 L308.1 1337.95 L310 1325.66 L310.9 1308.94 L312.8 1340.12 L316 1319.75 L317.5 1311.99 L319.3 1299.22 L320.7 1299.09 L323.1 1374.01 L325.9 1344.62 L328.2 1353.57 L330.6 1322.78 L332.7 1376.95 L334.8 1315.77 L336.7 1318.84 L339.9 1311.35 L342.3 1338.47 L343.7 1334.32 L346 1304.34 L347 1318.76 L350.3 1316.75 L352.1 1379.78 L354 1357.78 L357.3 1251.22 L361 1333.32 L362.9 1302.45 L364.3 1251.4 L365.3 1255.54 L366.7 1244.3 L368.7 1265.31 L369.7 1295.35 L371.1 1310.65 L373.9 1285.64 L376.2 1317.84 L379.1 1335.54 L382.3 1298.32 L384.2 1333.73 L387 1337.46 L389.4 1362.21 L392.2 1272.35 L394.1 1299.7 L395.9 1336.33 L398.7 1369.06 L400.6 1360.1 L402.5 1330.13 L404.4 1302.34 L406.7 1356.04 L408.6 1332.38 L410.5 1321.64 L413.3 1343.98 L415.6 1391.26 L418 1378.83 L419.4 1398.6 L424.5 1369.24 L426.9 1364.78 L428.7 1327.94 L430.6 1365.47 L433.4 1375.05 L436.2 1348.09 L438.6 1362.94 L440.9 1395.36 L443.7 1323.88 L446.5 1318.73 L449.8 1371.84 L451.2 1334.8 L453.6 1338.57 L456.4 1307.2 L458.3 1342.92 L458.3 1406.48 L456.4 1398 L453.6 1408.83 L451.2 1423.8 L449.8 1414.96 L446.5 1391.27 L443.7 1421.72 L440.9 1432.64 L438.6 1416.26 L436.2 1408.71 L433.4 1430.55 L430.6 1423.13 L428.7 1425.06 L426.9 1412.62 L424.5 1413.76 L419.4 1425.6 L418 1424.77 L415.6 1434.94 L413.3 1420.42 L410.5 1391.16 L408.6 1411.22 L406.7 1423.16 L404.4 1392.66 L402.5 1396.67 L400.6 1409.9 L398.7 1421.54 L395.9 1399.87 L394.1 1385.9 L392.2 1370.05 L389.4 1411.39 L387 1402.54 L384.2 1400.67 L382.3 1376.08 L379.1 1413.86 L376.2 1410.76 L373.9 1384.96 L371.1 1389.95 L369.7 1356.45 L368.7 1347.09 L366.7 1340.1 L365.3 1356.86 L364.3 1344.2 L362.9 1392.55 L361 1399.08 L357.3 1317.18 L354 1421.42 L352.1 1423.82 L350.3 1402.65 L347 1417.44 L346 1391.46 L343.7 1420.68 L342.3 1423.93 L339.9 1390.25 L336.7 1408.96 L334.8 1411.03 L332.7 1432.25 L330.6 1391.82 L328.2 1423.83 L325.9 1417.78 L323.1 1427.79 L320.7 1399.51 L319.3 1364.78 L317.5 1394.21 L316 1382.65 L312.8 1401.68 L310.9 1372.86 L310 1391.74 L308.1 1398.25 L306.2 1416.58 L303.9 1437.98 L301.1 1442.58 L298.7 1439.5 L296.8 1434.33 L295 1425.92 L293.1 1407.46 L289.8 1418.75 L287.5 1380.53 L286.5 1357.7 L285.9 1388.95 L284.7 1384.83 L282.8 1391.36 L281.4 1407.15 L280 1421.07 L279 1416.77 L278.1 1419.8 Z" fill="#d4d4d4" fill-opacity="0.8" stroke="none"/>
<path d="M278.1 1378.4 L279 1386.4 L280 1383.1 L281.4 1370.9 L282.8 1349.8 L284.7 1348.9 L285.9 1350.3 L286.5 1327.8 L287.5 1346.5 L289.8 1368.1 L293.1 1373.7 L295 1395.3 L296.8 1419.6 L298.7 1432.8 L301.1 1437.4 L303.9 1430 L306.2 1396.2 L308.1 1368.1 L310 1358.7 L310.9 1340.9 L312.8 1370.9 L316 1351.2 L317.5 1353.1 L319.3 1332 L320.7 1349.3 L323.1 1400.9 L325.9 1381.2 L328.2 1388.7 L330.6 1357.3 L332.7 1404.6 L334.8 1363.4 L336.7 1363.9 L339.9 1350.8 L342.3 1381.2 L343.7 1377.5 L346 1347.9 L347 1368.1 L350.3 1359.7 L352.1 1401.8 L354 1389.6 L357.3 1284.2 L361 1366.2 L362.9 1347.5 L364.3 1297.8 L365.3 1306.2 L366.7 1292.2 L368.7 1306.2 L369.7 1325.9 L371.1 1350.3 L373.9 1335.3 L376.2 1364.3 L379.1 1374.7 L382.3 1337.2 L384.2 1367.2 L387 1370 L389.4 1386.8 L392.2 1321.2 L394.1 1342.8 L395.9 1368.1 L398.7 1395.3 L400.6 1385 L402.5 1363.4 L404.4 1347.5 L406.7 1389.6 L408.6 1371.8 L410.5 1356.4 L413.3 1382.2 L415.6 1413.1 L418 1401.8 L419.4 1412.1 L424.5 1391.5 L426.9 1388.7 L428.7 1376.5 L430.6 1394.3 L433.4 1402.8 L436.2 1378.4 L438.6 1389.6 L440.9 1414 L443.7 1372.8 L446.5 1355 L449.8 1393.4 L451.2 1379.3 L453.6 1373.7 L456.4 1352.6 L458.3 1374.7" fill="none" stroke="#000" stroke-width="1.55" stroke-linejoin="round"/>
</g>
<path d="M549.5 1444.5 L552.9 1454.71 L554.9 1441.97 L557.4 1452.87 L560.7 1463.38 L562.8 1444.35 L564.4 1455.11 L566.9 1474.39 L569.4 1481.04 L573.1 1481.15 L576 1476.03 L579.7 1449.79 L581.8 1439.58 L583.5 1436.11 L585.5 1442.91 L587.2 1433.04 L589.7 1445.53 L593 1462.53 L596.3 1452.37 L598.8 1456.27 L600.4 1451.32 L602.9 1448.62 L605 1458.72 L607.4 1454.14 L609.5 1455.55 L611.2 1440.38 L614.1 1455.81 L617 1461.99 L620.7 1455.26 L622.8 1464.45 L626.5 1456.03 L628.1 1464.69 L631.8 1455.86 L634.3 1461.15 L638 1454.01 L640 1465.97 L643.3 1468.22 L646.2 1463.3 L649.5 1459.86 L653.2 1465.89 L657.8 1461.99 L661.5 1466.27 L665.2 1461.99 L669 1465.8 L673.1 1469.93 L676.4 1477.3 L681.4 1476.54 L686.3 1480.24 L691.3 1477.28 L696.2 1479.89 L701.2 1477.82 L706.2 1482.63 L709.5 1475.78 L712.8 1480.58 L716.9 1477.62 L720.2 1480.1 L724.4 1474.85 L727.7 1475.62 L729.7 1476.46 L729.7 1489.34 L727.7 1485.18 L724.4 1484.35 L720.2 1492.3 L716.9 1492.98 L712.8 1490.02 L709.5 1488.22 L706.2 1492.17 L701.2 1492.78 L696.2 1492.51 L691.3 1493.32 L686.3 1490.36 L681.4 1489.26 L676.4 1488.5 L673.1 1484.27 L669 1475.2 L665.2 1472.21 L661.5 1481.33 L657.8 1476.41 L653.2 1481.71 L649.5 1472.74 L646.2 1477.7 L643.3 1484.18 L640 1476.63 L638 1471.99 L634.3 1474.85 L631.8 1473.54 L628.1 1474.51 L626.5 1471.57 L622.8 1476.55 L620.7 1469.14 L617 1474.01 L614.1 1473.59 L611.2 1464.22 L609.5 1468.85 L607.4 1466.86 L605 1475.48 L602.9 1469.18 L600.4 1466.48 L598.8 1471.33 L596.3 1470.43 L593 1478.47 L589.7 1467.27 L587.2 1453.36 L585.5 1459.89 L583.5 1456.89 L581.8 1465.02 L579.7 1469.61 L576 1491.37 L573.1 1491.25 L569.4 1496.36 L566.9 1486.41 L564.4 1469.29 L562.8 1460.25 L560.7 1477.62 L557.4 1468.13 L554.9 1464.23 L552.9 1472.89 L549.5 1465.5 Z" fill="#fa7a7c" fill-opacity="1.0" stroke="none"/>
<path d="M549.5 1455 L552.9 1463.8 L554.9 1453.1 L557.4 1460.5 L560.7 1470.5 L562.8 1452.3 L564.4 1462.2 L566.9 1480.4 L569.4 1488.7 L573.1 1486.2 L576 1483.7 L579.7 1459.7 L581.8 1452.3 L583.5 1446.5 L585.5 1451.4 L587.2 1443.2 L589.7 1456.4 L593 1470.5 L596.3 1461.4 L598.8 1463.8 L600.4 1458.9 L602.9 1458.9 L605 1467.1 L607.4 1460.5 L609.5 1462.2 L611.2 1452.3 L614.1 1464.7 L617 1468 L620.7 1462.2 L622.8 1470.5 L626.5 1463.8 L628.1 1469.6 L631.8 1464.7 L634.3 1468 L638 1463 L640 1471.3 L643.3 1476.2 L646.2 1470.5 L649.5 1466.3 L653.2 1473.8 L657.8 1469.2 L661.5 1473.8 L665.2 1467.1 L669 1470.5 L673.1 1477.1 L676.4 1482.9 L681.4 1482.9 L686.3 1485.3 L691.3 1485.3 L696.2 1486.2 L701.2 1485.3 L706.2 1487.4 L709.5 1482 L712.8 1485.3 L716.9 1485.3 L720.2 1486.2 L724.4 1479.6 L727.7 1480.4 L729.7 1482.9" fill="none" stroke="#a3093c" stroke-width="1.7" stroke-linejoin="round"/>
<path d="M549.5 1442.92 L550 1453.33 L551.6 1463.45 L553.3 1469.88 L555.8 1476.25 L558.2 1476.15 L561.1 1481.82 L565.7 1477.85 L569.4 1486.5 L573.1 1485.38 L576 1482.27 L578.9 1477.41 L581.4 1477.22 L583.5 1473.87 L585.5 1477.73 L587.6 1473.72 L590.1 1476.94 L593.8 1479.88 L597.1 1476.99 L601.7 1480.99 L606.2 1475.28 L608.3 1477.06 L610.8 1473.85 L613.2 1480.87 L617 1481.8 L621.1 1481.24 L624.4 1482.22 L627.7 1477.01 L629.4 1471.26 L631 1471.41 L633.9 1473.53 L635.2 1473.01 L637.6 1475.92 L641 1477 L644.1 1477.08 L648.3 1471.63 L652.4 1476.33 L657.4 1470.49 L662.3 1473.27 L666.5 1478.51 L670.2 1480 L673.9 1475.31 L678 1473.46 L683.8 1477.62 L688.8 1480.16 L692.9 1479.53 L697.1 1479.26 L700.4 1474.4 L704.1 1477.32 L706.2 1472.54 L709.1 1467.42 L712 1472.47 L713.2 1475.51 L717.8 1478.16 L721.5 1478.89 L725.2 1475.21 L729.3 1475.48 L729.3 1486.92 L725.2 1482.19 L721.5 1490.11 L717.8 1485.84 L713.2 1486.89 L712 1481.73 L709.1 1477.58 L706.2 1483.26 L704.1 1486.68 L700.4 1486.4 L697.1 1491.34 L692.9 1487.87 L688.8 1487.24 L683.8 1488.18 L678 1481.54 L673.9 1482.09 L670.2 1489 L666.5 1485.49 L662.3 1483.33 L657.4 1480.31 L652.4 1486.87 L648.3 1479.17 L644.1 1485.32 L641 1488.8 L637.6 1484.88 L635.2 1481.19 L633.9 1484.67 L631 1479.39 L629.4 1478.74 L627.7 1486.99 L624.4 1490.98 L621.1 1490.36 L617 1488.8 L613.2 1489.73 L610.8 1484.35 L608.3 1486.94 L606.2 1486.32 L601.7 1491.41 L597.1 1484.61 L593.8 1489.12 L590.1 1483.86 L587.6 1480.48 L585.5 1487.07 L583.5 1481.93 L581.4 1485.18 L578.9 1484.99 L576 1493.33 L573.1 1493.62 L569.4 1494.1 L565.7 1487.95 L561.1 1490.58 L558.2 1486.25 L555.8 1486.15 L553.3 1479.32 L551.6 1472.55 L550 1461.07 L549.5 1450.08 Z" fill="#d4d4d4" fill-opacity="0.8" stroke="none"/>
<path d="M549.5 1446.5 L550 1457.2 L551.6 1468 L553.3 1474.6 L555.8 1481.2 L558.2 1481.2 L561.1 1486.2 L565.7 1482.9 L569.4 1490.3 L573.1 1489.5 L576 1487.8 L578.9 1481.2 L581.4 1481.2 L583.5 1477.9 L585.5 1482.4 L587.6 1477.1 L590.1 1480.4 L593.8 1484.5 L597.1 1480.8 L601.7 1486.2 L606.2 1480.8 L608.3 1482 L610.8 1479.1 L613.2 1485.3 L617 1485.3 L621.1 1485.8 L624.4 1486.6 L627.7 1482 L629.4 1475 L631 1475.4 L633.9 1479.1 L635.2 1477.1 L637.6 1480.4 L641 1482.9 L644.1 1481.2 L648.3 1475.4 L652.4 1481.6 L657.4 1475.4 L662.3 1478.3 L666.5 1482 L670.2 1484.5 L673.9 1478.7 L678 1477.5 L683.8 1482.9 L688.8 1483.7 L692.9 1483.7 L697.1 1485.3 L700.4 1480.4 L704.1 1482 L706.2 1477.9 L709.1 1472.5 L712 1477.1 L713.2 1481.2 L717.8 1482 L721.5 1484.5 L725.2 1478.7 L729.3 1481.2" fill="none" stroke="#000" stroke-width="1.55" stroke-linejoin="round"/>
<path d="M825.4 1440.72 L827 1457.73 L829.1 1442.35 L831.6 1440.25 L834.5 1435.13 L837.4 1443.03 L839.9 1444.08 L842.3 1445.41 L844.8 1448.39 L847.3 1449.92 L849.4 1433.14 L852.3 1406.32 L854.7 1413.61 L856.8 1423.55 L859.3 1435.5 L861.4 1441.31 L864.7 1416.38 L867.6 1433.56 L871.3 1459.02 L873.8 1447.99 L876.2 1434.62 L879.6 1445.24 L882.9 1429.96 L886.2 1420.18 L889.5 1440.27 L892.8 1447.25 L895.3 1448.43 L898.2 1456.96 L901.1 1443.29 L903.5 1426.44 L906 1443.92 L908.5 1450.93 L911 1439.39 L914.3 1439.83 L918.3 1433.85 L920.4 1436.66 L923.3 1446.9 L925.8 1437.58 L928.6 1411.73 L931.5 1427.67 L934.9 1413.27 L938.6 1435 L941.5 1425.28 L945.2 1442.89 L948.1 1430.87 L951.4 1437.28 L954.7 1443.8 L958 1435.42 L960.9 1432.9 L964.2 1444.83 L967.1 1445.54 L971.2 1446.46 L975.4 1414.81 L978.7 1438.19 L982.8 1440.49 L987 1446.96 L989.4 1454.88 L992.3 1440.84 L995.2 1394.43 L997.7 1420.62 L999.4 1432.38 L1001.8 1412.8 L1004.3 1405.49 L1005.6 1420.82 L1005.6 1439.58 L1004.3 1429.91 L1001.8 1432.6 L999.4 1456.02 L997.7 1441.38 L995.2 1414.57 L992.3 1457.56 L989.4 1471.52 L987 1461.24 L982.8 1456.31 L978.7 1453.61 L975.4 1433.99 L971.2 1461.74 L967.1 1467.66 L964.2 1465.17 L960.9 1452.3 L958 1459.58 L954.7 1464.4 L951.4 1457.72 L948.1 1452.53 L945.2 1463.71 L941.5 1446.72 L938.6 1450.2 L934.9 1438.73 L931.5 1450.93 L928.6 1433.67 L925.8 1457.42 L923.3 1468.1 L920.4 1451.74 L918.3 1449.55 L914.3 1460.17 L911 1455.61 L908.5 1473.87 L906 1459.48 L903.5 1447.16 L901.1 1463.31 L898.2 1481.04 L895.3 1473.17 L892.8 1464.35 L889.5 1464.73 L886.2 1443.42 L882.9 1451.84 L879.6 1469.76 L876.2 1452.18 L873.8 1467.01 L871.3 1478.98 L867.6 1453.24 L864.7 1439.02 L861.4 1460.29 L859.3 1457.9 L856.8 1438.45 L854.7 1431.79 L852.3 1430.88 L849.4 1450.26 L847.3 1466.68 L844.8 1473.21 L842.3 1469.59 L839.9 1464.12 L837.4 1458.57 L834.5 1458.27 L831.6 1459.75 L829.1 1464.25 L827 1477.07 L825.4 1462.68 Z" fill="#fa7a7c" fill-opacity="1.0" stroke="none"/>
<path d="M825.4 1451.7 L827 1467.4 L829.1 1453.3 L831.6 1450 L834.5 1446.7 L837.4 1450.8 L839.9 1454.1 L842.3 1457.5 L844.8 1460.8 L847.3 1458.3 L849.4 1441.7 L852.3 1418.6 L854.7 1422.7 L856.8 1431 L859.3 1446.7 L861.4 1450.8 L864.7 1427.7 L867.6 1443.4 L871.3 1469 L873.8 1457.5 L876.2 1443.4 L879.6 1457.5 L882.9 1440.9 L886.2 1431.8 L889.5 1452.5 L892.8 1455.8 L895.3 1460.8 L898.2 1469 L901.1 1453.3 L903.5 1436.8 L906 1451.7 L908.5 1462.4 L911 1447.5 L914.3 1450 L918.3 1441.7 L920.4 1444.2 L923.3 1457.5 L925.8 1447.5 L928.6 1422.7 L931.5 1439.3 L934.9 1426 L938.6 1442.6 L941.5 1436 L945.2 1453.3 L948.1 1441.7 L951.4 1447.5 L954.7 1454.1 L958 1447.5 L960.9 1442.6 L964.2 1455 L967.1 1456.6 L971.2 1454.1 L975.4 1424.4 L978.7 1445.9 L982.8 1448.4 L987 1454.1 L989.4 1463.2 L992.3 1449.2 L995.2 1404.5 L997.7 1431 L999.4 1444.2 L1001.8 1422.7 L1004.3 1417.7 L1005.6 1430.2" fill="none" stroke="#a3093c" stroke-width="1.7" stroke-linejoin="round"/>
<path d="M825.4 1440.32 L827.4 1431.91 L829.5 1426.75 L832.4 1431.33 L835.3 1433.82 L837.4 1429.53 L839.9 1432.58 L841.9 1442.77 L844 1446.02 L846.5 1440.32 L848.5 1421.21 L850.2 1400.63 L851.8 1402.36 L852.7 1384.11 L853.9 1393.04 L855.6 1401.57 L858 1403.02 L860.5 1414.02 L863.8 1397.15 L866.3 1416.93 L869.2 1443.72 L872.5 1415.01 L874.6 1420.79 L877.1 1423.76 L879.6 1419.8 L882.9 1407.8 L884.9 1413.95 L886.6 1410.37 L889.1 1425.81 L891.1 1434.59 L894.9 1418.34 L897.3 1426.17 L899.4 1432.23 L901.5 1430.58 L903.5 1410.19 L906 1399.7 L908.5 1421.85 L910.6 1403.74 L912.6 1402.59 L915.1 1412.39 L916.7 1407.57 L918.7 1394.47 L921.2 1412.47 L922.9 1426.92 L924.5 1421.96 L927 1430.88 L930.3 1404.92 L933.6 1391.02 L936.5 1424.19 L939.8 1393.73 L943.1 1390.37 L945.6 1387.59 L948.1 1403.15 L950.6 1418.85 L953 1401.48 L957.2 1366.4 L960.5 1392.85 L964.6 1419.04 L967.9 1424.35 L972.1 1415.01 L976.2 1405.15 L981.6 1420.93 L986.1 1384.08 L988.2 1401.73 L991.1 1363.52 L992.7 1365.42 L996.1 1395.11 L998.1 1398.21 L1000.2 1408.17 L1002.3 1414.6 L1004.3 1407.79 L1006 1395.73 L1006 1408.27 L1004.3 1419.41 L1002.3 1424.2 L1000.2 1420.63 L998.1 1412.39 L996.1 1410.69 L992.7 1377.38 L991.1 1377.68 L988.2 1413.87 L986.1 1400.12 L981.6 1432.67 L976.2 1416.25 L972.1 1430.39 L967.9 1433.45 L964.6 1434.56 L960.5 1402.95 L957.2 1378.2 L953 1415.92 L950.6 1429.95 L948.1 1414.25 L945.6 1401.61 L943.1 1403.83 L939.8 1407.07 L936.5 1434.41 L933.6 1404.78 L930.3 1414.08 L927 1442.72 L924.5 1433.44 L922.9 1438.28 L921.2 1422.93 L918.7 1407.93 L916.7 1419.63 L915.1 1428.01 L912.6 1413.01 L910.6 1416.86 L908.5 1436.75 L906 1415.9 L903.5 1422.01 L901.5 1439.62 L899.4 1444.57 L897.3 1439.03 L894.9 1431.26 L891.1 1448.81 L889.1 1436.19 L886.6 1420.23 L884.9 1423.25 L882.9 1417.8 L879.6 1435.6 L877.1 1439.84 L874.6 1432.81 L872.5 1427.99 L869.2 1453.08 L866.3 1430.07 L863.8 1408.65 L860.5 1429.78 L858 1415.98 L855.6 1415.83 L853.9 1406.16 L852.7 1398.49 L851.8 1411.64 L850.2 1414.97 L848.5 1432.39 L846.5 1449.68 L844 1462.18 L841.9 1455.63 L839.9 1442.62 L837.4 1444.07 L835.3 1449.58 L832.4 1442.27 L829.5 1440.25 L827.4 1444.89 L825.4 1454.68 Z" fill="#d4d4d4" fill-opacity="0.8" stroke="none"/>
<path d="M825.4 1447.5 L827.4 1438.4 L829.5 1433.5 L832.4 1436.8 L835.3 1441.7 L837.4 1436.8 L839.9 1437.6 L841.9 1449.2 L844 1454.1 L846.5 1445 L848.5 1426.8 L850.2 1407.8 L851.8 1407 L852.7 1391.3 L853.9 1399.6 L855.6 1408.7 L858 1409.5 L860.5 1421.9 L863.8 1402.9 L866.3 1423.5 L869.2 1448.4 L872.5 1421.5 L874.6 1426.8 L877.1 1431.8 L879.6 1427.7 L882.9 1412.8 L884.9 1418.6 L886.6 1415.3 L889.1 1431 L891.1 1441.7 L894.9 1424.8 L897.3 1432.6 L899.4 1438.4 L901.5 1435.1 L903.5 1416.1 L906 1407.8 L908.5 1429.3 L910.6 1410.3 L912.6 1407.8 L915.1 1420.2 L916.7 1413.6 L918.7 1401.2 L921.2 1417.7 L922.9 1432.6 L924.5 1427.7 L927 1436.8 L930.3 1409.5 L933.6 1397.9 L936.5 1429.3 L939.8 1400.4 L943.1 1397.1 L945.6 1394.6 L948.1 1408.7 L950.6 1424.4 L953 1408.7 L957.2 1372.3 L960.5 1397.9 L964.6 1426.8 L967.9 1428.9 L972.1 1422.7 L976.2 1410.7 L981.6 1426.8 L986.1 1392.1 L988.2 1407.8 L991.1 1370.6 L992.7 1371.4 L996.1 1402.9 L998.1 1405.3 L1000.2 1414.4 L1002.3 1419.4 L1004.3 1413.6 L1006 1402" fill="none" stroke="#000" stroke-width="1.55" stroke-linejoin="round"/>
<path d="M278.2 1729.98 L280.9 1704.17 L283.5 1677.04 L286.2 1669.44 L288.8 1647.97 L293.3 1648.79 L297.2 1637.53 L299.5 1656.24 L302.6 1653.52 L304.8 1658.11 L307 1676 L310.1 1672.22 L313.6 1648.33 L315.4 1632.59 L318.1 1643.07 L320.7 1636.08 L323.4 1661.08 L327.8 1618.99 L332.2 1652.69 L334.9 1664.42 L337.5 1658.88 L340.2 1672.63 L343.7 1681.55 L347.3 1695.73 L351.7 1703.13 L354.4 1695.74 L357.9 1710.2 L361.5 1704.9 L366.7 1706.55 L370 1725.28 L374.9 1730.19 L378.2 1719.73 L382 1708.98 L384.9 1717.41 L387.3 1719.02 L390.2 1714.85 L393.1 1722.11 L397.7 1731.01 L401.4 1738.87 L404.7 1733.95 L407.6 1724.54 L410.5 1729.7 L412.1 1728.76 L416.3 1734.52 L419.6 1736.38 L422.9 1737.02 L427.9 1739.46 L432 1733.75 L437.4 1726.65 L443.6 1739.08 L447.7 1737.41 L451.8 1734.23 L456 1733.85 L457.6 1737.75 L457.6 1749.65 L456 1746.95 L451.8 1746.57 L447.7 1744.99 L443.6 1749.92 L437.4 1740.95 L432 1747.05 L427.9 1751.14 L422.9 1745.38 L419.6 1747.62 L416.3 1747.88 L412.1 1739.64 L410.5 1741.1 L407.6 1736.46 L404.7 1745.25 L401.4 1748.53 L397.7 1744.79 L393.1 1737.09 L390.2 1729.55 L387.3 1733.58 L384.9 1728.59 L382 1720.42 L378.2 1732.87 L374.9 1740.61 L370 1738.92 L366.7 1718.05 L361.5 1717.7 L357.9 1728.4 L354.4 1714.46 L351.7 1716.07 L347.3 1711.07 L343.7 1696.85 L340.2 1693.37 L337.5 1680.52 L334.9 1687.38 L332.2 1679.71 L327.8 1651.41 L323.4 1681.92 L320.7 1664.32 L318.1 1675.13 L315.4 1667.81 L313.6 1676.87 L310.1 1691.98 L307 1700.6 L304.8 1681.29 L302.6 1677.08 L299.5 1683.16 L297.2 1668.27 L293.3 1676.41 L288.8 1673.83 L286.2 1691.16 L283.5 1694.36 L280.9 1720.23 L278.2 1740.02 Z" fill="#fa7a7c" fill-opacity="1.0" stroke="none"/>
<path d="M278.2 1735 L280.9 1712.2 L283.5 1685.7 L286.2 1680.3 L288.8 1660.9 L293.3 1662.6 L297.2 1652.9 L299.5 1669.7 L302.6 1665.3 L304.8 1669.7 L307 1688.3 L310.1 1682.1 L313.6 1662.6 L315.4 1650.2 L318.1 1659.1 L320.7 1650.2 L323.4 1671.5 L327.8 1635.2 L332.2 1666.2 L334.9 1675.9 L337.5 1669.7 L340.2 1683 L343.7 1689.2 L347.3 1703.4 L351.7 1709.6 L354.4 1705.1 L357.9 1719.3 L361.5 1711.3 L366.7 1712.3 L370 1732.1 L374.9 1735.4 L378.2 1726.3 L382 1714.7 L384.9 1723 L387.3 1726.3 L390.2 1722.2 L393.1 1729.6 L397.7 1737.9 L401.4 1743.7 L404.7 1739.6 L407.6 1730.5 L410.5 1735.4 L412.1 1734.2 L416.3 1741.2 L419.6 1742 L422.9 1741.2 L427.9 1745.3 L432 1740.4 L437.4 1733.8 L443.6 1744.5 L447.7 1741.2 L451.8 1740.4 L456 1740.4 L457.6 1743.7" fill="none" stroke="#a3093c" stroke-width="1.7" stroke-linejoin="round"/>
<path d="M278.2 1732.37 L280.9 1705 L283.5 1707.33 L286.2 1718.83 L287.9 1723.67 L291.5 1691.52 L293.3 1673.93 L295.5 1691.44 L298.1 1637.07 L302.1 1689.07 L304.3 1675 L307.4 1685.69 L312.3 1693.74 L317.2 1702.77 L321.2 1690.57 L322.9 1706.62 L325.6 1689.79 L327.8 1652.11 L330.5 1670.19 L332.2 1672.35 L334 1673.2 L335.8 1688.44 L338.9 1708.04 L341.5 1692.44 L344.2 1691.34 L346.8 1700.69 L349.1 1702.11 L352.2 1726.27 L354.8 1709.19 L357.9 1736.34 L360.6 1722.57 L365 1713.17 L367.5 1719.86 L369.5 1733.73 L373.3 1734.5 L375.8 1741.08 L378.6 1733.96 L381.5 1721.52 L384 1729.82 L386.1 1718.56 L387.3 1734.47 L389.8 1737.73 L392.3 1742.03 L395.6 1736.39 L398.1 1732.28 L401.4 1736.93 L403.9 1726.08 L406.4 1732.86 L409.7 1738.81 L412.1 1734.49 L416.7 1743.75 L421.2 1738.62 L423.7 1735.18 L427 1742.68 L431.2 1739.88 L435.3 1733.65 L438.6 1741.84 L443.2 1744.22 L447.7 1737.27 L451.8 1734.39 L455.2 1738.96 L457.6 1740.67 L457.6 1749.93 L455.2 1745.04 L451.8 1744.81 L447.7 1743.53 L443.2 1753.18 L438.6 1752.16 L435.3 1743.75 L431.2 1747.52 L427 1751.32 L423.7 1745.62 L421.2 1747.18 L416.7 1750.25 L412.1 1744.71 L409.7 1745.19 L406.4 1742.94 L403.9 1738.12 L401.4 1745.47 L398.1 1743.52 L395.6 1744.41 L392.3 1750.37 L389.8 1748.07 L387.3 1744.73 L386.1 1732.44 L384 1737.78 L381.5 1732.68 L378.6 1741.84 L375.8 1747.92 L373.3 1744.7 L369.5 1742.07 L367.5 1732.74 L365 1727.83 L360.6 1735.63 L357.9 1743.06 L354.8 1727.61 L352.2 1737.13 L349.1 1720.49 L346.8 1721.91 L344.2 1718.86 L341.5 1719.56 L338.9 1723.56 L335.8 1714.76 L334 1701.6 L332.2 1707.85 L330.5 1701.21 L327.8 1694.49 L325.6 1713.41 L322.9 1721.38 L321.2 1718.03 L317.2 1725.23 L312.3 1713.06 L307.4 1715.71 L304.3 1699.8 L302.1 1708.93 L298.1 1677.53 L295.5 1718.76 L293.3 1697.47 L291.5 1715.28 L287.9 1737.93 L286.2 1730.37 L283.5 1727.67 L280.9 1723 L278.2 1741.63 Z" fill="#d4d4d4" fill-opacity="0.8" stroke="none"/>
<path d="M278.2 1737 L280.9 1714 L283.5 1717.5 L286.2 1724.6 L287.9 1730.8 L291.5 1703.4 L293.3 1685.7 L295.5 1705.1 L298.1 1657.3 L302.1 1699 L304.3 1687.4 L307.4 1700.7 L312.3 1703.4 L317.2 1714 L321.2 1704.3 L322.9 1714 L325.6 1701.6 L327.8 1673.3 L330.5 1685.7 L332.2 1690.1 L334 1687.4 L335.8 1701.6 L338.9 1715.8 L341.5 1706 L344.2 1705.1 L346.8 1711.3 L349.1 1711.3 L352.2 1731.7 L354.8 1718.4 L357.9 1739.7 L360.6 1729.1 L365 1720.5 L367.5 1726.3 L369.5 1737.9 L373.3 1739.6 L375.8 1744.5 L378.6 1737.9 L381.5 1727.1 L384 1733.8 L386.1 1725.5 L387.3 1739.6 L389.8 1742.9 L392.3 1746.2 L395.6 1740.4 L398.1 1737.9 L401.4 1741.2 L403.9 1732.1 L406.4 1737.9 L409.7 1742 L412.1 1739.6 L416.7 1747 L421.2 1742.9 L423.7 1740.4 L427 1747 L431.2 1743.7 L435.3 1738.7 L438.6 1747 L443.2 1748.7 L447.7 1740.4 L451.8 1739.6 L455.2 1742 L457.6 1745.3" fill="none" stroke="#000" stroke-width="1.55" stroke-linejoin="round"/>
<path d="M549.6 1725.47 L553.3 1735.78 L556.7 1711.2 L560.8 1646.64 L563.3 1625.46 L566.7 1636.71 L570 1677.7 L573.8 1701.85 L576.7 1663.61 L580 1677.05 L583.3 1693.96 L585.8 1677.17 L590 1707.29 L593.3 1683.08 L595.8 1690.85 L599.2 1669.76 L603.3 1714.81 L605.8 1720.69 L612.9 1699.1 L616.7 1722.21 L620.4 1711.45 L622.9 1721.47 L625.8 1697.47 L627.9 1728.58 L632.9 1697.91 L637.5 1713.95 L640.8 1730.23 L643.3 1744.39 L646.6 1746.76 L650.8 1733.07 L654.1 1715.88 L657.4 1710.9 L660.3 1726.02 L664 1729.89 L667.3 1735.99 L670.6 1751.92 L673.9 1754.47 L677.2 1744.29 L681.4 1732.85 L684.3 1724.44 L688 1736.21 L692.1 1738.82 L696.2 1741.62 L699.6 1754.03 L703.7 1741.11 L707.8 1722.21 L711.1 1737.07 L715.3 1751.16 L719.4 1745.96 L722.7 1730.82 L726 1738.62 L729.3 1737.17 L729.3 1745.23 L726 1751.98 L722.7 1743.38 L719.4 1756.24 L715.3 1762.64 L711.1 1748.73 L707.8 1733.79 L703.7 1751.29 L699.6 1761.57 L696.2 1753.98 L692.1 1748.58 L688 1749.59 L684.3 1734.76 L681.4 1746.35 L677.2 1753.11 L673.9 1767.73 L670.6 1760.28 L667.3 1746.41 L664 1742.51 L660.3 1739.78 L657.4 1728.5 L654.1 1730.12 L650.8 1742.73 L646.6 1758.84 L643.3 1757.81 L640.8 1743.17 L637.5 1732.65 L632.9 1720.49 L627.9 1739.82 L625.8 1714.13 L622.9 1733.53 L620.4 1726.95 L616.7 1737.79 L612.9 1717.5 L605.8 1730.91 L603.3 1730.19 L599.2 1690.24 L595.8 1714.15 L593.3 1706.92 L590 1726.11 L585.8 1702.83 L583.3 1716.04 L580 1697.95 L576.7 1684.79 L573.8 1716.55 L570 1695.7 L566.7 1664.89 L563.3 1654.54 L560.8 1679.96 L556.7 1727.2 L553.3 1744.22 L549.6 1740.53 Z" fill="#fa7a7c" fill-opacity="1.0" stroke="none"/>
<path d="M549.6 1733 L553.3 1740 L556.7 1719.2 L560.8 1663.3 L563.3 1640 L566.7 1650.8 L570 1686.7 L573.8 1709.2 L576.7 1674.2 L580 1687.5 L583.3 1705 L585.8 1690 L590 1716.7 L593.3 1695 L595.8 1702.5 L599.2 1680 L603.3 1722.5 L605.8 1725.8 L612.9 1708.3 L616.7 1730 L620.4 1719.2 L622.9 1727.5 L625.8 1705.8 L627.9 1734.2 L632.9 1709.2 L637.5 1723.3 L640.8 1736.7 L643.3 1751.1 L646.6 1752.8 L650.8 1737.9 L654.1 1723 L657.4 1719.7 L660.3 1732.9 L664 1736.2 L667.3 1741.2 L670.6 1756.1 L673.9 1761.1 L677.2 1748.7 L681.4 1739.6 L684.3 1729.6 L688 1742.9 L692.1 1743.7 L696.2 1747.8 L699.6 1757.8 L703.7 1746.2 L707.8 1728 L711.1 1742.9 L715.3 1756.9 L719.4 1751.1 L722.7 1737.1 L726 1745.3 L729.3 1741.2" fill="none" stroke="#a3093c" stroke-width="1.7" stroke-linejoin="round"/>
<path d="M549.6 1724.82 L551.7 1726.94 L553.3 1725.49 L555.4 1713.31 L557.5 1737.99 L560.8 1752.56 L562.9 1738.89 L566.7 1749.32 L570.8 1758.7 L573.3 1754.86 L575.8 1742.32 L578.3 1744.95 L580.8 1737.19 L584.2 1718.78 L585.8 1728.22 L588.3 1743.75 L590.8 1725.43 L592.5 1738.3 L595 1741.67 L599.2 1695.42 L601.7 1729.79 L605 1735.28 L609.6 1718.37 L611.7 1732.83 L612.9 1725.31 L616.7 1741.11 L619.6 1730.91 L622.9 1746.37 L625.8 1737.26 L628.3 1741.89 L633.3 1720.14 L636.7 1730.02 L640 1738.84 L644.1 1762.87 L648.3 1757.71 L650.8 1746.83 L653.2 1741.25 L656.5 1723.09 L659.9 1735.39 L663.2 1724.61 L664.8 1722.27 L667.3 1730.36 L670.6 1755.63 L673.1 1750.42 L675.6 1747.53 L678.9 1733.17 L682.2 1731.38 L684.7 1732.36 L686.7 1741.27 L690 1725.52 L693.3 1736.06 L696.7 1728.83 L699.6 1746.92 L702 1751.26 L705.3 1733.12 L707.4 1724.17 L709.5 1708.84 L712.8 1733.07 L716.1 1739.3 L719.4 1734.78 L722.7 1718.17 L726 1720.61 L728.1 1720.72 L729.7 1734.3 L729.7 1744.9 L728.1 1733.48 L726 1733.59 L722.7 1729.43 L719.4 1747.62 L716.1 1749.7 L712.8 1742.73 L709.5 1720.56 L707.4 1736.83 L705.3 1746.08 L702 1762.54 L699.6 1757.08 L696.7 1741.97 L693.3 1749.74 L690 1735.48 L686.7 1754.33 L684.7 1741.84 L682.2 1742.82 L678.9 1747.63 L675.6 1758.07 L673.1 1763.38 L670.6 1769.77 L667.3 1743.84 L664.8 1736.93 L663.2 1734.59 L659.9 1745.41 L656.5 1732.91 L653.2 1751.15 L650.8 1755.37 L648.3 1769.29 L644.1 1775.73 L640 1751.16 L636.7 1738.38 L633.3 1733.26 L628.3 1751.51 L625.8 1747.74 L622.9 1755.23 L619.6 1742.49 L616.7 1752.29 L612.9 1738.09 L611.7 1743.77 L609.6 1728.23 L605 1744.72 L601.7 1738.61 L599.2 1707.98 L595 1749.93 L592.5 1748.3 L590.8 1734.57 L588.3 1754.65 L585.8 1741.78 L584.2 1732.82 L580.8 1749.41 L578.3 1758.45 L575.8 1751.08 L573.3 1768.54 L570.8 1767.9 L566.7 1760.68 L562.9 1752.71 L560.8 1762.44 L557.5 1752.01 L555.4 1723.29 L553.3 1737.91 L551.7 1739.66 L549.6 1736.78 Z" fill="#d4d4d4" fill-opacity="0.8" stroke="none"/>
<path d="M549.6 1730.8 L551.7 1733.3 L553.3 1731.7 L555.4 1718.3 L557.5 1745 L560.8 1757.5 L562.9 1745.8 L566.7 1755 L570.8 1763.3 L573.3 1761.7 L575.8 1746.7 L578.3 1751.7 L580.8 1743.3 L584.2 1725.8 L585.8 1735 L588.3 1749.2 L590.8 1730 L592.5 1743.3 L595 1745.8 L599.2 1701.7 L601.7 1734.2 L605 1740 L609.6 1723.3 L611.7 1738.3 L612.9 1731.7 L616.7 1746.7 L619.6 1736.7 L622.9 1750.8 L625.8 1742.5 L628.3 1746.7 L633.3 1726.7 L636.7 1734.2 L640 1745 L644.1 1769.3 L648.3 1763.5 L650.8 1751.1 L653.2 1746.2 L656.5 1728 L659.9 1740.4 L663.2 1729.6 L664.8 1729.6 L667.3 1737.1 L670.6 1762.7 L673.1 1756.9 L675.6 1752.8 L678.9 1740.4 L682.2 1737.1 L684.7 1737.1 L686.7 1747.8 L690 1730.5 L693.3 1742.9 L696.7 1735.4 L699.6 1752 L702 1756.9 L705.3 1739.6 L707.4 1730.5 L709.5 1714.7 L712.8 1737.9 L716.1 1744.5 L719.4 1741.2 L722.7 1723.8 L726 1727.1 L728.1 1727.1 L729.7 1739.6" fill="none" stroke="#000" stroke-width="1.55" stroke-linejoin="round"/>
<path d="M825.4 1727.02 L827.4 1743.23 L829.5 1762.19 L831.6 1753.79 L834.1 1754.2 L836.5 1733.4 L839.9 1698.97 L843.2 1677.99 L845.6 1674.04 L848.1 1668.38 L850.6 1668.01 L853.1 1710.17 L856.4 1738.8 L859.7 1747.86 L862.2 1744.42 L864.7 1746.62 L868 1759.2 L870.5 1739.6 L873.8 1700.65 L876.2 1695.55 L879.1 1735.79 L882.9 1734.43 L886.2 1729.22 L889.5 1731.02 L892.8 1727.9 L895.3 1735.01 L899 1738.22 L901.9 1721.94 L905.2 1734.69 L908.5 1698.79 L911.8 1703.25 L915.1 1716.72 L918.3 1734.64 L921.6 1739.81 L924.9 1729.37 L929.9 1721.68 L934.9 1744.28 L938.6 1715.16 L942.3 1735.85 L946.4 1731.02 L949.7 1734.42 L953.9 1707.32 L956.4 1709.73 L959.3 1690.58 L964.6 1710.14 L967.9 1732.51 L972.1 1738.9 L976.2 1748.62 L980.3 1724.73 L986.1 1713.19 L991.1 1738.53 L994.4 1742.64 L997.7 1724.57 L1001.8 1716.62 L1005.2 1725.62 L1005.2 1746.38 L1001.8 1728.98 L997.7 1740.83 L994.4 1760.76 L991.1 1754.87 L986.1 1730.61 L980.3 1743.87 L976.2 1761.38 L972.1 1756.3 L967.9 1752.69 L964.6 1725.46 L959.3 1710.22 L956.4 1722.47 L953.9 1726.68 L949.7 1754.18 L946.4 1749.18 L942.3 1749.35 L938.6 1732.04 L934.9 1762.52 L929.9 1733.72 L924.9 1750.83 L921.6 1755.39 L918.3 1750.56 L915.1 1730.48 L911.8 1724.15 L908.5 1713.61 L905.2 1753.91 L901.9 1743.46 L899 1755.18 L895.3 1750.19 L892.8 1744.1 L889.5 1749.18 L886.2 1742.78 L882.9 1750.77 L879.1 1756.01 L876.2 1710.25 L873.8 1719.95 L870.5 1755.6 L868 1772.4 L864.7 1761.78 L862.2 1757.38 L859.7 1762.14 L856.4 1758 L853.1 1728.63 L850.6 1688.19 L848.1 1687.82 L845.6 1687.16 L843.2 1696.41 L839.9 1715.03 L836.5 1746.8 L834.1 1767.4 L831.6 1771.21 L829.5 1777.61 L827.4 1761.77 L825.4 1739.98 Z" fill="#fa7a7c" fill-opacity="1.0" stroke="none"/>
<path d="M825.4 1733.5 L827.4 1752.5 L829.5 1769.9 L831.6 1762.5 L834.1 1760.8 L836.5 1740.1 L839.9 1707 L843.2 1687.2 L845.6 1680.6 L848.1 1678.1 L850.6 1678.1 L853.1 1719.4 L856.4 1748.4 L859.7 1755 L862.2 1750.9 L864.7 1754.2 L868 1765.8 L870.5 1747.6 L873.8 1710.3 L876.2 1702.9 L879.1 1745.9 L882.9 1742.6 L886.2 1736 L889.5 1740.1 L892.8 1736 L895.3 1742.6 L899 1746.7 L901.9 1732.7 L905.2 1744.3 L908.5 1706.2 L911.8 1713.7 L915.1 1723.6 L918.3 1742.6 L921.6 1747.6 L924.9 1740.1 L929.9 1727.7 L934.9 1753.4 L938.6 1723.6 L942.3 1742.6 L946.4 1740.1 L949.7 1744.3 L953.9 1717 L956.4 1716.1 L959.3 1700.4 L964.6 1717.8 L967.9 1742.6 L972.1 1747.6 L976.2 1755 L980.3 1734.3 L986.1 1721.9 L991.1 1746.7 L994.4 1751.7 L997.7 1732.7 L1001.8 1722.8 L1005.2 1736" fill="none" stroke="#a3093c" stroke-width="1.7" stroke-linejoin="round"/>
<path d="M825.4 1721.83 L827.4 1694.55 L828.7 1696.91 L830.8 1684.81 L833.2 1704.07 L835.7 1728.65 L839.9 1676.19 L843.2 1699.39 L846.5 1724.81 L851.4 1699.51 L854.7 1714.3 L856.4 1706.82 L858.9 1719.2 L861.4 1726.66 L863 1714.7 L865.1 1735.76 L867.1 1724.78 L869.6 1738.66 L872.1 1738.31 L875.8 1697.42 L877.9 1726.28 L879.6 1720.5 L882.9 1730.11 L886.6 1738.25 L889.5 1726.81 L892.8 1725.5 L895.3 1723.53 L899 1742.59 L903.5 1719.11 L906 1735.72 L908.5 1717.86 L912.6 1743.17 L915.9 1735.42 L918.3 1748.74 L922.4 1753.05 L924.9 1746.22 L927.4 1722.93 L930.7 1712.47 L933.2 1710.62 L935.3 1735.8 L938.2 1738.99 L942.3 1730.82 L946.4 1746.73 L948.9 1746.06 L951.4 1731.33 L953.9 1723.65 L956.4 1722.69 L959.7 1715.87 L962.6 1740.49 L966.3 1730.53 L969.6 1735.63 L972.9 1725.35 L977.9 1753.94 L981.2 1735 L984.9 1703.81 L987.8 1722.1 L991.5 1741.36 L994.8 1733.81 L999.8 1707.77 L1001.4 1713.57 L1003.5 1709.5 L1005.6 1724.67 L1005.6 1738.93 L1003.5 1721.1 L1001.4 1725.23 L999.8 1716.23 L994.8 1744.79 L991.5 1753.84 L987.8 1731.7 L984.9 1716.79 L981.2 1745.2 L977.9 1766.06 L972.9 1740.05 L969.6 1747.97 L966.3 1739.87 L962.6 1749.71 L959.7 1727.93 L956.4 1736.11 L953.9 1733.35 L951.4 1743.87 L948.9 1758.94 L946.4 1760.07 L942.3 1739.58 L938.2 1747.81 L935.3 1747.8 L933.2 1723.38 L930.7 1723.13 L927.4 1732.47 L924.9 1758.78 L922.4 1763.55 L918.3 1762.86 L915.9 1749.78 L912.6 1755.23 L908.5 1732.54 L906 1746.08 L903.5 1729.69 L899 1754.21 L895.3 1731.87 L892.8 1734.9 L889.5 1735.19 L886.6 1751.95 L882.9 1738.49 L879.6 1734.9 L877.9 1737.32 L875.8 1709.98 L872.1 1746.89 L869.6 1748.14 L867.1 1735.62 L865.1 1746.04 L863 1727.5 L861.4 1735.34 L858.9 1729.6 L856.4 1718.78 L854.7 1724.5 L851.4 1709.69 L846.5 1735.59 L843.2 1709.81 L839.9 1689.81 L835.7 1739.95 L833.2 1718.33 L830.8 1697.79 L828.7 1705.49 L827.4 1704.65 L825.4 1731.97 Z" fill="#d4d4d4" fill-opacity="0.8" stroke="none"/>
<path d="M825.4 1726.9 L827.4 1699.6 L828.7 1701.2 L830.8 1691.3 L833.2 1711.2 L835.7 1734.3 L839.9 1683 L843.2 1704.6 L846.5 1730.2 L851.4 1704.6 L854.7 1719.4 L856.4 1712.8 L858.9 1724.4 L861.4 1731 L863 1721.1 L865.1 1740.9 L867.1 1730.2 L869.6 1743.4 L872.1 1742.6 L875.8 1703.7 L877.9 1731.8 L879.6 1727.7 L882.9 1734.3 L886.6 1745.1 L889.5 1731 L892.8 1730.2 L895.3 1727.7 L899 1748.4 L903.5 1724.4 L906 1740.9 L908.5 1725.2 L912.6 1749.2 L915.9 1742.6 L918.3 1755.8 L922.4 1758.3 L924.9 1752.5 L927.4 1727.7 L930.7 1717.8 L933.2 1717 L935.3 1741.8 L938.2 1743.4 L942.3 1735.2 L946.4 1753.4 L948.9 1752.5 L951.4 1737.6 L953.9 1728.5 L956.4 1729.4 L959.7 1721.9 L962.6 1745.1 L966.3 1735.2 L969.6 1741.8 L972.9 1732.7 L977.9 1760 L981.2 1740.1 L984.9 1710.3 L987.8 1726.9 L991.5 1747.6 L994.8 1739.3 L999.8 1712 L1001.4 1719.4 L1003.5 1715.3 L1005.6 1731.8" fill="none" stroke="#000" stroke-width="1.55" stroke-linejoin="round"/>
<line x1="271.7" y1="1434.1" x2="1013" y2="1434.1" stroke="#000" stroke-width="3.1" stroke-dasharray="6.2 6.4"/>
<line x1="271.7" y1="1740.6" x2="1013" y2="1740.6" stroke="#000" stroke-width="3.1" stroke-dasharray="6.2 6.4"/>
<line x1="264.3" y1="1269.95" x2="264.3" y2="1451.23" stroke="#000" stroke-width="2.1" />
<line x1="246.8" y1="1434.1" x2="265.35" y2="1434.1" stroke="#000" stroke-width="2.1" />
<line x1="255.4" y1="1417.79" x2="264.3" y2="1417.79" stroke="#000" stroke-width="2.1" />
<line x1="255.4" y1="1401.48" x2="264.3" y2="1401.48" stroke="#000" stroke-width="2.1" />
<line x1="255.4" y1="1385.17" x2="264.3" y2="1385.17" stroke="#000" stroke-width="2.1" />
<line x1="255.4" y1="1368.86" x2="264.3" y2="1368.86" stroke="#000" stroke-width="2.1" />
<line x1="246.8" y1="1352.55" x2="265.35" y2="1352.55" stroke="#000" stroke-width="2.1" />
<line x1="255.4" y1="1336.24" x2="264.3" y2="1336.24" stroke="#000" stroke-width="2.1" />
<line x1="255.4" y1="1319.93" x2="264.3" y2="1319.93" stroke="#000" stroke-width="2.1" />
<line x1="255.4" y1="1303.62" x2="264.3" y2="1303.62" stroke="#000" stroke-width="2.1" />
<line x1="255.4" y1="1287.31" x2="264.3" y2="1287.31" stroke="#000" stroke-width="2.1" />
<line x1="246.8" y1="1271" x2="265.35" y2="1271" stroke="#000" stroke-width="2.1" />
<path d="M518.7 1314.1 L536.2 1314.1 L536.2 1494.1 L518.7 1494.1" fill="none" stroke="#000" stroke-width="2.1" stroke-linejoin="miter"/>
<line x1="518.7" y1="1434.1" x2="536.2" y2="1434.1" stroke="#000" stroke-width="2.1" />
<line x1="518.7" y1="1374.1" x2="536.2" y2="1374.1" stroke="#000" stroke-width="2.1" />
<path d="M794.2 1314.1 L811.7 1314.1 L811.7 1494.1 L794.2 1494.1" fill="none" stroke="#000" stroke-width="2.1" stroke-linejoin="miter"/>
<line x1="794.2" y1="1434.1" x2="811.7" y2="1434.1" stroke="#000" stroke-width="2.1" />
<line x1="794.2" y1="1374.1" x2="811.7" y2="1374.1" stroke="#000" stroke-width="2.1" />
<line x1="264.3" y1="1576.45" x2="264.3" y2="1757.73" stroke="#000" stroke-width="2.1" />
<line x1="246.8" y1="1740.6" x2="265.35" y2="1740.6" stroke="#000" stroke-width="2.1" />
<line x1="255.4" y1="1724.29" x2="264.3" y2="1724.29" stroke="#000" stroke-width="2.1" />
<line x1="255.4" y1="1707.98" x2="264.3" y2="1707.98" stroke="#000" stroke-width="2.1" />
<line x1="255.4" y1="1691.67" x2="264.3" y2="1691.67" stroke="#000" stroke-width="2.1" />
<line x1="255.4" y1="1675.36" x2="264.3" y2="1675.36" stroke="#000" stroke-width="2.1" />
<line x1="246.8" y1="1659.05" x2="265.35" y2="1659.05" stroke="#000" stroke-width="2.1" />
<line x1="255.4" y1="1642.74" x2="264.3" y2="1642.74" stroke="#000" stroke-width="2.1" />
<line x1="255.4" y1="1626.43" x2="264.3" y2="1626.43" stroke="#000" stroke-width="2.1" />
<line x1="255.4" y1="1610.12" x2="264.3" y2="1610.12" stroke="#000" stroke-width="2.1" />
<line x1="255.4" y1="1593.81" x2="264.3" y2="1593.81" stroke="#000" stroke-width="2.1" />
<line x1="246.8" y1="1577.5" x2="265.35" y2="1577.5" stroke="#000" stroke-width="2.1" />
<path d="M518.7 1620.6 L536.2 1620.6 L536.2 1800.6 L518.7 1800.6" fill="none" stroke="#000" stroke-width="2.1" stroke-linejoin="miter"/>
<line x1="518.7" y1="1740.6" x2="536.2" y2="1740.6" stroke="#000" stroke-width="2.1" />
<line x1="518.7" y1="1680.6" x2="536.2" y2="1680.6" stroke="#000" stroke-width="2.1" />
<path d="M794.2 1620.6 L811.7 1620.6 L811.7 1800.6 L794.2 1800.6" fill="none" stroke="#000" stroke-width="2.1" stroke-linejoin="miter"/>
<line x1="794.2" y1="1740.6" x2="811.7" y2="1740.6" stroke="#000" stroke-width="2.1" />
<line x1="794.2" y1="1680.6" x2="811.7" y2="1680.6" stroke="#000" stroke-width="2.1" />
<line x1="277.06" y1="1801.2" x2="458.35" y2="1801.2" stroke="#000" stroke-width="2.1" />
<line x1="292.69" y1="1801.2" x2="292.69" y2="1810.7" stroke="#000" stroke-width="2.1" />
<line x1="310.98" y1="1801.2" x2="310.98" y2="1819.4" stroke="#000" stroke-width="2.1" />
<line x1="329.27" y1="1801.2" x2="329.27" y2="1810.7" stroke="#000" stroke-width="2.1" />
<line x1="347.56" y1="1801.2" x2="347.56" y2="1819.4" stroke="#000" stroke-width="2.1" />
<line x1="365.85" y1="1801.2" x2="365.85" y2="1810.7" stroke="#000" stroke-width="2.1" />
<line x1="384.14" y1="1801.2" x2="384.14" y2="1819.4" stroke="#000" stroke-width="2.1" />
<line x1="402.43" y1="1801.2" x2="402.43" y2="1810.7" stroke="#000" stroke-width="2.1" />
<line x1="420.72" y1="1801.2" x2="420.72" y2="1819.4" stroke="#000" stroke-width="2.1" />
<line x1="439.01" y1="1801.2" x2="439.01" y2="1810.7" stroke="#000" stroke-width="2.1" />
<line x1="457.3" y1="1801.2" x2="457.3" y2="1819.4" stroke="#000" stroke-width="2.1" />
<line x1="548.96" y1="1801.2" x2="730.25" y2="1801.2" stroke="#000" stroke-width="2.1" />
<line x1="564.59" y1="1801.2" x2="564.59" y2="1810.7" stroke="#000" stroke-width="2.1" />
<line x1="582.88" y1="1801.2" x2="582.88" y2="1819.4" stroke="#000" stroke-width="2.1" />
<line x1="601.17" y1="1801.2" x2="601.17" y2="1810.7" stroke="#000" stroke-width="2.1" />
<line x1="619.46" y1="1801.2" x2="619.46" y2="1819.4" stroke="#000" stroke-width="2.1" />
<line x1="637.75" y1="1801.2" x2="637.75" y2="1810.7" stroke="#000" stroke-width="2.1" />
<line x1="656.04" y1="1801.2" x2="656.04" y2="1819.4" stroke="#000" stroke-width="2.1" />
<line x1="674.33" y1="1801.2" x2="674.33" y2="1810.7" stroke="#000" stroke-width="2.1" />
<line x1="692.62" y1="1801.2" x2="692.62" y2="1819.4" stroke="#000" stroke-width="2.1" />
<line x1="710.91" y1="1801.2" x2="710.91" y2="1810.7" stroke="#000" stroke-width="2.1" />
<line x1="729.2" y1="1801.2" x2="729.2" y2="1819.4" stroke="#000" stroke-width="2.1" />
<line x1="824.46" y1="1801.2" x2="1005.75" y2="1801.2" stroke="#000" stroke-width="2.1" />
<line x1="840.09" y1="1801.2" x2="840.09" y2="1810.7" stroke="#000" stroke-width="2.1" />
<line x1="858.38" y1="1801.2" x2="858.38" y2="1819.4" stroke="#000" stroke-width="2.1" />
<line x1="876.67" y1="1801.2" x2="876.67" y2="1810.7" stroke="#000" stroke-width="2.1" />
<line x1="894.96" y1="1801.2" x2="894.96" y2="1819.4" stroke="#000" stroke-width="2.1" />
<line x1="913.25" y1="1801.2" x2="913.25" y2="1810.7" stroke="#000" stroke-width="2.1" />
<line x1="931.54" y1="1801.2" x2="931.54" y2="1819.4" stroke="#000" stroke-width="2.1" />
<line x1="949.83" y1="1801.2" x2="949.83" y2="1810.7" stroke="#000" stroke-width="2.1" />
<line x1="968.12" y1="1801.2" x2="968.12" y2="1819.4" stroke="#000" stroke-width="2.1" />
<line x1="986.41" y1="1801.2" x2="986.41" y2="1810.7" stroke="#000" stroke-width="2.1" />
<line x1="1004.7" y1="1801.2" x2="1004.7" y2="1819.4" stroke="#000" stroke-width="2.1" />
<line x1="894.7" y1="1614.8" x2="938.3" y2="1614.8" stroke="#000" stroke-width="3" />
<line x1="894.7" y1="1653.9" x2="938.3" y2="1653.9" stroke="#a3093c" stroke-width="3" />
<text transform="translate(11.7 63.2) scale(0.8846 1)" font-size="69.71" fill="#000" stroke="#000" stroke-width="0.55">A</text>
<text transform="translate(98.42 33.66) scale(1.0070 1)" font-size="34.23" fill="#000" stroke="#000" stroke-width="0.4">50</text>
<text transform="translate(98.74 166.96) scale(0.9642 1)" font-size="34.37" fill="#000" stroke="#000" stroke-width="0.4">25</text>
<text transform="translate(118.58 316.15) scale(1.0282 1)" font-size="34.65" fill="#000" stroke="#000" stroke-width="0.4">0</text>
<text transform="translate(98.42 351.16) scale(1.0029 1)" font-size="34.37" fill="#000" stroke="#000" stroke-width="0.4">50</text>
<text transform="translate(98.74 486.96) scale(0.9642 1)" font-size="34.37" fill="#000" stroke="#000" stroke-width="0.4">25</text>
<text transform="translate(118.58 632.26) scale(1.0409 1)" font-size="34.23" fill="#000" stroke="#000" stroke-width="0.4">0</text>
<text transform="translate(65.3 457.66) rotate(-90) scale(0.9803 1)" font-size="33.91" fill="#000" stroke="#000" stroke-width="0.4">Frequency (Hz)</text>
<text transform="translate(473.88 52.5) scale(1.0072 1)" font-size="33.77" fill="#fff" stroke="#fff" stroke-width="0.4">Dorsal hippocampus</text>
<text transform="translate(485.61 365.2) scale(1.0607 1)" font-size="33.77" fill="#fff" stroke="#fff" stroke-width="0.4">Orbitofrontal cortex</text>
<text transform="translate(1078.93 30.56) scale(1.0292 1)" font-size="33.66" fill="#000" stroke="#000" stroke-width="0.4">10</text>
<text transform="translate(1078.51 303.06) scale(0.9633 1)" font-size="33.57" fill="#000" stroke="#000" stroke-width="0.4">5</text>
<text transform="translate(1078.08 623) scale(1.2291 1)" font-size="28.99" fill="#000" stroke="#000" stroke-width="0.4">-1</text>
<text transform="translate(1117.2 190.75) rotate(90) scale(0.9827 1)" font-size="33.77" fill="#000" stroke="#000" stroke-width="0.4">Fractional Power</text>
<text transform="translate(1058.34 695.97) scale(1.0098 1)" font-size="32.82" fill="#000" stroke="#000" stroke-width="0.4">60s</text>
<text transform="translate(187.85 788.2) scale(0.9438 1)" font-size="35.07" fill="#000" stroke="#000" stroke-width="0.4">Baseline</text>
<text transform="translate(495.41 788.4) scale(1.0157 1)" font-size="34.93" fill="#000" stroke="#000" stroke-width="0.4">Ictal</text>
<text transform="translate(730.35 788.4) scale(0.9851 1)" font-size="34.93" fill="#000" stroke="#000" stroke-width="0.4">Postictal</text>
<text transform="translate(993.16 788.4) scale(0.9440 1)" font-size="34.93" fill="#000" stroke="#000" stroke-width="0.4">Recovery</text>
<text transform="translate(11.8 746.5) scale(0.8716 1)" font-size="68.84" fill="#000" stroke="#000" stroke-width="0.55">B</text>
<text transform="translate(38.2 818.16) scale(0.9918 1)" font-size="34.08" fill="#000" stroke="#000" stroke-width="0.4">100</text>
<text transform="translate(58.84 889.17) scale(1.0180 1)" font-size="33.38" fill="#000" stroke="#000" stroke-width="0.4">50</text>
<text transform="translate(78.67 960.06) scale(1.0513 1)" font-size="34.08" fill="#000" stroke="#000" stroke-width="0.4">0</text>
<text transform="translate(27.7 977.64) rotate(-90) scale(0.9643 1)" font-size="34.20" fill="#000" stroke="#000" stroke-width="0.4">Hit Rate (%)</text>
<text transform="translate(182.06 1044.98) scale(1.0760 1)" font-size="32.25" fill="#000" stroke="#000" stroke-width="0.4">60</text>
<text transform="translate(248.28 1044.98) scale(1.0541 1)" font-size="32.25" fill="#000" stroke="#000" stroke-width="0.4">120</text>
<text transform="translate(326.45 1044.98) scale(1.0662 1)" font-size="32.25" fill="#000" stroke="#000" stroke-width="0.4">180</text>
<text transform="translate(188.95 1090) scale(0.9702 1)" font-size="33.62" fill="#000" stroke="#000" stroke-width="0.4">Time (s)</text>
<text transform="translate(500.25 1044.39) scale(1.0972 1)" font-size="30.70" fill="#000" stroke="#000" stroke-width="0.4">30</text>
<text transform="translate(617.8 1044.39) scale(1.1080 1)" font-size="30.70" fill="#000" stroke="#000" stroke-width="0.4">60</text>
<text transform="translate(774.44 1044.39) scale(1.1067 1)" font-size="30.70" fill="#000" stroke="#000" stroke-width="0.4">30</text>
<text transform="translate(892.31 1044.39) scale(1.0984 1)" font-size="30.70" fill="#000" stroke="#000" stroke-width="0.4">60</text>
<text transform="translate(1007.12 1043.68) scale(1.0628 1)" font-size="31.55" fill="#000" stroke="#000" stroke-width="0.4">60</text>
<text transform="translate(1072.55 1043.68) scale(1.0899 1)" font-size="31.55" fill="#000" stroke="#000" stroke-width="0.4">120</text>
<text transform="translate(1150.71 1043.68) scale(1.0654 1)" font-size="31.55" fill="#000" stroke="#000" stroke-width="0.4">180</text>
<text transform="translate(8.16 1223.4) scale(0.8237 1)" font-size="68.99" fill="#000" stroke="#000" stroke-width="0.55">C</text>
<text transform="translate(338.04 1233.4) scale(1.0775 1)" font-size="34.64" fill="#000" stroke="#000" stroke-width="0.4">Ictal</text>
<text transform="translate(574.33 1233.4) scale(0.9785 1)" font-size="35.36" fill="#000" stroke="#000" stroke-width="0.4">Postictal</text>
<text transform="translate(837.36 1233.6) scale(0.9633 1)" font-size="34.20" fill="#000" stroke="#000" stroke-width="0.4">Recovery</text>
<text transform="translate(143.8 1463.31) rotate(-90) scale(0.9911 1)" font-size="34.20" fill="#000" stroke="#000" stroke-width="0.4">Hippocampus</text>
<text transform="translate(188.8 1477.82) rotate(-90) scale(0.9662 1)" font-size="33.91" fill="#000" stroke="#000" stroke-width="0.4">Fracitonal Power</text>
<text transform="translate(144.7 1711.9) rotate(-90) scale(0.9467 1)" font-size="35.94" fill="#000" stroke="#000" stroke-width="0.4">Cortex</text>
<text transform="translate(189 1781.1) rotate(-90) scale(0.9366 1)" font-size="34.64" fill="#000" stroke="#000" stroke-width="0.4">Fracitonal Power</text>
<text transform="translate(201.17 1284.06) scale(1.0017 1)" font-size="34.08" fill="#000" stroke="#000" stroke-width="0.4">10</text>
<text transform="translate(221.3 1365.56) scale(0.9656 1)" font-size="33.71" fill="#000" stroke="#000" stroke-width="0.4">5</text>
<text transform="translate(220.93 1447.35) scale(0.9932 1)" font-size="34.51" fill="#000" stroke="#000" stroke-width="0.4">0</text>
<text transform="translate(201.17 1590.56) scale(1.0017 1)" font-size="34.08" fill="#000" stroke="#000" stroke-width="0.4">10</text>
<text transform="translate(221.3 1672.06) scale(0.9656 1)" font-size="33.71" fill="#000" stroke="#000" stroke-width="0.4">5</text>
<text transform="translate(220.93 1753.85) scale(0.9932 1)" font-size="34.51" fill="#000" stroke="#000" stroke-width="0.4">0</text>
<text transform="translate(324.68 1867.31) rotate(-90) scale(1.1129 1)" font-size="32.68" fill="#000" stroke="#000" stroke-width="0.4">10</text>
<text transform="translate(361.26 1866.16) rotate(-90) scale(1.0801 1)" font-size="32.68" fill="#000" stroke="#000" stroke-width="0.4">20</text>
<text transform="translate(397.84 1865.8) rotate(-90) scale(1.0696 1)" font-size="32.68" fill="#000" stroke="#000" stroke-width="0.4">30</text>
<text transform="translate(434.42 1865.09) rotate(-90) scale(1.0493 1)" font-size="32.68" fill="#000" stroke="#000" stroke-width="0.4">40</text>
<text transform="translate(471 1865.8) rotate(-90) scale(1.0696 1)" font-size="32.68" fill="#000" stroke="#000" stroke-width="0.4">50</text>
<text transform="translate(596.58 1867.31) rotate(-90) scale(1.1129 1)" font-size="32.68" fill="#000" stroke="#000" stroke-width="0.4">10</text>
<text transform="translate(633.16 1866.16) rotate(-90) scale(1.0801 1)" font-size="32.68" fill="#000" stroke="#000" stroke-width="0.4">20</text>
<text transform="translate(669.74 1865.8) rotate(-90) scale(1.0696 1)" font-size="32.68" fill="#000" stroke="#000" stroke-width="0.4">30</text>
<text transform="translate(706.32 1865.09) rotate(-90) scale(1.0493 1)" font-size="32.68" fill="#000" stroke="#000" stroke-width="0.4">40</text>
<text transform="translate(742.9 1865.8) rotate(-90) scale(1.0696 1)" font-size="32.68" fill="#000" stroke="#000" stroke-width="0.4">50</text>
<text transform="translate(872.08 1867.31) rotate(-90) scale(1.1129 1)" font-size="32.68" fill="#000" stroke="#000" stroke-width="0.4">10</text>
<text transform="translate(908.66 1866.16) rotate(-90) scale(1.0801 1)" font-size="32.68" fill="#000" stroke="#000" stroke-width="0.4">20</text>
<text transform="translate(945.24 1865.8) rotate(-90) scale(1.0696 1)" font-size="32.68" fill="#000" stroke="#000" stroke-width="0.4">30</text>
<text transform="translate(981.82 1865.09) rotate(-90) scale(1.0493 1)" font-size="32.68" fill="#000" stroke="#000" stroke-width="0.4">40</text>
<text transform="translate(1018.4 1865.8) rotate(-90) scale(1.0696 1)" font-size="32.68" fill="#000" stroke="#000" stroke-width="0.4">50</text>
<text transform="translate(492.85 1327.2) scale(0.9801 1)" font-size="33.71" fill="#000" stroke="#000" stroke-width="0.4">2</text>
<text transform="translate(492.86 1387.3) scale(0.9696 1)" font-size="34.06" fill="#000" stroke="#000" stroke-width="0.4">1</text>
<text transform="translate(480.56 1506.7) scale(0.9672 1)" font-size="34.64" fill="#000" stroke="#000" stroke-width="0.4">-1</text>
<text transform="translate(768.35 1327.2) scale(0.9801 1)" font-size="33.71" fill="#000" stroke="#000" stroke-width="0.4">2</text>
<text transform="translate(768.36 1387.3) scale(0.9696 1)" font-size="34.06" fill="#000" stroke="#000" stroke-width="0.4">1</text>
<text transform="translate(756.06 1506.7) scale(0.9672 1)" font-size="34.64" fill="#000" stroke="#000" stroke-width="0.4">-1</text>
<text transform="translate(492.85 1633.7) scale(0.9801 1)" font-size="33.71" fill="#000" stroke="#000" stroke-width="0.4">2</text>
<text transform="translate(492.86 1693.8) scale(0.9696 1)" font-size="34.06" fill="#000" stroke="#000" stroke-width="0.4">1</text>
<text transform="translate(480.56 1813.2) scale(0.9672 1)" font-size="34.64" fill="#000" stroke="#000" stroke-width="0.4">-1</text>
<text transform="translate(768.35 1633.7) scale(0.9801 1)" font-size="33.71" fill="#000" stroke="#000" stroke-width="0.4">2</text>
<text transform="translate(768.36 1693.8) scale(0.9696 1)" font-size="34.06" fill="#000" stroke="#000" stroke-width="0.4">1</text>
<text transform="translate(756.06 1813.2) scale(0.9672 1)" font-size="34.64" fill="#000" stroke="#000" stroke-width="0.4">-1</text>
<text transform="translate(819.07 1309.27) scale(0.9534 1)" font-size="32.86" fill="#000" stroke="#000" stroke-width="0.4">***</text>
<text transform="translate(863.81 1309.27) scale(1.0522 1)" font-size="32.86" fill="#000" stroke="#000" stroke-width="0.4">*</text>
<text transform="translate(884.78 1309.27) scale(0.9400 1)" font-size="32.86" fill="#000" stroke="#000" stroke-width="0.4">***</text>
<text transform="translate(974.66 1309.27) scale(0.9706 1)" font-size="32.86" fill="#000" stroke="#000" stroke-width="0.4">**</text>
<text transform="translate(282.94 1604.26) scale(0.9831 1)" font-size="33.71" fill="#000" stroke="#000" stroke-width="0.4">*</text>
<text transform="translate(350.1 1604.26) scale(1.0339 1)" font-size="33.71" fill="#000" stroke="#000" stroke-width="0.4">*</text>
<text transform="translate(372.35 1604.26) scale(0.9620 1)" font-size="33.71" fill="#000" stroke="#000" stroke-width="0.4">**</text>
<text transform="translate(553.09 1604.19) scale(1.1222 1)" font-size="31.43" fill="#000" stroke="#000" stroke-width="0.4">**</text>
<text transform="translate(823.13 1604.29) scale(1.1028 1)" font-size="30.57" fill="#000" stroke="#000" stroke-width="0.4">*</text>
<text transform="translate(948.18 1625.2) scale(0.9952 1)" font-size="34.20" fill="#000" stroke="#000" stroke-width="0.4">Hits</text>
<text transform="translate(949.18 1664.3) scale(0.9713 1)" font-size="33.77" fill="#a10035" stroke="#a10035" stroke-width="0.4">Misses</text>
<text transform="translate(801.26 1910.7) scale(0.9826 1)" font-size="33.62" fill="#000" stroke="#000" stroke-width="0.4">Frequency (Hz)</text></svg></body></html>
